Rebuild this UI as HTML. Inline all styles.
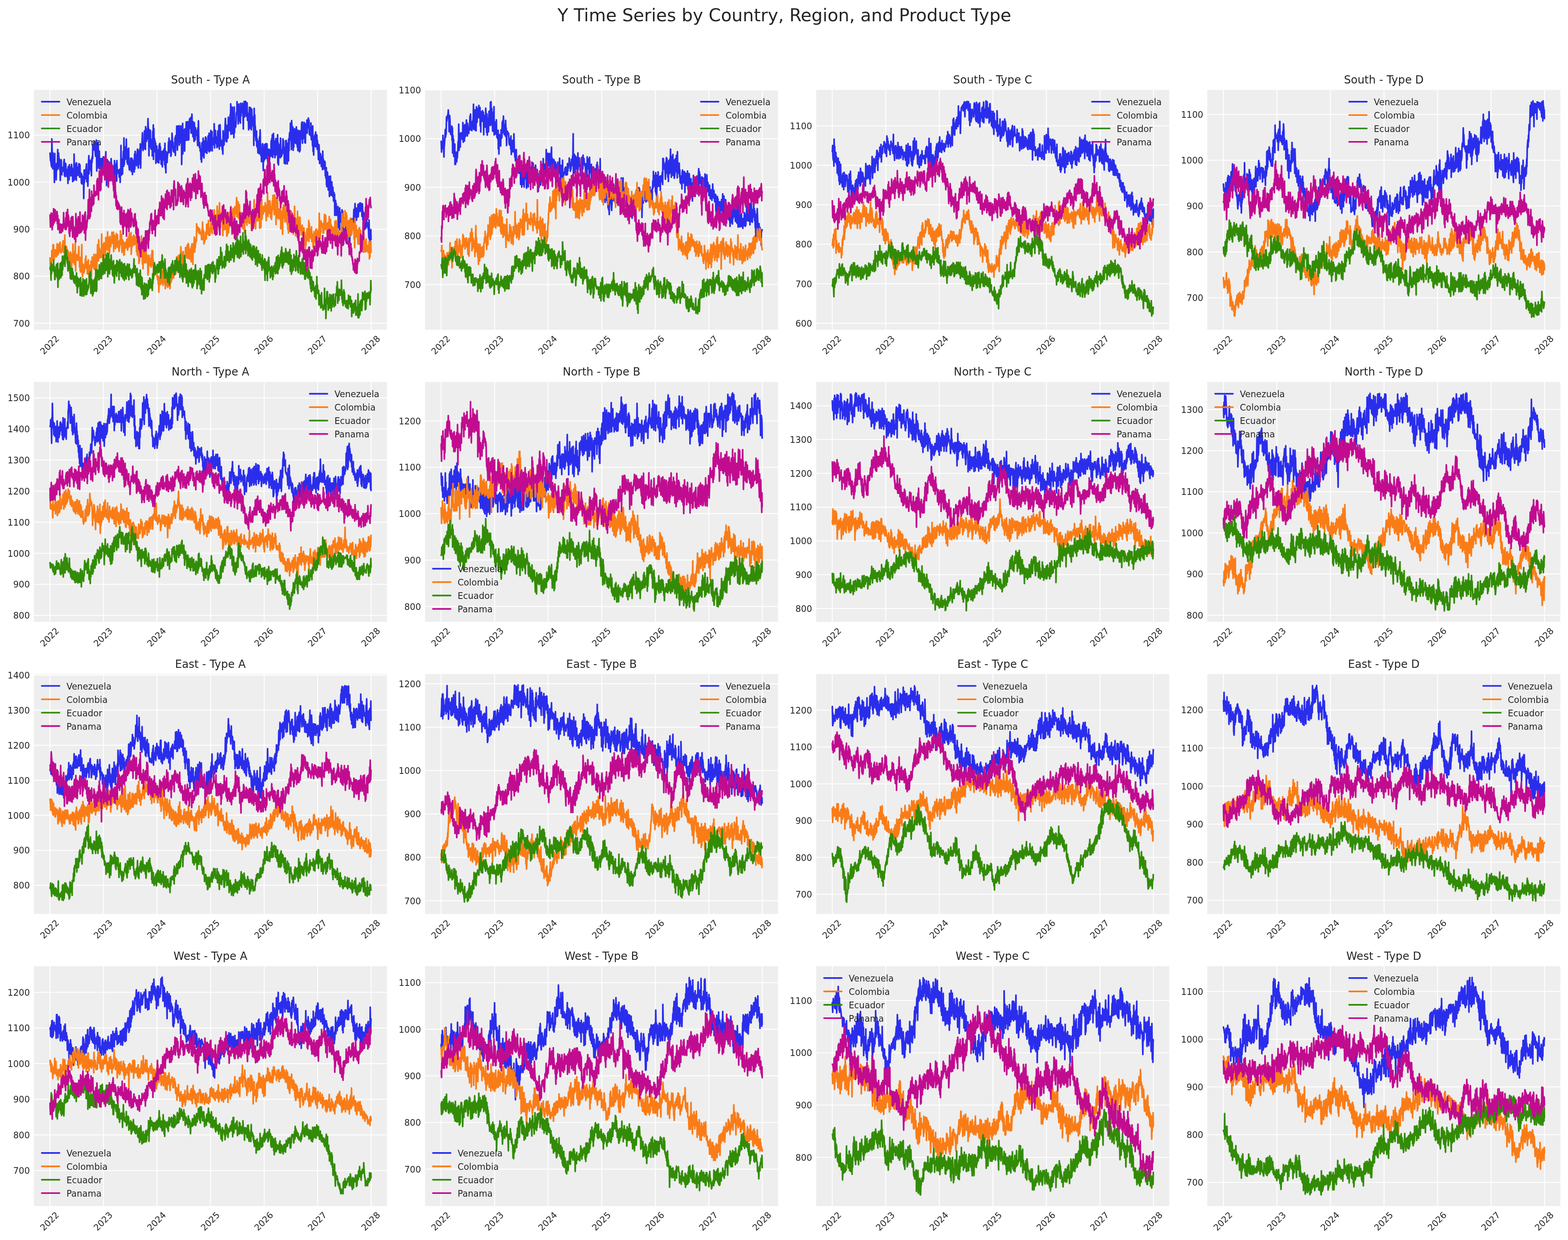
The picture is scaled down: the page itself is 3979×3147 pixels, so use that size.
<!DOCTYPE html><html><head><meta charset="utf-8"><title>Y Time Series by Country, Region, and Product Type</title>
<style>html,body{margin:0;padding:0;background:#fff}svg{display:block}text{font-family:'DejaVu Sans','Liberation Sans',sans-serif;fill:#262626}.t8{font-size:22.222px}.t10{font-size:27.778px}.t16{font-size:44.444px}.g{stroke:#fff;stroke-width:2.222;fill:none}.s{fill:none;stroke-width:8.333;stroke-linejoin:round;stroke-linecap:round}.h{fill:none;stroke-width:4.167;stroke-linecap:round}.e{text-anchor:end}.m{text-anchor:middle}</style></head><body>
<svg xmlns="http://www.w3.org/2000/svg" width="3979" height="3147" viewBox="0 0 3979 3147">
<rect width="3979" height="3147" fill="#fff"/>
<text class="t16 m" x="1990.5" y="53.9">Y Time Series by Country, Region, and Product Type</text>
<g>
<rect x="86.00" y="228.00" width="895.85" height="608.85" fill="#eeeeee"/>
<path class="g" d="M126.87 228.00v608.85M262.65 228.00v608.85M398.44 228.00v608.85M534.59 228.00v608.85M670.38 228.00v608.85M806.16 228.00v608.85M941.94 228.00v608.85M86.00 820.06h895.85M86.00 700.79h895.85M86.00 581.53h895.85M86.00 462.26h895.85M86.00 343.00h895.85"/>
<g transform="translate(86.00 228.00) scale(.5)">
<path class="s" stroke="#2a2eec" d="M82 321l2 38 1-8 2 20 1 9 2 11 1-142 2 85 1 32 2 35 1-81 1 59 2-2 1 16 2-27 1 104 2-147 1 122 2-47 1 10 2-21 1 70 2-83 1 32 2 0 1-12 2-91 1 97 2-64 1-16 2 32 1-3 2 2 1 54 2-19 1 74 2-103 1 13 2-15 1 48 2 28 1-24 2-14 1 22 2-15 1-2 2 4 1-37 2-12 1 83 2-20 1 24 1-36 2-31 1 7 2 49 1-14 2 25 1-36 2 21 1-19 2 69 1-85 2 60 1-8 2 14 1-76 2 36 1-11 2-11 1 5 2 38 1-9 2-50 1 11 2 11 1-2 2 68 1-54 2 48 1-27 2 27 1-134 2 120 1 8 2-8 1-56 2 38 1-52 2 83 1-89 2 25 1 19 1 5 2-26 1 42 2-34 1 20 2-46 1 37 2-36 1 67 2-62 1 54 2 8 1-12 2-8 1 50 2-44 1 49 2-18 1 16 2-36 1 35 2-19 1 96 2-145 1 65 2-42 1 23 2-11 1-36 2-1 1-8 2-21 1 89 2-38 1 42 2-23 1 43 2-77 1-39 2-39 1 92 2-70 1 17 1 15 2 10 1-35 2 46 1-50 2 77 1-86 2 19 1-30 2 10 1-70 2 27 1-14 2-15 1-13 2 28 1 14 2-18 1 23 2 26 1-51 2 38 1-69 2 157 1-66 2 52 1-122 2 93 1-103 2 83 1-8 2 58 1-88 2 77 1-32 2 47 1-25 2 10 1-39 2 70 1-70 1 33 2 0 1 29 2-25 1-42 2-4 1 75 2-23 1 17 2-58 1 59 2-34 1 10 2-72 1 129 2-42 1 85 2-131 1-1 2 22 1 51 2-65 1 87 2-38 1-3 2 31 1 12 2-64 1 48 2-52 1 38 2-72 1 19 2 12 1 13 2-5 1 49 2-42 1 25 2-3 1 1 2-29 1 89 1-119 2 96 1-70 2 79 1-75 2 6 1-20 2 88 1-104 2 59 1-4 2-2 1-5 2 17 1-4 2 4 1 19 2-39 1 17 2 49 1-70 2 23 1-141 2 151 1-6 2-8 1-32 2 40 1-77 2 0 1-38 2 76 1-144 2 134 1-58 2 35 1-28 2 24 1-62 2 49 1-88 1 89 2-40 1 69 2-60 1 70 2-49 1 1 2-34 1 86 2 17 1 8 2-34 1 11 2-8 1-29 2 14 1 53 2-44 1-23 2 6 1 77 2-58 1 12 2 2 1-23 2-6 1 60 2-91 1 77 2-91 1 70 2-29 1 26 2-17 1 23 2-60 1-2 2-22 1 18 2 20 1 58 2-87 1 69 1-52 2 43 1-69 2 69 1-96 2 123 1-72 2-35 1-4 2 5 1-31 2-42 1 56 2 34 1-37 2-7 1 20 2 14 1-90 2 59 1-39 2 75 1-116 2 48 1 13 2 13 1-44 2 32 1-51 2-5 1-47 2 72 1-23 2 140 1-132 2 84 1-22 2-18 1-42 2 89 1-41 1 48 2-8 1 7 2-49 1 85 2-125 1 80 2-113 1 175 2-156 1 83 2-33 1 67 2-55 1 55 2-43 1 102 2-55 1 1 2-33 1 68 2-40 1 54 2-43 1-11 2-11 1 68 2-91 1 70 2-78 1 62 2-45 1 66 2-34 1 57 2-65 1 31 2-1 1 48 2-74 1 5 1-13 2 47 1-50 2 15 1-23 2 83 1-110 2 126 1-30 2 54 1-108 2 28 1-24 2 52 1-25 2-22 1-4 2 3 1-56 2 2 1-22 2 72 1-32 2-16 1-10 2 28 1 50 2-8 1-59 2 23 1-73 2 29 1 36 2-19 1 42 2 5 1-25 2 29 1 0 2-21 1-52 2 89 1-100 1 40 2-24 1 22 2-87 1 62 2 60 1-24 2-98 1 66 2-50 1 35 2-53 1 99 2-52 1 40 2-8 1-22 2-56 1 86 2-42 1 152 2-135 1 48 2-122 1 155 2-84 1-9 2-22 1 9 2-19 1 111 2-113 1 43 2-3 1 18 2-93 1 93 2-1 1-49 2 16 1 33 1-94 2 68 1-59 2 84 1-55 2-2 1-50 2 24 1-25 2 20 1-26 2 80 1-73 2 25 1-49 2 72 1-9 2 52 1-76 2 65 1 5 2 30 1-96 2 36 1 31 2 21 1-62 2 22 1-10 2 26 1-19 2 19 1 3 2 50 1-90 2 36 1-72 2 104 1 5 2 26 1-25 2 17 1 27 1-9 2 14 1 38 2-55 1 68 2-99 1 60 2-14 1 1 2-70 1 93 2-19 1 27 2-86 1 34 2 22 1-1 2-76 1 69 2-64 1 75 2-6 1 9 2-59 1 18 2 6 1-53 2 44 1 31 2-89 1 95 2-84 1 47 2 21 1 10 2-103 1 28 2-6 1 17 2-33 1 98 1-50 2-16 1 23 2 11 1-35 2 15 1-86 2 123 1-69 2 24 1-45 2 44 1-12 2 37 1-12 2 31 1-47 2 44 1-81 2 77 1-60 2 19 1-65 2 121 1-83 2 47 1-88 2 90 1 17 2 0 1-29 2 19 1 6 2 25 1-9 2 30 1-118 2 75 1-60 2 56 1-16 1-3 2-47 1-17 2-51 1 39 2-6 1 83 2-76 1 79 2-46 1 17 2-57 1 67 2-106 1 66 2-7 1-29 2-3 1 42 2-82 1 80 2-135 1 155 2-104 1 52 2-87 1 133 2-131 1 135 2-111 1 66 2-66 1 130 2-156 1 131 2-54 1 12 2-3 1 16 2-25 1-42 2-9 1 7 1-60 2 61 1-22 2 31 1 43 2-77 1-24 2 86 1-48 2 41 1-19 2 37 1-101 2 65 1-50 2 19 1 2 2 6 1-42 2 51 1 3 2 77 1-124 2 49 1-65 2 79 1-62 2-6 1-12 2 42 1-39 2 73 1-24 2-41 1-3 2 89 1-37 2 19 1 1 2 65 1-73 1 26 2-68 1 87 2-50 1 71 2-105 1 43 2 3 1 66 2-105 1 46 2 11 1-5 2-13 1 49 2-5 1 101 2-188 1 135 2-102 1 49 2 14 1 45 2 23 1-22 2-27 1 77 2-38 1 44 2-24 1 52 2-60 1 54 2-55 1 65 2-85 1 58 2-94 1 36 2 93 1-11 2-11 1 55 1-51 2 47 1-85 2-2 1 10 2 125 1-108 2 62 1-69 2 61 1-78 2 74 1-48 2-25 1-5 2 72 1 1 2-21 1-51 2 75 1 6 2 19 1-67 2 11 1-17 2 87 1-19 2-45 1 17 2-37 1 0 2 30 1-75 2 78 1-89 2 24 1-44 2 115 1-55 2-19 1-48 1 63 2 12 1 33 2-69 1 85 2-87 1 77 2-88 1 57 2-24 1 48 2-66 1 63 2-97 1 144 2-103 1 112 2-101 1 32 2 26 1-18 2-43 1 68 2-100 1 96 2-34 1 32 2-35 1 27 2-25 1 15 2-72 1 57 2-48 1 63 2-30 1 82 2-58 1-3 2-19 1 83 1-118 2 65 1-66 2 47 1-14 2 86 1-96 2 47 1-57 2 91 1-112 2 60 1-59 2-33 1 12 2 26 1-86 2 72 1-6 2 68 1-147 2 36 1 14 2 6 1-24 2 119 1-35 2 18 1-60 2-24 1-9 2 53 1-11 2 32 1-57 2 25 1-51 2 87 1-25 2 40 1-86 2 105 1-99 1 87 2-8 1-15 2-67 1 108 2-81 1 75 2-78 1-2 2-24 1 45 2-83 1 65 2-69 1 108 2-65 1 23 2-32 1 50 2-82 1 81 2-77 1 99 2-33 1 35 2-96 1 40 2-33 1 1 2-29 1 67 2-64 1 37 2-18 1-32 2 48 1-38 2 71 1 4 2-2 1-26 1 2 2 32 1-66 2 85 1-56 2 31 1-12 2 68 1-101 2 130 1-72 2 90 1-95 2 29 1-31 2 47 1-55 2 63 1-75 2 74 1-50 2 20 1-29 2 73 1-45 2 28 1-10 2 79 1-63 2-12 1 22 2 73 1-35 2 18 1-34 2 10 1 12 2 44 1-49 2 25 1-1 2 41 1-94 1 40 2 0 1 30 2 14 1 7 2-23 1-17 2 9 1 65 2-40 1 53 2-54 1 84 2 13 1-22 2-53 1 20 2 7 1 65 2-62 1 10 2-18 1 102 2-24 1-5 2-74 1 64 2-31 1 64 2-60 1-8 2 48 1 24 2-45 1 14 2 37 1 20 2-44 1 34 2-25 1 107 1-38 2 4 1-42 2 75 1-60 2 61 1-42 2 39 1-10 2 12 1-44 2 108 1-42 2 19 1-31 2 65 1-112 2 74 1-24 2 21 1-38 2 14 1-24 2 98 1-111 2 66 1-59 2 106 1-20 2 38 1-17 2 13 1-23 2 28 1-34 2 33 1-55 2 24 1 66 2 4 1-102 1 41 2-24 1 17 2 33 1 3 2 6 1 2 2-18 1 89 2-29 1-77 2-17 1 34 2-50 1 47 2-79 1 66 2-51 1 3 2 8 1-7 2-22 1 15 2-60 1 65 2-59 1 11 2-47 1 79 2-52 1-4 2 11 1 51 2-61 1 47 2-13 1-16 2-38 1 63 2-34 1-10 2-18 1 14 1-21 2 42 1-29 2-14 1 39 2 0 1-34 2 33 1 30 2-64 1 26 2 57 1-43 2 33 1-20 2-5 1 59 2 24 1-67 2 45 1 3 2 12 1-87 2 13 1 41 2 24 1-16 2-2 1 19 2 11 1-1 2 48 1-91 2 99 1 0 2 10 1-46 2 3 1-18 1 51"/>
<path class="s" stroke="#fa7c17" d="M82 853l2 48 1-31 2 19 1-16 2-6 1-52 2 32 1-3 2 18 1-76 1 79 2-78 1 61 2 14 1-13 2-8 1-23 2-6 1 14 2-3 1 24 2-3 1-22 2-41 1 48 2-7 1 16 2-52 1 45 2-9 1-14 2-28 1 24 2-31 1 34 2 16 1 4 2-3 1-14 2 7 1-10 2-21 1 16 2-36 1 57 2-38 1 17 2-10 1 39 2-94 1 112 1-40 2 36 1-47 2 56 1-60 2 67 1-6 2-45 1 40 2 41 1-72 2 44 1-36 2 28 1-8 2 82 1-90 2 28 1-44 2 37 1 4 2 41 1-21 2-12 1-38 2 41 1-92 2 71 1 14 2-17 1 18 2 16 1-63 2 3 1-50 2 145 1-66 2 7 1-22 2 25 1-28 1 12 2 17 1-2 2-15 1-6 2-47 1 63 2 12 1 30 2-34 1 53 2-69 1 75 2-68 1 25 2-97 1 124 2 24 1 16 2-64 1 25 2-17 1 37 2-31 1 25 2-39 1 17 2-44 1 38 2-53 1 59 2 6 1-21 2-15 1 62 2-44 1 34 2-61 1 73 2-39 1 58 2-30 1 0 1-34 2 22 1-24 2 17 1-37 2 81 1-68 2 19 1-53 2 15 1-6 2 26 1-17 2 39 1-70 2 76 1-53 2 51 1-5 2 0 1-69 2 53 1-16 2 49 1-64 2 7 1-78 2 82 1-24 2 24 1-107 2 81 1-39 2 10 1-1 2 41 1-38 2-1 1 12 2-6 1-88 1 118 2-54 1 24 2 3 1 69 2-110 1 90 2-96 1 42 2-19 1 26 2-27 1 45 2-94 1 59 2 4 1-52 2 38 1 5 2-82 1 48 2 48 1-49 2-18 1 47 2-1 1 32 2-84 1 15 2 19 1 18 2-32 1 12 2-11 1-42 2 23 1 33 2-47 1 37 2-47 1 99 2-84 1 49 1-27 2 2 1-20 2 65 1-40 2 23 1-60 2 60 1-33 2 42 1-63 2 64 1-25 2-5 1 12 2 39 1-12 2-11 1-33 2 23 1-71 2 54 1-32 2 37 1-40 2 90 1-27 2 6 1-42 2 43 1-34 2 68 1-49 2 47 1-57 2-4 1 28 2-5 1-23 2 23 1 1 1-30 2-12 1 37 2 18 1-1 2-18 1-45 2-1 1 49 2-69 1 68 2-41 1 16 2 13 1 5 2-64 1 110 2-49 1 15 2-53 1 39 2-9 1 10 2-46 1 48 2-53 1 40 2-27 1 12 2 16 1 7 2-41 1 39 2-27 1 65 2-71 1 83 2 7 1-2 2-46 1 53 2-74 1 110 1-87 2 77 1-91 2 69 1-56 2 38 1-37 2 38 1-91 2 108 1-53 2 88 1-61 2 85 1-97 2 44 1-71 2 93 1-26 2 0 1-57 2 84 1-49 2 17 1-20 2 37 1-24 2 39 1-1 2 10 1 54 2-22 1-79 2 32 1-31 2 51 1-37 2 36 1-25 2 26 1-4 1 12 2-64 1 45 2-66 1 69 2-66 1 74 2-26 1 75 2-31 1-23 2-10 1 24 2 7 1 22 2-9 1-9 2-12 1 27 2-12 1 30 2 9 1 10 2-17 1 39 2-40 1 81 2-51 1-10 2-1 1-9 2 32 1-5 2-2 1-36 2-33 1 43 2 22 1 3 2-44 1 56 1-76 2 27 1-39 2 60 1 1 2 19 1-54 2 79 1-30 2-36 1-2 2 52 1-13 2 1 1-36 2 57 1-62 2 55 1-69 2 10 1-29 2 92 1-87 2 97 1-56 2 17 1 9 2-7 1-21 2 14 1-21 2-29 1-15 2 17 1-4 2 43 1-26 2 2 1-44 2 19 1-23 2 32 1-50 1 68 2-55 1-3 2-29 1 42 2-29 1 29 2-34 1 39 2-54 1 62 2-53 1 78 2-54 1 2 2-19 1-6 2-54 1 43 2 21 1-36 2 4 1 62 2-58 1 36 2-47 1 56 2-3 1 15 2-24 1 7 2-25 1 8 2-55 1 53 2-38 1 20 2-13 1-22 2-14 1 69 1-12 2-40 1-23 2 18 1 23 2 38 1-51 2 18 1-17 2 25 1-13 2 52 1-77 2 63 1-77 2 42 1-33 2 95 1-82 2-16 1-10 2 19 1-50 2 77 1-48 2 25 1-18 2-12 1-19 2 14 1-86 2 36 1-8 2-1 1-11 2 13 1 7 2 10 1-23 2 20 1-18 2 27 1-2 1-1 2-7 1 2 2 1 1 35 2-51 1 51 2-89 1 61 2-25 1 52 2-42 1 65 2-18 1 9 2-12 1-11 2-5 1-22 2-1 1 35 2-75 1 47 2-3 1 3 2-48 1 33 2-51 1 76 2-37 1 23 2-11 1 24 2-28 1-5 2-25 1-7 2-17 1 48 2 23 1 2 1-89 2 68 1-61 2 9 1 4 2-45 1-6 2 79 1-46 2 23 1-16 2 14 1-15 2 66 1-81 2 35 1-78 2 63 1-24 2 62 1-62 2 36 1-45 2-15 1-32 2 64 1-14 2 77 1-50 2 19 1-16 2 14 1 1 2 3 1-35 2 104 1-61 2-9 1-31 2 72 1-42 1 20 2-42 1 30 2 11 1 20 2-43 1 43 2-56 1 91 2-96 1 90 2-103 1 29 2-39 1 102 2-95 1 71 2-42 1-4 2-39 1 66 2-39 1-52 2 53 1 51 2-59 1 97 2-120 1 105 2-118 1 55 2 10 1-61 2 57 1 12 2-81 1 33 2-19 1 22 2-26 1-4 2-52 1 97 1-81 2 75 1-34 2 9 1-44 2 83 1-61 2 56 1-65 2 75 1-9 2 15 1 27 2 3 1-70 2 38 1-24 2 60 1 4 2-23 1-24 2 51 1-62 2 57 1-80 2 104 1-86 2 35 1-68 2 61 1-40 2 27 1-4 2 38 1-36 2 19 1-34 2 6 1 9 2 12 1-38 1 53 2-91 1 90 2-33 1 11 2-38 1 49 2-1 1 48 2-27 1-29 2-28 1 67 2-85 1 33 2-8 1 33 2-111 1 136 2-3 1-14 2-46 1 75 2-88 1 51 2-14 1-41 2-2 1 52 2-46 1 33 2-58 1 69 2-57 1 56 2-38 1 80 2-69 1 18 2-80 1 127 2-122 1 64 1-84 2 99 1-23 2-16 1-21 2 35 1-39 2 14 1-15 2 11 1 5 2 12 1-46 2 29 1-8 2 70 1-56 2-17 1-8 2 17 1-78 2 121 1-29 2 3 1-49 2 59 1-64 2 56 1-55 2 34 1 50 2-3 1-50 2 63 1-25 2-18 1-52 2 44 1-69 2-3 1 0 1 41 2-22 1 80 2-100 1 69 2-57 1 49 2-43 1 132 2-135 1 57 2-55 1 67 2-54 1 86 2-44 1 49 2-14 1-29 2-8 1 25 2 15 1 12 2-49 1 99 2-69 1-19 2-1 1 37 2-22 1 101 2-136 1 58 2-71 1 53 2-21 1-12 2-15 1 81 2-90 1 88 1-16 2-18 1-26 2 53 1-2 2 23 1-77 2 105 1-84 2 101 1-86 2 42 1-60 2 63 1-47 2 66 1-54 2 6 1-42 2 54 1-49 2 59 1-41 2 80 1-73 2 88 1-25 2 11 1-39 2 8 1-97 2 104 1-19 2 65 1-80 2 53 1-61 2 76 1-74 2 41 1-80 2 131 1-103 1 47 2-7 1 39 2 11 1 4 2-92 1 19 2 38 1-5 2 15 1-4 2 27 1-45 2-4 1 45 2-16 1 47 2-63 1 91 2-89 1 86 2-64 1 21 2 0 1 65 2-44 1 22 2-49 1 0 2-34 1 60 2-24 1-20 2-14 1 56 2-100 1 107 2-93 1 72 2-33 1 34 1-43 2 43 1-10 2 16 1-61 2 76 1-39 2 22 1-11 2 55 1-63 2 71 1-86 2 45 1-26 2 31 1-22 2 6 1-44 2 88 1-92 2 38 1-24 2 48 1-48 2-4 1 27 2 34 1-68 2 27 1-110 2 88 1 6 2 36 1-55 2 20 1-56 2 33 1-18 2-3 1 2 2 13 1-3 1 37 2-45 1 46 2-31 1-24 2-40 1 15 2 36 1 26 2-72 1 63 2-23 1 15 2-13 1 54 2-49 1 65 2-76 1 30 2-11 1 31 2-80 1 97 2-76 1 35 2-42 1 42 2-16 1 41 2-33 1 57 2-41 1 33 2-43 1 14 2-12 1 20 2 7 1-4 2 21 1-7 1-69 2 45 1-33 2 58 1-73 2 51 1-39 2 30 1 15 2 10 1-10 2 7 1-12 2 17 1 6 2-1 1 17 2-8 1-25 2 11 1-9 2-2 1-36 2 34 1-93 2 26 1 14 2 19 1-11 2 19 1-41 2-4 1 2 2 39 1-77 2 78 1-61 2 31 1-37 2 60 1-47 1 88 2-33 1 66 2-92 1 72 2-58 1 40 2-59 1 85 2-70 1 6 2-10 1-21 2 29 1 59 2-15 1 8 2-50 1-20 2 24 1 25 2-13 1-1 2-20 1 81 2-36 1 80 2-150 1 69 2-2 1 29 2-60 1 54 2-8 1 10 2-32 1 40 2 30 1-37 2-35 1 29 2-39 1 84 1-83 2 51 1-27 2-11 1 58 2 6 1 19 2-43 1 17 2 18 1-39 2 5 1-38 2 107 1-99 2 82 1-44 2 46 1 11 2 3 1-41 2 30 1-55 2 62 1-2 2 0 1-28 2 29 1-21 2 29 1-5 2 0 1-52 2 89 1-60 2 51 1-49 2 5 1-36 1 56"/>
<path class="s" stroke="#328c06" d="M82 903l2 12 1-18 2 69 1-88 2 55 1-44 2 28 1-29 2 28 1-16 1 0 2-35 1 56 2-18 1-6 2 66 1 0 2-51 1 9 2 17 1-36 2-16 1 60 2-45 1 55 2-76 1 122 2-90 1 31 2-27 1 47 2-22 1 9 2-68 1 50 2-53 1 75 2-77 1 44 2-49 1 70 2-98 1 69 2-28 1 2 2-36 1 18 2-28 1 41 2-29 1 43 1-101 2 64 1-10 2-8 1-27 2 38 1 11 2 17 1-30 2 69 1-10 2-4 1-24 2 9 1-18 2 43 1-20 2 63 1-8 2-20 1-25 2 57 1-4 2-3 1-48 2 51 1-34 2 25 1 15 2 12 1-32 2 25 1 13 2-4 1-20 2-6 1-7 2 50 1-66 2 42 1-13 1 72 2-78 1 53 2-23 1 3 2-25 1 36 2-29 1 16 2-24 1 85 2-91 1 69 2-23 1 44 2-34 1 38 2-69 1 16 2-35 1 22 2 35 1 31 2-44 1-10 2-28 1 69 2-33 1 39 2-63 1 56 2-74 1 79 2-23 1 7 2-6 1-3 2-22 1 15 2-20 1-9 2-45 1 41 1 1 2 3 1-54 2 110 1-32 2-20 1-21 2 74 1-66 2 78 1-76 2 66 1-53 2 4 1-23 2 59 1-37 2 2 1-35 2 66 1-108 2 75 1 37 2-10 1-96 2 31 1-33 2 23 1-3 2 9 1 21 2-40 1-37 2 71 1-55 2 34 1-10 2-19 1-31 2 80 1-77 1-2 2 23 1 35 2-23 1 23 2-99 1 89 2-16 1-51 2 11 1 61 2-59 1 29 2-50 1 65 2-80 1 47 2-42 1 49 2-63 1 121 2-84 1 37 2-70 1 66 2 36 1-4 2-64 1 46 2-52 1 31 2-53 1 21 2 36 1 17 2-38 1 65 2-45 1 51 2-78 1 58 2-33 1 88 1-23 2-55 1 9 2-7 1-16 2 47 1-10 2 21 1-80 2 54 1-50 2 46 1-38 2 10 1 1 2 75 1-93 2 33 1-42 2 66 1-34 2 13 1-3 2 42 1-71 2 74 1-42 2-24 1 24 2 52 1-73 2 38 1-28 2 71 1-85 2 46 1 7 2-4 1-17 2 46 1-64 1 46 2-33 1 6 2-31 1 54 2-6 1 16 2-42 1 58 2-79 1 31 2 2 1 12 2-20 1 32 2-28 1 5 2 13 1 22 2-9 1 4 2-41 1 23 2-15 1 2 2-60 1 45 2 9 1 16 2-35 1 19 2 2 1 33 2-17 1 60 2-72 1-11 2 70 1 17 2-55 1 48 2-3 1 14 1-66 2 54 1-45 2 40 1-66 2 89 1-9 2 17 1-63 2 91 1-86 2 53 1-8 2-5 1 16 2 52 1-61 2 33 1-53 2 79 1-5 2 1 1-43 2 2 1-30 2 12 1-9 2 60 1 1 2-24 1-5 2 21 1-73 2 46 1-9 2-14 1-36 2 50 1-13 2-30 1 34 1 10 2-29 1 19 2-5 1 27 2-85 1 49 2-50 1 27 2-69 1 54 2-65 1 36 2-26 1 48 2-35 1 11 2-10 1 24 2-31 1 7 2-17 1 24 2-22 1 40 2-34 1 32 2-53 1 44 2-23 1-3 2-16 1 80 2-66 1-19 2 12 1 18 2-62 1 67 2-33 1-3 1 17 2-6 1 9 2 41 1-35 2 61 1-97 2 60 1-13 2 23 1-14 2 39 1-17 2 5 1-12 2 47 1-26 2-27 1-20 2 38 1 14 2 33 1-90 2 36 1-11 2 29 1-29 2-12 1-26 2 44 1-48 2 36 1-50 2 45 1 4 2-4 1-2 2 27 1-47 2 48 1-72 2 5 1-2 1 49 2-33 1 19 2-50 1 62 2-13 1-32 2 26 1 28 2-8 1-11 2-38 1 43 2-6 1 46 2-116 1 41 2 27 1 17 2-35 1 61 2-13 1 25 2-16 1 31 2-77 1-3 2-9 1 65 2-109 1 72 2-49 1 67 2-19 1 42 2-70 1 97 2-50 1 33 2-48 1 31 1-24 2 75 1-74 2 28 1-16 2 38 1-61 2 26 1 28 2 11 1-61 2 40 1-51 2 42 1 45 2 12 1-86 2 70 1 7 2-43 1-39 2 66 1-57 2 11 1-18 2 2 1-30 2 75 1-7 2-38 1 6 2 85 1-84 2 67 1-30 2-9 1-36 2 67 1-51 2 43 1-13 2 30 1-86 1 103 2-44 1 7 2-53 1 115 2-62 1 32 2-25 1 35 2-51 1 19 2-27 1 61 2-79 1 5 2 11 1-1 2-60 1 61 2-35 1 33 2-58 1 64 2-41 1 46 2-76 1 32 2-25 1 25 2-33 1 89 2-58 1 37 2-42 1-16 2-9 1 14 2 12 1 8 2-43 1 53 1-49 2 50 1-59 2 45 1 3 2-18 1 11 2-23 1 12 2 73 1-62 2 42 1-44 2-4 1-2 2-30 1-15 2 37 1-25 2 62 1-1 2-34 1-53 2 60 1-58 2 34 1-17 2 24 1-90 2 49 1-9 2 35 1-50 2 80 1-34 2 3 1 9 2 13 1-17 2-4 1-29 1 57 2-26 1 19 2-18 1 15 2-76 1 48 2-81 1 82 2-27 1-9 2-36 1 71 2-41 1 30 2-33 1 53 2-13 1-18 2-22 1 23 2-55 1 75 2-60 1 28 2-11 1 6 2-15 1 40 2-75 1 18 2-2 1 79 2-24 1-8 2-36 1 21 2-42 1 24 2-33 1 61 2-29 1 1 1-77 2 120 1-70 2 17 1-34 2 81 1-27 2 38 1 0 2-22 1-66 2 54 1-78 2 103 1-46 2 23 1-40 2 26 1 6 2-40 1-49 2 108 1-65 2 6 1 20 2-7 1 23 2-23 1-76 2 119 1-90 2 69 1-49 2 40 1-20 2 36 1-45 2 70 1-57 2-23 1 31 1 39 2-54 1 52 2 18 1-35 2-27 1 45 2-30 1 55 2-33 1 23 2 18 1-38 2-34 1 58 2-47 1 40 2-49 1 8 2 26 1 28 2-47 1 78 2-53 1 1 2-37 1 70 2-32 1 59 2-74 1 41 2-46 1 58 2 3 1-33 2 34 1-3 2-42 1 39 2-18 1 33 2-20 1 2 1 20 2 26 1-77 2 40 1 8 2 16 1-34 2 38 1-19 2 28 1-58 2 110 1-104 2 44 1-10 2 18 1-5 2 26 1-62 2 94 1-48 2 4 1-57 2-4 1-13 2 51 1 14 2-1 1-6 2 46 1-53 2 3 1 8 2 33 1-50 2 12 1-6 2 62 1-47 2 33 1-43 1 13 2-26 1 14 2-5 1 21 2-46 1 56 2-36 1 1 2-49 1 80 2-82 1 37 2-27 1 76 2-93 1 73 2-50 1 44 2-55 1 44 2-28 1 12 2-46 1 18 2-36 1 29 2-47 1 97 2-61 1 70 2-77 1 65 2-6 1-6 2-11 1-12 2-28 1 45 2-49 1 46 1-65 2 58 1-45 2 57 1-36 2 20 1-33 2 49 1-35 2 44 1-62 2 55 1-31 2 34 1-71 2 110 1-45 2 8 1-44 2 97 1-64 2 53 1-62 2 46 1-22 2 29 1-56 2 19 1-43 2 60 1-22 2 24 1-52 2 73 1-38 2 7 1-71 2 74 1-24 2-14 1 64 2-3 1-63 1 77 2-88 1 46 2-14 1 29 2-25 1 2 2 57 1-6 2-53 1 0 2 56 1-32 2-41 1 43 2-47 1 81 2-46 1 37 2-46 1-4 2 37 1 47 2-64 1 63 2-32 1-1 2-21 1 28 2-18 1 30 2-35 1 44 2-54 1 52 2-5 1-32 2 25 1 22 2-35 1 59 1-38 2 60 1-21 2 36 1-75 2 70 1-52 2 43 1-32 2 16 1-20 2 44 1-16 2 21 1-5 2 33 1-20 2-19 1-17 2 67 1-51 2 4 1-67 2 82 1-39 2 43 1-7 2-2 1-7 2 74 1-56 2 33 1-25 2 28 1-28 2 63 1-48 2 18 1-47 2 73 1-12 2 8 1 2 1 17 2-8 1 2 2-20 1 21 2-106 1 95 2-41 1 38 2-20 1 82 2-81 1-7 2-49 1 60 2-59 1 46 2 9 1 38 2-54 1-8 2 3 1 49 2-70 1 52 2-6 1-19 2 26 1 31 2-81 1 51 2 10 1-16 2-30 1 21 2-40 1 22 2 23 1 19 2-31 1 9 1 4 2 11 1-58 2 2 1-2 2 6 1-44 2 47 1-71 2 109 1-75 2 28 1-1 2 34 1-38 2-18 1 0 2 29 1-11 2 8 1-2 2 6 1-77 2 96 1-40 2 58 1-28 2 43 1-67 2 53 1-66 2 70 1-59 2 46 1 3 2-5 1 29 2 2 1-5 2 8 1 3 1-38 2 7 1 30 2-12 1 17 2-69 1 46 2-14 1-25 2 6 1-3 2-3 1 53 2-13 1-4 2-17 1 83 2-47 1 26 2-44 1 34 2-9 1 22 2-12 1-21 2-19 1 39 2-7 1 7 2-52 1 75 2-42 1 29 2 12 1-22 2 4 1 24 2-112 1 121 2-63 1 63 2-20 1 4 1-54 2 56 1-70 2 14 1-15 2 10 1-16 2 55 1-17 2-16 1-60 2 38 1-5 2-18 1 22 2-16 1-19 2 15 1-23 2 94 1-84 2 80 1-68 2 30 1-8 2-25 1-10 2 27 1-11 2-3 1-10 2 23 1-31 2 15 1-12 2 62 1-51 2-12 1-60 1 51"/>
<path class="s" stroke="#c10c90" d="M82 635l2 62 1-49 2 35 1-58 2 19 1 28 2 38 1-33 2-25 1-25 1 60 2-84 1 68 2 4 1-17 2-50 1 32 2-29 1 54 2-22 1-16 2 21 1 3 2-33 1 62 2-43 1 72 2-19 1 11 2-43 1 47 2-20 1 41 2 0 1-41 2-4 1 44 2-35 1 34 2-40 1 26 2-7 1 14 2-36 1 22 2-80 1 58 2 16 1-16 2-1 1-5 1 34 2-50 1-11 2 60 1-86 2 75 1-59 2 53 1-84 2 77 1-49 2 10 1 9 2 76 1-54 2 68 1-64 2 38 1-53 2 39 1-55 2 40 1 16 2-62 1 68 2 37 1-104 2 93 1-45 2 19 1-14 2 60 1-41 2 36 1-8 2 28 1-144 2 117 1-91 2 89 1-11 1 12 2-29 1 20 2-91 1 45 2-13 1 49 2-68 1 71 2-108 1 91 2-38 1 51 2-50 1 45 2-30 1 26 2-36 1-43 2 41 1 30 2-48 1-6 2-12 1 86 2-98 1 46 2-55 1 143 2-93 1 42 2-48 1 37 2-35 1 5 2-34 1 15 2-95 1 97 2-66 1 35 2-117 1 147 1-75 2 65 1-95 2 12 1 7 2 50 1-103 2 63 1-44 2 27 1 27 2-54 1 2 2 44 1-95 2 52 1-20 2 10 1 13 2-2 1-8 2-14 1 5 2 13 1-73 2 20 1-30 2 39 1-20 2 89 1-77 2 26 1-96 2 2 1 20 2 79 1-62 2 57 1-114 2 29 1 47 1-53 2 0 1 16 2-30 1 14 2-35 1 26 2-62 1 92 2-33 1 53 2-120 1 61 2-61 1 73 2-45 1 88 2-61 1-18 2-2 1 35 2 22 1 65 2-123 1 56 2-60 1 83 2-74 1 86 2-28 1-11 2-47 1 61 2 15 1 9 2-35 1 29 2-70 1 95 2 8 1 25 2-56 1 90 1-110 2 46 1-50 2 93 1-7 2 69 1-52 2 40 1 27 2-11 1-28 2 43 1-5 2-29 1 23 2-14 1 4 2 20 1-14 2 82 1-54 2 63 1-82 2 65 1-71 2 44 1-6 2 66 1-73 2 106 1-33 2-18 1-69 2 80 1-64 2 47 1-43 2 33 1-12 2 45 1-68 1 113 2-77 1-16 2-29 1 43 2-56 1 90 2-69 1 91 2-106 1 53 2-28 1 0 2-35 1 93 2-7 1 0 2-65 1 19 2 8 1 13 2-10 1 6 2 32 1 1 2-2 1-29 2-32 1 33 2-35 1 59 2-29 1 69 2-58 1 66 2-40 1 55 2-46 1 70 2-68 1 50 2 19 1 34 1-65 2 29 1 23 2 27 1-35 2 58 1-35 2-26 1-12 2 23 1-17 2 26 1-28 2-12 1-9 2 7 1-14 2 69 1-47 2-18 1 14 2-9 1-43 2 102 1-21 2-21 1-9 2-51 1 1 2 13 1-6 2 80 1-91 2 51 1-54 2 18 1-55 2 12 1-22 2 0 1-31 1 26 2-30 1 86 2-27 1 43 2-68 1 17 2 0 1 4 2 27 1-38 2-9 1 16 2-68 1 131 2-102 1 34 2-6 1 20 2-46 1 39 2-43 1 17 2-20 1 5 2-33 1 72 2-67 1 3 2-44 1 67 2-26 1 10 2-39 1 56 2-100 1 46 2 10 1 8 2-50 1 97 1-99 2 71 1-43 2 79 1-78 2 18 1-41 2 2 1-30 2 69 1-51 2 54 1-87 2 93 1-97 2 20 1 10 2 42 1-45 2 27 1-43 2 24 1-4 2 58 1-38 2 31 1-38 2 37 1-82 2 54 1-48 2 54 1-13 2-30 1-18 2 100 1-120 2-26 1 28 2 44 1-24 2 28 1-34 1 83 2-27 1 10 2 4 1 11 2-10 1-13 2-93 1 95 2-72 1 34 2-48 1 32 2-19 1 49 2-47 1 74 2-70 1 71 2-81 1 74 2-61 1 53 2 13 1 2 2-9 1 23 2-72 1 34 2 3 1 1 2-27 1 18 2-20 1 74 2-111 1 97 2-104 1 37 2 24 1-45 1-41 2 144 1-97 2 49 1-67 2 4 1 0 2 29 1-39 2 88 1-81 2 45 1-46 2 69 1-51 2 13 1-62 2 60 1-15 2 2 1-65 2 87 1-59 2-8 1 23 2 25 1-72 2 126 1-87 2 14 1-4 2 19 1-38 2 71 1-43 2-2 1-70 2 80 1-61 2 74 1-25 2-42 1 6 1 32 2 0 1 69 2-24 1 4 2-50 1 45 2-2 1 19 2 33 1 10 2-13 1 33 2-75 1 48 2-52 1 54 2 12 1-15 2-36 1 29 2 8 1 3 2 21 1-15 2 24 1 6 2 11 1 16 2 1 1-14 2-9 1 18 2-26 1 57 2-28 1-19 2 0 1 16 2-24 1 48 1-30 2 54 1-6 2-37 1 9 2 56 1-39 2 64 1-81 2 44 1-56 2 100 1-46 2 11 1-7 2 38 1-67 2 11 1 6 2 4 1-50 2 40 1 3 2 31 1-3 2 28 1-103 2 6 1 29 2-16 1-5 2 10 1-33 2 2 1-35 2 21 1-2 2 70 1-96 2 58 1-8 1-1 2 9 1-8 2-25 1 38 2 7 1-9 2-9 1 40 2-17 1-37 2 25 1 22 2-25 1 9 2 16 1-3 2-5 1 25 2-31 1 29 2-88 1 94 2-66 1 63 2-42 1 85 2-53 1 32 2-36 1 16 2 7 1 33 2-72 1 96 2-99 1 41 2 65 1-36 2-12 1 27 2-73 1 44 1-26 2 41 1-41 2 51 1-31 2 6 1-24 2 23 1 3 2 12 1-99 2 68 1-20 2 5 1-39 2 52 1-33 2 14 1-46 2 6 1-2 2 44 1-22 2-45 1-27 2 14 1 5 2 54 1-43 2 38 1-136 2 106 1-99 2 116 1-78 2 23 1 5 2 18 1 2 2 37 1-46 1 38 2-32 1 26 2-62 1 58 2-8 1 12 2 2 1 21 2-2 1 65 2-96 1-10 2 14 1 82 2-74 1 47 2-11 1-45 2-12 1 42 2-47 1 38 2-6 1-14 2-42 1 33 2-80 1 90 2-49 1-20 2-51 1 15 2 32 1 97 2-149 1 79 2-15 1-16 2-68 1 83 2-48 1 32 1-21 2-12 1 1 2-3 1 11 2-58 1-9 2 74 1-72 2 11 1-58 2-4 1 49 2 32 1-18 2-21 1 0 2 76 1-135 2 75 1-84 2 100 1-141 2 125 1-73 2 71 1-48 2 58 1-102 2 59 1 25 2-32 1 5 2 24 1 14 2-20 1-34 2 9 1 5 2 43 1-24 1 44 2-109 1 44 2 10 1 47 2 38 1-59 2 36 1 17 2-40 1 59 2-58 1 79 2-55 1 43 2-77 1 54 2-18 1 36 2-26 1 53 2-19 1 3 2 54 1-24 2 3 1-1 2-61 1 37 2 15 1-23 2-34 1 52 2-32 1 13 2-57 1 82 2-1 1 5 2-1 1 15 1-44 2 27 1-57 2 37 1-12 2 78 1-50 2 52 1-54 2 72 1-56 2 93 1-35 2 22 1-48 2 106 1-46 2 5 1-25 2 71 1-85 2 31 1-41 2 42 1-33 2 87 1-41 2 19 1 4 2 11 1-68 2 66 1-4 2 12 1-20 2 23 1-7 2 3 1-35 2 47 1 15 2-33 1 48 1-50 2 27 1 34 2 11 1 60 2-74 1 48 2-3 1-35 2 15 1 5 2-49 1 60 2-31 1 44 2-26 1-31 2-47 1 133 2 5 1-32 2-16 1 16 2-13 1 47 2-38 1 94 2-83 1 31 2-54 1 34 2 2 1 50 2-66 1 10 2-42 1 47 2-49 1 47 2 2 1 58 1-77 2 20 1-26 2 80 1-57 2 62 1-94 2 8 1 51 2-6 1-18 2-8 1 1 2-47 1 31 2 16 1-24 2 0 1-11 2 5 1-65 2 75 1-32 2 9 1 44 2-5 1-69 2 45 1-36 2 24 1-48 2 34 1 7 2-27 1 10 2-4 1 6 2 28 1-16 2 37 1-34 2 9 1-63 1 88 2-51 1 52 2-29 1 27 2-57 1 27 2-46 1 81 2-16 1 4 2-17 1 18 2-73 1 34 2-67 1 81 2-64 1-3 2-19 1 52 2-31 1 12 2 17 1-49 2 68 1-32 2 12 1-24 2 0 1 13 2-5 1 61 2-71 1 21 2-2 1-4 2 0 1 16 2-20 1 6 1-12 2 50 1-25 2 30 1-48 2 27 1-9 2 32 1-57 2 99 1-70 2 27 1-40 2 15 1-22 2-4 1 25 2 9 1-36 2 39 1-47 2 110 1-60 2-58 1 16 2 38 1-36 2 46 1-65 2 59 1-78 2 45 1-7 2-8 1 4 2 20 1 6 2-55 1 12 2 19 1-5 1 30 2 4 1 12 2-12 1 13 2-16 1 32 2-22 1 59 2-68 1 35 2-18 1 30 2-34 1 62 2-39 1 45 2-2 1 19 2-5 1 25 2-5 1 34 2-22 1-6 2-6 1 44 2-65 1 67 2-25 1 27 2 3 1-66 2 37 1 27 2-75 1 28 2-15 1 0 2-7 1 1 2 7 1-44 1-2 2 6 1-8 2-4 1-84 2 64 1-41 2 65 1-12 2-45 1-24 2 6 1-78 2 91 1-66 2-20 1-8 2-17 1 10 2 12 1-74 2 1 1-45 2 69 1-38 2 74 1-39 2 40 1-66 2 56 1-60 2 11 1-20 2-23 1 11 2 13 1-34 2 41 1 0 1 11"/>
</g>
<path class="h" stroke="#2a2eec" d="M106.00 258.05h44.9"/>
<text class="t8" x="168.72" y="266.95">Venezuela</text>
<path class="h" stroke="#fa7c17" d="M106.00 292.03h44.9"/>
<text class="t8" x="168.72" y="300.93">Colombia</text>
<path class="h" stroke="#328c06" d="M106.00 326.01h44.9"/>
<text class="t8" x="168.72" y="334.91">Ecuador</text>
<path class="h" stroke="#c10c90" d="M106.00 359.99h44.9"/>
<text class="t8" x="168.72" y="368.89">Panama</text>
<text class="t10 m" x="533.92" y="212.10">South - Type A</text>
<text class="t8 e" x="75.80" y="828.50">700</text>
<text class="t8 e" x="75.80" y="709.23">800</text>
<text class="t8 e" x="75.80" y="589.97">900</text>
<text class="t8 e" x="75.80" y="470.70">1000</text>
<text class="t8 e" x="75.80" y="351.44">1100</text>
<text class="t8" transform="translate(111.22 901.05) rotate(-45)">2022</text>
<text class="t8" transform="translate(247.00 901.05) rotate(-45)">2023</text>
<text class="t8" transform="translate(382.79 901.05) rotate(-45)">2024</text>
<text class="t8" transform="translate(518.94 901.05) rotate(-45)">2025</text>
<text class="t8" transform="translate(654.73 901.05) rotate(-45)">2026</text>
<text class="t8" transform="translate(790.51 901.05) rotate(-45)">2027</text>
<text class="t8" transform="translate(926.29 901.05) rotate(-45)">2028</text>
</g>
<g>
<rect x="1078.55" y="228.00" width="895.85" height="608.85" fill="#eeeeee"/>
<path class="g" d="M1119.42 228.00v608.85M1255.20 228.00v608.85M1390.99 228.00v608.85M1527.14 228.00v608.85M1662.93 228.00v608.85M1798.71 228.00v608.85M1934.49 228.00v608.85M1078.55 722.20h895.85M1078.55 598.75h895.85M1078.55 475.30h895.85M1078.55 351.85h895.85M1078.55 228.40h895.85"/>
<g transform="translate(1078.55 228.00) scale(.5)">
<path class="s" stroke="#2a2eec" d="M82 261l2 55 1-51 2 34 1-21 2 6 1-53 2 68 1-18 2 60 1-47 1-11 2-28 1-13 2-41 1 40 2-32 1 18 2-90 1 23 2-11 1-10 2-12 1 9 2-34 1 26 2 8 1 76 2-60 1-22 2 32 1 53 2 5 1 7 2-36 1 12 2-19 1 71 2-63 1 129 2-89 1 64 2-45 1 87 2-25 1 9 2-47 1 104 2-47 1 46 2-62 1 27 1-5 2 27 1-48 2 29 1-20 2-30 1-34 2 26 1-114 2 133 1-75 2 26 1 11 2 22 1-72 2 7 1 1 2 18 1-27 2 21 1 13 2-10 1-76 2 100 1-58 2 15 1-40 2 77 1-83 2 63 1-26 2 21 1-43 2-3 1-36 2 43 1-26 2 64 1-64 2 40 1-18 1 0 2 29 1-25 2-4 1-3 2-56 1 70 2-80 1 61 2-11 1 31 2-42 1 45 2-44 1 6 2-16 1 20 2-100 1 127 2-72 1 36 2-62 1 102 2-83 1 40 2-61 1 108 2-122 1 60 2 19 1-24 2-44 1 42 2-45 1 15 2-30 1 63 2-47 1 39 2-45 1 94 2-74 1 105 1-102 2 24 1-11 2 35 1-18 2-36 1 9 2 3 1-4 2 114 1-99 2 46 1-34 2 36 1-45 2 58 1-97 2 45 1 4 2 76 1-96 2 108 1-85 2 22 1 18 2 28 1-60 2-44 1 23 2-25 1 10 2 64 1-118 2 52 1-55 2 117 1-84 2 23 1 32 2 62 1-94 1 24 2-2 1 18 2-71 1 144 2-46 1-20 2 28 1 33 2-41 1 25 2-56 1 59 2 29 1 2 2-15 1 22 2-44 1 95 2-49 1 75 2-99 1 29 2-18 1 32 2-4 1 19 2-82 1 40 2 2 1-4 2-78 1 55 2-63 1 62 2-84 1 38 2 11 1 45 2-26 1-25 2 12 1 47 1-80 2 65 1-26 2 89 1-68 2 9 1-14 2 10 1-3 2 11 1-8 2 40 1 14 2 5 1-32 2 35 1-26 2 45 1-67 2 94 1-28 2-2 1-34 2 47 1-55 2 59 1-16 2 7 1-83 2 71 1 10 2 38 1-11 2 29 1-53 2 2 1-6 2 117 1-57 2 38 1-46 1 46 2-38 1 43 2-20 1 38 2-30 1 5 2-14 1 23 2-27 1 99 2-82 1 46 2 1 1 49 2-99 1 46 2 7 1 32 2-31 1-18 2-43 1 106 2-80 1 39 2-21 1 6 2 7 1 3 2-36 1 87 2-18 1-30 2-32 1 36 2-91 1 129 2-136 1 87 2 2 1-59 2 82 1-44 1 13 2-16 1-22 2-6 1 32 2-21 1-38 2 24 1-6 2 59 1-35 2-10 1-5 2 0 1 28 2 62 1-50 2 25 1-77 2 42 1 7 2 13 1-10 2 39 1-45 2 34 1-37 2 90 1-50 2 24 1 6 2-15 1-10 2 13 1-31 2 30 1-47 2 29 1-6 2-39 1 28 1-48 2-2 1 17 2-65 1 99 2-51 1 32 2-45 1-7 2 17 1-11 2 8 1 48 2-136 1 24 2 10 1 40 2-37 1 38 2-56 1 65 2-48 1 19 2-30 1 39 2-44 1 80 2-55 1 39 2-45 1-12 2-39 1 100 2 6 1-50 2 41 1 22 2-19 1-3 2-34 1 42 1-36 2 50 1-11 2 28 1-60 2 19 1 6 2 35 1-47 2 51 1 52 2-56 1-60 2 88 1-46 2 14 1-12 2-7 1-57 2 76 1-14 2 52 1-60 2 26 1-44 2 63 1 29 2-10 1-108 2 161 1-68 2-18 1-1 2-2 1-12 2 0 1-18 2 17 1-24 2 41 1-22 2 20 1-38 1 5 2 33 1-57 2 38 1-12 2-3 1-18 2-4 1-29 2 38 1-1 2-10 1 40 2-40 1 30 2-50 1 2 2 29 1-14 2-34 1 36 2-149 1 206 2-77 1 70 2-95 1 72 2-11 1 31 2-83 1 68 2-17 1 12 2-51 1-5 2 1 1 80 2-104 1 87 2-63 1 14 1 28 2-40 1 41 2-6 1 6 2 50 1-48 2 27 1-37 2 77 1-114 2 93 1-68 2 34 1-70 2 30 1-14 2 2 1 25 2 9 1-10 2 14 1 6 2 53 1-26 2-45 1 6 2 65 1-106 2 20 1 40 2-27 1-22 2 30 1-9 2 82 1-112 2 78 1-14 2 14 1-38 2 32 1-36 1 75 2-11 1-4 2-7 1-38 2 53 1-1 2-52 1 54 2 14 1-26 2-7 1-22 2-5 1 66 2 4 1-8 2-83 1 84 2-96 1 95 2-64 1 57 2-16 1 31 2-63 1 50 2-43 1 55 2-121 1 116 2-32 1 25 2-17 1 33 2-26 1 30 2-63 1 72 2-51 1 72 1-45 2 78 1-32 2 19 1 8 2 35 1-49 2 34 1-7 2-33 1-37 2 83 1-48 2 60 1-17 2 43 1-71 2 81 1-45 2 68 1-153 2 80 1-26 2 38 1-39 2 42 1 10 2 27 1-24 2-31 1-56 2 49 1 3 2 7 1-82 2 72 1-14 2 31 1-78 2 61 1 0 1 16 2-62 1 44 2-45 1 71 2-90 1 68 2-31 1 65 2-108 1 86 2-37 1 36 2-55 1 0 2 8 1-12 2 41 1 16 2-114 1 57 2-18 1 24 2-14 1 47 2-96 1 141 2-60 1 30 2-60 1 66 2-50 1 78 2-48 1 8 2-48 1 18 2 11 1 0 2-20 1 53 2-37 1-4 1-9 2 50 1-30 2 31 1-17 2 15 1 29 2 13 1-44 2 13 1-20 2 74 1-56 2 78 1-34 2 0 1-79 2 77 1-70 2 53 1-64 2 35 1-12 2 12 1-30 2 45 1-13 2-24 1-39 2 87 1-65 2 35 1-22 2 45 1-83 2 8 1-18 2 56 1-53 2 23 1 12 1 39 2-3 1 3 2-35 1 57 2-53 1 106 2-100 1 23 2-23 1 27 2-21 1 4 2-62 1 65 2-11 1-31 2-14 1 28 2 36 1-16 2-42 1 53 2-16 1 3 2-71 1 72 2-27 1 20 2 2 1-13 2-28 1 85 2-98 1 64 2-30 1 23 2-15 1 45 2-73 1 62 2-70 1-1 1-36 2 35 1-83 2 75 1-29 2 19 1-44 2 29 1-10 2 64 1-98 2 110 1-47 2 66 1-115 2 59 1-36 2 5 1-46 2 73 1-27 2 16 1-33 2 46 1-52 2 71 1-70 2 2 1-6 2 10 1-9 2 31 1-49 2 61 1-132 2 49 1-48 2 40 1-10 2 24 1-26 1 17 2 33 1 27 2-88 1 58 2-80 1 79 2-74 1 60 2 2 1 31 2-47 1 70 2-106 1 69 2-66 1 4 2-15 1 71 2-121 1 101 2-44 1 86 2-106 1 68 2-64 1 59 2-73 1 107 2-71 1 51 2-58 1 92 2-16 1-3 2-80 1 57 2-17 1 25 2-83 1 48 1-21 2 88 1-133 2 104 1-11 2 10 1-25 2 33 1-53 2 70 1-36 2 65 1-36 2 25 1 16 2-33 1 2 2 58 1-84 2-12 1 56 2 7 1-55 2 58 1-40 2 28 1-46 2 106 1-41 2-15 1-41 2 52 1-33 2 42 1-60 2 56 1-69 2 66 1 27 2 1 1-81 2 48 1-47 1 26 2 80 1-27 2-8 1 27 2-73 1 52 2-30 1 26 2 47 1 18 2-92 1 66 2-104 1 103 2-60 1 62 2-54 1 17 2 39 1-62 2-37 1 58 2-25 1 30 2-39 1 37 2-41 1 33 2-48 1-2 2-45 1 85 2-71 1 35 2-21 1 20 2 4 1 25 2-32 1 36 1-31 2 31 1-39 2 60 1-38 2 64 1-80 2 40 1 18 2-11 1-42 2 18 1-44 2 101 1-81 2 47 1-20 2 49 1-92 2 39 1 29 2 16 1-45 2 37 1-18 2 48 1-29 2-24 1 16 2 41 1 12 2-27 1-19 2 11 1-1 2 44 1-38 2 1 1-46 2 70 1-39 2 34 1-33 1 13 2 31 1 14 2-34 1 25 2-28 1 84 2-51 1 74 2-84 1-13 2 1 1 94 2-83 1 53 2-14 1-6 2-17 1 25 2-26 1 67 2-60 1 39 2-30 1 16 2-43 1 55 2-31 1-9 2-44 1 88 2-73 1 122 2-126 1 87 2-70 1 80 2-26 1-14 2-38 1 70 1-49 2 35 1-16 2 52 1-55 2 5 1 6 2 51 1-16 2-12 1-28 2 63 1-31 2 60 1-35 2 18 1-59 2 54 1-38 2-6 1-18 2 72 1-52 2 25 1-59 2 35 1-26 2 40 1-7 2 8 1-39 2 61 1-36 2-34 1 4 2 72 1-101 2 106 1-59 2 48 1-48 1 78 2-123 1 36 2 15 1 65 2-56 1 62 2-11 1-19 2-27 1-12 2 6 1 61 2-24 1 12 2-29 1 50 2-33 1-5 2 9 1-4 2-47 1 66 2-51 1 55 2-60 1 55 2-37 1-9 2-58 1 31 2-14 1 63 2-32 1 13 2-31 1 52 2-46 1-17 2-26 1 108 2-86 1 39 1-13 2 43 1-91 2 66 1-37 2 66 1-26 2-20 1-16 2 20 1-51 2 68 1-45 2 63 1-51 2 85 1-32 2 77 1-52 2 6 1-68 2 62 1-89 2 51 1 33 2 54 1-48 2 38 1-52 2 44 1-12 2-13 1 6 2 45 1-4 2 44 1-63 2-11 1-3 1-2"/>
<path class="s" stroke="#fa7c17" d="M82 819l2-7 1-23 2 65 1-22 2 33 1-21 2-7 1-21 2 68 1-28 1 25 2-43 1 36 2-27 1 34 2-4 1-26 2-7 1 41 2-58 1 67 2-16 1-45 2 23 1 33 2-64 1 31 2-6 1 16 2-90 1 71 2-33 1 9 2-8 1 33 2 0 1 55 2-95 1 26 2-30 1 40 2-21 1 11 2-36 1 11 2-15 1 49 2-74 1 69 2-55 1 38 1-37 2 52 1-79 2 46 1 9 2 29 1-47 2 18 1-18 2 26 1-62 2 46 1-39 2 65 1-46 2 69 1-29 2-7 1-7 2 28 1-49 2 12 1-67 2 60 1-53 2 44 1-6 2 12 1-36 2 53 1-32 2 19 1-18 2 20 1-46 2 16 1 22 2 4 1-3 2 45 1-63 1 16 2-33 1 89 2-58 1-10 2-4 1-4 2-42 1 22 2-24 1 3 2-22 1 112 2-92 1 82 2-55 1 8 2 3 1 34 2-11 1-13 2 11 1 62 2-96 1 15 2-76 1 79 2-18 1 72 2-2 1-10 2 20 1 19 2-67 1 104 2-48 1 30 2-48 1 49 2-85 1 42 2-27 1 52 1-52 2 23 1 8 2 8 1 9 2-40 1-12 2 53 1-41 2 32 1-62 2-3 1-24 2 24 1-56 2 49 1-3 2 14 1-10 2 42 1-65 2 33 1-48 2 57 1-101 2 57 1-34 2-13 1-8 2 23 1-65 2 112 1-7 2-32 1-8 2 25 1-100 2 94 1-53 2 8 1-3 1 17 2-68 1 14 2-5 1-2 2-5 1 61 2-53 1 54 2 6 1-16 2-81 1 71 2-48 1 33 2-15 1 46 2-34 1 11 2-8 1 25 2-74 1 81 2-53 1 42 2-10 1 49 2-107 1 118 2-6 1-23 2-56 1 59 2-6 1 50 2-56 1 15 2-26 1 57 2-53 1 48 2-48 1 45 1-12 2 81 1-68 2 28 1-104 2 94 1-29 2 42 1-26 2 15 1 8 2 9 1-4 2-23 1-58 2 58 1-38 2 10 1-18 2 84 1-61 2 51 1-15 2-4 1-26 2 60 1-91 2 49 1-19 2 4 1-25 2-1 1-84 2 113 1-54 2 44 1-4 2 34 1-40 2-24 1 2 1 54 2-37 1-9 2-21 1 84 2-59 1 50 2-44 1 15 2-66 1 43 2-25 1 25 2-26 1 9 2-23 1 77 2-94 1 1 2-36 1 130 2-96 1 94 2-71 1 8 2-44 1 38 2-28 1 27 2-89 1 89 2-34 1 6 2-5 1 77 2-46 1-7 2-1 1 2 2 1 1 22 2-25 1 7 1-10 2 33 1-61 2 42 1-17 2 7 1 12 2 5 1 1 2 41 1-83 2 55 1-42 2 25 1-43 2 40 1 14 2-11 1 18 2-19 1 22 2 15 1-57 2 77 1-168 2 122 1-3 2 20 1-27 2 34 1-31 2 2 1-8 2 72 1-93 2 50 1 25 2 42 1-100 2 70 1-36 1 44 2-87 1 59 2-33 1 60 2-19 1 66 2-98 1 64 2-72 1 94 2-38 1 41 2 5 1-47 2-18 1 49 2-47 1 30 2-77 1 11 2-59 1-3 2-45 1 40 2-28 1-45 2 26 1 48 2-44 1 37 2-4 1-19 2 14 1-14 2-31 1-41 2-3 1 83 2-52 1-25 1-10 2 38 1-43 2 103 1-80 2 127 1-151 2 60 1-87 2 62 1-26 2 1 1-44 2 53 1-33 2 44 1-9 2 39 1-67 2 29 1-5 2-41 1 21 2 20 1-30 2 59 1-99 2 100 1-56 2 33 1 0 2-29 1-54 2 115 1-58 2 33 1-28 2 78 1-118 2 41 1 1 2 15 1-9 1-20 2 64 1-21 2-37 1 49 2-81 1 40 2-38 1 79 2-46 1 49 2-26 1 7 2-22 1 26 2-33 1 48 2-19 1 64 2-90 1 74 2-32 1 60 2-21 1 21 2 2 1-34 2 4 1-5 2 18 1 55 2-39 1 25 2-112 1 95 2 15 1 16 2-64 1 27 2-49 1 64 1-16 2 43 1-61 2 33 1-74 2 40 1-9 2 17 1-40 2 40 1 13 2 26 1-79 2 61 1-42 2 17 1 4 2 20 1-107 2 84 1-65 2 59 1-34 2 5 1 10 2 17 1 9 2 11 1-45 2 38 1-77 2 84 1-51 2 31 1-12 2 29 1-91 2 65 1-63 2 44 1-7 2-40 1-31 1 60 2-26 1-19 2 14 1 23 2-68 1 32 2-30 1 68 2-78 1 75 2-4 1-39 2-18 1 3 2-21 1 46 2-42 1-7 2 18 1 4 2-56 1 64 2 0 1 32 2-40 1 56 2 22 1 6 2-64 1 33 2-51 1 62 2 17 1-57 2-61 1 131 2-80 1 40 2-34 1 89 1-68 2-26 1 3 2 28 1-62 2 91 1-62 2 20 1-44 2 56 1-23 2 12 1-35 2 64 1-30 2 75 1-106 2 90 1-104 2 42 1 14 2 8 1-33 2 60 1-50 2 41 1-24 2 3 1-20 2 34 1-47 2 64 1-29 2-26 1-7 2 20 1-19 2 53 1-46 2 73 1-76 1 99 2-118 1 44 2-11 1 3 2-16 1 48 2-19 1-15 2 18 1 32 2-46 1 10 2-62 1 120 2-56 1 31 2-42 1-6 2-55 1 116 2-38 1 14 2-27 1 26 2-21 1-8 2 14 1 29 2-29 1 58 2-51 1 5 2-71 1 59 2-63 1 88 2-83 1 105 2-84 1 78 2-21 1 14 1-66 2 49 1-19 2 9 1 7 2 41 1-35 2 5 1-14 2 27 1-16 2 44 1-82 2 65 1-27 2 61 1-18 2 35 1-97 2 52 1-5 2-1 1-9 2 5 1-51 2 67 1-79 2 70 1 18 2-34 1-97 2 106 1 12 2-26 1-60 2 63 1-25 2 73 1-77 2 54 1-72 1 88 2-90 1 82 2-63 1 3 2-24 1 22 2-18 1 7 2 3 1-45 2 7 1 68 2-106 1 48 2-54 1 55 2-2 1 11 2-38 1 84 2-107 1 68 2 27 1-77 2 83 1 2 2 14 1-29 2-84 1 108 2-59 1 95 2-75 1 71 2-67 1 29 2 8 1 8 2 8 1 3 2-9 1 24 1-35 2 9 1 29 2 33 1-14 2 5 1-48 2 3 1-5 2 9 1 14 2-6 1-36 2-11 1 11 2 46 1-69 2 87 1-49 2 31 1-13 2 45 1-47 2 18 1-28 2-9 1-19 2 59 1-91 2 78 1-53 2 79 1-41 2 8 1-14 2 47 1 26 2-55 1-5 2 63 1-37 1 9 2-51 1 132 2-117 1 76 2-17 1 5 2-24 1 26 2-81 1 68 2 18 1-30 2-31 1-38 2 79 1-9 2-6 1 54 2-77 1 28 2-37 1-29 2 20 1 28 2-70 1 101 2-18 1-6 2-28 1 53 2-12 1-7 2-10 1 24 2-65 1 66 2 10 1 48 2-17 1 1 1 63 2 8 1-41 2 34 1-37 2 53 1 53 2-22 1-18 2-12 1 15 2 28 1-4 2 10 1-39 2 49 1-76 2 50 1 9 2-2 1 37 2-11 1-46 2 29 1 11 2-26 1 4 2 39 1-34 2 15 1-44 2 15 1 55 2-21 1-52 2 87 1-74 2 16 1-73 2 98 1-76 2 51 1-21 1-9 2-17 1 61 2-42 1 28 2-68 1 44 2 9 1-49 2 56 1-7 2-20 1 0 2-4 1 27 2 10 1-9 2-18 1 50 2-49 1 32 2 9 1 31 2-61 1 49 2-64 1 29 2 9 1 8 2 1 1 31 2-61 1 58 2-73 1 47 2-38 1 46 2-25 1 27 2-17 1-2 1-16 2 50 1-5 2 5 1-9 2 37 1-28 2 39 1-42 2 18 1-67 2 72 1-48 2 45 1-18 2 69 1-62 2 26 1-44 2 43 1-48 2 19 1-31 2 89 1-64 2 45 1-29 2 16 1-42 2 54 1-73 2 40 1-64 2 117 1-103 2 74 1-67 2 46 1-66 2 50 1-17 2-44 1 9 1 49 2-45 1 77 2-69 1 47 2-49 1 55 2-39 1 42 2-96 1 114 2-123 1 63 2 2 1 6 2 32 1-25 2-38 1 34 2-36 1 33 2-20 1 8 2-35 1 139 2-99 1 12 2-57 1 37 2-47 1 65 2-68 1 80 2-54 1 62 2-12 1 30 2-21 1 5 2-44 1 38 1-65 2 58 1-22 2-3 1 17 2 24 1-59 2 51 1-15 2-25 1-3 2 44 1-31 2 70 1-65 2 23 1-79 2 62 1-47 2 45 1-8 2-5 1 1 2 38 1-17 2 62 1-74 2 13 1-10 2 30 1-57 2 33 1 31 2-14 1-43 2 36 1-9 2 38 1-61 2 22 1-86 1 72 2-2 1 18 2-14 1 52 2-34 1 18 2-20 1-9 2-37 1 82 2-6 1-28 2-13 1 66 2-69 1 51 2-67 1 75 2-43 1 32 2-22 1 24 2-58 1 62 2-78 1 46 2-18 1 23 2 3 1-13 2 24 1 8 2-55 1 38 2-24 1 21 2-63 1 52 2-19 1 41 2-63 1 28 1-38 2 20 1 38 2-60 1 10 2 38 1-53 2 22 1-43 2 79 1-34 2 15 1-69 2 61 1-56 2 58 1-47 2-7 1 13 2 7 1-20 2 18 1-57 2-5 1 15 2 26 1-23 2 13 1-4 2 29 1-61 2 44 1-37 2 47 1 4 2 15 1-20 2 44 1 5 1 7"/>
<path class="s" stroke="#328c06" d="M82 888l2 8 1 11 2-53 1 30 2 68 1-51 2-36 1 32 2 33 1-6 1-73 2 15 1 33 2-35 1 66 2-79 1 53 2-38 1 77 2-55 1-10 2-21 1 22 2-38 1 14 2-6 1 7 2-13 1 19 2-12 1-21 2 22 1 1 2-19 1 6 2-39 1 66 2-42 1 47 2-46 1 31 2-34 1 5 2-17 1 12 2 11 1 1 2-12 1 46 2-17 1 22 1-22 2 38 1-43 2-2 1 0 2 48 1-30 2-16 1 2 2 12 1-12 2 56 1-4 2-13 1-5 2 4 1 2 2 31 1-49 2 21 1 1 2 14 1-61 2 52 1-35 2 19 1-8 2 30 1-34 2 56 1-45 2 70 1-50 2 14 1-22 2 54 1-61 2 75 1-33 2 52 1-74 1 41 2-47 1 13 2-14 1 39 2 5 1-16 2-24 1 29 2 9 1 40 2-43 1 32 2-7 1 4 2-30 1 59 2-16 1 12 2-22 1 3 2-16 1 36 2-21 1-17 2 8 1 12 2-16 1 17 2-1 1 0 2 14 1 35 2-63 1 7 2-5 1 45 2-34 1-2 2-32 1 69 2-37 1 54 1-70 2 56 1-49 2 46 1-61 2 60 1-50 2 23 1-49 2 24 1-18 2 21 1-72 2 71 1-21 2 6 1-35 2 75 1-80 2 67 1-41 2 49 1-65 2 63 1-36 2 34 1-7 2 14 1-19 2 38 1-54 2 61 1-24 2-19 1-15 2 52 1-69 2 63 1-22 2 8 1-21 1 27 2-20 1 14 2 17 1 41 2-53 1 2 2-14 1 8 2-15 1 18 2-29 1 34 2-6 1-15 2-26 1 3 2-10 1 79 2-40 1 58 2-55 1 28 2-7 1-18 2-7 1 16 2-43 1 28 2-10 1 32 2-6 1 8 2-8 1 3 2-31 1 43 2-49 1 34 2-42 1 73 2-73 1 51 1-11 2-40 1 23 2 39 1-27 2 18 1-59 2 67 1-42 2-20 1 2 2 61 1-48 2 10 1-29 2 16 1-1 2 5 1 0 2 17 1-48 2-35 1 13 2 51 1-66 2 55 1-55 2 15 1-4 2 14 1-22 2-6 1-46 2 14 1 12 2 33 1-33 2-31 1 6 2 46 1-13 1-6 2-9 1 33 2-40 1 66 2-22 1 8 2-50 1 52 2-27 1-5 2-5 1 60 2-50 1 27 2-45 1 60 2-30 1-8 2 6 1-35 2-27 1 58 2-17 1-22 2-23 1 63 2-62 1 78 2-82 1 66 2-47 1 9 2-31 1 73 2-97 1 60 2-30 1 52 2-60 1 76 2-75 1 43 1-54 2 30 1-30 2 49 1 18 2-50 1 18 2 74 1-59 2-35 1 32 2-4 1-10 2-15 1 8 2 45 1-65 2 13 1-32 2 26 1-56 2 72 1-30 2 12 1-49 2 51 1-51 2 61 1-82 2 64 1-48 2 74 1-76 2 73 1-39 2 32 1-50 2 59 1-33 2 31 1-78 1 3 2 0 1 60 2-26 1-17 2 13 1-14 2-30 1 50 2-22 1 54 2-17 1-9 2-20 1 38 2-30 1 25 2-33 1 37 2 10 1 27 2-73 1 81 2-41 1-2 2-16 1 48 2-35 1 28 2-11 1-12 2-19 1 88 2-88 1 41 2 27 1 15 2-72 1 48 2-38 1 79 1-91 2 73 1-21 2-32 1 9 2 47 1-46 2 7 1 21 2 32 1-53 2 17 1-37 2-2 1-5 2 11 1-19 2 27 1 5 2 1 1 1 2 49 1-59 2 28 1-22 2 37 1-40 2 14 1-88 2 46 1 48 2-42 1 36 2-30 1 34 2-13 1-35 2 98 1-37 2 27 1-24 2 62 1-26 1-26 2-21 1 35 2-7 1 7 2-33 1 47 2-15 1 28 2-9 1 17 2-73 1 84 2-13 1 21 2-17 1 36 2-16 1 16 2 1 1-27 2-23 1 28 2-52 1 42 2-4 1 5 2-41 1 46 2-19 1 61 2-76 1 46 2-46 1 17 2-55 1 41 2-30 1 14 2 26 1 4 1-50 2 5 1-38 2 94 1-71 2 75 1-15 2 21 1-50 2 45 1-23 2-5 1-17 2 79 1-58 2 42 1-44 2 26 1-52 2 54 1 5 2-16 1-25 2 28 1 2 2 7 1-41 2 63 1-12 2 65 1-80 2 51 1-37 2 16 1-4 2 35 1-44 2 47 1-49 2 75 1-72 2 64 1-69 1 44 2-49 1-3 2-6 1 57 2-16 1 67 2-54 1 34 2-60 1-19 2 19 1 18 2-35 1 25 2 9 1 8 2 5 1 5 2-8 1 3 2-6 1 3 2-1 1 38 2-24 1 5 2-18 1 53 2-57 1 14 2-35 1 93 2-78 1 18 2-53 1 41 2-47 1 81 2-26 1 58 1-66 2 74 1-51 2 28 1-59 2 38 1 6 2-11 1-6 2 10 1-42 2 43 1 11 2 13 1-57 2 39 1-48 2 67 1-10 2-7 1-45 2 21 1-25 2 37 1-15 2-10 1 4 2 3 1-30 2 31 1-37 2 48 1-57 2 13 1-47 2 83 1-44 2 52 1-35 2 56 1-43 1 25 2-2 1-34 2 31 1 2 2-36 1 16 2 34 1-31 2-5 1 46 2-3 1 3 2-44 1 34 2-44 1 45 2-4 1 19 2 9 1-14 2-71 1 94 2-46 1 76 2-86 1 4 2-12 1 37 2-66 1 54 2-46 1 48 2 0 1 15 2-60 1 65 2-29 1 49 2-90 1 119 2-67 1 57 1-27 2 15 1-31 2 15 1-28 2 47 1-20 2 11 1-35 2 28 1-4 2-21 1 1 2 5 1-8 2 19 1 1 2-20 1-24 2 35 1-32 2 55 1-40 2-4 1-48 2 62 1-18 2 64 1-84 2 52 1-33 2 93 1-92 2 111 1-96 2 5 1-54 2 66 1-11 2 33 1-62 1 41 2-56 1 15 2-1 1 46 2-29 1 10 2-34 1 40 2-29 1-22 2 25 1 17 2-69 1 34 2-11 1-16 2-23 1 54 2-22 1 16 2-63 1 56 2-16 1 18 2-49 1 68 2-46 1 10 2-11 1-38 2 36 1 6 2-26 1 28 2-14 1 6 2-11 1-10 2-3 1 5 2-34 1 34 1-30 2 4 1-19 2 77 1-20 2 53 1-51 2 31 1-46 2 29 1-9 2 24 1 13 2 36 1-65 2 26 1 20 2 15 1-69 2 71 1-50 2 66 1-70 2 51 1-43 2-2 1-16 2 27 1 0 2-5 1 14 2 47 1-10 2-4 1-31 2 39 1-62 2 42 1-75 2 58 1-59 1 56 2 34 1 14 2-50 1 23 2-38 1 18 2-47 1 23 2 1 1 12 2-25 1 18 2 20 1-9 2-25 1 57 2-13 1-12 2-28 1 76 2-62 1 62 2-13 1 15 2-22 1-12 2 15 1 31 2-35 1 37 2-40 1 47 2-29 1 3 2-10 1 8 2 0 1-5 2 1 1 31 1-28 2 6 1-49 2 53 1-32 2 12 1-41 2 45 1 7 2-34 1-18 2 81 1-29 2 4 1-18 2 16 1-25 2 12 1-70 2 75 1-14 2 16 1-63 2 66 1-14 2 16 1-3 2-16 1 16 2 2 1-11 2 54 1-40 2 53 1-45 2 17 1-31 2 25 1 11 2 38 1-37 2 36 1-61 1 29 2 11 1-14 2 1 1-14 2-29 1 53 2-39 1 15 2 12 1 24 2-4 1-2 2-22 1 32 2-11 1 12 2-4 1 0 2 3 1-8 2-50 1 76 2-34 1 17 2-13 1 6 2 13 1 14 2-35 1-10 2-29 1 35 2 27 1-13 2-77 1 22 2-34 1 12 2-22 1 43 1-25 2 8 1-8 2-13 1-50 2 85 1-44 2 1 1-49 2 89 1-64 2 37 1-41 2 29 1 3 2 7 1-46 2 71 1-54 2 32 1-62 2 35 1-17 2 47 1-49 2 62 1-75 2 22 1-24 2 27 1-27 2 4 1-2 2 11 1 15 2 40 1-24 2 18 1-72 2 64 1-90 2 64 1 13 1 29 2-67 1 50 2-18 1-12 2-28 1-3 2 5 1 0 2-17 1 37 2-38 1 37 2-15 1 25 2-71 1 69 2-34 1 66 2-35 1 7 2-1 1-11 2 5 1 16 2-2 1-28 2 13 1-2 2 28 1 17 2-49 1 20 2-13 1 21 2-14 1 52 2-22 1-20 2 6 1 31 1-43 2 24 1-13 2 14 1-31 2 31 1-42 2-4 1-29 2 54 1-56 2 52 1-21 2 2 1 12 2-40 1 29 2 24 1-46 2 45 1 0 2 13 1-50 2 55 1-46 2 5 1-11 2 30 1-13 2 38 1-63 2 68 1-60 2 31 1-32 2 78 1-92 2 93 1-37 2 20 1-56 1 39 2-32 1 66 2-105 1 75 2-66 1 65 2 11 1-30 2-12 1 16 2-48 1 84 2-69 1 13 2 13 1 3 2-68 1 93 2-36 1 23 2-28 1 33 2-42 1 54 2-48 1 30 2-24 1-1 2 21 1 13 2-39 1 15 2-38 1 20 2 14 1 16 2-21 1 33 2-13 1 27 2-61 1 36 1-19 2 18 1-39 2 31 1-79 2 62 1-40 2-15 1 35 2-4 1 15 2 25 1-78 2 61 1-27 2 20 1-22 2 24 1-20 2 16 1-56 2 43 1-46 2 25 1-2 2 34 1-48 2 29 1 21 2-24 1-22 2 32 1-58 2 19 1 2 2 60 1-32 2 31 1-47 1 70"/>
<path class="s" stroke="#c10c90" d="M82 750l2 23 1-82 2 12 1-86 2 13 1-39 2-4 1 19 2 53 1-58 1 19 2-9 1-7 2-18 1 33 2-15 1 42 2-16 1 2 2-31 1 15 2-17 1 20 2-1 1 50 2-77 1 49 2-44 1-2 2-22 1 64 2-67 1 62 2-24 1 20 2-44 1 69 2-42 1 15 2-30 1 53 2-52 1 53 2-123 1 80 2-59 1 72 2-62 1 71 2-47 1 21 1-22 2 42 1-54 2 89 1-79 2 56 1-24 2-13 1 11 2 8 1-50 2 29 1-43 2 79 1-72 2 32 1-42 2 26 1-23 2 17 1-21 2 22 1-42 2 50 1-24 2 11 1-43 2 29 1 6 2-10 1-48 2 98 1-113 2 26 1 32 2 33 1-57 2 15 1-47 2 97 1-82 1 72 2-63 1 22 2-64 1 85 2-47 1 27 2-3 1-24 2 7 1 8 2 29 1 8 2-22 1 30 2-79 1 34 2-26 1 44 2-63 1 74 2-24 1 14 2-16 1-4 2-86 1-30 2 28 1 88 2-31 1 24 2-38 1-12 2-22 1 19 2 47 1 19 2-106 1 95 2-70 1 27 2-40 1 30 1-82 2 25 1 29 2-45 1-29 2 73 1-33 2 23 1-40 2 58 1 0 2 12 1-21 2 32 1-49 2 80 1-28 2 21 1-79 2 75 1-101 2 42 1 6 2 65 1-25 2 3 1-12 2 48 1-75 2 72 1-75 2 31 1-19 2 22 1-41 2-1 1-22 2-9 1 42 2 21 1-65 1 31 2-26 1 53 2-47 1-13 2 6 1 32 2-63 1 54 2-69 1 98 2-69 1 83 2-25 1 38 2-93 1 110 2 0 1-12 2-15 1 26 2-80 1 54 2 12 1 32 2-39 1 53 2-47 1 3 2 5 1 50 2-67 1 45 2 20 1-77 2 27 1 36 2 19 1 1 2-4 1 43 2-76 1 100 1-50 2-8 1 3 2 28 1-64 2 56 1-44 2 103 1-118 2 51 1 33 2-34 1-21 2 12 1-97 2 53 1-5 2-15 1 0 2-35 1-10 2 51 1-90 2 39 1-60 2 39 1-36 2 36 1-25 2 82 1-67 2-9 1 22 2 10 1-33 2 49 1-84 2 75 1-78 2 27 1-2 1 36 2-69 1 20 2-34 1 48 2 3 1 27 2-82 1 45 2 7 1 28 2-33 1 9 2-29 1 22 2 4 1 54 2-53 1 55 2-2 1-73 2-49 1 112 2-79 1 90 2-63 1 38 2-31 1-6 2 19 1 20 2-48 1 17 2-28 1 38 2-25 1 30 2 32 1 40 2-134 1 79 2-57 1 60 1 14 2 70 1-99 2 63 1-51 2 9 1-21 2 4 1-9 2 97 1-127 2 56 1-2 2 49 1-80 2 87 1-63 2 12 1 4 2-28 1 11 2 42 1-5 2 19 1-70 2 114 1-83 2 44 1 16 2-10 1-31 2 14 1-56 2 19 1-19 2 36 1-85 2 106 1-68 2 10 1-34 1 72 2-58 1 95 2-75 1 26 2 12 1 29 2-70 1 94 2-35 1 34 2-26 1-1 2-16 1-1 2-94 1 109 2-73 1 103 2-108 1 106 2-76 1 13 2-11 1-26 2 25 1 26 2-28 1 39 2-36 1 2 2-46 1 11 2 38 1 60 2-85 1 37 2-66 1 56 2-25 1 26 1-27 2 33 1-36 2 43 1-30 2 80 1-93 2 36 1-34 2 43 1-5 2 8 1-69 2 106 1-31 2-4 1 9 2 50 1-66 2 21 1 19 2-9 1-8 2 34 1 1 2 37 1-42 2 89 1-27 2 9 1-1 2-42 1 20 2-17 1 22 2 3 1-24 2 10 1-53 2 73 1-57 2 50 1-49 1 30 2-54 1 76 2-35 1-42 2-11 1 27 2-14 1 11 2-40 1 144 2-51 1-41 2-18 1 54 2-106 1 69 2-23 1 3 2-18 1-37 2-2 1 15 2 32 1 12 2-41 1 28 2-28 1 13 2-48 1 47 2-25 1 66 2-63 1 104 2-63 1-74 2 22 1 48 2-33 1-15 1 29 2 12 1 17 2-17 1 12 2 62 1-75 2-24 1-94 2 121 1-65 2 74 1-39 2-3 1-1 2 5 1-17 2 81 1-69 2 28 1-18 2 74 1-106 2 85 1-64 2 119 1-98 2 51 1-37 2 9 1-21 2 35 1-59 2 38 1-9 2 23 1-32 2 56 1-35 2-14 1-6 2 44 1-4 1 5 2-20 1-8 2-26 1-7 2-46 1 14 2 70 1-58 2 67 1-60 2-13 1 29 2-20 1 44 2 2 1 50 2-77 1 27 2-57 1-8 2-15 1 19 2 11 1 84 2-45 1 18 2-33 1 11 2-7 1-9 2-23 1 60 2-48 1 42 2-8 1-14 2-26 1 42 2-30 1 38 1-39 2 67 1-65 2 69 1 0 2-24 1-4 2-29 1 26 2 5 1 4 2 17 1-31 2 16 1-48 2 78 1-21 2 21 1-14 2 49 1-63 2 19 1-63 2 48 1 7 2 18 1-47 2 51 1-31 2 20 1-58 2 69 1-36 2 45 1-9 2 1 1 8 2-9 1-18 2 11 1 7 1-14 2-75 1 99 2-38 1 38 2-2 1 44 2-114 1 130 2-91 1 74 2-68 1 56 2 0 1 35 2-66 1 109 2-77 1 26 2-25 1 72 2-22 1-48 2-8 1 69 2-10 1-37 2 61 1-23 2-79 1 83 2-1 1 32 2-40 1 24 2-26 1 43 2-108 1 97 2-9 1-51 2 3 1 83 1-22 2-49 1-2 2 91 1-60 2-2 1-30 2 55 1-59 2 61 1-93 2 73 1-60 2 20 1 22 2 31 1-57 2 26 1-47 2 67 1 6 2 11 1-51 2 75 1-23 2 10 1-46 2 105 1-32 2 46 1-50 2 91 1-81 2 29 1-40 2 58 1-73 2 65 1-48 2 32 1-27 1 24 2 5 1 5 2-26 1 26 2-41 1 53 2 10 1-14 2-46 1 81 2-41 1 74 2-38 1 10 2-43 1 40 2-84 1 114 2-50 1 0 2 2 1 38 2-27 1-26 2 15 1 45 2-31 1 64 2-60 1-9 2-17 1 54 2-21 1-36 2-3 1 25 2-22 1 9 2-9 1-55 2 22 1 52 1-72 2 29 1-49 2 28 1-1 2 1 1-24 2 51 1-41 2 32 1-43 2 42 1 11 2 4 1-43 2 21 1-24 2 29 1-45 2 56 1-37 2 35 1-28 2 26 1-24 2 85 1-70 2 25 1 11 2-35 1-3 2-1 1-54 2 78 1-100 2 86 1-59 2 25 1 20 2-2 1-35 1 59 2-9 1 6 2-30 1 41 2-22 1-10 2 38 1-53 2-22 1 132 2-102 1 42 2-43 1-21 2 45 1 10 2-43 1 46 2-35 1 25 2-29 1 17 2-6 1 8 2-56 1 35 2-71 1 18 2 29 1 23 2-41 1-11 2-20 1 67 2-17 1-10 2-17 1 13 2-67 1 65 1-44 2 128 1-81 2 73 1-78 2 34 1-44 2 68 1-52 2-17 1-36 2-1 1-7 2 15 1-4 2-10 1-55 2 33 1 6 2 52 1-62 2 24 1-3 2 37 1-54 2 13 1-7 2 33 1-44 2 26 1-40 2 21 1-25 2 86 1-72 2 12 1 1 2 10 1-43 2-13 1-34 2 100 1-75 1 54 2-54 1 44 2-68 1 42 2 8 1-10 2 17 1 2 2-36 1 3 2-27 1 34 2 13 1-39 2-54 1 77 2 23 1-48 2-19 1 15 2-32 1 56 2-30 1 35 2-81 1 91 2-65 1 57 2-19 1 15 2 16 1 6 2-53 1 45 2-35 1 28 2-5 1 3 2-33 1 93 1-37 2 91 1-140 2 69 1-50 2 47 1-106 2 89 1-52 2 51 1-48 2 44 1-25 2 51 1-11 2 59 1-116 2 87 1 10 2-7 1 15 2 69 1-88 2 95 1-107 2 50 1-55 2 72 1-24 2 58 1-20 2 11 1-17 2 44 1-70 2 18 1-21 2 56 1-93 2 126 1-47 2 39 1-41 1 15 2-18 1 41 2-52 1 37 2-21 1-8 2-31 1 80 2-49 1-21 2 29 1-29 2-14 1 33 2-54 1 79 2-39 1 78 2-34 1 27 2-79 1 35 2-19 1 23 2-32 1 29 2-47 1 56 2-43 1-2 2 21 1 35 2-35 1 38 2-60 1 6 2-66 1 47 2 28 1 50 1-118 2 104 1-68 2 10 1-25 2 59 1-66 2 42 1-57 2 63 1-62 2 70 1-6 2-56 1 18 2 44 1-24 2-13 1-19 2 25 1-50 2-14 1-16 2 11 1 44 2 12 1-41 2 27 1-5 2 12 1-43 2 59 1-62 2 13 1-16 2-3 1 16 2 50 1-106 2 77 1-88 1 80 2-9 1-14 2-49 1 112 2-51 1-3 2 5 1 61 2-64 1-20 2-17 1 28 2-47 1 79 2-64 1 107 2-80 1 12 2-112 1 108 2 0 1 21 2-55 1 67 2-79 1 89 2-51 1 25 2-47 1 57 2-53 1 31 2-20 1 89 2-139 1 44 2 5 1 13 2-6 1-14 2-48 1 75 1-38 2 58 1-71 2 63 1-1 2-6 1-38 2 31 1 3 2 28 1-26 2 24 1-83 2 37 1-7 2-9 1-4 2 58 1-62 2 48 1-49 2 29 1-22 2 57 1-47 2 16 1-35 2 14 1 24 2-30 1-19 2 41 1-22 2 10 1-16 2-28 1-7 2 87 1-40 1-6"/>
</g>
<path class="h" stroke="#2a2eec" d="M1778.48 258.05h44.9"/>
<text class="t8" x="1841.20" y="266.95">Venezuela</text>
<path class="h" stroke="#fa7c17" d="M1778.48 292.03h44.9"/>
<text class="t8" x="1841.20" y="300.93">Colombia</text>
<path class="h" stroke="#328c06" d="M1778.48 326.01h44.9"/>
<text class="t8" x="1841.20" y="334.91">Ecuador</text>
<path class="h" stroke="#c10c90" d="M1778.48 359.99h44.9"/>
<text class="t8" x="1841.20" y="368.89">Panama</text>
<text class="t10 m" x="1526.47" y="212.10">South - Type B</text>
<text class="t8 e" x="1068.35" y="730.64">700</text>
<text class="t8 e" x="1068.35" y="607.19">800</text>
<text class="t8 e" x="1068.35" y="483.74">900</text>
<text class="t8 e" x="1068.35" y="360.29">1000</text>
<text class="t8 e" x="1068.35" y="236.84">1100</text>
<text class="t8" transform="translate(1103.77 901.05) rotate(-45)">2022</text>
<text class="t8" transform="translate(1239.55 901.05) rotate(-45)">2023</text>
<text class="t8" transform="translate(1375.34 901.05) rotate(-45)">2024</text>
<text class="t8" transform="translate(1511.49 901.05) rotate(-45)">2025</text>
<text class="t8" transform="translate(1647.28 901.05) rotate(-45)">2026</text>
<text class="t8" transform="translate(1783.06 901.05) rotate(-45)">2027</text>
<text class="t8" transform="translate(1918.84 901.05) rotate(-45)">2028</text>
</g>
<g>
<rect x="2071.10" y="228.00" width="895.85" height="608.85" fill="#eeeeee"/>
<path class="g" d="M2111.97 228.00v608.85M2247.75 228.00v608.85M2383.54 228.00v608.85M2519.69 228.00v608.85M2655.48 228.00v608.85M2791.26 228.00v608.85M2927.04 228.00v608.85M2071.10 820.40h895.85M2071.10 720.20h895.85M2071.10 620.00h895.85M2071.10 519.80h895.85M2071.10 419.60h895.85M2071.10 319.40h895.85"/>
<g transform="translate(2071.10 228.00) scale(.5)">
<path class="s" stroke="#2a2eec" d="M82 314l2-32 1 54 2 21 1-58 2 88 1-137 2 101 1-65 2 59 1-13 1 35 2-49 1 48 2-27 1 40 2-32 1 76 2-28 1-29 2-19 1 87 2-22 1 52 2-99 1 115 2-62 1 54 2-94 1 48 2 10 1 26 2 12 1 0 2 18 1-44 2-24 1 49 2-39 1 73 2-88 1 36 2 1 1 30 2 4 1-14 2-45 1 20 2-14 1 21 2-23 1 22 1 12 2 49 1-4 2-24 1-34 2 73 1-102 2 61 1-49 2 34 1-60 2 94 1-44 2 87 1-52 2 25 1-18 2 53 1-74 2 34 1-22 2 56 1-49 2 35 1-25 2-6 1-31 2 52 1-68 2 0 1 37 2-43 1 18 2 89 1-99 2 45 1-73 2 34 1-50 2 57 1-24 1 2 2-6 1 41 2-90 1 83 2-41 1 15 2-39 1 48 2 3 1-14 2-31 1 26 2-6 1 72 2-64 1 17 2-18 1 10 2 0 1 29 2-114 1 37 2 42 1-8 2-56 1 41 2-44 1 63 2-9 1-23 2 15 1-20 2-29 1 73 2-55 1 77 2-38 1-29 2-23 1 8 2-2 1 0 1-56 2 111 1-74 2 48 1-58 2 36 1-52 2 12 1 26 2 32 1-39 2 8 1-35 2-15 1 18 2-20 1-29 2 68 1-64 2 98 1-61 2 4 1-30 2 12 1-7 2 9 1-45 2 38 1 13 2-13 1-52 2 89 1-27 2-26 1 1 2 8 1-31 2-8 1 6 2-1 1-10 1-15 2 4 1 50 2-43 1 48 2-37 1 28 2-6 1 31 2-104 1 64 2-53 1 27 2-11 1 28 2-12 1 29 2-13 1-2 2-7 1 45 2-35 1-7 2-26 1 22 2-6 1 9 2-12 1 35 2-38 1 52 2-97 1 89 2-7 1 20 2 30 1-46 2-25 1 10 2-14 1 36 2-15 1 44 1-56 2 57 1-38 2 7 1-51 2 43 1-9 2 49 1-41 2-21 1 3 2 26 1-20 2 49 1-52 2 4 1-10 2 41 1-10 2 13 1-28 2 50 1-27 2 9 1-19 2 15 1-15 2 25 1-25 2 40 1-42 2 37 1-71 2 102 1-35 2 19 1 20 2-33 1-81 2 60 1-14 1 55 2-68 1-19 2 16 1 15 2-30 1 52 2-28 1 50 2-48 1 65 2-57 1 64 2-18 1-26 2-82 1 93 2-39 1 23 2-92 1 86 2-47 1 16 2-28 1 45 2-57 1 64 2-17 1 7 2 34 1 29 2-73 1 42 2-7 1 28 2 24 1 4 2-51 1 26 2-37 1 19 2-23 1 54 1-13 2-3 1-58 2 31 1 3 2-7 1-1 2 15 1-4 2-13 1 14 2 7 1 20 2 0 1-66 2 24 1-38 2 48 1-55 2 25 1 2 2-22 1 36 2 46 1-58 2 2 1-72 2 187 1-57 2-27 1-14 2 49 1-112 2 93 1-28 2 32 1-34 2 58 1-63 2 61 1-60 1 53 2 2 1-26 2-18 1 70 2-66 1 10 2-45 1 35 2-56 1 61 2-77 1 19 2 67 1-28 2-24 1 34 2-75 1 47 2-14 1 12 2-73 1 76 2-38 1 25 2-32 1 2 2 9 1 37 2-61 1 36 2-7 1 15 2 3 1-11 2-21 1 5 2 36 1-32 2 11 1 1 1-19 2 16 1-29 2 13 1-17 2-24 1 19 2 22 1-62 2 78 1-66 2 50 1-26 2-8 1-11 2 27 1-4 2 37 1-36 2 18 1-32 2 5 1-57 2 96 1-75 2 20 1-77 2 56 1-63 2 67 1-20 2 39 1-47 2 6 1-21 2 0 1-16 2 46 1-32 2-27 1 39 2 4 1-12 1 16 2-104 1 79 2-35 1-15 2 63 1-4 2-38 1 89 2-77 1-32 2-23 1 3 2-5 1-4 2 13 1-19 2 29 1-12 2-24 1 10 2-19 1 34 2 42 1-43 2-20 1-11 2 6 1 26 2-35 1 15 2-16 1 27 2-25 1 43 2-44 1 31 2 7 1 57 2-56 1 82 1-110 2 71 1-43 2 63 1-32 2 17 1-17 2-31 1 16 2 11 1-3 2-8 1 23 2-26 1-41 2-5 1 30 2-23 1 21 2 60 1-54 2 61 1-98 2 46 1 12 2 36 1 0 2 11 1-96 2 65 1-56 2 87 1-102 2 122 1-43 2 13 1-41 2 24 1 1 2 0 1-49 2 30 1-35 1 74 2-16 1-34 2-50 1 105 2-70 1 10 2 29 1-13 2-24 1 34 2-77 1 87 2-10 1-40 2-32 1 81 2-29 1 5 2-21 1-5 2 28 1 48 2-64 1-30 2-4 1 89 2-20 1-21 2-10 1 75 2-46 1 24 2-1 1 33 2-84 1 69 2 17 1 31 2-107 1 69 1-18 2-1 1-12 2 35 1-22 2 26 1 2 2 13 1-105 2 55 1 74 2-3 1-38 2 33 1-48 2 25 1-18 2 4 1-42 2 112 1-71 2 37 1-3 2 20 1-22 2 3 1-63 2 62 1-64 2 74 1-32 2 23 1-63 2 51 1-64 2 30 1-19 2 12 1 34 2 2 1 2 1 34 2 18 1-19 2 2 1 44 2-95 1 85 2-76 1 38 2-19 1-5 2-6 1 68 2-66 1 10 2-19 1 48 2-54 1 4 2-20 1 107 2-57 1-17 2 24 1-17 2-9 1-27 2 20 1 28 2-2 1 1 2-2 1-3 2 21 1 20 2-68 1 64 2-41 1 20 2 0 1-6 2-18 1 50 1-21 2 61 1-33 2-11 1-25 2 39 1-40 2 62 1-43 2 19 1-79 2 77 1-66 2 88 1-63 2 33 1-9 2 34 1-32 2 27 1-49 2 48 1-8 2-34 1 34 2-7 1-2 2 28 1-40 2 46 1-54 2 31 1-50 2 20 1-8 2 59 1-74 2 50 1-60 2 59 1-54 1 80 2-77 1 13 2-25 1 143 2-156 1 89 2-78 1 91 2-78 1 83 2-3 1-13 2-1 1 45 2-24 1 13 2-18 1 25 2-24 1-4 2 5 1 48 2-60 1 10 2 1 1 26 2 4 1-62 2 0 1 46 2 18 1-15 2 4 1-11 2 33 1-7 2-62 1 53 2-20 1 5 2 0 1 35 1-36 2 36 1-121 2 42 1-6 2 8 1 20 2 24 1-94 2 41 1-6 2 31 1-61 2 72 1-109 2 89 1-49 2 83 1-56 2-6 1-2 2 15 1-19 2 32 1-29 2 68 1-62 2 46 1-15 2-38 1-1 2 9 1 24 2 36 1-21 2-7 1-36 2 34 1 13 2 38 1-25 1 32 2-54 1 70 2-88 1 85 2 6 1 18 2-26 1 8 2-11 1 25 2 3 1-36 2-23 1 82 2-82 1 93 2-40 1 29 2-42 1 19 2-45 1 45 2-91 1 96 2-91 1 56 2-22 1 64 2-20 1 45 2-112 1 51 2-11 1 44 2-56 1 38 2-51 1 22 2-3 1 36 1-46 2 6 1-21 2 4 1 25 2 15 1-27 2 5 1 2 2 34 1-64 2 57 1-53 2 81 1-59 2 35 1-14 2-7 1-24 2 28 1-40 2 26 1-37 2 26 1-14 2 62 1-90 2 23 1-17 2 88 1-50 2 26 1-2 2-5 1-56 2 19 1 23 2 27 1-62 2 4 1-66 2 98 1-9 1 5 2-27 1-5 2-51 1 16 2 47 1 6 2-59 1 54 2-61 1 57 2-57 1 42 2-52 1 104 2-119 1 67 2-39 1 56 2-14 1 18 2-57 1 75 2-49 1-21 2 26 1 42 2-65 1 85 2-34 1 16 2-72 1 97 2-50 1 6 2-37 1 33 2 12 1 0 2-30 1 39 1-67 2 80 1-15 2 53 1-48 2 83 1-53 2 27 1-67 2 38 1-13 2 6 1-81 2 48 1-42 2 49 1-18 2-6 1-4 2 12 1-5 2 21 1-18 2 51 1-77 2 53 1-38 2 56 1-85 2 63 1 15 2 20 1-57 2 28 1-42 2 76 1-62 2 34 1 10 2 48 1-99 2 54 1-67 1 33 2-76 1 63 2 48 1-41 2 32 1 3 2-12 1 22 2-32 1 33 2-8 1 50 2-59 1 63 2-28 1 23 2-57 1 49 2-41 1 43 2 3 1-18 2-2 1 22 2-54 1 17 2 57 1 4 2-74 1 24 2-5 1 57 2-47 1 46 2-49 1 41 2-25 1 34 2-9 1 4 1-23 2 28 1 13 2-18 1-4 2 26 1-14 2 30 1-40 2 63 1-32 2 35 1-33 2 48 1-31 2-5 1 43 2 4 1-47 2 37 1-37 2 45 1-9 2 19 1-36 2 71 1-54 2 41 1-21 2 11 1-2 2 10 1-28 2 75 1-42 2 28 1-41 2 29 1-34 2 16 1 6 1 35 2-57 1 40 2-35 1 44 2-26 1 53 2-82 1 43 2-51 1 73 2-54 1 66 2-30 1 60 2-50 1 35 2-16 1 17 2-12 1-4 2-24 1 10 2 31 1-14 2-47 1 45 2-9 1 12 2-7 1 35 2-35 1 41 2-57 1 46 2-53 1 3 2-8 1 32 2-41 1 37 2-52 1 34 1-7 2 41 1-42 2 42 1-26 2 16 1 6 2 15 1-31 2 38 1-2 2 39 1 11 2-36 1-15 2 34 1-38 2 20 1 7 2 22 1-95 2 52 1 24 2-4 1-53 2 38 1-23 2 49 1-39 2 9 1 23 2 7 1-69 2 33 1-18 2 73 1-65 2 77 1-29 1-63"/>
<path class="s" stroke="#fa7c17" d="M82 788l2-14 1-18 2 46 1-68 2 60 1-45 2 9 1-49 2 21 1 13 1 0 2-39 1 125 2-66 1 22 2 12 1 5 2-15 1 17 2 8 1 7 2-41 1 47 2-29 1 16 2-9 1 18 2-19 1 16 2-9 1 44 2-34 1 18 2-78 1 31 2-29 1-20 2 8 1 5 2-63 1 68 2-46 1 9 2-102 1 69 2-32 1 43 2-59 1 31 2 20 1-36 1-11 2 19 1-45 2 51 1-38 2 18 1-24 2 51 1-7 2 23 1-37 2 48 1-66 2 38 1-7 2 11 1-33 2 27 1-19 2 15 1-41 2 8 1-14 2 57 1-39 2 8 1-25 2 52 1-65 2 69 1-36 2 37 1-86 2 108 1-32 2 6 1-60 2 60 1-68 2 69 1-29 1-26 2 44 1 37 2-78 1 34 2-6 1-6 2-16 1 39 2-42 1 0 2-18 1-9 2-31 1 73 2-10 1-27 2-18 1 54 2-33 1 29 2 2 1 51 2-94 1 46 2-6 1 17 2 11 1 2 2-39 1 17 2-3 1 35 2-19 1 12 2-63 1 30 2-68 1 55 2-18 1 67 2-74 1 68 1-55 2 42 1 0 2 4 1-5 2 38 1-31 2 6 1 26 2 8 1-24 2-19 1-29 2 67 1-79 2 21 1-12 2 48 1 5 2 2 1-13 2-13 1 0 2 8 1 3 2 57 1-102 2 52 1-54 2 53 1-9 2 19 1-31 2 56 1-54 2 83 1-71 2 70 1-28 2 56 1-27 1 30 2-57 1 31 2-10 1 51 2-75 1 60 2-50 1 48 2-31 1 14 2-13 1-7 2 13 1 33 2 2 1 30 2-10 1 3 2-21 1-6 2 11 1 30 2-51 1 49 2-10 1 20 2-3 1 51 2-21 1 39 2-10 1 28 2-28 1 33 2-25 1 53 2-53 1 7 2 2 1-2 2-26 1 48 1-31 2 20 1-54 2 10 1-8 2 41 1-29 2 16 1-16 2 21 1-13 2 0 1-17 2 4 1 4 2 0 1-37 2 41 1 11 2-31 1 33 2-45 1 21 2 24 1-43 2 29 1-6 2 5 1-41 2 33 1-12 2 21 1 2 2 23 1-23 2 8 1 3 2-10 1-31 2 36 1 12 1-11 2-16 1 7 2-5 1 16 2-15 1 10 2-26 1 24 2-2 1 0 2-5 1 55 2-47 1 9 2-40 1 32 2 9 1-6 2-9 1 20 2-86 1 28 2-7 1 21 2-40 1 15 2 24 1-23 2-23 1 2 2-35 1-13 2 0 1 13 2-3 1 47 2-75 1 37 2-44 1 57 2-27 1 4 1-16 2 47 1-98 2 33 1-47 2 40 1 29 2-5 1 3 2 4 1-33 2-1 1-7 2 22 1-63 2 48 1-29 2-4 1-12 2 8 1-8 2 25 1-37 2 33 1-27 2 71 1-73 2 61 1-15 2 8 1-4 2 36 1-61 2 42 1-10 2 50 1-51 2 10 1-23 2 59 1-36 1 45 2-34 1 48 2-67 1 54 2-17 1 53 2-79 1 24 2-43 1 60 2-61 1 14 2-17 1 40 2-49 1 15 2 19 1 14 2-64 1 61 2-9 1 7 2-9 1 7 2-51 1 36 2-3 1 33 2 10 1 5 2-7 1 64 2-44 1 65 2-41 1 51 2-55 1 41 2-39 1 42 1-33 2-23 1-26 2 15 1 3 2 14 1-40 2 48 1-53 2 34 1-47 2 43 1-16 2 10 1-35 2 16 1-12 2 9 1-34 2 30 1-26 2 48 1-50 2 32 1 11 2-12 1-27 2 35 1-38 2 35 1-20 2 18 1-14 2 21 1-6 2 17 1-11 2 16 1-39 2 29 1 4 2 23 1-38 1 31 2-46 1 25 2-32 1 30 2-53 1 67 2-66 1 45 2-8 1-28 2-6 1-25 2-25 1 39 2-50 1 10 2 4 1 3 2-59 1 43 2-11 1-9 2 35 1 8 2-42 1 12 2-6 1 0 2-21 1 37 2-39 1 39 2-22 1 23 2-49 1 33 2-9 1 31 2 19 1 6 1-7 2 27 1-44 2 41 1 20 2-16 1-43 2 56 1-32 2 16 1-20 2 45 1-17 2 68 1-79 2 58 1-19 2-1 1-2 2-39 1 42 2-37 1 40 2-20 1 12 2 48 1-62 2 43 1-25 2 41 1-22 2 20 1-7 2 5 1 8 2 57 1-44 2-6 1 8 2 11 1-12 2 15 1-12 1 70 2-54 1 15 2-7 1-16 2 0 1 17 2-47 1 61 2-48 1 4 2-4 1 48 2-28 1 60 2-3 1-14 2-44 1 91 2-43 1 64 2-44 1 21 2-19 1 18 2 12 1 6 2-27 1 31 2-28 1 29 2-42 1 38 2-25 1 20 2 6 1-26 2 7 1 48 2-64 1 30 1-4 2-4 1-6 2 6 1-6 2-25 1-36 2 48 1-15 2 20 1-26 2 21 1-39 2 34 1-48 2 85 1-105 2-12 1 6 2-13 1-34 2 70 1-46 2 20 1-64 2 37 1-32 2 35 1-37 2 29 1-3 2-17 1-30 2 8 1-13 2 34 1-11 2 62 1-67 2 32 1-80 1 51 2-14 1 20 2-1 1 9 2-78 1 43 2-58 1 44 2-1 1-46 2 16 1 56 2-62 1 45 2-67 1 55 2-17 1 5 2-24 1 13 2 1 1-28 2 16 1 16 2-17 1 21 2 7 1 9 2-29 1-18 2 23 1 2 2-49 1 56 2-67 1 31 2 8 1 39 2-43 1 58 2-41 1 24 1-31 2 32 1-37 2 61 1-33 2 18 1-54 2 74 1-26 2 8 1-25 2 28 1-35 2 60 1-94 2 80 1-47 2 50 1-55 2 71 1-53 2 34 1-19 2-26 1-32 2 48 1-22 2 78 1-54 2 35 1-44 2 45 1-39 2 8 1-29 2 15 1 19 2-25 1-16 2 1 1 20 1 34 2-45 1 15 2-3 1 13 2-19 1 4 2-50 1 72 2-38 1-4 2 21 1 4 2-35 1-15 2 60 1-10 2-77 1 105 2-47 1-1 2-19 1 69 2-64 1 47 2-29 1 1 2-33 1 13 2-6 1 25 2-53 1 97 2-59 1 44 2-34 1 25 2-50 1 58 2-32 1 37 2-32 1 11 1-8 2 47 1-26 2-15 1 10 2 16 1-42 2 58 1-31 2 54 1-66 2 52 1-11 2 15 1-8 2 16 1-68 2 23 1 30 2 25 1-38 2 28 1 13 2 8 1-78 2 22 1-7 2 33 1-65 2 27 1-23 2 40 1-37 2 54 1-63 2 24 1-36 2 20 1-94 2 87 1-28 1 2 2-29 1 11 2 16 1 11 2-28 1 32 2-12 1 34 2-111 1 115 2-122 1 81 2 32 1-38 2-16 1 15 2-51 1 42 2-23 1 22 2-26 1 22 2-21 1 0 2-10 1 60 2-74 1 45 2-39 1 81 2-80 1 73 2-69 1 65 2-43 1 24 2 5 1 35 2-79 1 49 1-45 2 73 1-47 2 16 1 9 2 21 1-17 2-28 1 22 2 1 1-6 2-19 1-6 2 48 1-48 2 46 1-26 2 57 1-58 2 63 1-94 2 50 1-11 2 19 1-20 2 35 1-63 2 23 1-7 2-11 1 3 2 6 1-14 2-9 1 8 2-9 1 11 2 15 1-3 2 13 1-44 2 51 1-75 1 39 2 2 1 62 2-28 1-30 2 5 1 20 2-79 1 89 2-83 1 16 2 47 1 22 2-59 1 16 2 31 1-6 2-24 1-4 2-8 1 19 2-46 1 65 2-28 1 45 2-26 1-2 2 31 1 18 2-99 1 47 2-26 1-11 2-15 1 40 2-63 1 51 2 11 1 11 2-24 1 34 1-41 2 54 1-39 2-14 1 25 2-3 1-18 2 70 1-52 2 0 1-4 2 19 1-40 2 29 1-76 2 60 1-30 2 27 1 6 2 8 1-53 2 66 1-74 2 109 1-59 2 8 1-18 2 4 1 32 2-15 1-35 2 56 1-33 2 22 1-15 2 22 1 3 2-6 1-25 2-2 1 2 2 55 1-87 1 47 2-27 1 67 2-14 1-19 2 28 1-15 2-7 1 48 2-47 1 50 2-66 1 87 2-60 1 46 2-33 1-21 2 48 1 19 2-19 1 37 2-29 1 37 2-19 1 26 2-3 1 67 2-92 1 44 2-36 1 21 2 6 1 54 2-38 1-4 2-23 1 38 2-23 1 1 2 17 1 10 1-6 2 42 1-14 2 3 1-49 2 55 1-20 2 49 1-54 2-12 1 7 2-8 1-9 2 45 1-24 2 6 1 27 2-9 1 10 2 3 1-16 2-6 1 7 2-25 1 9 2 38 1-50 2 71 1-71 2 48 1-44 2 25 1-62 2 6 1 26 2 19 1-21 2 55 1-63 2 19 1 2 1 39 2-62 1 53 2-61 1 50 2-63 1 41 2-15 1 44 2-81 1 68 2-10 1 25 2-65 1 40 2-33 1 42 2-73 1 49 2-8 1-9 2 6 1 30 2-58 1 50 2-83 1 67 2-36 1 25 2-24 1-24 2-32 1 77 2-28 1 6 2-23 1 14 2-51 1 25 2-25 1 79 2-33 1 8 1-9 2 7 1-15 2 74 1-62 2 50 1-86 2 40 1-48 2 85 1-28 2 36 1-45 2 15 1-24 2 0 1-17 2 64 1-71 2-8 1 1 2 16 1-9 2 29 1-31 2 46 1-57 2 56 1 16 2-3 1-15 2 27 1-28 2 6 1-37 2 24 1-38 2-1 1-32 1 36"/>
<path class="s" stroke="#328c06" d="M82 990l2 8 1-37 2 27 1 13 2 49 1-93 2 47 1-14 2-5 1-33 1 31 2-19 1 11 2-38 1 7 2-22 1-10 2 3 1 8 2-9 1 23 2 0 1 18 2-72 1 39 2-8 1-12 2 39 1-10 2-22 1 34 2-54 1 25 2-30 1 33 2-6 1 31 2-28 1-3 2-7 1 29 2-17 1 7 2 33 1 25 2-55 1 21 2-10 1 30 2-24 1 29 1-38 2 56 1-32 2-5 1-17 2 12 1-25 2 4 1 13 2-21 1-20 2 10 1-15 2 26 1-33 2 82 1-39 2-2 1-12 2-2 1-36 2 63 1-38 2-25 1 18 2 10 1-1 2 37 1-40 2 51 1-58 2 46 1-25 2 22 1-47 2 31 1 23 2 3 1-33 2 28 1-42 1 6 2 8 1 6 2 16 1 26 2-56 1 53 2-61 1 43 2-11 1 21 2-12 1 15 2-49 1 36 2-13 1 7 2-25 1 20 2-42 1 31 2 1 1-4 2-24 1 69 2-61 1 17 2 14 1-24 2 8 1 29 2-66 1 45 2-39 1 57 2-18 1 7 2-47 1 12 2 19 1-9 2-9 1-1 1 2 2 22 1-27 2 1 1-11 2 10 1-28 2 58 1-48 2 12 1-67 2 97 1-67 2 22 1-32 2 4 1 7 2-2 1 5 2 43 1-77 2 35 1 11 2-20 1-13 2 9 1-52 2 75 1-6 2-32 1 14 2 35 1-56 2 34 1-12 2 42 1-50 2 17 1-10 2-10 1 1 1 10 2 4 1 9 2-27 1 54 2-55 1 9 2-18 1 76 2-70 1 8 2 23 1-24 2 14 1-15 2-39 1-5 2 21 1 9 2-13 1 17 2 31 1-41 2-19 1 32 2-49 1 84 2-67 1 28 2-24 1 45 2-19 1 21 2 5 1 38 2-76 1 48 2-19 1 68 2-94 1 57 2-26 1 13 1-30 2 56 1-31 2-34 1 29 2-29 1 0 2 23 1 8 2 18 1-35 2 31 1-36 2 2 1 37 2-36 1-3 2 38 1-83 2 81 1-85 2 54 1-32 2 24 1 1 2 11 1-18 2 12 1 7 2 19 1-40 2 25 1-29 2 36 1-54 2 48 1-12 2 29 1-71 2 88 1-30 1 1 2-10 1-8 2-1 1 22 2-19 1-3 2 28 1-12 2-23 1 12 2-18 1 46 2-23 1 32 2-72 1 55 2-32 1 26 2-15 1 32 2-21 1 20 2-16 1 37 2-39 1 11 2-13 1 45 2-49 1 17 2-6 1 54 2-30 1-22 2-20 1-10 2 26 1 10 2 2 1-5 2-12 1 24 1-7 2-1 1-32 2 22 1-26 2 0 1-1 2 22 1-37 2 19 1-20 2 24 1-6 2 19 1-23 2 41 1-40 2 9 1-14 2 63 1-38 2 21 1-29 2 14 1-14 2 22 1-8 2 19 1-20 2 45 1-54 2 39 1-15 2 46 1-42 2-4 1-16 2 32 1-36 2 26 1-68 1 40 2 11 1 39 2-67 1 40 2-21 1 14 2-42 1 37 2-45 1 50 2-3 1 21 2 1 1-4 2-68 1 77 2-28 1 19 2-27 1 40 2-12 1 6 2 21 1 37 2-69 1 80 2-49 1 23 2-14 1 16 2-9 1 27 2-51 1 60 2-79 1 48 2 7 1 8 2-27 1 38 1-72 2 67 1-25 2 23 1-3 2 48 1-64 2 34 1-54 2 4 1 28 2 7 1-22 2-7 1-9 2 44 1-35 2 8 1-22 2 48 1-49 2 43 1-48 2 31 1 4 2 0 1-44 2 44 1-41 2 67 1-57 2 52 1-29 2 4 1-29 2 28 1-8 2 24 1-58 2 19 1 33 2 2 1-21 1 14 2-47 1 45 2-9 1 26 2-46 1 31 2-46 1 81 2-28 1 14 2-46 1 34 2-29 1 46 2-22 1 25 2-29 1 18 2-39 1 50 2-24 1 36 2-49 1 47 2-63 1 86 2-38 1-25 2 8 1 58 2-27 1 8 2-15 1-8 2 2 1 40 2-30 1 10 2-44 1 25 1-15 2 62 1-57 2 33 1-20 2 32 1-10 2 45 1-65 2 16 1-27 2 55 1-52 2 35 1-27 2 30 1-26 2 16 1-44 2 23 1-21 2 76 1-47 2 41 1-60 2 62 1-74 2 36 1-22 2 10 1-27 2 58 1-25 2 41 1 4 2-21 1-13 2 3 1-41 2 44 1-20 2 23 1-9 1 11 2-56 1 72 2-34 1 26 2-37 1 46 2-37 1 5 2-30 1 32 2-5 1 27 2-41 1 21 2 9 1 18 2-41 1 41 2-14 1 0 2-22 1 43 2-48 1 72 2-66 1 37 2 7 1 11 2-27 1 34 2-3 1 13 2 3 1 5 2-12 1 15 2-23 1 28 2-48 1 67 1-55 2 53 1-46 2 31 1-13 2 36 1-35 2 47 1-13 2 7 1-46 2 19 1-3 2 60 1-71 2-25 1 15 2 20 1-18 2-3 1-34 2 42 1-25 2-7 1-17 2 15 1-58 2 29 1-33 2 55 1-38 2-8 1 8 2 1 1-8 2 9 1-34 2 28 1-5 2 8 1-18 1 61 2-113 1 89 2-42 1 13 2-13 1 47 2-58 1 27 2-21 1 26 2-24 1 18 2-73 1 67 2 5 1-19 2 3 1 4 2 22 1-42 2 29 1-26 2-7 1 16 2 5 1 15 2-71 1 30 2-36 1 8 2-32 1 21 2-25 1-39 2-5 1 41 2-40 1 5 2-27 1-24 2 17 1 52 1-36 2 8 1-24 2 22 1-48 2 50 1-5 2-9 1 19 2-8 1-14 2 10 1-5 2-4 1 6 2 18 1-32 2 30 1-7 2 37 1-64 2 37 1 14 2 1 1-29 2 31 1-23 2 24 1-43 2 43 1 3 2-15 1-30 2 32 1-22 2 26 1-23 2 40 1-21 2 6 1-36 1 17 2 46 1-22 2-69 1 42 2-25 1 30 2-26 1 12 2-18 1 10 2-43 1 94 2-127 1 61 2-23 1 39 2-28 1 6 2-23 1 53 2-20 1-18 2 33 1 18 2-50 1 82 2-86 1 55 2-49 1 50 2-43 1 58 2-37 1 22 2-35 1 33 2-24 1 77 2-43 1 77 2-56 1 19 1-17 2 56 1-33 2 3 1-7 2 15 1-35 2 62 1-47 2 37 1-3 2 2 1-24 2 43 1-22 2 8 1 5 2 12 1-48 2 21 1 15 2-18 1-9 2 14 1-18 2 21 1-38 2 46 1 4 2 13 1-36 2 46 1-29 2 33 1-10 2 15 1-20 2 38 1-9 2 10 1 1 1 7 2-8 1 43 2-46 1 14 2-17 1-13 2 43 1-40 2-14 1 34 2-10 1-13 2-19 1 39 2-30 1 57 2-31 1 15 2-11 1-10 2 3 1 43 2-33 1 29 2-11 1 5 2-29 1-10 2-12 1 42 2-34 1 20 2 7 1-1 2-3 1 32 2-72 1 86 2-50 1 13 1-23 2 27 1-20 2 56 1-24 2 0 1-13 2-7 1 4 2 26 1-14 2-13 1 41 2 21 1-60 2 20 1-61 2 29 1-8 2 59 1-28 2 4 1 21 2-17 1 7 2 4 1-21 2 33 1 18 2-9 1-1 2 7 1 18 2-26 1-28 2 55 1-28 2-9 1-24 2 35 1-27 2 61 1-45 1 5 2-10 1 25 2-20 1-26 2-19 1 94 2-24 1-10 2-8 1 19 2-43 1 43 2-13 1 36 2-51 1 28 2-20 1 26 2-62 1 55 2-56 1 41 2-47 1 52 2-19 1 38 2-42 1 21 2-69 1 56 2-28 1 14 2-6 1 7 2-31 1 49 2-19 1 15 2-17 1 33 1-52 2 50 1-38 2 33 1-33 2 19 1-42 2 18 1-7 2-15 1-10 2 30 1 7 2-6 1-52 2 57 1 4 2 16 1-46 2 9 1-17 2 18 1-14 2 14 1 1 2-32 1 5 2 47 1-46 2 15 1-6 2 29 1-13 2 9 1-12 2 2 1-45 2 9 1-25 2 61 1-35 2-35 1 35 1-9 2 4 1 4 2-24 1 28 2-26 1 60 2-74 1 51 2-22 1 16 2-11 1 14 2-52 1 50 2-36 1 47 2-42 1 31 2-69 1 67 2-51 1 19 2-27 1 50 2-32 1 35 2-7 1-39 2 14 1-5 2 6 1 46 2-79 1 69 2-38 1 36 2-16 1 12 2-34 1 26 1-17 2 22 1-38 2 35 1 4 2 31 1-64 2 35 1-11 2-13 1 4 2-3 1 5 2 11 1 29 2 22 1 5 2 11 1-43 2 61 1-29 2 12 1 1 2 9 1 10 2 24 1-37 2 61 1-27 2 26 1-37 2 7 1-8 2 15 1-13 2 44 1-25 2 20 1-48 2 17 1 0 1 5 2-42 1 28 2-23 1 29 2-8 1-5 2-10 1 19 2-50 1 40 2 2 1 19 2-35 1 18 2-22 1 39 2-43 1 35 2-15 1 32 2-26 1 33 2-23 1 23 2-19 1 40 2-24 1-9 2-29 1 38 2-5 1-12 2-21 1 59 2-36 1 2 2-16 1 30 2-24 1 35 2-34 1 14 1 28 2-4 1-13 2 23 1 0 2 40 1-80 2 24 1-40 2 42 1-36 2 53 1-26 2 23 1 3 2-6 1-21 2 30 1-31 2 62 1-10 2-36 1 18 2 17 1-26 2 54 1-42 2 26 1-10 2 29 1-18 2 6 1-45 2 78 1-31 2 14 1-23 2 29 1-34 1 2"/>
<path class="s" stroke="#c10c90" d="M82 563l2 86 1-59 2 22 1 4 2 49 1-76 2 84 1-39 2 32 1-34 1 22 2-24 1 28 2-23 1 1 2-15 1 37 2-53 1 102 2-85 1 41 2-111 1 122 2-33 1-16 2-6 1-13 2-38 1 32 2 19 1 40 2-32 1 5 2 3 1-22 2-31 1 67 2-37 1 4 2-42 1 52 2-27 1 59 2-81 1 20 2-36 1 33 2-39 1 13 2-14 1 65 1-70 2 56 1-46 2 16 1-39 2-14 1 8 2 66 1-55 2 42 1 4 2 36 1-71 2 38 1-47 2 44 1-50 2 59 1-76 2 8 1 20 2 24 1-10 2 18 1-46 2 34 1-35 2 17 1-27 2 34 1-24 2 0 1-36 2 39 1-28 2 10 1 20 2 33 1-25 2 13 1-17 1 34 2-46 1 36 2-7 1-19 2-14 1 37 2-23 1 34 2-9 1-20 2-62 1 45 2-62 1 75 2-7 1 0 2-11 1 26 2-32 1 6 2-6 1 17 2-5 1-1 2 0 1 40 2-49 1 6 2 3 1 45 2-17 1-7 2 0 1 11 2-34 1 9 2 25 1 1 2-23 1-11 2 17 1-10 1-14 2 27 1-35 2 35 1-51 2 47 1-29 2 24 1-53 2 48 1-20 2 15 1 27 2 48 1-61 2 10 1 1 2 39 1-46 2 31 1-23 2 37 1-31 2 16 1 16 2 29 1-65 2 103 1-36 2-28 1 7 2 13 1-47 2 48 1-45 2 23 1-37 2 79 1-130 2 114 1-89 1 20 2-10 1-14 2-17 1 41 2-41 1 43 2-36 1 13 2 8 1 5 2-17 1 26 2-71 1 51 2-65 1 110 2-84 1 103 2-100 1 52 2-32 1 42 2-55 1 25 2-75 1 70 2-47 1 30 2-5 1 17 2 7 1-63 2 38 1 7 2-51 1 95 2-105 1 70 2-42 1 11 2-19 1 33 1-20 2 2 1-71 2 69 1-13 2 57 1-31 2 54 1-69 2 53 1-49 2 28 1-58 2 64 1-30 2 9 1-4 2 35 1-57 2 57 1-20 2 56 1-34 2-12 1-34 2 44 1-11 2 10 1-34 2 1 1-40 2 42 1-29 2-23 1-23 2 56 1 34 2-43 1 4 2 32 1-56 1 61 2-41 1-23 2 13 1 63 2-34 1 6 2-32 1 76 2-36 1 13 2-52 1 52 2-20 1-3 2 20 1 25 2-72 1 16 2-11 1 58 2-82 1 28 2-11 1 5 2-4 1-4 2 18 1 5 2-66 1 75 2-50 1 21 2 1 1-2 2-39 1 6 2 8 1 60 2-51 1 38 2-63 1 46 1-46 2 10 1 9 2-5 1 6 2 36 1-44 2-16 1 22 2 8 1-31 2 70 1-15 2 6 1 33 2-2 1-31 2 41 1-42 2-44 1-7 2 40 1-64 2 41 1-70 2 90 1-55 2 23 1-64 2 81 1-55 2 18 1-37 2 53 1-14 2 35 1-43 2 92 1-94 2 38 1-45 1 10 2 2 1 29 2-53 1 9 2 13 1 66 2-85 1 35 2-54 1 32 2-44 1 55 2-10 1 34 2-31 1 32 2-46 1 33 2-49 1 70 2-74 1 18 2-35 1 55 2-40 1 19 2-4 1 40 2-31 1 69 2-83 1 95 2-72 1 50 2-57 1 46 2-25 1 61 2-33 1 43 1-55 2 81 1-48 2 1 1 31 2-4 1-37 2 21 1-3 2 20 1 29 2 60 1-49 2-33 1 9 2 60 1-88 2 31 1 10 2 74 1-85 2 72 1-39 2 7 1 34 2 3 1-28 2 15 1-23 2 73 1-23 2-29 1-24 2 14 1-31 2 67 1 3 2 57 1-66 2 61 1-78 2-3 1 5 1 39 2-38 1 35 2-82 1 31 2-57 1 3 2 9 1 35 2-48 1 9 2-40 1 66 2-58 1 71 2-18 1-20 2-30 1 36 2-49 1 68 2-83 1 47 2-21 1 35 2-70 1 41 2-27 1 28 2-10 1 104 2-110 1 55 2-19 1 23 2-31 1 38 2-34 1 68 2-127 1 34 1 11 2 2 1-10 2 36 1-34 2 31 1-27 2 4 1 15 2 14 1-45 2 11 1-5 2 3 1 15 2 26 1-58 2 59 1-34 2 12 1 15 2 24 1-13 2 31 1-62 2 34 1-12 2 56 1-52 2 43 1-44 2 20 1 32 2-27 1-31 2 90 1-48 2 47 1-28 2 7 1-54 2 100 1-33 1 15 2-20 1-10 2-6 1 10 2 1 1 24 2-52 1 13 2 20 1 4 2-61 1 62 2-26 1 53 2-81 1 53 2-35 1 35 2-12 1 31 2-28 1 45 2-59 1 65 2-47 1 46 2-64 1 21 2 34 1-25 2-3 1 63 2-84 1 7 2 19 1-4 2 17 1 9 2-12 1-24 1-38 2 55 1-29 2 9 1-33 2 67 1-33 2 11 1-37 2 86 1-62 2-17 1 8 2 10 1-59 2 18 1 14 2 41 1-14 2 51 1-36 2 38 1-92 2 36 1 35 2 5 1-44 2-3 1-32 2 49 1 5 2-16 1-26 2 43 1-22 2 3 1-3 2 32 1-43 2 43 1-37 1 8 2-36 1 52 2-73 1 82 2-87 1 62 2-60 1 44 2 4 1 17 2-47 1 44 2-5 1 22 2 5 1 1 2-9 1 21 2 22 1-41 2 34 1-31 2-5 1 34 2-6 1-21 2-33 1 54 2-49 1 8 2 1 1 57 2-43 1 67 2-47 1 30 2-45 1 60 2-1 1-17 2-3 1 43 1-78 2 58 1 2 2-11 1-20 2 83 1-81 2 3 1-8 2 41 1-66 2 43 1-56 2 26 1-30 2 70 1-50 2 31 1-25 2 40 1-60 2 66 1-53 2 26 1 22 2 44 1-28 2-13 1 17 2 27 1-29 2 2 1-18 2-5 1-1 2 9 1-10 2 17 1 10 2 35 1-24 1 17 2-7 1-26 2-16 1 53 2-25 1-10 2-13 1 35 2 14 1 27 2-60 1 49 2-76 1 43 2-20 1 14 2-17 1-7 2 19 1 45 2-45 1 20 2-21 1 41 2-19 1 37 2-28 1 46 2-97 1 11 2-16 1 26 2-2 1-3 2-65 1 100 2-78 1 32 2-50 1 47 2-19 1 14 1-84 2 76 1-56 2 37 1-7 2 19 1-34 2-23 1 48 2-12 1-9 2-8 1-19 2 74 1-71 2 45 1-36 2-2 1 14 2 24 1-29 2-17 1 14 2 3 1-20 2 26 1-46 2 37 1-11 2 20 1-12 2 39 1-9 2-14 1-13 2 19 1-2 2 58 1-32 2-8 1 19 1 10 2-58 1 62 2-26 1 3 2-17 1 5 2-20 1 41 2-25 1 18 2-15 1 10 2-58 1 29 2-5 1 17 2 9 1 13 2-27 1 16 2-40 1-10 2-14 1 44 2-63 1 35 2-47 1 30 2-18 1-5 2 7 1 33 2-47 1 28 2-18 1 20 2-49 1-4 2 40 1 7 1-24 2-24 1-1 2 11 1-19 2 37 1-43 2 23 1 4 2 50 1-61 2 44 1-42 2 48 1-19 2-11 1-3 2 62 1-46 2 34 1-45 2-1 1-49 2 60 1-44 2 24 1-58 2 84 1-59 2-1 1 12 2-22 1-20 2 56 1-73 2 50 1-54 2 53 1-27 2 49 1-73 2 68 1-50 1 50 2-70 1 71 2-38 1 65 2-93 1 37 2 37 1 8 2-29 1 77 2-52 1-19 2 12 1 43 2-39 1 12 2 0 1 10 2-35 1 57 2-20 1 38 2-71 1 58 2-6 1 5 2 8 1-29 2-3 1 59 2-40 1-18 2-12 1 16 2 10 1-17 2-17 1 23 2-58 1 69 1-96 2 52 1-42 2 25 1 4 2 25 1-103 2 94 1-51 2 45 1-42 2 23 1 6 2 17 1-57 2 72 1-20 2 43 1-34 2 35 1-50 2 71 1-43 2 30 1-83 2 92 1-63 2 53 1-26 2 46 1-23 2-6 1-19 2 47 1-33 2 46 1 1 2 24 1-27 2 35 1-34 2 41 1-34 1 76 2-59 1-30 2 31 1 37 2-8 1 3 2 16 1 14 2-34 1 10 2 9 1 43 2-75 1 53 2-48 1 13 2-2 1 66 2-72 1 42 2-38 1 18 2-11 1 30 2-2 1 11 2-48 1 26 2-37 1 31 2-61 1 58 2-43 1 32 2-45 1 6 2 30 1-15 2-26 1 20 1-14 2 23 1 16 2 45 1-21 2 21 1-61 2 94 1-40 2 37 1-68 2 49 1-41 2 22 1-30 2 68 1-31 2 47 1-1 2-32 1-4 2 30 1-37 2 23 1 1 2 41 1-36 2 29 1-4 2 4 1 0 2 20 1-36 2 28 1-41 2 66 1-46 2 40 1-58 2 93 1-126 1 83 2-30 1-7 2-12 1 37 2-23 1-3 2-25 1 73 2-92 1 43 2 7 1 23 2-35 1 30 2-35 1 24 2-8 1 49 2-68 1 46 2-31 1 12 2-19 1 3 2 1 1 7 2-11 1 39 2-46 1 52 2-65 1 57 2-19 1 19 2-23 1 51 2-94 1 45 2-45 1 60 2-36 1 13 1-60 2 53 1-54 2 34 1-74 2 24 1-4 2 41 1-33 2 22 1-46 2 81 1-70 2 27 1-1 2 28 1-73 2 12 1 2 2-25 1 19 2-33 1-48 2 62 1-11 2 12 1-28 2 0 1-57 2 15 1-5 2 76 1-65 2 13 1 15 2-19 1 3 2 6 1-26 1-9"/>
</g>
<path class="h" stroke="#2a2eec" d="M2771.03 258.05h44.9"/>
<text class="t8" x="2833.75" y="266.95">Venezuela</text>
<path class="h" stroke="#fa7c17" d="M2771.03 292.03h44.9"/>
<text class="t8" x="2833.75" y="300.93">Colombia</text>
<path class="h" stroke="#328c06" d="M2771.03 326.01h44.9"/>
<text class="t8" x="2833.75" y="334.91">Ecuador</text>
<path class="h" stroke="#c10c90" d="M2771.03 359.99h44.9"/>
<text class="t8" x="2833.75" y="368.89">Panama</text>
<text class="t10 m" x="2519.03" y="212.10">South - Type C</text>
<text class="t8 e" x="2060.90" y="828.84">600</text>
<text class="t8 e" x="2060.90" y="728.64">700</text>
<text class="t8 e" x="2060.90" y="628.44">800</text>
<text class="t8 e" x="2060.90" y="528.24">900</text>
<text class="t8 e" x="2060.90" y="428.04">1000</text>
<text class="t8 e" x="2060.90" y="327.84">1100</text>
<text class="t8" transform="translate(2096.32 901.05) rotate(-45)">2022</text>
<text class="t8" transform="translate(2232.10 901.05) rotate(-45)">2023</text>
<text class="t8" transform="translate(2367.89 901.05) rotate(-45)">2024</text>
<text class="t8" transform="translate(2504.04 901.05) rotate(-45)">2025</text>
<text class="t8" transform="translate(2639.83 901.05) rotate(-45)">2026</text>
<text class="t8" transform="translate(2775.61 901.05) rotate(-45)">2027</text>
<text class="t8" transform="translate(2911.39 901.05) rotate(-45)">2028</text>
</g>
<g>
<rect x="3063.65" y="228.00" width="895.85" height="608.85" fill="#eeeeee"/>
<path class="g" d="M3104.52 228.00v608.85M3240.30 228.00v608.85M3376.09 228.00v608.85M3512.24 228.00v608.85M3648.03 228.00v608.85M3783.81 228.00v608.85M3919.59 228.00v608.85M3063.65 755.60h895.85M3063.65 639.28h895.85M3063.65 522.95h895.85M3063.65 406.62h895.85M3063.65 290.30h895.85"/>
<g transform="translate(3063.65 228.00) scale(.5)">
<path class="s" stroke="#2a2eec" d="M82 478l2 36 1-9 2-5 1 13 2 41 1-42 2 50 1-91 2 52 1-39 1 12 2 15 1 8 2-73 1 79 2-90 1 63 2-30 1 68 2-96 1 37 2-8 1 49 2-44 1 29 2-87 1 49 2-50 1 16 2-15 1-40 2 36 1 32 2-38 1 22 2-37 1 53 2-37 1 33 2 63 1 11 2-75 1 59 2 40 1-17 2 24 1 10 2 36 1 13 2-34 1 13 1-50 2 32 1-1 2-16 1-28 2 41 1-50 2 82 1-65 2 97 1-56 2 5 1-84 2 68 1-40 2-5 1-49 2 76 1-110 2 60 1-120 2 152 1-39 2 15 1-35 2 37 1-51 2 25 1-48 2 27 1 21 2-43 1 46 2 2 1-42 2 79 1-111 2 72 1-57 2 82 1-71 1 76 2-17 1-31 2 20 1 39 2-62 1 102 2-90 1 65 2-49 1 63 2-98 1 109 2-105 1 26 2-27 1-5 2-58 1 103 2-47 1-45 2 0 1 4 2 4 1 54 2-43 1-9 2-51 1 67 2-54 1 63 2-36 1 54 2-48 1 9 2-19 1 19 2-20 1 24 2-9 1 59 2-70 1 38 1-38 2 22 1 26 2-17 1-14 2 9 1 5 2 56 1-97 2 39 1 11 2-22 1-103 2 91 1-51 2 38 1-84 2 47 1-48 2 43 1-59 2 25 1 28 2 18 1-38 2 45 1-2 2 20 1-20 2 17 1-30 2 35 1-95 2 61 1-97 2 48 1-53 2 25 1-21 2 63 1-140 1 65 2-23 1 26 2-9 1 8 2-3 1-12 2 32 1-33 2-16 1 93 2-106 1 66 2-62 1 45 2-90 1 72 2-2 1 29 2-25 1 0 2 33 1-16 2 5 1 22 2-67 1 49 2-53 1-34 2 39 1 92 2-57 1 35 2 20 1-34 2-3 1 86 2-93 1-1 2 20 1 49 2-25 1 109 1-35 2-20 1 24 2 69 1-118 2 60 1-21 2-9 1 19 2 35 1-39 2 2 1-68 2 21 1-63 2 101 1-58 2-1 1-11 2 20 1 17 2 26 1-38 2 101 1-124 2 73 1 17 2 51 1-36 2-8 1 10 2 63 1-38 2 16 1-18 2 58 1-80 2 81 1-34 2 93 1-72 1 10 2-49 1 81 2-66 1 68 2-65 1 39 2-24 1 32 2-63 1 84 2-54 1 72 2-26 1 9 2 15 1-39 2 7 1 64 2-50 1 71 2-69 1 60 2-73 1 51 2 24 1 33 2-15 1 15 2-14 1 35 2-21 1-50 2 37 1 59 2-94 1 29 2-20 1 44 2-58 1 66 2-51 1 54 1-38 2-9 1 32 2-5 1-41 2 41 1-19 2 1 1-37 2 108 1-114 2 29 1 21 2-1 1-23 2 29 1-93 2 84 1-82 2 57 1-78 2 78 1-80 2 78 1-80 2 64 1-102 2 86 1-66 2 70 1-51 2 14 1-46 2 48 1-41 2 22 1-30 2 6 1 5 2-7 1-28 1 30 2 16 1-56 2-23 1 39 2-31 1 30 2 4 1 8 2-35 1 73 2-61 1 72 2-102 1 45 2-97 1 109 2-52 1 80 2-22 1-17 2 11 1 64 2-14 1-32 2 10 1 11 2 10 1 47 2-37 1 1 2-10 1 46 2-64 1 82 2-79 1 15 2-51 1 120 2-115 1 99 1-61 2 32 1-42 2 100 1-27 2-14 1-65 2 71 1-22 2 12 1 9 2 36 1-12 2 28 1-81 2 36 1 34 2-19 1 51 2-66 1-39 2 68 1-30 2 34 1-111 2 82 1-4 2-33 1-18 2 20 1-50 2 23 1-49 2 44 1-27 2 54 1-82 2 36 1-38 2 27 1-23 2 82 1-35 1 52 2-51 1 84 2-71 1 65 2-33 1 84 2-22 1 19 2-19 1 13 2-3 1 2 2-68 1 22 2-18 1 71 2-55 1 70 2-37 1-10 2-27 1 46 2-69 1 4 2-40 1 30 2-68 1 24 2-41 1 50 2-6 1-34 2-8 1 15 2-34 1 67 2-14 1-25 2 33 1 29 1-40 2 20 1-6 2 7 1-1 2 19 1-12 2-1 1-18 2 19 1-15 2 83 1-22 2-19 1 66 2-11 1-32 2 47 1-26 2-32 1 55 2-24 1-63 2 103 1-58 2 19 1 16 2-13 1-29 2 54 1-20 2 3 1 12 2 0 1-9 2 58 1 6 2 39 1-46 2 44 1-18 2 5 1-40 1 51 2-64 1 70 2-72 1 62 2-67 1 34 2-14 1 13 2-42 1 9 2-23 1 65 2-106 1 58 2-36 1-12 2-21 1 21 2 3 1-5 2-51 1 33 2-13 1 70 2-108 1 107 2-61 1 24 2-5 1 62 2-82 1 52 2-27 1-25 2 51 1-32 2-45 1 85 2-77 1 27 1-24 2 13 1-2 2 6 1 61 2-10 1-29 2 58 1-38 2 33 1-14 2 84 1-80 2 19 1-88 2 60 1 28 2 5 1 10 2-21 1-20 2 44 1-69 2 56 1-37 2 9 1-8 2-13 1 26 2-14 1-32 2-4 1-8 2 36 1-18 2 56 1-79 2 13 1-27 2 36 1-32 1 82 2-27 1 39 2-60 1 36 2-33 1 45 2-96 1 57 2-81 1 74 2-20 1 24 2-27 1 35 2-10 1-20 2 20 1 11 2-87 1 35 2-40 1 32 2 20 1-20 2-11 1 49 2-42 1 61 2 24 1-32 2-30 1 0 2 22 1 37 2-19 1 1 2-89 1 104 2-84 1 36 2-6 1-6 1-76 2 55 1-1 2-43 1 17 2 32 1-76 2 92 1 6 2-17 1-50 2 27 1-44 2 73 1-98 2 71 1-25 2 38 1-52 2 21 1-7 2 53 1-51 2 89 1-108 2 23 1-8 2 53 1-106 2 81 1-22 2 40 1-105 2 51 1-13 2 9 1-32 2 95 1-57 2 16 1 4 1 92 2-121 1 79 2-58 1 84 2-41 1-35 2-39 1 90 2-55 1 25 2-29 1 65 2-56 1 38 2-37 1 51 2-81 1 85 2-75 1 34 2-56 1 57 2-66 1 26 2-21 1 57 2-63 1 77 2-38 1 101 2-59 1 13 2-40 1 11 2-2 1 43 2-85 1-15 2-40 1 74 2-31 1-9 1-4 2 28 1-2 2 13 1-92 2 30 1-6 2 26 1 50 2-67 1 5 2 63 1-45 2 87 1-149 2 76 1-99 2 179 1-59 2-67 1 38 2 58 1-52 2-12 1 10 2-16 1-26 2 35 1 31 2-56 1-10 2 34 1-43 2 28 1-28 2 36 1-65 2 73 1-17 2 25 1-94 1 56 2-104 1 23 2-5 1 34 2-19 1 57 2-1 1 1 2-19 1-10 2-5 1-6 2-33 1 117 2-98 1 71 2-59 1 11 2-15 1 27 2-45 1 81 2-15 1 12 2-13 1 11 2-50 1 9 2-78 1 105 2-25 1 21 2-54 1-1 2-18 1 66 2-63 1 92 2-119 1 69 1-44 2 22 1 18 2 48 1-101 2 93 1-70 2 28 1-4 2-16 1-56 2-15 1 22 2-15 1-83 2 66 1-32 2 59 1-4 2 17 1-13 2 23 1 5 2-18 1-10 2 111 1-111 2 70 1-45 2-19 1-9 2 1 1-30 2 66 1-32 2-76 1 25 2 9 1 16 2 76 1-115 2 25 1-10 1 141 2-83 1 38 2-23 1-13 2-52 1 57 2-26 1 16 2-17 1-48 2 9 1 54 2-56 1 90 2-91 1 97 2-46 1 78 2-107 1 67 2-77 1 82 2-66 1 57 2-56 1 12 2-5 1-1 2-12 1-1 2-67 1 34 2 49 1-29 2-36 1 37 2-84 1 63 2-99 1 103 1-53 2 88 1-108 2 56 1-53 2 83 1-76 2 84 1-63 2 20 1-49 2 119 1-66 2-11 1-49 2 58 1-18 2 56 1-134 2 124 1-67 2 27 1-27 2 26 1-15 2 86 1-54 2 30 1 2 2 54 1-86 2 89 1-36 2 53 1-27 2-3 1 30 2 2 1 9 2 87 1-87 2 75 1-18 1-17 2 5 1 42 2-85 1 116 2-82 1 51 2-97 1 41 2 38 1-33 2 3 1 32 2-22 1 27 2-75 1 40 2-14 1 51 2-32 1-19 2 56 1 27 2-83 1 51 2-36 1 77 2-120 1 114 2-66 1 69 2-95 1 66 2-28 1 31 2-75 1 13 2 15 1 30 2-44 1 29 1 11 2 54 1-127 2 73 1-19 2 31 1-31 2 28 1-4 2 31 1-43 2-28 1-2 2 37 1-16 2 58 1-3 2 34 1-150 2 112 1-70 2 3 1-9 2 60 1-28 2 61 1-94 2-5 1 22 2 42 1-71 2 59 1-4 2 12 1-60 2 70 1-52 2 73 1 34 2-34 1 29 1-34 2 0 1 74 2-68 1 32 2-89 1 47 2-26 1 27 2-76 1 94 2-20 1 72 2-55 1-50 2 19 1-23 2 6 1 38 2-55 1 45 2-76 1 38 2-99 1-12 2-25 1 37 2-60 1 32 2-77 1-11 2 30 1-14 2-112 1 36 2 23 1-25 2-50 1 58 2-39 1 48 2-18 1 0 1-56 2 70 1-50 2 111 1-117 2 48 1-49 2 36 1-34 2 43 1-41 2 47 1-25 2 54 1-88 2 12 1-5 2 15 1-20 2 10 1 20 2-20 1-7 2 36 1-13 2-16 1-5 2 48 1-42 2 63 1-76 2 80 1-78 2 95 1-102 2 30 1-1 2 21 1-4 1 44"/>
<path class="s" stroke="#fa7c17" d="M82 953l2 35 1 17 2-22 1 19 2-29 1-3 2 20 1-19 2 8 1-50 1 37 2 5 1 38 2-30 1 53 2-64 1 20 2-29 1 50 2-39 1 57 2-38 1 109 2-64 1 45 2-32 1 12 2 15 1 42 2-41 1 3 2 2 1 27 2 4 1 13 2-26 1 49 2-50 1 51 2-56 1 23 2-43 1 12 2-25 1 19 2-35 1 49 2-25 1 15 2-46 1 69 1-71 2 34 1-16 2 15 1-39 2 49 1 3 2-29 1-13 2 24 1-18 2 44 1-21 2-28 1-16 2 39 1-11 2 6 1-36 2 4 1-57 2 19 1-12 2 0 1-16 2 39 1-47 2 9 1-14 2 23 1-57 2 81 1-48 2-18 1-27 2 28 1-63 2 42 1-32 2 12 1 25 1 0 2-12 1-14 2-35 1 32 2 9 1-24 2-23 1 49 2-57 1 62 2-48 1 31 2-58 1 39 2-71 1 22 2 5 1 12 2-18 1 13 2 15 1 0 2-1 1 20 2 15 1-40 2 12 1 5 2-15 1 63 2-71 1 10 2-30 1 24 2-20 1-1 2-13 1 49 2-54 1 14 2 12 1-7 1 2 2 29 1-75 2 34 1-14 2-23 1-46 2 52 1-43 2 5 1-16 2 28 1-15 2 16 1-32 2 78 1-132 2 34 1-28 2 41 1-7 2 54 1-37 2 8 1-22 2-40 1 21 2 54 1-81 2 55 1-38 2 73 1-73 2 27 1-28 2 55 1-19 2 0 1-8 2 78 1-98 1 90 2-87 1 76 2-65 1 41 2-14 1 19 2-62 1 92 2-57 1 18 2-13 1 45 2-83 1 50 2-16 1-7 2 41 1 16 2-72 1 85 2-44 1-4 2 13 1 41 2-57 1 16 2-22 1 15 2-28 1 0 2-5 1 40 2-21 1-7 2-57 1 51 2-24 1 51 2-78 1 93 2-14 1-40 1-2 2 42 1-19 2-11 1-3 2 11 1 5 2 21 1 4 2 14 1-22 2 78 1-46 2 29 1-45 2 67 1-72 2 53 1-35 2 74 1-41 2 27 1-31 2 30 1-14 2 19 1 27 2-1 1-11 2 37 1-33 2 32 1 17 2 1 1-7 2 9 1-14 2 1 1 15 2-16 1-42 1 8 2-2 1 45 2-31 1 1 2-32 1 44 2-44 1 41 2 7 1 17 2 3 1 20 2-33 1 10 2-4 1 30 2-24 1 39 2-4 1 16 2-25 1 2 2 22 1-38 2 13 1 15 2-12 1 19 2-33 1 53 2-21 1-4 2-17 1 29 2-31 1 36 2-28 1 57 2-36 1 41 2-56 1-2 1-43 2 74 1-37 2 56 1-53 2 105 1-87 2 28 1-6 2-28 1-28 2 67 1-10 2 16 1-25 2-4 1-4 2-32 1-9 2 61 1-20 2-74 1 1 2 44 1-58 2 40 1-29 2 8 1-17 2 6 1-30 2 53 1-11 2-37 1-15 2 53 1-52 2 27 1-94 2 88 1-14 1-26 2 14 1 2 2 2 1-3 2 5 1 49 2-109 1 42 2-33 1 42 2-26 1 18 2 0 1-2 2-37 1 59 2-98 1 49 2 25 1 4 2-11 1 40 2-29 1 31 2-37 1 46 2-70 1 40 2-45 1 25 2-6 1 32 2-59 1 63 2-51 1 42 2-15 1 32 2-78 1 35 1 11 2 28 1-45 2 33 1-53 2 15 1-32 2 52 1-17 2-9 1-19 2 16 1-66 2 75 1-21 2 10 1-76 2 41 1 21 2-2 1-16 2-6 1-36 2 61 1-60 2 81 1-67 2 57 1-49 2 34 1-64 2 48 1-53 2 56 1-91 2 64 1-56 2-6 1 22 2 33 1-1 2 7 1 5 1-18 2 8 1 60 2-94 1 53 2-30 1 42 2 15 1 23 2 20 1-30 2 4 1-15 2-11 1 21 2-18 1-4 2-45 1 32 2-42 1-4 2-14 1 62 2-90 1 36 2 12 1-27 2-40 1 26 2 27 1 18 2-16 1 4 2-6 1 73 2-67 1 15 2-10 1 40 2-35 1 77 1-25 2 16 1-42 2 36 1-26 2 15 1 24 2 15 1 25 2-8 1-55 2 56 1-14 2 17 1-40 2 41 1-55 2 26 1-21 2-31 1-1 2 89 1-61 2 13 1-13 2-8 1-13 2 19 1 2 2 14 1-28 2 19 1-9 2-13 1 31 2-29 1-34 2 54 1-19 2 4 1-48 2 56 1-41 1 54 2-41 1 30 2-16 1 53 2-56 1 51 2-40 1 64 2-41 1 46 2-76 1 73 2-74 1 59 2 4 1-44 2-62 1 92 2-67 1 87 2-49 1 15 2-1 1 24 2-37 1 44 2-37 1-4 2-15 1 42 2-29 1 35 2-12 1 9 2-17 1 28 2-44 1 36 2-58 1 50 1-15 2 53 1-64 2 34 1-44 2 64 1-41 2 47 1-48 2 27 1-84 2 45 1-37 2 26 1-6 2 19 1-58 2 66 1-39 2 11 1-49 2 59 1-51 2 13 1-36 2 27 1-26 2 23 1-5 2 30 1-67 2 72 1-49 2 57 1 4 2 12 1-20 2 8 1-37 2 34 1 3 1 68 2-83 1 43 2-18 1 22 2-43 1 47 2-63 1 92 2-48 1 2 2-8 1 85 2-79 1 24 2 60 1 54 2-64 1-12 2-55 1 52 2-47 1 79 2-64 1 19 2 39 1-73 2-20 1 38 2 6 1-5 2-55 1 54 2-27 1 1 2-45 1 41 2-27 1 56 2-10 1-6 2-24 1 22 1-19 2 57 1-44 2 46 1-73 2 66 1-35 2 40 1-51 2 74 1-74 2 54 1-74 2 48 1-45 2 65 1-52 2 66 1-70 2 44 1-51 2 33 1-22 2 40 1-7 2-4 1 6 2-7 1-19 2 50 1-50 2 21 1-50 2 53 1-7 2-31 1 26 2 9 1-51 2 83 1-34 1 21 2-27 1 5 2 38 1-35 2-34 1 45 2 15 1 31 2-46 1 5 2-39 1 21 2-19 1 97 2-54 1-27 2 5 1 30 2-61 1 42 2-72 1 31 2-23 1 14 2 12 1 29 2-13 1 27 2-14 1 0 2-5 1 15 2-60 1 78 2-41 1 0 2 3 1 8 2 6 1 36 2-38 1 35 1-23 2-29 1 1 2 45 1 2 2 6 1-39 2 20 1-62 2 34 1-72 2 69 1-40 2 42 1 9 2-8 1-12 2 43 1-36 2 32 1-6 2 24 1-2 2-11 1-18 2 13 1 5 2 2 1-22 2-1 1-50 2 14 1-2 2 13 1-25 2 49 1-15 2-10 1 11 2 11 1 2 1 32 2-28 1 24 2-20 1 18 2-42 1 30 2-59 1 79 2-46 1 31 2-90 1 34 2-41 1 93 2-112 1 76 2-63 1 27 2 17 1 42 2-62 1 25 2-31 1 59 2-87 1 62 2-17 1-16 2-15 1 41 2-46 1 22 2 22 1 38 2-38 1 39 2-47 1 17 2 30 1-9 1-41 2 80 1-32 2 4 1-7 2 35 1-63 2 47 1 4 2 24 1-66 2 84 1-62 2 71 1-114 2 40 1-21 2-4 1-8 2 7 1-23 2 31 1-71 2 18 1-41 2 41 1-66 2 119 1-62 2-8 1 7 2 22 1-21 2 61 1-79 2 9 1 15 2 46 1-50 2 19 1-4 2 21 1 7 1-2 2-23 1-16 2 76 1 39 2-97 1 41 2 23 1 55 2-49 1 57 2-41 1 22 2-63 1 14 2 6 1 15 2-13 1 18 2-58 1 61 2-53 1 38 2-72 1 70 2-41 1 26 2-42 1 67 2-93 1 53 2-34 1 41 2-58 1 30 2-29 1 22 2-98 1 112 2-42 1 1 1-24 2 52 1-52 2 33 1-18 2 27 1-3 2 20 1 10 2-5 1-14 2 81 1-83 2 26 1 33 2-3 1 11 2 15 1 1 2 56 1-54 2 16 1-34 2 65 1-46 2 20 1-24 2 2 1 12 2 8 1-49 2 35 1 36 2-3 1 7 2-8 1-42 2 31 1-60 2 47 1-40 2-38 1 26 1 16 2-26 1-27 2-28 1 80 2-102 1 105 2-50 1 6 2-10 1 23 2-56 1 14 2 16 1 26 2-14 1 8 2-13 1 19 2 24 1-4 2-81 1 58 2 12 1 21 2-20 1 47 2-53 1 50 2-12 1 36 2-59 1 39 2-50 1 29 2-31 1 22 2 5 1 51 2-29 1-23 1 0 2 54 1-103 2 69 1-47 2 27 1-1 2-5 1-34 2 3 1-2 2 55 1-77 2 49 1-77 2 22 1 28 2 21 1-54 2 32 1-53 2 3 1-22 2 4 1 5 2 44 1-4 2-19 1-53 2 65 1-25 2 31 1-59 2 57 1-22 2 38 1-50 2 34 1-3 2 76 1-52 1 37 2-13 1 69 2-83 1 69 2-39 1 8 2 36 1 10 2-36 1 43 2-56 1 66 2-38 1 18 2 3 1 17 2-36 1 44 2-5 1-12 2-5 1 49 2-59 1 26 2-20 1 33 2-48 1 26 2-37 1 46 2-3 1 24 2-12 1-16 2-61 1 71 2-75 1 57 2-8 1-5 2-27 1 44 1-24 2 6 1-3 2 10 1 12 2 18 1-43 2 65 1-46 2 32 1-28 2 48 1-82 2 69 1-67 2 11 1-15 2 60 1-48 2 57 1-75 2 54 1-9 2 56 1-56 2 54 1-44 2 34 1-50 2 74 1-46 2-7 1-20 2 70 1-11 2 9 1-62 2 31 1-21 1 31"/>
<path class="s" stroke="#328c06" d="M82 799l2 33 1-34 2 42 1-40 2 45 1-74 2 54 1 10 2-74 1 13 1 46 2-89 1 44 2-60 1 17 2-10 1 2 2-14 1 46 2-94 1 100 2-63 1 45 2-69 1 60 2-44 1 57 2-44 1 55 2-50 1 63 2-66 1 19 2-32 1 31 2-50 1 64 2-19 1 23 2-53 1 27 2 6 1-24 2-17 1 21 2 34 1-2 2-6 1-6 2-20 1 57 1-51 2 61 1-67 2 62 1-52 2-5 1-20 2 53 1-18 2 41 1-40 2 18 1-61 2 59 1-68 2 31 1 33 2-14 1-21 2 94 1-84 2 27 1 7 2 39 1-84 2 22 1-33 2 63 1 30 2 65 1-109 2 67 1-8 2 23 1-43 2 16 1 11 2-18 1-30 2 26 1-13 1 35 2-61 1 65 2-69 1 85 2-34 1 70 2-42 1 12 2-2 1 32 2-32 1-12 2-12 1 103 2-38 1 33 2-56 1 71 2-75 1 55 2-66 1 41 2-19 1 48 2-43 1 57 2-55 1 30 2 6 1-21 2-47 1 40 2-16 1 14 2-20 1 53 2-37 1 5 2 17 1-18 2-5 1 48 1-72 2 31 1-32 2 59 1-43 2 9 1 7 2-8 1-47 2 82 1-82 2 56 1-14 2 24 1-31 2 51 1-26 2 32 1-41 2 5 1-39 2 20 1-10 2 42 1-61 2 48 1-126 2 59 1-29 2 62 1-47 2 12 1 22 2 7 1-33 2-37 1 9 2 21 1-39 2 64 1-15 1-9 2-13 1 53 2-60 1 34 2-14 1 34 2-78 1 48 2-51 1 74 2-47 1 44 2-5 1-7 2-24 1 38 2-21 1 20 2-25 1 62 2-18 1-10 2-8 1 41 2-44 1 23 2-15 1 25 2-14 1 45 2 3 1-33 2-17 1 9 2 0 1 6 2-26 1 47 2-29 1 65 2-93 1 80 1-44 2 6 1-14 2 13 1-2 2 17 1-55 2 88 1-47 2 35 1-42 2 48 1-68 2 54 1-42 2 48 1-17 2-14 1-33 2 50 1-22 2 19 1-35 2 35 1 10 2-26 1-13 2 90 1-16 2-18 1-8 2-17 1-14 2 17 1 41 2-36 1 14 2 7 1-17 2 38 1-34 1 15 2 0 1 64 2-41 1 0 2-48 1 85 2-70 1 27 2-63 1 17 2-28 1 33 2-73 1 96 2-61 1 16 2-23 1 21 2-11 1 17 2-12 1-8 2 30 1 52 2-36 1 3 2-50 1 44 2 9 1 20 2-8 1-11 2 8 1 45 2-51 1 47 2-19 1 43 2-31 1-18 2-6 1 29 1-66 2 81 1-55 2 46 1-73 2 46 1-43 2 40 1-42 2 50 1-57 2 34 1-57 2 59 1-27 2 30 1-39 2 20 1-19 2 82 1-125 2 58 1 8 2 42 1-50 2 6 1-57 2 69 1-42 2 0 1-22 2 71 1-114 2 39 1 26 2 14 1-19 2 3 1-84 2 101 1 1 1 35 2-69 1 33 2-2 1 31 2-12 1 23 2-84 1 90 2-37 1 28 2-27 1 11 2-3 1 4 2-31 1 74 2-41 1 31 2-16 1 18 2-50 1 65 2-75 1 105 2-94 1 31 2-27 1 57 2-66 1 19 2-8 1 30 2 6 1-22 2 3 1 15 2-10 1 62 2-45 1 38 1-60 2 23 1-28 2 25 1-13 2 22 1-41 2 41 1-51 2 55 1-39 2 27 1-38 2 18 1-9 2 12 1 28 2 24 1-87 2 51 1-43 2 84 1-77 2 24 1-26 2 6 1 7 2 26 1-87 2 40 1-21 2 41 1-63 2 38 1-52 2 28 1-14 2-7 1 26 2-16 1 16 2 0 1-51 1 63 2-9 1 28 2-57 1 24 2-38 1 0 2 27 1-18 2-9 1 3 2 8 1-23 2 32 1-30 2-70 1 36 2-49 1 92 2-84 1 4 2-11 1 41 2-35 1 28 2-11 1-35 2 81 1-25 2-5 1 0 2-21 1 58 2-31 1-35 2-14 1 71 2-35 1 45 2-42 1 46 1-26 2 53 1-64 2 58 1-40 2 26 1-32 2 73 1-81 2 71 1-73 2 46 1 27 2-34 1-7 2 34 1-15 2 46 1-70 2 82 1-48 2 56 1-70 2 46 1-1 2 28 1-57 2 30 1-26 2 28 1-62 2 32 1 29 2-13 1-15 2 28 1 1 2 19 1-42 2 23 1-16 2 22 1-23 1 47 2-99 1 80 2-22 1-12 2-9 1 58 2-67 1-1 2 34 1-23 2-15 1 26 2-28 1 20 2-18 1 13 2-27 1 11 2 13 1 21 2-22 1 26 2-24 1 46 2-51 1 17 2-1 1 21 2-19 1 50 2-15 1 56 2-61 1 29 2 5 1-10 2 6 1 24 2 3 1-5 1-33 2 43 1-43 2 68 1 10 2 2 1-61 2 38 1-34 2-22 1 55 2 11 1-60 2 49 1-61 2 82 1-38 2 16 1-65 2 72 1 1 2-2 1-20 2 4 1 1 2 42 1-79 2 47 1-56 2 65 1-70 2 72 1-51 2 17 1-48 2 74 1-16 2 11 1-43 2 47 1-32 1-22 2-33 1 37 2 17 1 77 2-91 1 53 2-43 1 2 2 21 1 48 2-76 1 32 2 21 1-3 2-29 1 27 2-14 1 9 2-6 1 23 2-26 1 37 2-31 1 49 2-78 1 65 2-42 1 30 2-50 1 79 2-16 1-2 2 6 1 51 2-22 1 31 2-41 1 23 2-58 1-4 2-68 1 86 1-72 2 79 1-41 2 25 1 29 2-16 1-16 2 29 1-45 2 19 1-48 2 60 1-39 2 9 1-29 2 43 1-30 2 52 1-67 2 116 1-120 2 38 1-49 2 61 1-59 2 63 1-28 2-13 1 31 2 5 1-59 2 41 1-20 2 26 1-56 2 31 1-27 2 58 1-60 2 56 1-55 1 17 2-34 1 32 2-26 1 82 2-42 1 13 2-1 1-3 2 0 1-4 2 2 1 22 2-51 1 26 2-58 1 50 2 2 1-9 2-15 1 69 2-46 1 11 2-36 1 25 2-32 1 58 2-35 1 13 2 2 1 7 2-20 1 46 2-29 1 16 2-24 1 67 2-50 1 56 2-68 1 45 2-54 1 56 1-22 2-9 1-7 2 18 1-41 2 65 1-95 2 98 1-57 2 5 1 6 2 8 1-39 2 62 1-22 2 18 1-12 2 8 1-39 2 3 1-1 2 69 1-48 2 50 1-37 2-2 1-37 2 6 1 15 2 17 1-34 2 34 1 10 2-27 1 18 2 37 1-20 2-1 1 6 2 5 1-48 1 60 2-20 1 4 2 1 1 15 2 1 1 21 2-10 1 3 2-6 1 18 2-34 1 50 2-120 1 65 2-34 1 51 2-39 1 46 2-69 1 59 2-12 1 46 2-72 1 23 2-39 1 55 2 16 1-15 2-40 1 4 2 19 1-13 2 22 1-26 2 26 1-16 2-22 1 26 2 0 1 36 1-96 2 73 1 5 2-11 1-33 2 61 1-96 2 65 1-44 2 74 1-41 2 34 1-1 2-15 1-61 2 30 1 4 2-3 1 21 2-21 1-14 2 46 1-63 2 30 1-28 2 63 1-49 2 19 1 16 2 6 1-21 2 22 1-20 2 22 1-21 2 7 1 0 2 7 1-22 2 56 1-56 2 47 1-12 1-12 2-24 1 63 2-26 1-9 2 33 1-19 2-38 1 57 2-18 1 34 2-54 1 0 2-4 1 61 2-75 1 46 2-9 1 54 2-91 1 37 2-14 1 17 2-74 1 44 2 2 1 48 2-62 1 33 2 12 1-44 2-9 1 45 2-20 1 13 2-4 1 8 2-49 1 43 2 3 1 30 1-25 2 11 1-84 2 17 1-25 2 106 1-87 2 66 1-37 2 30 1-9 2-19 1 2 2 35 1-47 2 32 1-6 2-3 1-38 2 52 1-35 2 24 1-62 2 24 1-40 2 48 1-22 2 14 1-12 2 12 1-19 2 3 1-50 2 51 1-11 2-18 1 7 2 36 1-52 2 52 1-71 2 40 1 12 1 13 2-28 1 47 2-65 1 94 2-28 1-8 2-13 1-8 2-10 1 40 2-49 1 51 2-27 1 36 2-70 1 35 2 15 1 8 2-3 1 38 2-43 1 16 2-29 1 56 2-31 1-18 2 18 1 45 2-83 1 34 2-10 1 5 2-18 1 36 2 10 1 6 2-31 1-7 2-13 1 32 1-46 2 45 1-39 2 35 1-19 2 86 1-76 2 45 1-54 2 50 1-38 2 32 1-31 2 46 1-60 2 6 1-27 2 36 1-42 2 77 1-32 2 12 1-23 2 45 1-11 2-8 1-3 2 57 1-42 2 0 1 26 2-17 1-42 2 55 1-29 2 53 1-45 2 63 1-55 2 10 1 6 1-51 2 48 1 30 2-64 1 61 2-26 1 19 2 1 1-26 2-31 1 41 2-14 1 31 2 4 1 13 2-45 1 52 2-25 1 32 2-16 1 53 2-35 1 13 2-18 1 32 2-31 1 6 2-6 1 47 2-15 1-12 2-5 1 46 2-25 1 3 2-25 1-3 2 16 1 55 2-68 1 26 2-23 1 59 1-21 2 16 1-1 2 11 1-45 2 18 1-18 2 7 1-36 2 55 1-42 2 49 1-2 2-19 1 2 2 22 1-52 2 48 1-64 2 65 1-32 2 10 1-15 2 3 1-17 2 32 1-22 2-4 1-35 2 66 1-104 2 53 1 6 2 13 1-21 2 21 1 14 2-14 1-10 1-7"/>
<path class="s" stroke="#c10c90" d="M82 568l2 5 1-45 2 83 1-34 2-57 1 45 2 14 1-44 2 67 1-14 1 71 2-133 1 43 2-14 1-24 2-23 1 89 2-79 1 33 2-50 1 65 2-70 1 47 2-65 1 7 2 2 1 25 2-52 1-4 2-11 1 103 2-90 1 53 2-88 1 61 2-104 1 63 2-46 1 75 2-7 1-60 2 55 1 65 2-59 1-73 2 76 1 28 2-62 1 13 2-27 1 94 1-102 2 80 1-35 2 27 1-20 2 1 1-26 2 104 1-102 2-1 1 14 2 28 1 1 2 25 1-12 2-2 1-57 2 73 1-18 2 54 1-64 2 22 1-28 2-13 1 21 2 9 1-24 2 29 1-60 2 70 1-5 2-22 1 53 2-21 1-4 2 69 1-5 2 24 1 14 2 40 1-82 1 25 2-1 1-24 2 2 1 67 2-107 1 43 2-2 1 47 2-74 1 31 2-65 1 77 2-82 1 122 2-37 1-18 2-35 1 43 2-41 1 33 2-68 1 32 2-23 1 29 2-28 1 16 2 63 1 1 2 9 1 27 2-85 1 99 2-61 1 13 2-27 1 1 2 9 1 36 2-22 1 17 2-66 1 48 1-83 2 42 1-4 2 49 1-99 2 96 1-99 2 91 1-21 2 21 1 9 2-38 1 42 2-75 1 1 2 86 1-39 2-5 1-39 2 87 1-86 2 40 1-19 2-22 1-21 2 33 1-7 2 23 1-58 2 58 1-52 2-8 1 10 2-9 1-2 2-1 1-21 2 48 1-69 2-2 1-75 1 94 2-108 1 123 2-54 1-24 2 51 1 45 2-74 1 17 2-15 1 74 2-57 1 62 2-54 1 31 2-1 1 15 2-71 1 55 2-39 1 11 2-72 1 123 2-33 1 71 2-96 1 74 2-15 1-16 2 27 1 53 2-110 1 95 2 2 1 19 2-38 1 77 2-62 1 50 2-64 1 65 2-15 1-21 1-5 2 18 1-64 2 104 1-74 2 59 1-24 2-8 1-57 2 38 1-9 2 94 1-59 2-4 1-2 2 28 1-63 2 86 1-63 2 48 1-17 2-29 1 17 2 21 1-45 2 90 1-33 2-40 1 3 2 66 1-28 2-36 1-13 2 42 1-59 2 44 1-78 2 18 1 24 2-27 1-50 1 43 2 27 1-44 2 24 1 64 2 13 1-11 2-53 1 24 2-24 1 2 2-18 1 119 2-84 1 49 2-17 1 43 2-69 1 79 2-99 1 51 2-15 1 11 2-99 1 115 2-63 1 23 2-31 1 21 2-50 1 60 2-51 1 59 2-45 1-16 2 10 1 7 2-65 1 101 2-66 1 74 2-70 1 35 1-18 2-34 1-4 2 1 1-56 2 68 1-16 2 27 1-26 2-33 1 65 2 29 1-61 2 38 1 36 2-2 1-36 2 30 1-45 2 37 1 11 2 26 1-38 2 23 1-57 2-24 1 18 2 33 1-53 2 22 1-42 2 75 1-72 2 22 1-40 2 60 1 20 2-2 1-31 2 26 1-15 1 33 2-48 1 50 2-43 1 34 2-56 1 41 2 16 1-11 2-25 1 50 2-74 1 45 2-12 1 13 2-51 1 37 2-78 1 47 2-4 1 11 2-11 1 7 2-31 1 46 2-51 1 35 2-42 1 59 2-18 1-19 2-42 1 83 2-23 1 56 2-66 1 86 2-87 1 19 2-14 1 64 1-87 2 69 1-57 2 82 1-102 2 114 1-70 2 97 1-123 2 36 1 13 2-11 1-24 2 19 1-3 2 20 1 18 2-4 1-46 2 34 1-38 2 48 1-83 2 60 1-4 2 3 1-45 2 68 1-47 2-9 1 21 2 36 1-41 2 92 1-40 2 11 1-39 2 32 1-75 2 84 1-65 2 46 1-33 1 51 2-20 1-26 2-7 1 44 2-22 1-7 2 6 1 21 2-39 1 33 2-28 1-26 2 65 1 5 2-50 1 46 2-4 1 7 2-51 1 33 2-23 1 32 2-25 1 8 2 20 1 7 2-70 1 71 2-57 1 64 2-32 1 23 2 47 1-19 2-10 1 25 2-41 1-17 2 20 1 27 1-79 2 61 1-62 2 98 1-66 2 84 1-77 2 34 1-20 2 1 1-29 2 51 1-65 2 85 1-99 2 79 1-34 2 1 1-18 2 57 1-4 2-12 1 16 2 30 1-97 2 75 1-23 2 34 1 33 2-55 1-11 2 28 1 7 2 45 1-102 2 49 1 34 2 13 1-5 2 5 1-35 2 61 1-33 1 67 2-75 1 81 2-6 1 30 2-77 1 8 2-6 1 12 2-23 1 25 2-24 1 89 2-55 1 70 2-50 1 42 2-87 1 34 2-65 1 18 2 2 1 56 2-32 1 26 2-48 1 50 2-41 1 98 2-65 1 27 2-69 1 76 2-40 1-7 2 1 1-31 2-9 1 1 2 6 1 13 1-8 2 24 1 6 2 64 1-113 2 78 1 5 2 28 1 3 2 26 1-54 2 40 1-30 2 42 1-38 2 4 1 40 2-9 1-25 2 25 1-9 2-7 1 20 2-15 1-51 2 6 1 13 2 58 1-69 2 55 1-22 2-26 1 33 2-9 1-8 2 54 1-82 2 0 1-16 2 51 1-66 1 7 2 8 1 1 2 34 1 21 2-76 1 27 2 13 1 47 2-54 1-50 2 21 1 28 2-27 1 31 2-39 1 41 2-9 1-19 2 5 1 44 2-38 1 24 2-49 1 48 2 28 1-14 2-4 1 105 2-87 1-18 2-35 1 89 2-57 1 21 2-50 1 64 2-79 1 26 2-60 1 82 2-52 1 55 1 4 2-15 1-53 2 65 1-75 2 1 1-7 2 63 1-29 2 53 1-81 2 30 1-4 2 9 1-44 2 17 1 22 2-7 1-8 2-20 1-17 2 13 1-8 2 90 1-83 2 54 1-60 2 58 1-44 2 37 1-27 2 5 1 10 2 7 1-41 2 16 1-48 2 72 1 22 2 27 1-107 1 50 2-29 1 15 2-4 1 55 2-100 1 26 2-2 1-11 2-48 1 57 2 28 1-55 2-28 1 59 2-53 1 71 2-47 1 88 2-103 1 47 2-43 1-2 2-31 1 79 2-72 1 41 2-50 1 65 2-11 1 29 2-22 1 63 2-81 1 20 2-63 1 55 2-34 1 39 2 2 1-36 2-74 1 144 1-69 2 57 1-29 2-12 1-45 2-4 1 19 2 45 1-88 2 59 1-64 2 47 1-39 2 15 1-36 2 42 1-34 2 34 1-38 2 78 1-9 2 4 1-76 2 113 1-70 2 79 1-28 2 6 1-56 2 44 1-40 2 124 1-75 2 92 1-99 2-19 1 9 2 70 1-107 2 56 1-21 1 19 2-13 1 76 2-84 1 35 2-29 1 39 2-74 1 69 2-33 1 23 2-38 1 49 2 7 1 16 2-28 1 25 2-6 1 36 2-29 1 40 2-40 1 47 2-51 1 49 2-64 1 64 2 22 1-11 2-10 1-18 2 8 1 33 2-24 1 85 2-81 1 60 2-38 1 32 2-16 1-13 1-38 2 68 1-63 2 90 1-71 2 25 1-42 2 45 1-62 2 14 1 5 2 23 1-48 2 45 1-18 2 31 1-32 2 38 1-43 2 14 1-17 2 30 1 28 2 13 1-115 2 71 1-40 2 47 1-18 2 23 1 0 2-35 1-27 2 117 1-75 2-13 1-13 2 10 1-18 2 2 1 9 2 33 1 4 1 23 2-66 1 69 2-60 1 54 2-33 1 18 2-10 1 37 2-60 1 21 2-5 1-6 2 3 1 9 2-22 1-25 2 6 1 16 2-23 1 6 2-57 1 38 2-7 1 12 2-1 1 30 2 21 1 4 2-84 1 112 2-56 1-20 2-15 1 0 2-4 1 56 2-44 1 25 2-22 1 13 1-31 2 12 1-23 2 25 1-47 2 28 1-12 2 19 1-15 2 44 1-51 2 2 1-23 2-24 1-7 2 39 1-36 2 11 1-11 2 41 1-34 2 79 1-75 2 52 1-91 2 54 1-35 2 5 1-12 2 72 1-45 2 39 1-26 2 31 1-33 2-5 1 39 2-25 1-6 2 13 1-28 2 46 1-5 1 102 2-128 1 41 2 7 1 34 2-27 1-12 2-45 1 66 2-56 1 48 2-26 1-7 2-28 1 3 2 13 1 14 2-44 1 55 2-18 1-1 2-29 1 36 2-41 1 35 2-68 1 74 2-37 1 5 2-7 1 53 2-83 1 91 2-51 1 12 2-1 1 6 2-25 1 52 2-20 1 36 1-23 2 11 1-43 2 44 1-30 2 31 1-75 2 60 1-61 2 67 1-5 2 5 1-9 2-18 1-39 2 28 1 19 2 28 1-53 2 72 1-14 2 36 1-82 2 75 1-28 2-31 1 29 2 2 1-18 2 17 1-50 2 38 1-16 2 22 1-53 2-2 1-22 2 33 1 2 2 23 1-102 1 46 2-6 1 73 2-75 1 20 2-12 1 54 2-22 1 15 2-19 1 25 2-65 1 52 2-73 1 83 2-35 1-9 2 18 1 21 2-18 1-14 2 29 1 15 2-19 1 20 2 16 1 47 2-81 1 59 2 1 1-28 2 3 1 49 2-43 1 14 2-54 1 60 2 0 1 64 2-85 1 44 2-11 1 52 1 1 2 18 1-60 2 24 1 7 2 16 1-39 2 23 1-25 2 33 1-36 2 20 1-48 2 124 1-107 2 41 1-54 2 55 1-45 2 30 1-49 2 41 1-42 2 50 1-54 2 62 1-30 2 29 1 0 2 56 1-84 2 32 1-55 2 33 1 24 2 27 1-53 2 27 1-25 1 12"/>
</g>
<path class="h" stroke="#2a2eec" d="M3423.61 258.05h44.9"/>
<text class="t8" x="3486.34" y="266.95">Venezuela</text>
<path class="h" stroke="#fa7c17" d="M3423.61 292.03h44.9"/>
<text class="t8" x="3486.34" y="300.93">Colombia</text>
<path class="h" stroke="#328c06" d="M3423.61 326.01h44.9"/>
<text class="t8" x="3486.34" y="334.91">Ecuador</text>
<path class="h" stroke="#c10c90" d="M3423.61 359.99h44.9"/>
<text class="t8" x="3486.34" y="368.89">Panama</text>
<text class="t10 m" x="3511.57" y="212.10">South - Type D</text>
<text class="t8 e" x="3053.45" y="764.04">700</text>
<text class="t8 e" x="3053.45" y="647.72">800</text>
<text class="t8 e" x="3053.45" y="531.39">900</text>
<text class="t8 e" x="3053.45" y="415.06">1000</text>
<text class="t8 e" x="3053.45" y="298.74">1100</text>
<text class="t8" transform="translate(3088.87 901.05) rotate(-45)">2022</text>
<text class="t8" transform="translate(3224.65 901.05) rotate(-45)">2023</text>
<text class="t8" transform="translate(3360.44 901.05) rotate(-45)">2024</text>
<text class="t8" transform="translate(3496.59 901.05) rotate(-45)">2025</text>
<text class="t8" transform="translate(3632.38 901.05) rotate(-45)">2026</text>
<text class="t8" transform="translate(3768.16 901.05) rotate(-45)">2027</text>
<text class="t8" transform="translate(3903.94 901.05) rotate(-45)">2028</text>
</g>
<g>
<rect x="86.00" y="969.35" width="895.85" height="608.85" fill="#eeeeee"/>
<path class="g" d="M126.87 969.35v608.85M262.65 969.35v608.85M398.44 969.35v608.85M534.59 969.35v608.85M670.38 969.35v608.85M806.16 969.35v608.85M941.94 969.35v608.85M86.00 1561.83h895.85M86.00 1482.99h895.85M86.00 1404.16h895.85M86.00 1325.32h895.85M86.00 1246.49h895.85M86.00 1167.65h895.85M86.00 1088.82h895.85M86.00 1009.98h895.85"/>
<g transform="translate(86.00 969.35) scale(.5)">
<path class="s" stroke="#2a2eec" d="M82 226l2-6 1-28 2 16 1 11 2 92 1-129 2 21 1-94 2 123 1-22 1-8 2 27 1 39 2-59 1 13 2 44 1 10 2-18 1 10 2-42 1 77 2-52 1 29 2-82 1 79 2-41 1 69 2-77 1 52 2-40 1 41 2-52 1 38 2-52 1-10 2-1 1 43 2-30 1 20 2-23 1 57 2-18 1 37 2-108 1 111 2-24 1 14 2-42 1 36 2-90 1 72 1-15 2 22 1-3 2 27 1-56 2-1 1-4 2-3 1-23 2 32 1-86 2-15 1-36 2 50 1-27 2-4 1 49 2 43 1-69 2 55 1-66 2 42 1 7 2 71 1-73 2 91 1-39 2 31 1-51 2 17 1-60 2 64 1-2 2 39 1-10 2 53 1-10 2 15 1-105 2 63 1-23 1 45 2-22 1 56 2-32 1 60 2-8 1 37 2-18 1 47 2-91 1 106 2-28 1 16 2-27 1 11 2-63 1 92 2 28 1-15 2-30 1 37 2-26 1 27 2-29 1 50 2-71 1 75 2-39 1-17 2-21 1 7 2-25 1 37 2-51 1 62 2-33 1 6 2 22 1 42 2-56 1-8 2-45 1 36 1-23 2 1 1-21 2-34 1 22 2-15 1 37 2-71 1-58 2 66 1-54 2 11 1-7 2 26 1 1 2 11 1-3 2 40 1-42 2 30 1-27 2-8 1-20 2 1 1-22 2 69 1-67 2 16 1-43 2 90 1-68 2-1 1-27 2 110 1-94 2 98 1-113 2 60 1-47 2 8 1 5 1 55 2-63 1 38 2-37 1 76 2-62 1 42 2-68 1 115 2-71 1 8 2-2 1 21 2-70 1 55 2-35 1 34 2-19 1 7 2-64 1 23 2-42 1 8 2-43 1 67 2 6 1-17 2-17 1 8 2-49 1 35 2-106 1 110 2-48 1 29 2-16 1 43 2-56 1 76 2-77 1 53 2-52 1 122 1-62 2 33 1-35 2 16 1-33 2 36 1-42 2 24 1-15 2 36 1-10 2-18 1-9 2 34 1-51 2 53 1-29 2 29 1-55 2 20 1 4 2 21 1-53 2 107 1-86 2 44 1-48 2 38 1-66 2 44 1 26 2 55 1-75 2 26 1-10 2 75 1-104 2 30 1-25 2 11 1-16 1 9 2-74 1 82 2-17 1 31 2-72 1 20 2-50 1 108 2-81 1 60 2-78 1 40 2-87 1 29 2-19 1 105 2-54 1 6 2 12 1 42 2-55 1 33 2 9 1-26 2-48 1 132 2-53 1 115 2-61 1 65 2-19 1 56 2-38 1 3 2-40 1 5 2 40 1 26 2-65 1 57 2-26 1 49 1-44 2 44 1-107 2 50 1-93 2 33 1-31 2 48 1-48 2 34 1-31 2 1 1-87 2 30 1-24 2 37 1-74 2 139 1-67 2-1 1 3 2 8 1-68 2-2 1 12 2-36 1 30 2 40 1-47 2 49 1-23 2 42 1-5 2 74 1-90 2 36 1-9 2 61 1-41 2 21 1 32 1-2 2-37 1 11 2 69 1 3 2-3 1 53 2-43 1 13 2-13 1 7 2 3 1 42 2-28 1-16 2-26 1 51 2-67 1 32 2-1 1 54 2-21 1 4 2-32 1-26 2 16 1-4 2-51 1 13 2 8 1 48 2-125 1 108 2-34 1 25 2-23 1-25 2-69 1 99 2-95 1 53 1 9 2 34 1-16 2-34 1-88 2 99 1-55 2 62 1-57 2 6 1 32 2 35 1-74 2 12 1-19 2 60 1-42 2 49 1-51 2 77 1-25 2-4 1-10 2 30 1-42 2 45 1-1 2-36 1-20 2 51 1-103 2 83 1-132 2 43 1-37 2 48 1-48 2 50 1-69 2 54 1 8 2-31 1-35 1 34 2-40 1 13 2 52 1-8 2 0 1 80 2-81 1 57 2-4 1-9 2-80 1 40 2-23 1 17 2-49 1 79 2-66 1 8 2-15 1 36 2-27 1 103 2-35 1-18 2 17 1 25 2-20 1 20 2-20 1 32 2 5 1 60 2-40 1 84 2-88 1 58 2-13 1 17 2-33 1 27 1-17 2-31 1 77 2 1 1-36 2 22 1-58 2 119 1-68 2 37 1-48 2 95 1-56 2 37 1-49 2 60 1-90 2 56 1 10 2 29 1-40 2 66 1-42 2 16 1-13 2 48 1-39 2 72 1-55 2 27 1-34 2 7 1 24 2-16 1-40 2 18 1-10 2 27 1 43 2-30 1-39 2 31 1-24 1 10 2 8 1 10 2-40 1 51 2-22 1 34 2-24 1 57 2-20 1 85 2-73 1 2 2-15 1-27 2 111 1-59 2-41 1 54 2-46 1 50 2-13 1-14 2-71 1 52 2-10 1 47 2-43 1-12 2 9 1 55 2-1 1 34 2-50 1 30 2-76 1 1 2-7 1 34 2-11 1 5 1 0 2 23 1-85 2 92 1-40 2 24 1-42 2 46 1-42 2 55 1-63 2 45 1-54 2 47 1 9 2-12 1 6 2-51 1 27 2 54 1-58 2 63 1-40 2 18 1-47 2 32 1 62 2-1 1 14 2 3 1-64 2 67 1-10 2 59 1-58 2 16 1-5 2 8 1 27 2 46 1-95 1 48 2-8 1 44 2-44 1 22 2-16 1 30 2-6 1 25 2-74 1 81 2-4 1-26 2-24 1 38 2-56 1 16 2-44 1-30 2 44 1 11 2-53 1 55 2-22 1-31 2-23 1 30 2-63 1 60 2 14 1 24 2-43 1 62 2-21 1-14 2-11 1 78 2-45 1 34 2-34 1 15 2-43 1 40 1 8 2 30 1-75 2 18 1-15 2 31 1-93 2 71 1-39 2 31 1-32 2-12 1 24 2 39 1-35 2 6 1 6 2 15 1-16 2 8 1 1 2 33 1-76 2 67 1-28 2 83 1-97 2 71 1-19 2 13 1 14 2 4 1-28 2-46 1 9 2 11 1-30 2-6 1 3 2-32 1 30 1 40 2-73 1 95 2-58 1-7 2-3 1 17 2-35 1 81 2-65 1 53 2-27 1 21 2-69 1 35 2-33 1 83 2-94 1 87 2-26 1 7 2-59 1 28 2-51 1 108 2-78 1 36 2-40 1 52 2-72 1 54 2-49 1 90 2-92 1 82 2-41 1 28 2-13 1 13 2-38 1 44 2-6 1 37 1-64 2 21 1-2 2-8 1 22 2-3 1 19 2-6 1-25 2 28 1-42 2 22 1-14 2-7 1-7 2 55 1-27 2-5 1-47 2 33 1 20 2 6 1-59 2 67 1-74 2 104 1-49 2 22 1-53 2 61 1-22 2 29 1-53 2 68 1-42 2 40 1-79 2 25 1 8 2 90 1-78 1 71 2-60 1 10 2-23 1 39 2-25 1 21 2-24 1 49 2-67 1 121 2-102 1 63 2-16 1-10 2-34 1 37 2-26 1 12 2-42 1-8 2-11 1 60 2-90 1 43 2-30 1 93 2-77 1-21 2-19 1 47 2-95 1 19 2-52 1 24 2-14 1 58 2-18 1-3 2-8 1 57 1 6 2 5 1-3 2 11 1 0 2-7 1 27 2 32 1-85 2 80 1-51 2 74 1-119 2 104 1-47 2 10 1-2 2 28 1-13 2 36 1 6 2 15 1-46 2 10 1 35 2 22 1-13 2 44 1-23 2-2 1-45 2 57 1-62 2 81 1-81 2 43 1-24 2 33 1-23 2 34 1-50 2 15 1-39 1 79 2-70 1 64 2-86 1 57 2-14 1-6 2-28 1 64 2-36 1 49 2-25 1-23 2-20 1 20 2-40 1 46 2-19 1-2 2-32 1 77 2-78 1 84 2-71 1-11 2-36 1 55 2-15 1 37 2-25 1 26 2-61 1 73 2-51 1 44 2-76 1 59 2-38 1 17 2-42 1 103 1-93 2 48 1 6 2 38 1-49 2 22 1-22 2 24 1-26 2-12 1-28 2 57 1-78 2 68 1-70 2 52 1-5 2 36 1-26 2 45 1-71 2 4 1-10 2 54 1-36 2 37 1-58 2 66 1-37 2 8 1-54 2 1 1-16 2 57 1-115 2 78 1-14 2 43 1-26 2 36 1-32 2 30 1-44 1 39 2-81 1 88 2-34 1-24 2 8 1 62 2-22 1 19 2-19 1 39 2-20 1 51 2-86 1 51 2-37 1 29 2-51 1 118 2-80 1 43 2-54 1 37 2-50 1 45 2-12 1 62 2-70 1 41 2-13 1-7 2 5 1-27 2 3 1 100 2-72 1 43 2-98 1 72 2-58 1 66 1-50 2 54 1-93 2 58 1 35 2-55 1 33 2 40 1-32 2-43 1-21 2-13 1 2 2 69 1-25 2 14 1-47 2 70 1-60 2 2 1-26 2 16 1 28 2-34 1-10 2 20 1-67 2 85 1-44 2 4 1-50 2 11 1 15 2 13 1-32 2 17 1-8 2-20 1-63 2 30 1-27 1-8 2-29 1 116 2-83 1 71 2-108 1 72 2-84 1 30 2-5 1 12 2 18 1 36 2-7 1 11 2-38 1 62 2-15 1 41 2-26 1 7 2-34 1 66 2-29 1 26 2-11 1 28 2-3 1 18 2-16 1 8 2-25 1-2 2 19 1 30 2-66 1 82 2-31 1 7 2-37 1 15 2-42 1 17 1-21 2-6 1-1 2 56 1-61 2 94 1-63 2 74 1-57 2 5 1-8 2 35 1-35 2 13 1 53 2-18 1-29 2 49 1-45 2 37 1-55 2 64 1-37 2 31 1-31 2 16 1-51 2 16 1 13 2-29 1-20 2 61 1-9 2-30 1-11 2 38 1-15 2 62 1-79 1 87"/>
<path class="s" stroke="#fa7c17" d="M82 570l2 72 1-23 2 26 1-25 2 19 1-9 2 6 1-4 2 58 1-94 1 52 2-16 1 19 2-11 1-1 2-15 1 26 2-49 1 68 2-53 1 37 2-19 1-11 2-14 1 69 2-27 1-38 2-9 1 62 2-59 1 38 2-32 1 47 2-94 1 75 2-20 1 22 2 1 1-24 2 0 1-25 2 26 1-19 2-32 1 39 2 11 1 25 2-87 1 57 2-41 1 60 1-51 2 14 1-48 2 71 1-36 2 29 1-26 2 21 1-45 2 1 1-20 2 45 1-30 2 25 1-31 2 47 1-9 2 31 1-37 2 37 1-43 2 52 1-19 2-1 1-10 2 27 1-6 2 29 1-39 2 46 1-46 2 48 1-18 2 15 1-49 2 61 1-49 2 37 1-30 2-19 1-11 1 60 2-39 1 51 2-63 1 21 2-23 1 28 2-28 1 71 2-45 1 47 2-54 1 63 2-54 1 34 2 15 1 4 2 2 1 2 2-33 1 51 2 14 1-4 2-22 1 11 2-8 1 5 2-55 1 60 2-5 1-14 2-58 1 13 2 18 1-21 2-44 1 83 2-13 1 5 2-35 1 35 2-55 1 41 1-92 2 48 1-5 2-7 1 13 2 13 1-17 2 21 1 13 2 83 1-60 2 21 1-34 2 16 1-48 2 14 1 17 2 52 1-37 2 80 1-58 2 13 1-33 2 7 1-22 2 55 1-80 2 59 1-36 2 56 1-63 2 69 1-62 2 68 1-101 2 147 1-77 2 39 1-21 2-50 1 52 1-15 2-8 1-10 2-47 1 67 2-57 1 36 2-66 1 73 2-46 1 29 2-67 1 78 2-2 1 8 2-35 1 39 2-18 1 11 2-67 1 82 2-21 1 5 2 3 1 28 2-46 1-34 2 40 1 15 2-32 1 29 2 0 1-1 2-11 1 22 2-49 1 10 2-17 1 57 2-44 1 39 2 17 1 14 1-40 2 2 1-43 2 47 1-25 2 72 1-78 2 25 1-46 2 67 1-41 2 16 1-4 2 42 1-49 2 59 1-31 2-1 1-7 2 2 1-28 2 58 1-97 2 42 1-17 2 27 1 10 2 17 1-32 2-1 1-18 2 65 1-56 2 19 1-20 2 18 1-17 2 77 1-73 2 77 1-62 1 20 2-56 1 40 2-1 1 37 2 6 1 1 2-60 1 63 2-20 1 36 2-27 1 65 2-80 1 47 2-16 1 2 2-13 1 41 2-33 1 61 2-74 1 58 2-60 1 113 2-102 1 56 2-41 1 38 2-42 1 90 2-72 1 35 2-51 1 49 2 2 1 4 2-22 1 17 2-5 1 12 2-72 1 32 1 1 2-16 1-10 2 41 1-20 2-13 1-39 2 46 1-25 2-4 1-6 2 81 1-44 2 37 1-5 2-8 1-33 2 20 1-7 2 22 1-56 2 26 1-24 2 19 1-31 2 42 1-24 2 54 1-71 2 28 1-6 2 18 1-17 2 33 1-68 2 15 1-21 2 32 1-3 2 28 1-23 1-36 2 22 1-1 2-25 1-1 2 65 1-35 2-39 1 24 2-20 1 17 2-56 1 43 2-5 1 18 2 8 1-50 2-36 1 90 2-7 1-11 2 26 1 8 2-28 1 19 2-35 1 30 2-32 1 34 2-18 1 17 2 4 1 41 2-52 1 34 2-33 1 8 2-35 1 36 2-33 1 29 1 11 2-6 1-22 2 24 1-37 2 53 1-36 2 38 1-48 2 37 1-7 2-14 1-16 2 21 1-1 2 85 1-104 2 30 1-44 2 68 1-59 2 61 1 2 2-54 1 31 2-31 1 1 2 26 1-47 2 47 1-43 2 7 1 15 2-19 1-35 2 31 1-42 2 45 1-71 2 77 1-44 2 54 1-67 1 42 2-41 1 35 2-27 1-7 2 13 1-10 2-36 1 36 2-75 1 57 2-6 1 16 2 4 1 70 2-72 1 46 2-13 1 40 2-47 1 37 2-61 1 75 2-56 1 21 2-24 1 51 2-27 1-1 2 15 1-1 2-21 1 11 2 14 1-6 2-29 1 23 2-7 1 17 2 14 1-4 1-57 2 64 1 0 2-4 1-27 2 0 1-19 2 25 1-13 2 40 1-46 2 33 1-44 2 40 1-45 2 62 1-34 2-18 1 25 2 5 1 2 2 26 1 7 2-24 1-31 2 52 1-46 2 80 1-64 2 44 1 1 2 26 1-33 2 20 1-9 2 9 1-27 2 37 1-13 2 20 1-60 2 74 1-73 1 41 2-92 1 60 2-12 1 7 2-8 1 14 2-31 1 52 2-16 1 39 2-34 1 58 2-21 1 15 2-38 1 20 2 5 1-15 2-4 1 30 2-6 1 25 2-68 1 40 2-22 1-30 2 5 1 57 2-32 1-18 2-37 1 65 2-53 1 47 2-47 1 65 2-75 1 36 2 6 1 4 1-11 2 25 1-54 2 30 1-23 2 30 1-23 2 42 1-31 2 6 1 5 2 16 1-46 2 32 1-3 2-25 1 4 2 42 1-41 2 16 1-31 2 89 1-78 2 35 1-31 2 40 1-1 2 49 1-24 2-35 1 6 2 39 1-1 2 18 1-23 2 77 1-31 2 20 1-53 2 26 1-53 1 46 2-22 1-31 2 51 1 24 2-34 1 29 2-51 1 26 2-60 1 75 2-75 1 65 2 1 1 25 2-3 1-10 2-44 1 79 2-54 1-11 2 7 1 15 2-50 1 72 2-9 1-28 2 16 1-8 2-34 1 28 2-38 1 67 2-59 1 59 2-30 1 23 2-45 1 27 2-27 1 35 2-54 1 60 1-33 2 53 1-24 2 5 1-24 2 50 1-44 2 37 1-35 2 6 1-15 2 38 1-46 2 59 1-65 2 45 1-17 2 4 1-3 2 18 1-17 2 3 1 3 2 17 1-48 2 22 1 3 2 21 1-4 2-16 1 6 2 5 1-3 2 10 1-9 2 28 1-1 2-25 1 5 2-1 1-18 1 48 2-94 1 67 2-9 1-7 2 4 1 16 2-9 1-12 2-4 1 16 2-26 1 21 2 7 1 26 2-13 1 0 2-65 1 54 2-35 1 37 2-35 1 75 2-65 1-22 2 5 1 3 2-5 1 50 2-35 1 36 2-10 1 9 2-28 1 17 2-39 1 55 2-67 1 45 2-37 1 49 2-13 1-7 1-31 2 36 1-21 2 24 1-62 2 38 1 8 2 51 1-42 2 58 1-53 2 1 1-23 2 24 1-12 2 12 1-29 2 43 1-46 2 59 1-62 2 19 1-48 2 55 1-23 2 18 1-16 2 20 1-26 2 80 1-67 2 18 1-24 2 46 1-12 2 30 1-79 2 83 1-59 2 40 1-14 1 26 2-51 1 27 2-7 1-16 2-26 1 41 2-28 1 58 2-1 1 11 2-19 1 15 2-15 1 12 2 1 1 9 2-22 1 20 2-33 1 72 2-61 1 74 2-35 1 42 2-46 1 39 2-38 1 41 2-8 1 15 2-42 1 51 2-26 1 27 2-30 1 11 2 15 1-8 2 32 1 16 1-47 2 33 1-27 2 15 1 22 2 7 1-64 2 46 1-18 2 25 1-54 2 49 1-36 2 73 1-35 2-3 1-17 2 29 1-39 2 9 1 12 2-5 1-28 2 28 1-11 2 42 1-73 2 64 1-38 2 28 1-32 2 8 1-44 2 57 1-13 2 20 1-13 2 25 1-39 2 84 1-109 2 90 1-54 1 1 2-29 1 29 2-56 1 37 2-19 1 15 2-34 1 50 2-83 1 92 2-60 1 43 2-34 1 33 2-25 1 24 2-51 1 48 2-35 1 53 2-44 1 74 2-63 1 31 2-34 1 24 2-32 1 27 2-16 1-6 2 10 1 8 2-19 1 40 2-25 1 49 2-58 1 28 2-46 1 23 1-50 2 56 1-18 2 34 1-27 2 28 1-22 2 5 1-15 2 48 1-72 2 17 1 12 2 25 1-31 2-33 1 39 2 26 1-40 2 32 1-43 2 45 1 24 2-21 1-18 2-57 1 53 2 9 1-14 2-36 1-13 2 81 1-43 2 51 1-49 2-18 1-14 2 31 1-43 2 53 1 0 2-5 1-45 1 40 2 9 1-36 2 10 1 18 2-63 1 71 2-58 1 37 2-64 1 13 2 26 1 37 2-10 1 13 2-17 1-7 2 15 1 9 2-43 1 52 2-60 1 23 2-20 1 16 2 24 1 14 2-41 1 52 2-63 1-8 2 19 1 40 2-26 1-28 2-27 1 27 2-17 1 17 2 8 1-1 1-47 2 88 1-59 2 4 1 5 2 38 1-34 2-1 1-18 2 52 1-47 2 24 1-57 2 56 1-39 2 47 1-61 2 52 1-21 2 23 1-17 2 9 1-44 2 59 1-30 2 17 1 4 2 21 1-16 2-9 1-36 2 31 1 8 2-2 1-102 2 87 1 8 2-13 1-18 2 41 1-13 1 29 2-13 1-8 2 10 1 1 2 9 1 11 2-31 1 8 2-13 1 15 2-28 1 24 2-11 1 30 2-41 1 55 2-52 1 45 2-55 1 60 2-21 1 2 2 43 1-3 2-23 1 29 2-50 1 13 2-40 1 26 2-13 1 57 2-48 1-2 2-6 1 16 2 4 1 3 2-37 1 33 2-6 1 38 1-92 2 82 1-50 2 13 1-32 2 52 1-43 2 28 1-26 2 27 1-26 2 46 1-75 2 46 1-36 2 84 1-34 2-13 1-29 2 71 1-61 2 5 1-3 2 26 1-34 2 46 1-11 2 7 1-48 2 14 1-38 2 60 1-59 2 50 1 20 2-3 1-37 2 19 1-35 1-23"/>
<path class="s" stroke="#328c06" d="M82 917l2 27 1-17 2 4 1-8 2 1 1 15 2-4 1 10 2 11 1-29 1 37 2-29 1 16 2-3 1 30 2-13 1-21 2-6 1 35 2-39 1 13 2-38 1 40 2-16 1 17 2-1 1-3 2-28 1 24 2-3 1-15 2 27 1-6 2 4 1 25 2-21 1 25 2-76 1 62 2-12 1 19 2-26 1 10 2-42 1 77 2-39 1-8 2-51 1 55 2-36 1 58 1-97 2 51 1-25 2 55 1-47 2 15 1-28 2 36 1-9 2 37 1-27 2 34 1-8 2-5 1-56 2 64 1 4 2 12 1-28 2 45 1-36 2 13 1-15 2 47 1-24 2-7 1 11 2-20 1 10 2 34 1-11 2-33 1 32 2 25 1-57 2 56 1-52 2 46 1-8 2-10 1-8 1 29 2-47 1 53 2-12 1 10 2-35 1 17 2-30 1 47 2-43 1 43 2-67 1 25 2 12 1 53 2-76 1 28 2-34 1 30 2 13 1 4 2 7 1-35 2 8 1-41 2-37 1 28 2 18 1-27 2-6 1 22 2 3 1-10 2 14 1 22 2-62 1 28 2-39 1 58 2-5 1 51 2-23 1-6 1 2 2 48 1-61 2 27 1-55 2 31 1-20 2-23 1 34 2 19 1-71 2 60 1-30 2 5 1-8 2-12 1-37 2 63 1-49 2 4 1 1 2 27 1-57 2 19 1 4 2-4 1-38 2 39 1-35 2 46 1 8 2 9 1-60 2 2 1-23 2 37 1 22 2-4 1-45 2 42 1-18 1-9 2-44 1 25 2-14 1 16 2 12 1-4 2 4 1 69 2-96 1 50 2-83 1 69 2-30 1 1 2-1 1 36 2-40 1 36 2-47 1 59 2-17 1 23 2-41 1 32 2-22 1 16 2 26 1 11 2-77 1 93 2-92 1 89 2-45 1 43 2-101 1 86 2-54 1-5 2-39 1 33 2-51 1 72 1-35 2 2 1-34 2 39 1-52 2 18 1 18 2 37 1-62 2 19 1-38 2 48 1-10 2 30 1-63 2 13 1-36 2 35 1-55 2 37 1 13 2-11 1 3 2 44 1-58 2 11 1 10 2-16 1-2 2 57 1-36 2 32 1-20 2 23 1-31 2 20 1-29 2 80 1-88 2 26 1-31 1 62 2-5 1 24 2-79 1 49 2-30 1 29 2-54 1 41 2 11 1-9 2 58 1-12 2-41 1 33 2-68 1 74 2-104 1 65 2-77 1 62 2-17 1 14 2-28 1 37 2-23 1 44 2-48 1 17 2 14 1-37 2 42 1 25 2-15 1 29 2-41 1 32 2-10 1 75 2-48 1 37 2-21 1 21 1-56 2 53 1-44 2 42 1-26 2 35 1-45 2 80 1-36 2-9 1-40 2 37 1-17 2 21 1-11 2 2 1-21 2 11 1 18 2 32 1-77 2 41 1-43 2 27 1-14 2 54 1-19 2 36 1-36 2 2 1 0 2 43 1-68 2 50 1-13 2 2 1-1 2 27 1-8 2-13 1 15 1-12 2 2 1 44 2-60 1 35 2-22 1 50 2-58 1 5 2-13 1 49 2-25 1 45 2-45 1 31 2-41 1 14 2 3 1 5 2 6 1-9 2-35 1 62 2-25 1-2 2-7 1 24 2-17 1 58 2-98 1 12 2 31 1 14 2-27 1-1 2 18 1 7 2-50 1 44 2-35 1-5 1 3 2 31 1-34 2 6 1-25 2 7 1-14 2 21 1 15 2-21 1-9 2 6 1-17 2-21 1 4 2 79 1-56 2 43 1-30 2 7 1-32 2 87 1-70 2 29 1-4 2 11 1-23 2 9 1 1 2 7 1-62 2 27 1-15 2-10 1-12 2 11 1-4 2 45 1-53 2 69 1-48 2 50 1-5 1 8 2-48 1 52 2-85 1 46 2-11 1 2 2-34 1 46 2-10 1 22 2-64 1 39 2-16 1 29 2-35 1 5 2-22 1 21 2-35 1 56 2-65 1 61 2-13 1-16 2-1 1 39 2-45 1 66 2-41 1 76 2-62 1 24 2-30 1 29 2 9 1-19 2 37 1 28 2-63 1 5 1-9 2 10 1 9 2 39 1-38 2 42 1-42 2 24 1-27 2 61 1-57 2 2 1 39 2-6 1-44 2 45 1-34 2 19 1 38 2-19 1-40 2 56 1-22 2 17 1-28 2-2 1 11 2 45 1-67 2 29 1-8 2 24 1-36 2 50 1-56 2 41 1-79 2 69 1-74 2 64 1-19 2 19 1-21 1 22 2-39 1 29 2-25 1 37 2 3 1 21 2-17 1 15 2-7 1 32 2-23 1 46 2-56 1 35 2-38 1 38 2 9 1 0 2-45 1 27 2-61 1 57 2-22 1 16 2 11 1 27 2-49 1 40 2-48 1 32 2-46 1 12 2 22 1-4 2-31 1 10 2-60 1 54 2-30 1 54 1-25 2-10 1 5 2 22 1-24 2 11 1 1 2 20 1-30 2 12 1 25 2 29 1-45 2 37 1-33 2 52 1-42 2 36 1-19 2 37 1-38 2 24 1-21 2 36 1-32 2 10 1-19 2-32 1-12 2 59 1-50 2-23 1-7 2 16 1-24 2 57 1-50 2 32 1-54 2 1 1-3 1 23 2-9 1 28 2-50 1 3 2-25 1 33 2-4 1-12 2-7 1 2 2-7 1 23 2-46 1 34 2-46 1 34 2-4 1 13 2-36 1 59 2-36 1 34 2-16 1-31 2 8 1 75 2-47 1 10 2 1 1 65 2-72 1 54 2-23 1 50 2-42 1 53 2-42 1-6 2-15 1 48 2-47 1 24 1 1 2-49 1 43 2 4 1-101 2 56 1-76 2 41 1 27 2-8 1-46 2 49 1-14 2 31 1-31 2 39 1-15 2-7 1-4 2 0 1 2 2 32 1-3 2 9 1-7 2 19 1-11 2 34 1 4 2 16 1-34 2 17 1-21 2 59 1-20 2 7 1-15 2 9 1-1 2 7 1-24 1 32 2-28 1 49 2-23 1 24 2-60 1 26 2-21 1 29 2-19 1 24 2-64 1 35 2-44 1 48 2-12 1 34 2-4 1 2 2-10 1-3 2-41 1 36 2-28 1 44 2-23 1-14 2-16 1 20 2-15 1 5 2 12 1 1 2-30 1 50 2-18 1-32 2 4 1 8 2 17 1-8 2 8 1 35 1-21 2-7 1-16 2 24 1-5 2 17 1-36 2 20 1-21 2 55 1-58 2 45 1-25 2-1 1 7 2 2 1 20 2-8 1-31 2 76 1-45 2 16 1 3 2 9 1-73 2 63 1-28 2 34 1-7 2-38 1 0 2 43 1-38 2 0 1 4 2 7 1-14 2 0 1-3 2 27 1-28 1 4 2 3 1-9 2 7 1 22 2-36 1 71 2-31 1-2 2-27 1 0 2-11 1 44 2 8 1-16 2 10 1-1 2-7 1 22 2-6 1 8 2-31 1 24 2 20 1-16 2 2 1 27 2-29 1 47 2-22 1 43 2-53 1 39 2-42 1 47 2-61 1 75 2-74 1 74 2-33 1 15 1 8 2-5 1 10 2 4 1 10 2 11 1-39 2 50 1 17 2-20 1-32 2 20 1-19 2 74 1-24 2 11 1-14 2 5 1-38 2 22 1-46 2 6 1-9 2 18 1-33 2 7 1-39 2 20 1 13 2 20 1-34 2 9 1-39 2 13 1-21 2 22 1-45 2 36 1-50 2 93 1-18 2 36 1-83 1 29 2 4 1-11 2 2 1-30 2 11 1 31 2-20 1 23 2-13 1 2 2-3 1 3 2 23 1-5 2-21 1 29 2-55 1 63 2-68 1 33 2-18 1 37 2-24 1 16 2-36 1 11 2-20 1 39 2-14 1 31 2-55 1 21 2 4 1 0 2-58 1 51 2-22 1 27 2-29 1 10 1-1 2-33 1 5 2 13 1-5 2 36 1-39 2-22 1 21 2 7 1-26 2 6 1-56 2 40 1-14 2 25 1-25 2 36 1-7 2-35 1-10 2 49 1-40 2 27 1-37 2-7 1-30 2 58 1-22 2 0 1-57 2 12 1-1 2 22 1-27 2-18 1 0 2 27 1 2 2-28 1 4 2 36 1-87 1 52 2-13 1-2 2 6 1-29 2 12 1 58 2-33 1 8 2-25 1 11 2 38 1-23 2-1 1 92 2-22 1 22 2-5 1-22 2 32 1-34 2-3 1 11 2-39 1 47 2-22 1 36 2-48 1 44 2-40 1 54 2-22 1 5 2 9 1-14 2-44 1 48 2-39 1 9 2-31 1 39 1-17 2-9 1 19 2 23 1-26 2 17 1-20 2-7 1 12 2-22 1 5 2 30 1-51 2 74 1-34 2 29 1-65 2 60 1 9 2-3 1-64 2 69 1-41 2 40 1-56 2 45 1-35 2 6 1-15 2 37 1-30 2 9 1-8 2 5 1-3 2 0 1 1 2-8 1 6 2-4 1-9 1 24 2-23 1 47 2-27 1 23 2 7 1-2 2-1 1 7 2-37 1 42 2-54 1-4 2 41 1 16 2-18 1 21 2-35 1 44 2-16 1 22 2-40 1 46 2-30 1 29 2-78 1 68 2 2 1 28 2-22 1 27 2-43 1 41 2 17 1-2 2-33 1 36 2-8 1-3 2-7 1 4 2-32 1 46 1-60 2 38 1-40 2 35 1-4 2 4 1-14 2 13 1-40 2 26 1-14 2 35 1-43 2 35 1-51 2 18 1 10 2 13 1-8 2 0 1 7 2 4 1 4 2-22 1-15 2 7 1-16 2 6 1 0 2 18 1 15 2 22 1-44 2 22 1-30 2 32 1 3 2-27 1-45 1 43"/>
<path class="s" stroke="#c10c90" d="M82 540l2 63 1-43 2 10 1-60 2 90 1-76 2 51 1-2 2-8 1-12 1 45 2-72 1 50 2-29 1 29 2-24 1 46 2-78 1 14 2 38 1-21 2-41 1 60 2-77 1 53 2-42 1 33 2 9 1-21 2-32 1 55 2-90 1 116 2-125 1 43 2-15 1 25 2-21 1 32 2 5 1 6 2-72 1 70 2 19 1-26 2-19 1 45 2-27 1 8 2-1 1 0 1-10 2-5 1-29 2-8 1-8 2 55 1-41 2 52 1-71 2 54 1-18 2-10 1 10 2-9 1-38 2 86 1-48 2-2 1-37 2 7 1-14 2 11 1-15 2 54 1-6 2 2 1-19 2 33 1-5 2 40 1-29 2 4 1-64 2 57 1-24 2-12 1-17 2 37 1-21 2 50 1-41 1 43 2-59 1 85 2-61 1 23 2-75 1 64 2 13 1 40 2-64 1-21 2 1 1 17 2-17 1 20 2-2 1 19 2-54 1 46 2-43 1-12 2 21 1 14 2-19 1 51 2-115 1 94 2-47 1 20 2-35 1 67 2-12 1-8 2-56 1 105 2-59 1-69 2-2 1 76 2-57 1 50 2-68 1 51 1-28 2 29 1-37 2 95 1-52 2-1 1-5 2 2 1 3 2 60 1-72 2 10 1-91 2 96 1-80 2 91 1-40 2 29 1-44 2 67 1-79 2 37 1-10 2 12 1 1 2-1 1-24 2 43 1-87 2 62 1 36 2-24 1-78 2 22 1-47 2 28 1-47 2 63 1-35 2 47 1 11 1 28 2-43 1 31 2 3 1 31 2 18 1-10 2-55 1 72 2-18 1 23 2-38 1 23 2-52 1 18 2-15 1 52 2-30 1-4 2-2 1 19 2-4 1 44 2-67 1 86 2-50 1-12 2-11 1 46 2-59 1 41 2-3 1-8 2-29 1 47 2-36 1 66 2-51 1 27 2-60 1 8 2 17 1 42 1-91 2 51 1-41 2 24 1-29 2 38 1-55 2 38 1-18 2 7 1-47 2 70 1-32 2 11 1-2 2 46 1-53 2 34 1-19 2 42 1-25 2 23 1-70 2 44 1-10 2 53 1-87 2 80 1-19 2 24 1-71 2 93 1-62 2 101 1-85 2 39 1-73 2 112 1-36 2-27 1-18 1 13 2-7 1 33 2 18 1-13 2 32 1 1 2-55 1 49 2-9 1 28 2-19 1 56 2-63 1 0 2-9 1-21 2 19 1-1 2-9 1 19 2-78 1 46 2-3 1 43 2-44 1 33 2-31 1 23 2-16 1 29 2-34 1 45 2-62 1 107 2-111 1 104 2-65 1 42 2-16 1-8 2-13 1 57 1-18 2 18 1-45 2 56 1-39 2 34 1-32 2 26 1-10 2 68 1-57 2 35 1-25 2-1 1-14 2 49 1-30 2 42 1-78 2 47 1-23 2 9 1-52 2-18 1 56 2 17 1-43 2 71 1-48 2-27 1 25 2 28 1-35 2 65 1-78 2 42 1-41 2 42 1-4 2 24 1-25 1 33 2-49 1 49 2-41 1 56 2-14 1 32 2-54 1 31 2-15 1-17 2 4 1 53 2-61 1 18 2-17 1-17 2-28 1 46 2-31 1 27 2-58 1 67 2-15 1-2 2-24 1 33 2-58 1 24 2-15 1 26 2-35 1 9 2-28 1 21 2-30 1 48 2-6 1 15 2-64 1 62 1-57 2 53 1-17 2 24 1-29 2 2 1 4 2-8 1-3 2 24 1-54 2 71 1-32 2 16 1-63 2 21 1 12 2 52 1-39 2-11 1 5 2 25 1-22 2 29 1-28 2 20 1-48 2 33 1-12 2 46 1-48 2 30 1-57 2 53 1-35 2 54 1-33 2-29 1 30 2 11 1-72 2 35 1-9 1 8 2-34 1 17 2-20 1 26 2-34 1 4 2 29 1 12 2-63 1 74 2 2 1-12 2-30 1 51 2-3 1 29 2-30 1-52 2-5 1 18 2-21 1 49 2-28 1 64 2-19 1 4 2-53 1 50 2-19 1 0 2 39 1-55 2 6 1 1 2 13 1 37 2-68 1 43 2-29 1-26 1 21 2 27 1-1 2 17 1-66 2 41 1-25 2 27 1-67 2 58 1-7 2-25 1-23 2 12 1 4 2 14 1-27 2 61 1-23 2 24 1-38 2 64 1-15 2 2 1-29 2 18 1-16 2 60 1-87 2 11 1-14 2-4 1 21 2 22 1-25 2 26 1 1 2-8 1-25 2 42 1-55 2 0 1 9 1 44 2-26 1 31 2-34 1 31 2-53 1 64 2-24 1 64 2-58 1-1 2-36 1 57 2-69 1 39 2-23 1 18 2-16 1 22 2-23 1-17 2-6 1 29 2-32 1-39 2 35 1 25 2-3 1-20 2-20 1 49 2-57 1 42 2 8 1-29 2-18 1 31 2-26 1 49 2 12 1 19 1 12 2-24 1-25 2 67 1-26 2 23 1-58 2 70 1-70 2 32 1-12 2 23 1-50 2 40 1-17 2 40 1-24 2-27 1 32 2 15 1-55 2 40 1 16 2 42 1-11 2-5 1-25 2 13 1 13 2-1 1-9 2-6 1 6 2 6 1-39 2 48 1-9 2 34 1-13 2-6 1-74 1 127 2-108 1 53 2 7 1 25 2-32 1 43 2-36 1 48 2-61 1 39 2-36 1 61 2-41 1 11 2-34 1 50 2-36 1 6 2-12 1 41 2-12 1 42 2-36 1 20 2-44 1 11 2-14 1 16 2-17 1 17 2 10 1 7 2-52 1 88 2-90 1 67 2-77 1 49 2-41 1 33 2-24 1 48 1-21 2 63 1-91 2 31 1-30 2 60 1-47 2 4 1 36 2-43 1-18 2 68 1-69 2 50 1-20 2 79 1-83 2 39 1-10 2-7 1-13 2 85 1-41 2 7 1 8 2 26 1-26 2 75 1-45 2 50 1-49 2 8 1 3 2 2 1 8 2 34 1-4 2 3 1 16 2 7 1-75 1 16 2-28 1 42 2-67 1 53 2 2 1 22 2-11 1-7 2 0 1-29 2-9 1 55 2-42 1 11 2-20 1 12 2-34 1 18 2-7 1 26 2-75 1 72 2-69 1 66 2-74 1 80 2-69 1 26 2-52 1 69 2-31 1-14 2 45 1-9 2-27 1 49 2-62 1 19 2-18 1 54 2-14 1 34 1-20 2 25 1-19 2 21 1-35 2 67 1-48 2 28 1-33 2 44 1-32 2 22 1-30 2 66 1-62 2 10 1 5 2 33 1-22 2 17 1-58 2 46 1-52 2 67 1-89 2 29 1 7 2 11 1-41 2 65 1-63 2-19 1 26 2 18 1-22 2 4 1-5 2 20 1 7 2-41 1 28 1-2 2-15 1 4 2 6 1 48 2-59 1 35 2-35 1 12 2-17 1-10 2-22 1 38 2-16 1 41 2-33 1-9 2 26 1 7 2-21 1 23 2-50 1 13 2 9 1 3 2-29 1 9 2-9 1 51 2-69 1 47 2-9 1 2 2-36 1 64 2-70 1 30 2 6 1 30 2-75 1 54 1-16 2 59 1-34 2-5 1-8 2-6 1 5 2 66 1-54 2 23 1-4 2 34 1-5 2 1 1-31 2 15 1 30 2 63 1-73 2 32 1-52 2 21 1-22 2 47 1-101 2 63 1-22 2 33 1-46 2 11 1-32 2 31 1-69 2 75 1-73 2 53 1-52 2 63 1-62 2 17 1-20 2 17 1-41 1 50 2 29 1 8 2-25 1 18 2-31 1 7 2 10 1-7 2-44 1 47 2-107 1 70 2-41 1 16 2 8 1 62 2-31 1-17 2 64 1-38 2-42 1 64 2-74 1 49 2-57 1 62 2-55 1 67 2-87 1 66 2-42 1 10 2-6 1 21 2-19 1 44 2-20 1 11 2-31 1-10 1 37 2 29 1-31 2 47 1-42 2 30 1-49 2 45 1-45 2 44 1-18 2 18 1-2 2 26 1-52 2-15 1 42 2-39 1 17 2 10 1-15 2 32 1-24 2 44 1-74 2 82 1-81 2 84 1-75 2 46 1-23 2 25 1-52 2 32 1-16 2 25 1 2 2-7 1-7 2 1 1 1 2 4 1-1 1-2 2-69 1 61 2-37 1 56 2-21 1 27 2-10 1-3 2-14 1 45 2-44 1-4 2-18 1 48 2 14 1 16 2-72 1 20 2-41 1 72 2-4 1-35 2 5 1 29 2-44 1 26 2-42 1 7 2 26 1-5 2-30 1 40 2 8 1-17 2-42 1 46 2 12 1 22 2-31 1 28 1-42 2-6 1-42 2 41 1-19 2 32 1-69 2 106 1-100 2 66 1-24 2 37 1-2 2 50 1-80 2 1 1-7 2 62 1-37 2 0 1 15 2 39 1-40 2 11 1-28 2 34 1-33 2 65 1-52 2 49 1-52 2 111 1-90 2 67 1-45 2-2 1-29 2 34 1-22 2 45 1-25 1 8 2-24 1 50 2-84 1 79 2-45 1-16 2-19 1 78 2-56 1 53 2-21 1-17 2-5 1 27 2-7 1 29 2-33 1 41 2-37 1 41 2-16 1-26 2 2 1 38 2-22 1 39 2-83 1 60 2-36 1 23 2-4 1 33 2-14 1-8 2 8 1 9 2-38 1 34 2-8 1 51 2-37 1 25 1-30 2 34 1-24 2-2 1-8 2 46 1-33 2 0 1-23 2 19 1-6 2 3 1-29 2 66 1-24 2 18 1-45 2 29 1-43 2 60 1-39 2 6 1-5 2-26 1 46 2-6 1-27 2 16 1-66 2 59 1 6 2 2 1-1 2-14 1 14 2 23 1-54 2 20 1-42 1-17"/>
</g>
<path class="h" stroke="#2a2eec" d="M785.93 999.40h44.9"/>
<text class="t8" x="848.65" y="1008.30">Venezuela</text>
<path class="h" stroke="#fa7c17" d="M785.93 1033.38h44.9"/>
<text class="t8" x="848.65" y="1042.28">Colombia</text>
<path class="h" stroke="#328c06" d="M785.93 1067.36h44.9"/>
<text class="t8" x="848.65" y="1076.26">Ecuador</text>
<path class="h" stroke="#c10c90" d="M785.93 1101.34h44.9"/>
<text class="t8" x="848.65" y="1110.24">Panama</text>
<text class="t10 m" x="533.92" y="953.45">North - Type A</text>
<text class="t8 e" x="75.80" y="1570.27">800</text>
<text class="t8 e" x="75.80" y="1491.43">900</text>
<text class="t8 e" x="75.80" y="1412.60">1000</text>
<text class="t8 e" x="75.80" y="1333.76">1100</text>
<text class="t8 e" x="75.80" y="1254.93">1200</text>
<text class="t8 e" x="75.80" y="1176.09">1300</text>
<text class="t8 e" x="75.80" y="1097.26">1400</text>
<text class="t8 e" x="75.80" y="1018.42">1500</text>
<text class="t8" transform="translate(111.22 1642.40) rotate(-45)">2022</text>
<text class="t8" transform="translate(247.00 1642.40) rotate(-45)">2023</text>
<text class="t8" transform="translate(382.79 1642.40) rotate(-45)">2024</text>
<text class="t8" transform="translate(518.94 1642.40) rotate(-45)">2025</text>
<text class="t8" transform="translate(654.73 1642.40) rotate(-45)">2026</text>
<text class="t8" transform="translate(790.51 1642.40) rotate(-45)">2027</text>
<text class="t8" transform="translate(926.29 1642.40) rotate(-45)">2028</text>
</g>
<g>
<rect x="1078.55" y="969.35" width="895.85" height="608.85" fill="#eeeeee"/>
<path class="g" d="M1119.42 969.35v608.85M1255.20 969.35v608.85M1390.99 969.35v608.85M1527.14 969.35v608.85M1662.93 969.35v608.85M1798.71 969.35v608.85M1934.49 969.35v608.85M1078.55 1539.15h895.85M1078.55 1421.44h895.85M1078.55 1303.73h895.85M1078.55 1186.01h895.85M1078.55 1068.30h895.85"/>
<g transform="translate(1078.55 969.35) scale(.5)">
<path class="s" stroke="#2a2eec" d="M82 463l2 61 1-38 2 67 1-73 2 105 1-7 2-16 1-21 2 2 1-7 1 68 2-61 1 37 2-118 1 109 2-61 1 71 2-29 1 26 2 38 1-15 2-45 1 32 2-46 1 53 2-57 1 45 2-116 1 56 2-66 1 117 2-21 1-4 2-106 1 50 2 35 1 13 2-64 1 57 2-52 1 98 2-101 1 11 2-41 1 86 2-38 1-4 2-65 1 47 2 15 1 56 1-54 2 14 1-95 2 117 1-56 2 24 1-39 2 70 1-56 2 36 1-42 2 79 1-58 2 75 1-118 2 61 1-16 2 13 1 8 2 61 1-53 2 39 1-27 2 23 1-23 2-10 1 61 2-13 1 26 2-12 1-51 2-11 1 53 2 1 1-36 2 27 1 0 2 6 1-16 2 26 1-100 1 50 2 8 1 13 2-5 1-15 2-13 1 43 2-17 1 45 2-20 1 68 2-94 1 68 2-51 1 59 2-122 1 111 2-36 1 2 2 15 1 29 2-55 1 50 2-86 1 101 2-15 1 24 2-40 1 20 2-63 1 49 2-68 1 54 2-48 1 31 2-6 1 34 2-10 1 20 2-56 1 25 2 62 1-3 1-27 2 25 1-95 2 79 1-59 2 82 1-5 2-78 1 2 2 91 1-48 2 58 1-85 2 92 1-79 2 63 1-94 2 74 1-108 2 156 1-20 2-12 1-77 2 88 1-68 2 6 1-12 2 54 1-41 2 71 1-101 2 61 1-58 2 79 1-15 2-60 1 15 2 11 1-18 2 26 1-1 1 24 2-14 1-40 2 1 1-42 2 38 1-8 2-30 1 72 2-54 1 60 2-10 1-7 2-24 1 41 2-24 1 67 2-85 1 9 2-12 1 29 2-34 1 13 2-18 1 48 2 3 1 45 2-88 1 55 2-6 1-21 2-11 1 69 2-77 1 68 2-52 1 16 2-10 1 42 2-18 1 7 2-67 1 108 1-93 2 70 1-100 2 74 1-43 2 78 1-72 2 48 1-103 2 24 1-53 2 112 1-56 2 22 1-83 2 111 1-80 2 83 1-20 2 88 1-95 2 10 1-43 2 90 1-100 2 74 1-6 2-19 1-47 2 39 1-34 2 86 1-127 2 96 1-71 2 15 1 9 2-12 1-67 2 114 1-91 1 132 2-57 1-26 2-8 1 98 2-93 1 71 2-21 1 64 2-166 1 129 2-9 1 1 2 9 1 28 2-46 1 11 2-44 1 12 2-6 1 70 2-80 1 34 2-51 1-2 2 53 1 1 2 0 1 27 2-68 1 52 2-32 1 52 2-71 1 65 2-86 1 86 2-93 1 86 2-67 1 37 2-31 1 47 1-102 2 99 1-21 2-57 1-33 2 54 1-62 2 74 1-17 2 11 1-39 2 87 1 1 2-58 1 1 2 56 1-31 2 1 1-92 2 103 1-19 2 93 1-151 2 74 1-50 2 71 1 6 2 21 1-34 2 3 1 12 2 5 1 10 2 24 1-96 2 93 1-26 2-61 1-9 2 0 1-43 1 56 2-62 1 45 2-60 1 72 2-73 1 99 2-61 1 18 2-56 1 83 2 17 1-93 2-58 1 121 2-73 1 61 2-33 1 13 2-71 1 96 2-76 1 47 2-105 1 98 2-60 1 46 2-73 1 84 2-42 1 60 2-137 1 103 2-113 1 52 2-56 1 77 2-38 1 55 2-38 1 38 1-43 2-17 1 44 2 3 1-43 2 75 1-29 2-8 1-7 2-70 1-2 2 52 1-106 2 50 1-2 2 20 1-66 2-7 1-10 2 134 1-42 2 20 1-40 2 14 1-14 2 94 1-104 2 34 1-34 2 51 1-16 2 32 1-66 2 53 1-43 2 65 1-113 2 99 1-53 2-11 1-13 2 50 1-6 1-35 2-93 1 141 2-31 1 47 2-42 1 89 2-118 1 45 2-94 1 109 2-42 1 48 2-79 1 63 2-28 1 18 2-61 1 80 2-53 1 107 2-139 1 119 2-76 1 110 2-54 1-3 2-37 1 38 2-87 1 43 2-78 1 111 2 19 1 1 2-85 1 88 2-24 1 58 2-89 1 3 1 37 2 31 1-142 2 61 1-41 2 1 1-30 2 44 1-21 2 16 1-62 2 79 1-1 2 17 1-51 2-13 1-37 2 94 1-74 2 60 1-12 2 3 1-80 2 65 1 19 2-50 1 9 2 12 1 20 2 59 1-136 2 116 1-69 2-2 1 4 2 67 1-98 2 25 1-48 2 85 1-70 2 75 1-13 1-37 2-10 1 170 2-122 1-23 2 49 1 14 2-77 1 1 2 6 1 87 2-107 1 31 2-7 1-10 2-5 1 24 2-64 1 114 2-45 1-2 2-84 1 53 2-22 1 18 2-32 1 135 2-75 1 100 2-139 1 0 2 29 1 17 2-85 1 78 2-96 1-7 2 34 1 53 2-142 1 102 1 25 2-31 1-31 2 71 1-159 2 99 1 15 2 43 1-76 2 17 1-87 2 101 1-42 2 2 1-12 2 69 1-105 2 85 1-81 2 64 1-65 2 96 1-61 2-5 1-6 2-4 1-74 2 148 1-106 2 80 1-9 2-82 1 55 2 8 1 23 2-19 1 50 2-20 1-45 2 55 1-38 1-19 2-5 1 59 2-82 1 92 2-36 1 14 2-65 1 85 2-72 1 32 2-46 1 17 2-1 1 23 2-52 1 27 2-17 1-5 2-77 1 131 2-103 1 45 2-37 1 101 2-65 1 20 2 22 1-6 2-67 1 87 2-88 1 116 2-48 1 72 2-143 1 91 2 25 1-31 2 16 1-30 2-9 1 42 1-53 2 110 1-117 2 29 1-16 2 103 1-43 2 29 1-33 2 98 1-54 2 34 1-95 2 71 1-5 2 47 1-97 2-11 1 23 2 30 1-35 2 24 1-65 2 83 1-53 2 41 1-47 2-4 1-25 2 47 1-125 2 179 1-84 2-22 1 57 2 37 1-28 2-35 1 8 2 34 1-22 1 15 2-32 1 35 2-4 1 53 2-105 1 70 2-2 1-41 2-1 1 68 2-5 1 28 2-83 1-2 2-31 1 56 2-59 1 43 2-61 1 80 2-41 1-2 2 11 1 19 2-36 1 80 2-94 1 37 2-47 1 28 2-96 1 76 2 21 1-29 2 12 1 25 2-9 1 23 2-73 1-26 2 21 1 76 1-137 2 102 1-30 2 77 1-108 2 78 1-100 2 51 1 7 2 77 1-111 2 77 1-96 2 65 1-5 2 1 1 14 2 39 1-34 2 30 1-76 2 90 1-22 2 83 1-83 2 53 1-91 2 50 1 15 2 16 1-24 2 32 1-34 2 70 1-95 2 32 1-78 2 30 1 14 2 80 1-137 1 62 2-60 1 79 2-134 1 76 2-63 1 110 2-110 1 53 2-68 1 15 2-47 1 92 2-23 1 47 2-99 1 68 2 1 1 26 2-31 1 11 2-8 1 91 2-82 1 54 2 3 1 4 2-58 1 46 2-38 1 63 2-84 1 68 2-31 1-12 2-46 1 105 2-73 1 76 2-99 1 53 1-3 2-10 1-24 2 12 1-19 2 12 1-34 2 103 1-155 2 102 1-69 2 50 1-27 2 41 1-30 2 46 1-79 2 76 1-107 2 137 1-84 2 13 1-17 2 55 1-49 2 52 1-13 2 17 1-1 2-19 1 4 2 74 1-39 2-32 1 4 2 60 1-70 2 9 1-36 2 19 1 42 2 44 1-92 1 38 2-34 1 157 2-170 1 136 2-60 1 58 2-31 1 27 2-116 1 50 2-47 1 89 2-29 1-20 2-54 1 29 2-13 1 76 2-104 1 35 2-8 1 7 2 6 1 24 2-60 1 92 2-85 1 75 2-25 1 71 2-55 1 92 2-65 1 84 2-32 1 29 2-96 1 88 2-78 1 64 1-79 2 36 1-36 2 93 1-47 2-16 1-39 2-7 1 18 2 40 1-100 2 84 1-37 2 53 1-107 2 102 1-131 2 72 1-32 2 59 1-43 2 94 1-115 2 29 1-10 2 11 1-30 2 24 1 45 2-40 1 3 2-25 1-52 2 63 1-10 2 64 1-41 2 37 1-29 2-8 1 16 2-37 1-54 1 78 2-84 1 66 2-65 1 34 2 16 1 15 2-35 1 40 2-20 1 32 2-5 1 26 2 13 1-15 2-38 1-3 2 26 1-41 2-24 1 102 2-109 1 64 2-58 1 55 2-77 1 83 2-62 1 146 2-120 1 67 2-70 1 89 2-96 1 39 2-42 1 33 2-56 1 61 2-28 1 100 1-90 2 10 1-53 2 77 1-82 2 48 1-100 2 129 1-95 2 71 1-21 2-70 1 20 2 60 1-72 2 59 1-36 2 9 1-42 2 21 1-34 2 52 1-58 2 141 1-132 2 85 1-86 2 113 1 0 2 31 1-112 2 76 1-49 2 32 1 30 2 15 1-53 2 69 1-63 2-8 1-16 1 32 2 30 1 6 2-75 1 62 2-64 1 55 2-3 1-1 2-1 1-10 2 25 1 85 2-98 1 66 2-63 1 58 2-33 1 47 2-47 1 71 2-73 1 39 2-25 1-28 2 47 1-57 2-11 1 43 2-56 1 38 2-72 1 141 2-88 1 14 2 9 1 35 2-50 1 64 2-63 1 21 2-62 1 76 1-45 2-4 1-21 2 10 1-72 2 94 1 0 2 34 1-73 2 13 1-12 2 28 1-98 2 47 1 7 2-22 1-40 2 106 1-52 2-5 1 34 2 69 1-115 2 22 1-37 2 34 1 6 2 13 1-11 2 35 1-65 2 45 1 13 2 121 1-71 2 7 1-38 2 17 1 22 1 76"/>
<path class="s" stroke="#fa7c17" d="M82 639l2 79 1-71 2 36 1-79 2 60 1-15 2 2 1 42 2 9 1-56 1 70 2-99 1 100 2-68 1 62 2-27 1 15 2-31 1 31 2-38 1 53 2-23 1 15 2-72 1 61 2-114 1 107 2-38 1-1 2 0 1 91 2-92 1 72 2-56 1-11 2-103 1 67 2-73 1 38 2-66 1 123 2-18 1 33 2-4 1-18 2-7 1 30 2-101 1 62 2-35 1-20 1-9 2 101 1-84 2 18 1-33 2 74 1-76 2 71 1-110 2 79 1-44 2 148 1-128 2-5 1 20 2 32 1-57 2 60 1-62 2 22 1 5 2-35 1 19 2 18 1-2 2 4 1-30 2-15 1 58 2 33 1-3 2 14 1-69 2 66 1-48 2 16 1-118 2 81 1-30 2 8 1 12 1 27 2-29 1 27 2-23 1 122 2-128 1 36 2-39 1 43 2 7 1-63 2 75 1-4 2-7 1 35 2-20 1 6 2-50 1 57 2-57 1 13 2-18 1-24 2 18 1 76 2-56 1 39 2-32 1-12 2-55 1 114 2-70 1 13 2-4 1 17 2-41 1 8 2 12 1-37 2-2 1 23 2-86 1 85 1-85 2 15 1 27 2 56 1-65 2 62 1-64 2 60 1-57 2 45 1-57 2 70 1-54 2 68 1-48 2 38 1-44 2 46 1-66 2 44 1 15 2 12 1-7 2 17 1-37 2-3 1 44 2-26 1 2 2 0 1-39 2 56 1-102 2 97 1-46 2 130 1-149 2 45 1-96 2 38 1 75 1-8 2-72 1 89 2-64 1 0 2-4 1-25 2 2 1 36 2-13 1 39 2-63 1 23 2-21 1 17 2-12 1 24 2-34 1 16 2-6 1 9 2-33 1-4 2-2 1-25 2-5 1 54 2-79 1 38 2 44 1 3 2-87 1 150 2-94 1 65 2-37 1 14 2 15 1 2 2-66 1 62 2-13 1 103 1-101 2 57 1-59 2 7 1-59 2 78 1-98 2 110 1-40 2 15 1-67 2 57 1-20 2 13 1-52 2 108 1-117 2 23 1-23 2 100 1-129 2 86 1-74 2 68 1-4 2-16 1 18 2 4 1-20 2 34 1-33 2-7 1-41 2 98 1-88 2 61 1-69 2 85 1-76 2 90 1-142 1 50 2-1 1 82 2-97 1 22 2-92 1 157 2-159 1 140 2-107 1 129 2-51 1 26 2 0 1 70 2-32 1-14 2-22 1 31 2-10 1 29 2-68 1 36 2-9 1 13 2-55 1 147 2-114 1 53 2-8 1-33 2-12 1 75 2-75 1 90 2-41 1-17 2-21 1 49 2-69 1 39 2-73 1 99 1-96 2 140 1-35 2 15 1-128 2 140 1-55 2 6 1-27 2 19 1-40 2 48 1-43 2 11 1-30 2 60 1-18 2 70 1-62 2 1 1 20 2 16 1-84 2 24 1 12 2 97 1-81 2 63 1-114 2 91 1-96 2 145 1-81 2 26 1-36 2 54 1-100 2 96 1-4 2 29 1-75 1 113 2-123 1 64 2-103 1 93 2 14 1-44 2 2 1 22 2 5 1-14 2 16 1 40 2-22 1 16 2-13 1-7 2 1 1 17 2-11 1-25 2 86 1 38 2-55 1-16 2-41 1 84 2-44 1 41 2-25 1 3 2-70 1 15 2-19 1 31 2 1 1 57 2-90 1 100 2-113 1 78 1-1 2-10 1 21 2-41 1-28 2 27 1-21 2 45 1-23 2 41 1 5 2-26 1-24 2 27 1-68 2 82 1-75 2 106 1-21 2-19 1 17 2-20 1-24 2 60 1-39 2 47 1-65 2-13 1 9 2 64 1-34 2 71 1-94 2 52 1-80 2-17 1-31 2 54 1-34 2 47 1 10 2-29 1-15 1 83 2-114 1 75 2-82 1 73 2-28 1 60 2-85 1 34 2-50 1 52 2-71 1 131 2-76 1 94 2-107 1 30 2-3 1 13 2-27 1 26 2-20 1 80 2-105 1 12 2 3 1 2 2-41 1 94 2-82 1 86 2-22 1-21 2 5 1 61 2-84 1 89 2-59 1 56 2-13 1-7 1-30 2 52 1-27 2 10 1-26 2 50 1-55 2 12 1-37 2 62 1-13 2 12 1-28 2 54 1 23 2-4 1-4 2 48 1-90 2 31 1-22 2 57 1-82 2 54 1 13 2 19 1-9 2 33 1-85 2 48 1-55 2 76 1-12 2 28 1-76 2-11 1-56 2 108 1-57 2 91 1-26 2-35 1 38 1-67 2 42 1-15 2 24 1 0 2 7 1-23 2-38 1 108 2-67 1 35 2-41 1 24 2 18 1-9 2-48 1 37 2-14 1 53 2-34 1-15 2 28 1 18 2-28 1 0 2-38 1 17 2-58 1 38 2-14 1 23 2-19 1 47 2-6 1 37 2-99 1 63 2-88 1 106 2-115 1 65 1-25 2 20 1-31 2 42 1 21 2 50 1-69 2 28 1-84 2 64 1-40 2 35 1 3 2 44 1-70 2 45 1-20 2-6 1-49 2 111 1-39 2 53 1-67 2 65 1-108 2 15 1-9 2 96 1-52 2 12 1-25 2 92 1-45 2-28 1-28 2 122 1-116 2 68 1-34 2 50 1-59 1 100 2-91 1 85 2-40 1-5 2 20 1-16 2-64 1 39 2-26 1-5 2-30 1 88 2-82 1 47 2-39 1 104 2-74 1 26 2-12 1 42 2-117 1 103 2-42 1-39 2-13 1-8 2 36 1 73 2-43 1 0 2 15 1 39 2-75 1 43 2-16 1 98 2-73 1 67 2-64 1 28 2-14 1 49 1-53 2 55 1-80 2 71 1-82 2 48 1 8 2 45 1-75 2 26 1-63 2 15 1-24 2 14 1 19 2 2 1-71 2 94 1-25 2 67 1-116 2 50 1-33 2 78 1-66 2 61 1-53 2 49 1-13 2 37 1-45 2 13 1-77 2 123 1-62 2 57 1-52 2 59 1-5 2 33 1-5 1 9 2-58 1 83 2 8 1-22 2-40 1 78 2-51 1 68 2-86 1 21 2-37 1 113 2-87 1 41 2 17 1 3 2-51 1 9 2 11 1-6 2-11 1 26 2-57 1-19 2 48 1 1 2-7 1 44 2-52 1 47 2-90 1 88 2-84 1 27 2 16 1 28 2-16 1 7 2-47 1 64 2-76 1 28 1 10 2 13 1-19 2 17 1-33 2 80 1-22 2-19 1-23 2 52 1-35 2 63 1-38 2-19 1 1 2 59 1-50 2-14 1-4 2 24 1 22 2 23 1-59 2 12 1-89 2 82 1-73 2 60 1-50 2 60 1-8 2-8 1-39 2 90 1-53 2-6 1 3 2 34 1-42 2 75 1-57 1 45 2 7 1-2 2 8 1 29 2-16 1 42 2-78 1 55 2 8 1 33 2 7 1-1 2-54 1 63 2-65 1 53 2-3 1-34 2 17 1 74 2-79 1 79 2-63 1 21 2-7 1 4 2 1 1 47 2-33 1-3 2 46 1-8 2-26 1 4 2 12 1 14 2-17 1-12 2 16 1 13 1-42 2 84 1-56 2 11 1 6 2-2 1-35 2 20 1-39 2 33 1 3 2 67 1-68 2-19 1 45 2-26 1-12 2 23 1-13 2 71 1-94 2 48 1-38 2 1 1-11 2 101 1-67 2-17 1-3 2 61 1-31 2 15 1-21 2 1 1 10 2 7 1-63 2 93 1-59 2 45 1-22 2 3 1-23 1 40 2-39 1 29 2-29 1 4 2-32 1 43 2-56 1 26 2 0 1 18 2-113 1 119 2-33 1 41 2-17 1 9 2-49 1 61 2-46 1 31 2-52 1 42 2-55 1 0 2-32 1 41 2-99 1 57 2 27 1 7 2-66 1 77 2-59 1 30 2-39 1-6 2-6 1 54 2-44 1-4 1 2 2 33 1-81 2 67 1 3 2 36 1-35 2-18 1-32 2 17 1 6 2 47 1-26 2-25 1-28 2 58 1-34 2-7 1 23 2 7 1-31 2 39 1-19 2-1 1-19 2 63 1-89 2 42 1-24 2 130 1-136 2 67 1-74 2 30 1-46 2 39 1-11 2 8 1 12 2 38 1-42 2 21 1-39 1 35 2-23 1 4 2-58 1 80 2-90 1 87 2-26 1-2 2-1 1 1 2-53 1 30 2-12 1 45 2-50 1 67 2-63 1 57 2-78 1 64 2-10 1 18 2-47 1 21 2-71 1 63 2-29 1 7 2-5 1 10 2-21 1 69 2-73 1-13 2-19 1 81 2-101 1 31 2 10 1-25 1-51 2 74 1-25 2 20 1-12 2 20 1-44 2 83 1-108 2 99 1-98 2 75 1-52 2 65 1-13 2 27 1-43 2 75 1-17 2 5 1-37 2 33 1-57 2 61 1-32 2 35 1-89 2 67 1-19 2 84 1-124 2 57 1-1 2 17 1-13 2 19 1-20 2 51 1-15 2 0 1-26 1 22 2-40 1 12 2 13 1 83 2-71 1-20 2 14 1-19 2-37 1 74 2-35 1 5 2-9 1 10 2 44 1 54 2-132 1 92 2-30 1 15 2-49 1 44 2-46 1 45 2-44 1 15 2 19 1 14 2-30 1 7 2-30 1 22 2-5 1 10 2-25 1 3 2-47 1 69 2 20 1 49 2-59 1 32 1-50 2 63 1-25 2-45 1-41 2 48 1 1 2 9 1 7 2 3 1-70 2 96 1-89 2 52 1 10 2 64 1-69 2 12 1 3 2-41 1 23 2 18 1 2 2 42 1-101 2 89 1-82 2 64 1-2 2 16 1-68 2 24 1-49 2 72 1-35 2 32 1-38 2 29 1-47 1 99"/>
<path class="s" stroke="#328c06" d="M82 880l2-6 1-36 2 40 1-30 2-21 1 1 2 72 1-77 2 47 1-73 1 75 2-70 1-5 2-7 1 21 2-30 1 26 2 9 1 8 2-65 1 64 2-57 1 17 2-60 1 112 2-69 1-15 2 9 1 10 2-68 1 90 2-35 1 15 2-21 1 23 2-9 1-23 2-17 1 114 2-91 1 26 2 20 1 6 2-8 1 60 2-70 1 68 2 0 1 20 2-77 1 15 1 19 2-1 1-17 2 69 1-73 2 100 1-64 2 26 1-49 2 95 1-81 2 34 1-14 2 82 1-88 2 66 1-94 2 93 1-77 2 2 1 61 2-27 1-6 2 86 1-53 2 61 1-19 2-8 1-49 2 34 1-40 2 18 1-37 2 57 1-30 2-1 1-38 2 11 1 7 2 14 1-30 1 49 2-25 1 19 2-48 1 31 2-19 1 5 2-9 1 3 2-12 1 22 2-42 1 3 2-11 1 35 2-36 1 35 2-40 1-15 2 16 1 29 2-39 1-42 2 19 1 13 2-6 1 24 2-19 1 42 2-51 1 84 2-75 1 13 2 11 1 50 2-52 1 47 2-74 1 73 2 1 1-30 2 4 1 37 1-45 2-19 1-5 2 66 1-57 2 61 1-140 2 53 1-9 2 20 1-19 2 80 1-116 2 52 1-1 2 35 1-129 2 98 1-39 2 53 1-57 2 66 1-61 2 56 1-39 2 33 1-27 2-5 1-4 2 60 1-40 2-11 1-9 2 121 1-73 2 25 1-34 2 29 1-22 2 35 1-25 1 50 2-47 1 40 2-15 1 34 2-18 1 48 2-13 1 35 2-88 1 82 2-35 1-4 2 8 1 11 2-8 1-29 2 30 1 52 2-110 1 45 2 7 1 34 2-44 1 42 2-10 1 24 2 33 1 22 2-94 1 65 2-34 1 3 2 13 1-28 2-51 1 80 2-60 1 25 2 8 1 46 2-96 1 54 1-32 2 24 1-74 2 105 1-71 2 45 1-9 2 4 1-50 2-26 1 6 2 48 1-48 2 45 1-36 2 0 1 17 2-12 1-13 2 60 1-81 2 67 1-54 2 25 1 4 2 34 1-31 2 44 1-86 2 67 1 24 2-14 1-25 2 43 1-55 2 42 1 0 2 56 1-88 2 38 1-2 1 21 2-88 1 75 2-42 1 51 2-30 1 20 2-51 1 104 2-92 1 21 2-10 1 31 2-89 1 100 2-52 1 66 2-100 1 66 2-11 1-14 2-22 1 64 2-37 1 44 2-46 1 72 2-75 1 6 2 21 1-31 2-23 1 14 2 21 1 4 2 5 1 61 2-32 1 42 2-66 1 45 2-26 1-1 1 31 2 27 1-40 2 31 1-40 2 55 1-73 2 85 1-23 2 17 1-53 2 17 1-3 2 14 1-26 2 51 1-4 2 62 1-74 2 29 1-19 2 74 1-107 2 42 1-32 2 5 1-3 2 42 1-16 2 21 1-52 2 49 1-35 2 23 1-40 2 38 1-26 2 77 1-83 2 50 1-22 1 57 2-54 1 33 2-23 1 52 2-72 1 44 2 9 1-31 2-23 1 43 2-7 1-2 2-20 1 31 2-78 1 47 2-20 1 18 2-30 1 2 2 20 1-60 2-9 1 51 2 1 1-12 2 18 1 4 2-53 1 50 2-66 1 63 2 19 1 37 2-63 1 27 2-14 1 46 2-45 1 62 1-78 2 69 1-87 2 51 1-57 2 49 1-6 2 6 1-67 2 28 1-51 2 30 1-56 2 24 1-54 2 27 1-50 2 49 1-72 2 27 1-18 2 46 1-16 2-2 1-6 2 18 1-20 2-15 1 23 2-9 1-53 2 77 1-12 2-5 1-52 2 49 1-2 2 26 1-41 2 11 1 25 2-4 1-15 1 47 2-90 1 91 2-55 1 12 2 6 1 3 2-45 1 34 2-84 1 139 2-103 1 12 2-11 1 47 2-52 1 67 2-36 1 12 2-30 1 44 2-38 1 55 2 10 1-38 2 4 1 36 2-4 1 21 2-53 1 26 2-13 1-1 2-27 1 107 2-68 1 22 2-40 1 15 2-53 1 67 1-52 2 100 1-66 2 3 1 23 2 0 1-39 2 71 1-66 2 21 1-43 2 26 1-38 2 28 1-7 2-22 1-8 2 0 1 73 2-32 1-21 2 53 1-71 2 50 1-12 2 26 1-69 2 71 1-46 2 31 1-9 2 52 1-85 2-10 1 18 2 5 1-83 2 108 1-40 2 16 1-2 2 31 1-6 1 35 2-51 1 39 2-78 1 60 2-5 1 37 2-105 1 89 2 3 1-2 2-53 1 70 2-53 1 29 2 59 1-48 2-34 1 50 2-68 1 44 2 3 1-17 2 3 1-17 2-56 1 95 2-48 1 41 2-16 1 68 2-40 1 90 2-90 1 59 2 19 1-14 2 19 1 52 2-128 1 87 1-62 2 68 1-20 2 50 1-50 2 8 1-11 2 23 1-2 2-6 1 28 2 9 1-30 2 46 1-38 2 2 1 14 2 28 1-50 2 38 1-30 2 17 1 13 2-1 1-57 2 68 1-47 2 69 1-71 2 78 1-26 2 38 1-5 2-18 1 2 2-17 1 11 2 46 1-29 2-42 1-6 1 60 2-68 1 45 2-10 1 63 2-37 1 32 2-69 1 8 2-19 1 84 2-51 1 15 2-32 1 15 2-17 1 28 2-3 1 14 2-22 1 3 2 1 1 13 2-31 1 42 2-27 1 8 2-20 1-20 2-9 1 39 2-8 1-21 2-5 1 34 2-16 1-9 2 13 1 39 2-45 1 18 2-4 1 47 1-72 2 9 1-6 2 23 1 29 2-52 1-22 2 45 1 10 2-60 1-6 2 38 1-40 2 98 1-107 2 43 1-41 2 26 1-43 2 52 1-18 2 5 1 4 2 1 1-11 2 41 1-86 2 74 1-49 2 83 1-15 2-34 1-27 2 34 1-30 2 60 1-63 2 57 1 13 2-5 1-53 1 89 2-77 1-2 2-1 1 35 2-13 1-23 2-7 1 36 2-8 1 6 2-67 1 48 2-59 1 66 2-50 1 60 2-43 1-3 2 23 1 10 2-14 1-11 2-62 1 119 2-70 1 45 2-49 1-4 2-47 1 33 2-39 1 40 2-40 1 27 2-29 1 40 2-36 1 36 2-23 1 49 2-30 1 81 1-72 2 33 1-6 2 27 1-72 2 96 1-61 2 127 1-71 2 55 1-59 2 36 1-58 2 34 1-31 2 21 1-23 2 22 1-15 2 35 1-80 2 88 1-53 2 32 1-42 2 5 1-7 2 61 1-42 2-22 1 11 2 22 1-33 2 53 1-50 2 22 1-2 2 56 1-26 2 53 1-39 1-3 2-22 1 3 2-8 1 24 2-41 1 5 2 29 1 9 2-29 1 32 2-18 1-46 2 7 1 25 2-35 1 57 2-29 1 24 2-37 1 54 2-37 1 4 2-7 1-18 2 28 1 22 2-93 1 74 2-81 1 83 2-48 1 18 2 22 1 35 2-64 1 27 2-26 1 10 2-40 1 115 1-72 2 47 1-78 2 33 1-46 2 86 1-33 2 69 1-77 2 108 1-57 2 8 1-49 2 19 1 23 2 30 1-61 2 45 1-56 2 64 1-26 2 27 1-45 2 80 1-50 2-18 1 2 2 9 1-6 2 30 1 21 2-68 1 92 2-60 1 0 2 48 1-15 2-24 1-50 2 49 1-34 2 6 1 34 1 42 2-43 1 22 2-35 1 23 2-23 1 12 2-36 1 33 2 0 1 6 2 16 1-3 2-24 1 62 2-47 1 56 2-61 1-8 2-8 1 32 2-19 1-13 2 29 1-31 2-12 1 20 2 6 1 20 2-33 1 14 2-57 1 51 2-25 1 0 2 7 1 11 2-43 1 27 2-25 1 31 1-14 2 31 1-86 2 46 1-70 2 74 1-34 2 18 1-34 2 34 1-46 2 96 1-120 2 83 1-21 2 48 1-53 2 23 1-24 2 40 1-74 2 50 1-10 2 17 1 13 2 10 1-29 2-13 1 1 2-5 1-3 2 11 1-30 2 68 1-19 2 30 1-8 2 15 1-86 2 108 1-49 2 14 1 1 1 55 2-58 1 27 2-37 1 5 2-20 1 27 2-27 1 24 2-28 1 92 2-65 1 54 2-35 1 49 2-51 1 35 2-32 1 10 2 26 1-13 2-59 1 58 2-25 1 3 2-95 1 78 2-39 1 64 2-12 1-3 2-73 1 27 2-1 1 18 2-50 1-5 2-13 1 77 2-87 1 30 1-65 2 20 1 106 2-67 1-41 2 32 1-47 2 59 1-29 2-31 1-1 2 34 1-31 2 79 1-92 2-20 1 29 2-29 1 15 2 52 1-65 2 37 1-36 2-2 1 3 2 53 1-57 2 72 1-61 2 34 1-67 2 88 1-96 2 73 1-59 2 23 1-18 2 48 1-4 2 72 1-60 1-1 2-24 1 51 2 40 1-26 2-105 1 131 2-106 1 70 2-12 1-19 2-13 1 25 2-77 1 88 2-35 1 76 2-93 1 84 2-47 1-24 2 5 1 33 2-31 1 50 2-36 1 43 2-39 1 57 2-58 1 33 2-17 1 41 2-5 1-5 2-34 1 47 2-42 1 21 2-5 1 12 2-36 1 2 1 12 2-20 1-36 2 75 1-39 2-5 1-33 2 78 1-69 2 0 1-2 2 59 1-12 2 23 1-10 2-15 1-11 2-18 1-11 2 80 1-113 2 73 1-30 2 36 1-67 2 84 1-47 2-2 1-28 2 36 1 6 2 25 1-6 2-10 1-12 2-48 1 3 2 31 1 9 1-55"/>
<path class="s" stroke="#c10c90" d="M82 316l2 86 1-127 2 6 1 3 2 58 1-93 2 59 1 6 2 30 1-11 1 58 2-102 1 71 2-118 1 40 2-36 1 6 2 26 1-39 2-38 1 18 2-18 1 76 2-106 1 41 2-16 1 27 2-22 1 42 2 20 1 5 2 4 1 10 2-37 1 45 2-12 1 1 2-17 1 66 2-68 1 20 2-11 1 84 2-100 1 29 2 26 1 45 2-15 1-11 2-53 1 24 1 33 2-75 1 49 2 21 1-110 2 205 1-122 2 11 1-48 2 71 1-54 2 47 1-53 2 75 1-50 2-37 1 21 2 28 1-102 2 14 1-42 2 36 1-1 2 18 1-17 2 62 1-120 2 61 1-12 2 36 1-51 2 4 1-25 2 30 1 8 2-16 1-42 2 75 1-32 2 30 1-30 1 18 2-4 1 76 2-93 1 65 2-35 1 50 2-171 1 131 2-31 1 109 2-124 1 13 2-10 1 65 2-116 1 72 2 20 1-4 2-63 1 93 2-86 1 82 2-83 1 20 2-11 1 65 2-43 1 49 2-103 1 41 2 37 1 157 2-138 1 58 2-98 1 125 2-46 1 77 2-46 1 81 2-85 1 59 1-47 2 46 1-7 2 17 1-40 2-29 1-12 2 42 1-87 2 37 1-29 2 47 1-24 2 23 1-16 2 36 1-22 2 18 1 57 2 54 1-43 2 61 1-16 2 66 1-42 2-30 1-41 2 71 1-27 2 70 1-61 2 13 1-44 2 8 1-13 2 9 1 46 2-69 1 52 2 72 1-128 1 44 2 74 1-8 2-39 1 14 2-74 1 195 2-137 1 30 2-27 1 58 2-2 1 40 2-96 1 49 2-44 1 14 2-82 1 86 2-74 1 107 2-103 1 70 2-43 1 72 2-34 1 67 2-63 1-11 2 9 1-8 2 6 1 66 2-105 1 113 2-123 1 89 2-53 1 114 2-85 1 10 2-28 1 23 1-19 2 34 1-36 2-11 1-26 2 112 1-57 2 44 1-12 2-28 1 6 2-2 1 30 2-16 1 26 2-25 1-2 2 67 1-53 2-68 1 55 2-36 1 15 2 76 1-47 2 16 1 35 2-67 1-7 2 17 1-27 2 1 1 44 2 3 1-38 2 26 1-71 2 18 1-51 2 135 1-15 1-79 2-43 1 111 2-39 1 60 2-19 1-24 2-24 1 60 2-78 1 40 2-53 1 98 2-105 1 49 2-25 1 164 2-116 1 37 2-97 1 83 2-41 1 59 2-49 1 23 2-99 1 116 2-49 1-33 2-3 1 36 2-13 1 44 2-24 1 19 2-33 1 5 2-44 1 52 2-23 1 9 2 13 1 14 1-27 2 19 1-12 2-19 1-10 2 68 1-158 2 119 1-99 2 95 1-61 2 100 1-62 2 7 1 18 2-19 1 27 2 4 1-18 2 1 1-23 2 40 1 14 2 34 1-135 2 88 1-59 2 4 1-38 2 88 1-117 2 60 1-98 2 111 1-64 2 100 1-80 2 66 1-54 2 58 1-56 1 17 2 54 1-50 2-93 1 112 2-98 1 34 2-25 1 57 2-9 1 12 2 20 1 43 2-71 1 80 2-121 1 88 2-9 1 10 2-20 1 16 2-5 1 39 2-20 1-46 2 74 1 13 2-68 1-5 2 85 1-57 2 17 1 44 2-27 1 58 2-70 1 50 2-34 1 59 2-27 1-11 1 4 2-14 1-21 2 31 1 5 2 4 1 13 2 13 1-24 2 65 1-46 2 84 1-110 2 64 1-88 2 132 1-5 2-23 1-19 2 24 1-51 2 56 1-42 2 57 1-72 2-5 1-32 2 72 1-35 2 88 1-88 2-59 1-12 2 89 1-20 2 11 1-21 2-25 1 4 2-15 1-7 2 16 1-54 1 83 2-49 1 36 2-72 1 70 2-10 1 22 2-33 1 26 2-7 1 52 2-54 1 44 2-11 1 115 2-96 1 71 2-45 1 71 2-70 1 9 2-25 1 25 2-12 1 60 2-45 1 41 2-22 1 38 2-65 1 26 2-29 1 89 2-73 1 13 2 5 1 3 2-45 1 35 2-1 1-34 1-70 2 93 1-2 2-15 1-24 2 36 1-28 2-4 1-55 2 64 1-33 2 88 1-72 2 60 1-43 2 6 1 12 2 15 1-18 2 67 1-60 2 71 1-7 2 9 1-62 2 78 1-64 2 25 1-44 2 37 1-33 2 13 1-24 2 56 1-39 2 26 1-91 2 49 1-60 2 117 1-64 2 8 1-46 1 34 2-16 1 26 2-12 1 43 2-85 1 81 2-64 1 13 2-81 1 108 2-43 1 18 2-57 1 55 2-49 1 56 2-50 1 79 2-21 1 111 2-108 1 70 2-47 1 26 2-24 1-25 2-4 1-35 2-1 1 57 2 4 1 1 2 21 1 40 2-76 1 57 2-73 1 57 2-35 1 80 1-66 2 2 1 36 2 6 1-65 2 23 1 2 2 7 1 17 2 42 1 12 2-62 1 25 2 56 1-61 2 22 1-72 2 38 1-64 2 69 1-77 2 52 1-7 2 10 1-74 2 98 1-71 2 44 1-48 2 17 1-40 2 15 1-19 2 62 1-32 2-31 1 59 2-6 1 13 2-53 1 2 1 29 2-44 1 47 2-22 1 29 2-19 1 5 2-28 1 20 2-84 1 93 2-72 1 39 2-56 1 56 2-76 1 42 2-13 1-7 2-4 1 110 2-98 1 2 2-85 1 15 2 63 1 3 2-68 1 5 2-21 1 72 2-71 1 94 2-61 1 8 2-22 1 15 2 15 1 17 2 9 1-23 2 0 1-31 1 10 2 22 1 9 2 20 1-44 2 133 1-110 2 13 1 41 2-54 1-26 2 115 1-94 2 16 1-14 2 1 1 33 2-39 1 0 2-29 1 15 2-45 1 38 2 20 1-52 2 76 1-31 2-17 1-27 2 66 1-22 2 20 1-49 2 34 1-13 2 26 1-32 2 30 1-41 2 18 1-15 1 39 2-46 1 57 2 16 1 14 2-99 1 136 2-92 1 62 2-26 1 61 2-157 1 73 2-15 1 120 2-107 1 56 2-36 1 47 2-79 1 75 2-72 1 25 2-22 1 45 2-36 1 7 2 20 1 27 2-130 1 119 2-7 1 12 2-30 1 1 2 4 1-25 2-37 1 125 2-83 1 44 2 8 1-17 1-36 2 88 1-84 2 11 1-65 2 82 1-29 2 18 1-7 2 28 1-27 2 33 1-55 2-7 1 1 2 54 1-46 2-2 1-51 2 37 1-42 2 22 1-16 2 72 1-36 2 31 1-23 2 48 1-42 2-44 1 22 2 51 1 1 2 20 1-100 2 69 1-20 2 72 1-68 2 32 1-71 1 77 2-27 1 58 2-70 1-11 2-23 1 115 2-67 1 61 2-67 1 61 2-81 1-15 2 47 1-23 2-44 1 124 2-79 1 53 2-43 1 17 2-97 1 109 2-64 1 42 2-29 1 58 2-34 1 26 2-86 1 43 2 48 1-28 2-41 1 109 2-62 1 20 2-46 1 106 2-34 1-48 1-87 2 144 1-60 2-6 1 14 2 1 1-57 2 97 1-88 2 70 1-22 2 30 1-53 2 58 1 6 2-38 1-22 2 70 1-21 2 15 1-22 2 44 1-101 2 145 1-109 2 67 1-129 2 81 1-34 2-15 1 56 2-51 1 24 2 65 1-48 2 35 1-100 2 68 1 0 2 10 1-20 2 46 1-52 1 32 2-55 1 126 2-121 1 70 2-49 1 21 2-71 1 102 2-37 1 60 2-30 1 29 2-73 1 21 2-26 1 41 2-29 1 27 2-48 1 83 2-99 1 81 2 19 1 5 2-7 1-3 2-39 1-11 2-47 1 68 2-25 1 55 2-108 1 46 2 7 1-20 2-44 1 110 2-77 1-3 1 8 2 29 1-57 2 105 1-104 2 103 1-3 2-71 1 20 2 30 1-74 2 74 1-7 2 32 1-141 2 76 1-5 2 3 1-38 2 107 1-93 2 36 1-12 2-22 1-63 2 72 1 41 2-56 1-34 2-55 1-8 2 29 1-7 2-1 1 28 2-5 1-24 2-8 1 22 2 40 1-126 2 109 1-128 1 112 2-94 1 46 2-21 1 2 2-57 1 76 2-120 1 98 2-27 1 24 2-51 1 64 2-103 1 75 2-10 1 61 2-20 1 84 2-101 1-8 2 25 1 27 2-87 1 89 2-45 1 35 2-26 1 33 2-57 1 73 2-21 1 23 2-78 1 53 2 13 1-35 2-48 1 86 2-28 1 46 1-71 2-6 1-42 2 155 1-82 2 100 1-144 2 63 1-14 2-3 1-48 2 93 1-64 2 101 1-68 2-7 1 25 2-58 1-16 2 12 1-12 2 87 1-132 2 157 1-116 2 84 1-29 2 56 1-80 2 85 1-138 2 107 1-30 2 84 1-79 2 49 1-79 2 107 1-105 2 36 1 12 1-38 2-83 1 144 2-86 1 44 2-97 1 71 2-8 1 39 2-55 1 76 2-32 1 34 2-60 1 40 2-108 1 101 2-42 1 142 2-111 1 54 2 5 1 5 2-51 1-1 2-39 1 100 2-101 1 94 2-32 1 42 2-88 1 54 2-5 1 11 2-19 1 23 2-35 1 46 2-44 1 61 2-62 1 18 1 7 2 60 1-48 2 43 1-72 2 66 1-51 2 53 1-78 2 71 1-29 2 8 1 1 2-5 1-21 2-3 1 24 2-33 1-76 2 127 1-73 2 71 1-71 2-7 1-37 2 111 1-65 2 70 1 13 2 60 1-119 2 51 1 16 2 70 1-107 2 96 1-14 2 83 1-99 1 70"/>
</g>
<path class="h" stroke="#2a2eec" d="M1098.55 1443.40h44.9"/>
<text class="t8" x="1161.27" y="1452.30">Venezuela</text>
<path class="h" stroke="#fa7c17" d="M1098.55 1477.38h44.9"/>
<text class="t8" x="1161.27" y="1486.28">Colombia</text>
<path class="h" stroke="#328c06" d="M1098.55 1511.36h44.9"/>
<text class="t8" x="1161.27" y="1520.26">Ecuador</text>
<path class="h" stroke="#c10c90" d="M1098.55 1545.34h44.9"/>
<text class="t8" x="1161.27" y="1554.24">Panama</text>
<text class="t10 m" x="1526.47" y="953.45">North - Type B</text>
<text class="t8 e" x="1068.35" y="1547.59">800</text>
<text class="t8 e" x="1068.35" y="1429.88">900</text>
<text class="t8 e" x="1068.35" y="1312.17">1000</text>
<text class="t8 e" x="1068.35" y="1194.45">1100</text>
<text class="t8 e" x="1068.35" y="1076.74">1200</text>
<text class="t8" transform="translate(1103.77 1642.40) rotate(-45)">2022</text>
<text class="t8" transform="translate(1239.55 1642.40) rotate(-45)">2023</text>
<text class="t8" transform="translate(1375.34 1642.40) rotate(-45)">2024</text>
<text class="t8" transform="translate(1511.49 1642.40) rotate(-45)">2025</text>
<text class="t8" transform="translate(1647.28 1642.40) rotate(-45)">2026</text>
<text class="t8" transform="translate(1783.06 1642.40) rotate(-45)">2027</text>
<text class="t8" transform="translate(1918.84 1642.40) rotate(-45)">2028</text>
</g>
<g>
<rect x="2071.10" y="969.35" width="895.85" height="608.85" fill="#eeeeee"/>
<path class="g" d="M2111.97 969.35v608.85M2247.75 969.35v608.85M2383.54 969.35v608.85M2519.69 969.35v608.85M2655.48 969.35v608.85M2791.26 969.35v608.85M2927.04 969.35v608.85M2071.10 1544.20h895.85M2071.10 1458.48h895.85M2071.10 1372.77h895.85M2071.10 1287.05h895.85M2071.10 1201.33h895.85M2071.10 1115.62h895.85M2071.10 1029.90h895.85"/>
<g transform="translate(2071.10 969.35) scale(.5)">
<path class="s" stroke="#2a2eec" d="M82 96l2 49 1-5 2-32 1 39 2 44 1-106 2 46 1-63 2 92 1-80 1 27 2 4 1-24 2 7 1 90 2-119 1 32 2 16 1 44 2-89 1 47 2 4 1-8 2 17 1-30 2 7 1 82 2-128 1 56 2-51 1 80 2-39 1-1 2 15 1 67 2-48 1 17 2 15 1-34 2-8 1-31 2 4 1 90 2-56 1 42 2-40 1 17 2-52 1 15 2-18 1 117 1-128 2 108 1-64 2 70 1-86 2 83 1-86 2 33 1-39 2 25 1-69 2 27 1-28 2 101 1-94 2 76 1-17 2 78 1-64 2-5 1-2 2 5 1-24 2 59 1-67 2-7 1-37 2 11 1-19 2 67 1-65 2 23 1-3 2 39 1-11 2 0 1 23 2 18 1-78 2 48 1-40 1 26 2-10 1 12 2-22 1 66 2-51 1 11 2-42 1 15 2-1 1-17 2 37 1 41 2-45 1 87 2-125 1 64 2-17 1 46 2-58 1-4 2 2 1 54 2-33 1 50 2 4 1 10 2-44 1 43 2-58 1 50 2-36 1-51 2 90 1-34 2 48 1-15 2 21 1-47 2 35 1 47 2-55 1-48 1-20 2 106 1-43 2 16 1-43 2 49 1-28 2 78 1-68 2 50 1-56 2 15 1-1 2-6 1-22 2 51 1-48 2 7 1 34 2-2 1-3 2 5 1-54 2 23 1 30 2 42 1-69 2 2 1-22 2 45 1 6 2 39 1-76 2 59 1-85 2 90 1-49 2 28 1-57 2 94 1-93 1 67 2-3 1-45 2 7 1 22 2 1 1 31 2-19 1 75 2-96 1 56 2-16 1 2 2 44 1-46 2-24 1 58 2-46 1 40 2-47 1 40 2-26 1 27 2 9 1 20 2-84 1 67 2-14 1 16 2-22 1-10 2-68 1 65 2-35 1 74 2-42 1 17 2-13 1-13 2 22 1-78 2-33 1 85 1-80 2 152 1-100 2 1 1-24 2-24 1-6 2 41 1-58 2 82 1-73 2 13 1-17 2 65 1 0 2 49 1-49 2 16 1-37 2 5 1 44 2-14 1-13 2 4 1-46 2 58 1 2 2 23 1-18 2 39 1-46 2 33 1-77 2 14 1-22 2 32 1-41 2 20 1 34 2 16 1 6 1 64 2-71 1 42 2-65 1 41 2-33 1 19 2 49 1-33 2 9 1-6 2-38 1 101 2-141 1 122 2-84 1 79 2-42 1 63 2-71 1 1 2-7 1 62 2-34 1 60 2-140 1 100 2-66 1 38 2-37 1 50 2-37 1 61 2 3 1 17 2-47 1 11 2 7 1 30 2-3 1 14 2-17 1 24 1-65 2 79 1-60 2 30 1-14 2 76 1-80 2 37 1-29 2 47 1-77 2 66 1-112 2 117 1-84 2 72 1-46 2 47 1-39 2 35 1-49 2 71 1 17 2-46 1-32 2 34 1-20 2 19 1-19 2 51 1-31 2 33 1-4 2 62 1-69 2 61 1-71 2 44 1-30 2 31 1-7 1 10 2-39 1 46 2-46 1 38 2-52 1 41 2-41 1 33 2-25 1 10 2-58 1 59 2-34 1 45 2-29 1 5 2-57 1 94 2-84 1 100 2-91 1 61 2-36 1 15 2-9 1 37 2-73 1-13 2 57 1-72 2 52 1 25 2-10 1-45 2 48 1 33 2-49 1-19 2-7 1 47 1-35 2 22 1-49 2 91 1-73 2 47 1-88 2 74 1-62 2 34 1-6 2-5 1 27 2 3 1-8 2 25 1-7 2 50 1-69 2-2 1-56 2 90 1-35 2 50 1-14 2-3 1-10 2 41 1-39 2 23 1-30 2 54 1-12 2-16 1-27 2 41 1-41 2 44 1-36 2 110 1-119 2 66 1-111 1 131 2-58 1 20 2-52 1 50 2-12 1-14 2-16 1 35 2-35 1 34 2-12 1 12 2-27 1 50 2-48 1 65 2-44 1 4 2 12 1-48 2 50 1 0 2-38 1 69 2-40 1 69 2-41 1-4 2-62 1 56 2-17 1 9 2 20 1 76 2-50 1-13 2-19 1 7 2-29 1 96 1-26 2-9 1-12 2 17 1-38 2 60 1-47 2 32 1-42 2 27 1-27 2 47 1-48 2 72 1-75 2 27 1-23 2 68 1-119 2 99 1-36 2 19 1-8 2 16 1 8 2-73 1 18 2 61 1-77 2 93 1-99 2 44 1-44 2 28 1-17 2 76 1-58 2 14 1-6 2 50 1-49 2 26 1-41 1 44 2-58 1 7 2-52 1 108 2-53 1-13 2 6 1 65 2-105 1 19 2-45 1 113 2-46 1 45 2-71 1 58 2 8 1 32 2-76 1 50 2 24 1-36 2 15 1 33 2-36 1 2 2 3 1-5 2 1 1 8 2-28 1 56 2-60 1 44 2-44 1 49 2-38 1 116 2-109 1 62 1-43 2 20 1-4 2-25 1 5 2 46 1 12 2-9 1 3 2-3 1-51 2 95 1-39 2 19 1-59 2 57 1-51 2 9 1-43 2 83 1-87 2 90 1-94 2 102 1-65 2 9 1-21 2 54 1-41 2 10 1-10 2 0 1-54 2 8 1 60 2 6 1-51 2 35 1 7 2-18 1-78 1 83 2 38 1 18 2-58 1-9 2 3 1 30 2 25 1-62 2 23 1 50 2-56 1 87 2-67 1-4 2-15 1 2 2-1 1 31 2-28 1 10 2 35 1 58 2-104 1 77 2-35 1 21 2-55 1 133 2-128 1 6 2-52 1 74 2-38 1 89 2-96 1 96 2-50 1-7 2-56 1 65 2-51 1 39 1-32 2 25 1-29 2 37 1-45 2 36 1 11 2 12 1-14 2 42 1-69 2 43 1-28 2 9 1-68 2 78 1-96 2 82 1-5 2 40 1-69 2 50 1-47 2 54 1-20 2 7 1-27 2 35 1-81 2 38 1 32 2 17 1-58 2 9 1 1 2 72 1-70 2 55 1-57 2 11 1-34 1 35 2 34 1-16 2-80 1 41 2-15 1 8 2 6 1 33 2-26 1-21 2-15 1 61 2-92 1 112 2-84 1 110 2-53 1 16 2-46 1 22 2-42 1 52 2 57 1-22 2-38 1 25 2-19 1 38 2-73 1 62 2-19 1 80 2-80 1 23 2-3 1 43 2-54 1 67 2-86 1 61 2 15 1 5 1-26 2-23 1 26 2 54 1-54 2-12 1-3 2 11 1 12 2 25 1-48 2 14 1-56 2 44 1-40 2 54 1-43 2 10 1 1 2 37 1-89 2 29 1 42 2 42 1-96 2 14 1 20 2 14 1-89 2 82 1-38 2 73 1-42 2 13 1-47 2 10 1 15 2 22 1-9 2 1 1-7 1 19 2-14 1 72 2-102 1 41 2-69 1 96 2-82 1 81 2-64 1-28 2 2 1 61 2-73 1 44 2-16 1 81 2-66 1 38 2-35 1 51 2-59 1 33 2-19 1 31 2-64 1 46 2-13 1-16 2 4 1-15 2 10 1 37 2-84 1 65 2-26 1 32 2-45 1 43 2-35 1 28 1-58 2 20 1 1 2 35 1-4 2 55 1-61 2 5 1-8 2 62 1-76 2 22 1 45 2-39 1-23 2 77 1-72 2 41 1-93 2 45 1-22 2 29 1-23 2-7 1-19 2 15 1-23 2 55 1-70 2 72 1-43 2 47 1-49 2 38 1-31 2 68 1-59 2 37 1-53 2 64 1-75 2 13 1 24 1 39 2-114 1 49 2-21 1 20 2-19 1 63 2-62 1 65 2-46 1 55 2-25 1 5 2-56 1 29 2-25 1 72 2-36 1-3 2-21 1 31 2-46 1 49 2 2 1-45 2-3 1-8 2-12 1 48 2 0 1 9 2-11 1 22 2-91 1 53 2 33 1 44 2-52 1 76 2-94 1 89 1-78 2 5 1-6 2 24 1-31 2-3 1-6 2 27 1-15 2-13 1 35 2 4 1-13 2 54 1-62 2 41 1-63 2 69 1-80 2 46 1-48 2 63 1-31 2 29 1 9 2 17 1 15 2-15 1-17 2 15 1-37 2 14 1-68 2 68 1-35 2 58 1-39 2-9 1-7 2 31 1-12 2 21 1-20 1 44 2-88 1 27 2-12 1 35 2-1 1 16 2-3 1-19 2 1 1 7 2 13 1-11 2-46 1-26 2 53 1-46 2 11 1 34 2-84 1 59 2-33 1 23 2-40 1 21 2-2 1 50 2-56 1 86 2-78 1 48 2-50 1 41 2-30 1 65 2-92 1 49 2 21 1-25 2-2 1 1 1-37 2 42 1-95 2 35 1 13 2 28 1-48 2 94 1-80 2 69 1-40 2 41 1-38 2 43 1-73 2 126 1-113 2 128 1-50 2 22 1-53 2 19 1-7 2 21 1-46 2 8 1 23 2 8 1-40 2 42 1-50 2 23 1-59 2 48 1-59 2 14 1-1 2 25 1-58 2 0 1 56 1-10 2-53 1 28 2 47 1 5 2-84 1 104 2-61 1 54 2-61 1 15 2-15 1 41 2-12 1 7 2-16 1 43 2-19 1 12 2-71 1 45 2-36 1 31 2-21 1 56 2-43 1 35 2-11 1 45 2-29 1 46 2-22 1 52 2-15 1-65 2 26 1 80 2-93 1 100 2-105 1 69 2-78 1 64 1-96 2 94 1-14 2 3 1-7 2 59 1-88 2 47 1-6 2-19 1 16 2-14 1-57 2 62 1-40 2 22 1-21 2 38 1 7 2-16 1-5 2 13 1-30 2 0 1-1 2 57 1-11 2 32 1-45 2 13 1-31 2 45 1-32 2-2 1 12 2 13 1-12 2 29 1-30 1 21"/>
<path class="s" stroke="#fa7c17" d="M82 706l2 17 1-78 2 75 1-64 2 41 1-36 2 41 1-48 2 68 1-4 1-54 2-7 1 35 2-26 1 34 2 23 1 74 2-86 1-3 2 21 1 18 2-46 1 48 2-21 1 11 2-15 1 4 2-36 1 40 2 11 1 54 2-52 1 27 2-64 1 49 2-32 1 50 2-80 1 61 2-18 1-7 2-63 1 57 2-22 1 55 2-42 1 49 2-92 1 48 2-34 1 13 1 27 2 2 1-17 2 39 1-66 2 79 1-81 2 41 1-7 2 39 1-50 2 35 1-84 2 93 1-75 2 39 1 18 2-26 1-53 2 65 1 3 2 2 1-7 2 4 1-25 2 108 1-89 2 45 1-69 2 50 1-23 2 30 1-20 2-22 1 39 2-15 1-26 2-13 1 9 2-3 1-3 1 47 2-79 1 41 2 11 1 10 2-43 1 32 2-44 1 39 2-3 1 36 2-14 1 2 2-19 1 29 2-9 1 52 2-44 1 35 2-46 1 30 2-35 1 9 2-22 1 61 2-27 1 0 2 0 1 6 2-7 1 35 2-32 1 28 2-15 1 4 2-2 1 16 2-25 1 11 2 14 1-35 2-23 1 28 1-33 2 82 1-28 2-44 1-12 2 87 1-62 2 56 1-76 2 52 1 6 2 17 1-77 2 52 1-60 2 39 1-10 2 0 1-27 2 59 1-59 2 34 1-14 2 71 1-86 2 42 1-41 2 13 1-10 2 94 1-116 2 54 1-53 2 77 1-38 2 9 1-8 2 20 1-26 2 34 1-26 1 34 2-26 1 33 2-44 1 48 2-18 1-15 2 15 1 12 2 2 1 9 2 12 1 13 2-4 1-10 2-32 1 69 2-30 1 37 2-5 1-48 2-1 1-6 2-31 1 76 2-63 1 51 2-16 1 40 2-46 1 53 2-35 1 0 2-6 1 64 2-82 1 26 2-8 1 26 2 3 1 5 2-32 1 11 1-15 2 23 1-3 2 5 1-54 2 64 1-88 2 64 1 43 2-38 1-30 2 35 1-65 2 77 1-24 2-10 1 30 2-3 1-58 2 35 1-29 2 54 1-4 2 20 1-8 2-31 1 4 2-14 1 8 2 85 1-62 2 1 1-31 2 16 1-6 2 18 1 4 2 10 1-1 2 9 1-12 1 8 2-23 1 42 2-28 1 12 2 25 1 1 2-31 1 7 2 8 1 27 2-45 1 10 2 15 1 38 2-34 1 38 2-17 1 2 2-10 1 18 2-71 1 49 2 3 1 20 2-33 1 11 2-8 1 28 2-46 1 43 2-12 1-30 2-15 1 63 2-36 1-24 2-12 1 22 2-6 1 16 2 4 1-2 1 5 2-15 1-17 2-2 1-41 2 53 1-36 2 14 1-37 2 48 1-26 2 27 1-17 2 13 1-52 2 59 1-35 2 20 1-48 2 44 1 15 2-26 1-75 2 39 1-3 2 27 1-56 2 73 1-20 2 10 1-36 2 53 1-51 2 33 1-4 2 35 1-122 2 107 1-76 2 50 1-48 1 68 2-67 1 17 2-26 1 48 2-13 1 23 2-18 1 10 2-49 1 53 2-20 1-25 2-17 1 27 2-15 1 10 2-11 1-5 2 19 1 23 2-19 1-38 2 10 1 33 2-4 1-23 2 3 1 15 2 14 1 3 2 6 1-19 2-53 1 41 2 5 1 11 2-14 1 7 2-25 1 29 1-9 2 45 1-80 2 104 1-50 2-2 1-24 2 88 1-67 2-6 1-6 2 13 1 12 2 8 1-28 2 40 1-72 2 43 1-37 2 31 1-47 2 85 1-66 2 19 1-2 2 40 1-53 2 43 1-51 2 65 1-82 2 76 1-67 2 33 1-4 2-7 1-5 2 40 1-5 2 22 1-84 2 62 1-30 1-28 2-4 1 59 2-23 1-4 2-21 1 43 2-46 1-9 2-28 1 10 2 5 1 38 2-44 1 27 2 0 1 55 2-11 1-24 2-39 1 55 2-43 1 4 2 13 1 7 2-20 1 24 2-51 1 17 2 8 1 18 2-12 1 29 2-9 1 45 2-51 1 23 2-55 1 58 2-40 1 30 1-40 2 25 1 4 2-49 1-17 2 85 1-95 2 134 1-83 2 63 1-42 2 12 1-18 2-2 1 15 2 7 1-31 2-12 1-43 2 106 1-68 2 58 1-34 2-8 1-33 2 42 1 1 2 28 1-43 2 36 1 18 2 11 1-29 2 47 1-50 2 45 1-58 2 41 1-14 2-6 1-10 2 21 1-26 1 62 2-63 1 45 2-23 1 35 2-43 1 59 2-50 1 21 2-45 1 43 2-7 1 47 2-1 1-30 2 2 1 3 2-34 1 25 2-30 1 20 2-54 1 86 2-53 1-1 2-36 1-20 2 17 1 24 2-20 1-9 2-13 1-3 2-4 1 0 2 34 1 1 2-44 1 17 2 54 1 1 1-61 2 63 1-46 2-13 1 10 2 11 1 6 2 19 1-51 2 41 1-36 2-11 1-9 2 48 1-52 2 40 1-42 2-21 1-53 2 87 1-30 2 34 1-1 2-10 1 7 2 49 1-32 2 17 1 7 2 15 1 10 2-9 1-24 2 62 1-79 2 7 1 53 2-32 1 22 2 6 1-64 1 90 2-57 1 52 2-9 1 29 2-56 1 23 2-32 1 36 2-68 1 110 2-105 1 40 2-17 1 67 2-49 1 13 2-66 1 67 2 9 1-62 2-8 1 41 2-3 1-22 2 10 1 10 2-27 1 49 2-39 1 9 2 14 1 12 2-43 1 25 2-26 1 88 2-74 1 11 2-20 1 67 2-18 1-20 1 29 2-55 1 50 2-7 1-9 2 8 1-40 2 35 1-31 2 57 1-87 2 50 1-55 2 66 1-66 2 82 1-51 2 40 1-39 2 20 1-39 2 27 1-30 2 66 1-25 2-15 1 7 2-2 1 4 2-1 1-46 2 27 1-2 2 50 1-42 2 1 1-23 2 61 1-18 2 8 1-20 1-3 2-43 1 54 2-37 1 24 2-25 1 11 2-37 1 47 2-11 1-19 2 26 1 39 2-57 1 13 2-18 1-3 2-13 1 15 2-14 1 30 2 16 1-21 2-7 1 34 2-27 1 32 2-70 1 13 2-17 1 76 2-34 1 27 2-10 1-13 2 10 1-11 2 19 1-22 2 0 1 12 2-5 1 62 1-80 2 61 1-23 2-30 1 20 2 51 1-52 2 28 1-25 2 37 1-44 2 54 1-61 2 31 1 1 2 38 1-17 2-3 1-36 2 55 1-57 2 31 1-40 2 23 1-31 2 61 1-20 2 16 1-33 2 21 1 5 2-3 1-1 2 2 1-8 2 72 1-73 2 32 1-26 2 7 1 9 1 12 2 11 1-9 2-30 1 58 2-28 1 51 2-22 1 30 2-25 1 46 2-88 1 40 2-2 1 48 2-89 1 45 2-15 1 12 2-9 1 53 2-70 1 34 2 27 1-19 2-20 1 75 2-44 1-7 2-27 1 23 2-24 1-12 2-14 1 55 2 2 1-8 2-17 1 13 2-8 1-52 1 11 2 18 1-7 2-4 1 28 2-17 1-25 2 28 1 5 2-9 1-26 2 47 1-30 2 12 1-23 2 1 1 3 2-1 1-18 2 27 1-24 2 11 1-45 2 43 1-6 2 51 1-54 2 29 1-11 2 3 1-31 2 41 1-38 2 40 1-40 2-3 1-1 2 28 1-22 2 26 1-33 2 6 1-27 1 30 2 13 1 0 2-61 1 48 2-16 1 61 2-36 1 34 2-28 1 12 2-1 1 26 2-53 1 16 2 9 1-14 2-28 1 103 2-69 1 37 2-35 1 54 2-47 1 36 2-30 1-4 2-22 1 15 2-30 1-15 2 23 1 37 2-61 1 59 2-20 1 14 2-7 1 17 2-21 1 19 1-28 2 4 1-29 2 54 1-31 2 52 1-43 2 63 1-95 2 25 1-75 2 83 1-17 2 32 1-14 2 34 1-23 2 12 1 0 2-15 1-39 2 29 1-48 2 83 1-46 2 44 1-66 2 102 1-59 2 37 1 7 2-14 1-12 2 15 1-26 2 36 1-5 2-29 1-13 2 4 1 0 2 83 1-78 1 43 2 18 1 0 2-50 1 25 2 7 1 18 2-30 1-13 2-24 1 45 2-31 1-1 2-22 1 34 2-24 1 40 2-15 1 28 2-55 1 26 2 6 1-9 2-47 1 61 2-19 1-5 2-3 1 57 2-72 1 28 2-20 1 40 2-43 1 57 2-94 1 39 2-13 1 44 2-15 1-32 1 5 2 20 1-19 2 8 1-12 2 41 1-79 2 44 1-4 2 9 1-43 2 54 1-52 2 39 1-19 2-5 1 2 2 51 1-45 2-7 1-33 2 46 1-33 2 41 1-34 2 25 1-4 2 13 1-2 2-18 1-30 2 70 1-11 2 29 1-107 2 34 1-13 2 38 1 13 2-17 1-17 1 13 2-23 1 24 2-53 1 59 2-17 1 30 2-61 1 35 2-8 1 23 2-14 1 13 2-14 1 21 2-44 1 75 2-32 1 38 2-55 1 100 2-131 1 48 2 17 1 28 2-37 1 7 2-30 1 18 2 38 1 2 2-42 1 17 2 21 1 30 2-79 1 72 2-12 1-10 2-3 1 40 2-61 1 50 1-1 2 51 1-70 2 33 1 2 2-3 1-17 2 34 1-41 2 25 1-42 2 41 1-9 2 3 1-30 2 56 1-27 2 26 1-48 2 14 1 30 2-12 1-16 2 46 1-11 2-6 1-37 2 39 1-52 2 17 1-40 2 88 1-44 2 57 1-73 2 55 1-15 2 13 1-47 1 20"/>
<path class="s" stroke="#328c06" d="M82 972l2 48 1-32 2 17 1-31 2 39 1 18 2 2 1-2 2-13 1 2 1 23 2-27 1 54 2-70 1 48 2-19 1 19 2-27 1-20 2 25 1 13 2-43 1 61 2-22 1 3 2-10 1 40 2-98 1 50 2-1 1 26 2-24 1 17 2-3 1 6 2-43 1 31 2-45 1 62 2-13 1 37 2-64 1 38 2-16 1 31 2 5 1-25 2 17 1-12 2-21 1 20 1-5 2 14 1-27 2 4 1 20 2 4 1-34 2 40 1-36 2 47 1-66 2 65 1-33 2 25 1-22 2-5 1 24 2-18 1-8 2 46 1-65 2 14 1 14 2 22 1-52 2 20 1-13 2-11 1 15 2 11 1 24 2-26 1 9 2-17 1-23 2 28 1-26 2 38 1-27 2 24 1-29 1 5 2-6 1 33 2-9 1 15 2-7 1 5 2-24 1 26 2-62 1 9 2 17 1 27 2-31 1 9 2-33 1 57 2-32 1 11 2-16 1 24 2-37 1 24 2-25 1 12 2 8 1 5 2-23 1 60 2-51 1 34 2-33 1-5 2 11 1 10 2 5 1 8 2-39 1-10 2-4 1 2 2-42 1 62 1-22 2 44 1-48 2 19 1-44 2 46 1-21 2 26 1-36 2 22 1-27 2 39 1-19 2 18 1-5 2 21 1-43 2 47 1-47 2 7 1-8 2 20 1-6 2-10 1-12 2 45 1-38 2 46 1-26 2 12 1-13 2 7 1-65 2 41 1-25 2 58 1-27 2 13 1-37 2 4 1-8 1 35 2-18 1-4 2 1 1 3 2-34 1 21 2-42 1 49 2-54 1 72 2 12 1 6 2-77 1 35 2-5 1 42 2-6 1 15 2-29 1 34 2-24 1 0 2-40 1 26 2-2 1-24 2 16 1 40 2-27 1-36 2-5 1 32 2-40 1 21 2-4 1 34 2-42 1 4 2 26 1-24 2-53 1 67 1-37 2 35 1-50 2 51 1-52 2 33 1 11 2 10 1-65 2 21 1-52 2 75 1-37 2 43 1-23 2 14 1-35 2 43 1-29 2 20 1-9 2 2 1-10 2 15 1-42 2 47 1-51 2 24 1-1 2 1 1-27 2 66 1-74 2 33 1-9 2 6 1 1 2-8 1-21 2 36 1 9 1-1 2-22 1 30 2-49 1 24 2-11 1-19 2 28 1-15 2-11 1 44 2-11 1 35 2-44 1 56 2-48 1 29 2-32 1 68 2-53 1 24 2-3 1-14 2-39 1 49 2-18 1 42 2 2 1 4 2 8 1-4 2-7 1 3 2-8 1 65 2-39 1 27 2-43 1 12 2 6 1 37 2-43 1 46 1-22 2 11 1-71 2 99 1-38 2 8 1 27 2 4 1-60 2 69 1-65 2 71 1-49 2-6 1 19 2 10 1-15 2 34 1-66 2 26 1 4 2 29 1-31 2 39 1-10 2-9 1 16 2 27 1-25 2 8 1-23 2 22 1 9 2 46 1-48 2-6 1 16 2 23 1-2 2 37 1-28 1 5 2-3 1 2 2-27 1 29 2-26 1 81 2-49 1-3 2 15 1 10 2-23 1 17 2-24 1 31 2-26 1 30 2-34 1 25 2 11 1 10 2-33 1 14 2-10 1 9 2-32 1 48 2-59 1 23 2 14 1 22 2-35 1 36 2-28 1-6 2 0 1 20 2-6 1 8 2-30 1 58 1-50 2 47 1-38 2 16 1-13 2 12 1-23 2 26 1-47 2 9 1 23 2-15 1-18 2 7 1 15 2-2 1-26 2-12 1-27 2 26 1 5 2 21 1 3 2 21 1-38 2 6 1-36 2 29 1-29 2 47 1-41 2 11 1-2 2 4 1-20 2 5 1-10 2 20 1-35 2 32 1-44 2 23 1-5 1 41 2-34 1-2 2 13 1 23 2-33 1-1 2-36 1 53 2 2 1-14 2 8 1 11 2 14 1 4 2-39 1 56 2-43 1 57 2-39 1 10 2-24 1 10 2 4 1 15 2 1 1 7 2-8 1 68 2-79 1 34 2-24 1-3 2-30 1 51 2-60 1 26 2-2 1 16 2-32 1 27 1-24 2 32 1-9 2 22 1-34 2-6 1-11 2 26 1 12 2 18 1-32 2 21 1-50 2 7 1 9 2 28 1-46 2 30 1-44 2 26 1-6 2 12 1-21 2 30 1-41 2 25 1-3 2-2 1-3 2-27 1 13 2 24 1-20 2-2 1-43 2 43 1-33 2 47 1-53 2 4 1 46 2 28 1-71 1 35 2-42 1 48 2-31 1 10 2-63 1 50 2-44 1 45 2-38 1 18 2-15 1 6 2-12 1 33 2-69 1 37 2 21 1 26 2-105 1 63 2-39 1 70 2-41 1 50 2-62 1 48 2-46 1 23 2-3 1 25 2-47 1 46 2-21 1 53 2-37 1 9 2-24 1 30 2-29 1 20 1 3 2 14 1-48 2 76 1-56 2 33 1-8 2 4 1-26 2 31 1-2 2-2 1-9 2 20 1-14 2 18 1-36 2 37 1-39 2 46 1-43 2 29 1-9 2 27 1-21 2 35 1-16 2-3 1 0 2-21 1-54 2 67 1-52 2 54 1-58 2 25 1-49 2 55 1-25 2 45 1-23 1-22 2-13 1 41 2-53 1 19 2-20 1-4 2 9 1 20 2-44 1 0 2-39 1 30 2 13 1 1 2-57 1 41 2 1 1-15 2-36 1 72 2-9 1-13 2-18 1 47 2-41 1 3 2-37 1 33 2-2 1 4 2-63 1 58 2-13 1 15 2-24 1 67 2-95 1 69 2-42 1 7 2-33 1 78 1-90 2 69 1-15 2 68 1-88 2 42 1-2 2 18 1-25 2 52 1-72 2 50 1-20 2 34 1-35 2 44 1-27 2 75 1-78 2 4 1-1 2 43 1-33 2 12 1-22 2 38 1-15 2 30 1-51 2 43 1-21 2 20 1-40 2 21 1-46 2 59 1-26 2 25 1 6 2-26 1-54 1 41 2-52 1 16 2 12 1 44 2-63 1 4 2 7 1-32 2 33 1-7 2-27 1 71 2-23 1 48 2-92 1 42 2-9 1 4 2-9 1 42 2-17 1 5 2-29 1 73 2-66 1-5 2-12 1 65 2-30 1 54 2-29 1 19 2-14 1-1 2-13 1 29 2-76 1 49 2-31 1 60 2-12 1 26 1-58 2 49 1-48 2 24 1-20 2 27 1-34 2 53 1-64 2 57 1 6 2-34 1-35 2 23 1 8 2 24 1-26 2-12 1 5 2 48 1-80 2 30 1 17 2 21 1-67 2 36 1-47 2 64 1-25 2-10 1 21 2 9 1-25 2-4 1 3 2 3 1-38 2 18 1 13 2 5 1-15 1 90 2-100 1 12 2-22 1 23 2 6 1-29 2 12 1-9 2-25 1 14 2-78 1 55 2-32 1 92 2-71 1 38 2-74 1 59 2-34 1 41 2-47 1 60 2-62 1 7 2-35 1 53 2-13 1 23 2-36 1 19 2-7 1 13 2-27 1 94 2-94 1 14 2-18 1 32 2-50 1 43 1-45 2 16 1 20 2 13 1-29 2 3 1 22 2 22 1-57 2 57 1-3 2 30 1-41 2 1 1-44 2 37 1-25 2 43 1-46 2 15 1-26 2-1 1-32 2 63 1-44 2 53 1-32 2 8 1-18 2 59 1-76 2 15 1-1 2 37 1-54 2 14 1 27 2-26 1-14 2 43 1-71 2 43 1-6 1 2 2 3 1 31 2-51 1 43 2 4 1-1 2-42 1 29 2 39 1-44 2 8 1-17 2-32 1 5 2-12 1 70 2-55 1 37 2-49 1 70 2-21 1 35 2-124 1 67 2 5 1 52 2-33 1-18 2-51 1 77 2-86 1 69 2-49 1 29 2 4 1 18 2-3 1-6 2 9 1 49 1-44 2 40 1-48 2 57 1-43 2 43 1-60 2 30 1 4 2-3 1-35 2 40 1-39 2 73 1-43 2 22 1-8 2 15 1-2 2-1 1 7 2 7 1 4 2-3 1-20 2 35 1-47 2 47 1-83 2 78 1-70 2 66 1-15 2 22 1-73 2 23 1 1 2 25 1-37 2 16 1-11 2 38 1-51 1 43 2-69 1 73 2 5 1-4 2-30 1 14 2-40 1 58 2-31 1 23 2-46 1 52 2-30 1 36 2-19 1-8 2-48 1 42 2-20 1 45 2-37 1 41 2 4 1-25 2-20 1 52 2-34 1 51 2-55 1 12 2-17 1-3 2 11 1 34 2-30 1 19 2-62 1 47 2-20 1 31 1-25 2 40 1-10 2 6 1-28 2 31 1-24 2 46 1-28 2-16 1-6 2 49 1-44 2 9 1-22 2 86 1-86 2 22 1-22 2 20 1-18 2 25 1-14 2 43 1-53 2 16 1-6 2 7 1 3 2 16 1 13 2-11 1-10 2 24 1-10 2-10 1-22 2 25 1-12 2 50 1-76 1 30 2-16 1 33 2-25 1-18 2 13 1 23 2-28 1 7 2-13 1 59 2-30 1 17 2-10 1 52 2-62 1 36 2-93 1 70 2-42 1 17 2 10 1 26 2-27 1-5 2-23 1 43 2-43 1 20 2-30 1 29 2 5 1 8 2-21 1 31 2-50 1 47 2 11 1-22 2-38 1 40 2-39 1 32 1-47 2 25 1 9 2 28 1-64 2 64 1-43 2 50 1-64 2 32 1-31 2 4 1 15 2 17 1-70 2 64 1-34 2 50 1-27 2 6 1 0 2 6 1-63 2 51 1-28 2 39 1-55 2 44 1-3 2-17 1 0 2-1 1 10 2 28 1-60 2 18 1-24 2 88 1-20 1-29"/>
<path class="s" stroke="#c10c90" d="M82 406l2 99 1-71 2-8 1 24 2-22 1-22 2 66 1-44 2-17 1 38 1-28 2 13 1 52 2-37 1 16 2-70 1 65 2 5 1-55 2 20 1 12 2-3 1-7 2 41 1 29 2-42 1 31 2-24 1 26 2-46 1 34 2 16 1 48 2-50 1-1 2-10 1 19 2 2 1 3 2 5 1-52 2-10 1 94 2-76 1 61 2-12 1-28 2-47 1 89 2-38 1-51 1 3 2 52 1-59 2 53 1-46 2 76 1-36 2 4 1-28 2 32 1-4 2 42 1-30 2 55 1 15 2-61 1-7 2 52 1-1 2-17 1-10 2 64 1-44 2 24 1-61 2 47 1-66 2-3 1-45 2 82 1-52 2 25 1-28 2 50 1-77 2 51 1-79 2 31 1-33 2 79 1-42 1 6 2-49 1 56 2 31 1-15 2 26 1 18 2-22 1 57 2-67 1 84 2-50 1 4 2 42 1 14 2-69 1 5 2-45 1 36 2-15 1 16 2 4 1 35 2-33 1 53 2-38 1-13 2-41 1 94 2-99 1 14 2 6 1 6 2-27 1 22 2-30 1-6 2-24 1 32 2 4 1-22 2-55 1 87 1-48 2 25 1-42 2-16 1-20 2 49 1 4 2-35 1 0 2-1 1-52 2 100 1-68 2 72 1-99 2 101 1-78 2 36 1-18 2 21 1-35 2 51 1-51 2 20 1-16 2 31 1-38 2 49 1-67 2 60 1-16 2-3 1-64 2 96 1-56 2 12 1-49 2 76 1-7 2-5 1-127 1 64 2 17 1 32 2-54 1 36 2 32 1-45 2 39 1-12 2 2 1 40 2-10 1-16 2 7 1 21 2-99 1 90 2-48 1 26 2 14 1 28 2-23 1 67 2-56 1 23 2-24 1 51 2-37 1-24 2 32 1 20 2-7 1-8 2-16 1 39 2 33 1-11 2 43 1-9 2-4 1 10 2-21 1 29 1-21 2 12 1-63 2 90 1-32 2 33 1-45 2 21 1 23 2-39 1-34 2 92 1-51 2 15 1-20 2 68 1 11 2 4 1-1 2-23 1-25 2 67 1-21 2 10 1 6 2-7 1-71 2 48 1-41 2 38 1 7 2 25 1 15 2 1 1-49 2 42 1-48 2 52 1-5 2-11 1-15 1 52 2-41 1-12 2-44 1 51 2-41 1 18 2-23 1 64 2-20 1 39 2 0 1 3 2-39 1 42 2-72 1 59 2-28 1 37 2 6 1-20 2-27 1 53 2-30 1-18 2-27 1 151 2-121 1 30 2 1 1-32 2-51 1 45 2-70 1 109 2-56 1 57 2-40 1 55 2 23 1-51 2 7 1-6 1-40 2 63 1-25 2 29 1-22 2-21 1 18 2 26 1-63 2 61 1-79 2 20 1-70 2 54 1-77 2 39 1-5 2 58 1-87 2 48 1-39 2 40 1-62 2-6 1-15 2 15 1-18 2 15 1-22 2 39 1-38 2 38 1 13 2-31 1-63 2 83 1-37 2 56 1-68 2 15 1 21 1 49 2-36 1 41 2-54 1 36 2-25 1 59 2-87 1 39 2-4 1 23 2 10 1-9 2 15 1 51 2-22 1-39 2 13 1 64 2-33 1 7 2 14 1-17 2-45 1 45 2-42 1 104 2-74 1 1 2-33 1 22 2-13 1 51 2-9 1 36 2-90 1 99 2-18 1-14 2-45 1 64 1 2 2-29 1 23 2 28 1-34 2 28 1-35 2 73 1-50 2 27 1-40 2 48 1-77 2 67 1 0 2 13 1 7 2 49 1-94 2 71 1-21 2 41 1-21 2 10 1-17 2-4 1 7 2-23 1-39 2 81 1-52 2-8 1-2 2 6 1-4 2-42 1 13 2 30 1-29 2 16 1-24 2 97 1-52 1 11 2-2 1-16 2-60 1 24 2-30 1 36 2-32 1 30 2 25 1 9 2 11 1-9 2-45 1 6 2-21 1 55 2-75 1 71 2-48 1-27 2 36 1-16 2 7 1 27 2-47 1 41 2-42 1 34 2-44 1 74 2-40 1 55 2-84 1 32 2-35 1 36 2-86 1 82 2-50 1 107 1-10 2 7 1-49 2 65 1-67 2 19 1-40 2 46 1-24 2 66 1-31 2-8 1-1 2 16 1-39 2 76 1-88 2 85 1-61 2 15 1-32 2 36 1-22 2 67 1-50 2 18 1-56 2 106 1-77 2 65 1-101 2 92 1-54 2 49 1-6 2-21 1-27 2 20 1-4 2-2 1 7 2-2 1-40 1 67 2-28 1 23 2-71 1 23 2-25 1 45 2-37 1 19 2-2 1 1 2-45 1 64 2-81 1-4 2 13 1 10 2-19 1 37 2-88 1 56 2-69 1 24 2-27 1 83 2-39 1 54 2-59 1-18 2 22 1 25 2-74 1 51 2-82 1 90 2-68 1 67 2-27 1 58 2-14 1-10 1-22 2 43 1-57 2 76 1-58 2 29 1-20 2 2 1-13 2-9 1-41 2 44 1-50 2 4 1 14 2 58 1-82 2 33 1-39 2-13 1-40 2 63 1-25 2 31 1-21 2 63 1-71 2 15 1-29 2 40 1-19 2 7 1-37 2 54 1-10 2 26 1 12 2 3 1-66 2 107 1-29 1-8 2-39 1 40 2 33 1-3 2-2 1 23 2-34 1 44 2-12 1 27 2 17 1-2 2-25 1-42 2-1 1 21 2 14 1-5 2-1 1 45 2-93 1 100 2-25 1-4 2-73 1 102 2-76 1 57 2-4 1 14 2-67 1 13 2 12 1 40 2-86 1 111 2-76 1 26 2-11 1 39 2-33 1 19 1-48 2 62 1-26 2 7 1-3 2 32 1-64 2 45 1-62 2-5 1-16 2 43 1-6 2 36 1-20 2-18 1-13 2 20 1 1 2 44 1-47 2 31 1-73 2 29 1-16 2 30 1-14 2 32 1 13 2-61 1 8 2 95 1-45 2-46 1 46 2 0 1-52 2 94 1-74 2 61 1-30 1 5 2-32 1 15 2-56 1 91 2-56 1 92 2-99 1 74 2-53 1-10 2 7 1 20 2-34 1-6 2-13 1 42 2-50 1 80 2-34 1 4 2-6 1 39 2-73 1 72 2-40 1 58 2-50 1-24 2 9 1 41 2-31 1 58 2-64 1 49 2-30 1 54 2-15 1 23 2-54 1 21 2-22 1 87 1-78 2-15 1-25 2 68 1-53 2 30 1-24 2 16 1-39 2 43 1-77 2 44 1-28 2 45 1-23 2 17 1-21 2 20 1-47 2 90 1-54 2 0 1-23 2 63 1-25 2 27 1-40 2 42 1-70 2 29 1-21 2 45 1-20 2 13 1-40 2 80 1-87 2 66 1-50 2 28 1 10 1 16 2-39 1 94 2-63 1 2 2-17 1-3 2-29 1 78 2-97 1 44 2 38 1-49 2 50 1-24 2 10 1 18 2-71 1 56 2-82 1 92 2-37 1 48 2-24 1 31 2-17 1 1 2-8 1-13 2-10 1-24 2 28 1 13 2-49 1 31 2-37 1 3 2 5 1 18 2 12 1-38 1 1 2-50 1 11 2 25 1-14 2 44 1-23 2 8 1 6 2 50 1-94 2 33 1-48 2 124 1-99 2 31 1-23 2 4 1-46 2 110 1-76 2-14 1-19 2 16 1-21 2 20 1-3 2 6 1-7 2-16 1 0 2 49 1-25 2 59 1-45 2 46 1-28 2 25 1-10 2-8 1-2 2 42 1 14 1 55 2-56 1 10 2-52 1 24 2-10 1 6 2 3 1-37 2-9 1 27 2 9 1 33 2-57 1-13 2 7 1-3 2 19 1 22 2-39 1 17 2-17 1 30 2-9 1-21 2 8 1 17 2-34 1 38 2-96 1 85 2-45 1 7 2-31 1 24 2-26 1 40 2-15 1 11 2 7 1 20 1-33 2 37 1-40 2 5 1 16 2 19 1-51 2 53 1-5 2-10 1 7 2 28 1-49 2 69 1-77 2 41 1-12 2-9 1-31 2 78 1-29 2 27 1-35 2 19 1-11 2 40 1-53 2 31 1-26 2 37 1-14 2 18 1-43 2-20 1 10 2 8 1-20 2 63 1-79 2 8 1-6 2 52 1-62 1 71 2-41 1-35 2-48 1 40 2-34 1 65 2-37 1 47 2-50 1 47 2-23 1 16 2-49 1 56 2-21 1-27 2-22 1 92 2-104 1 108 2-58 1 32 2-70 1 68 2-47 1 44 2-41 1-17 2 20 1-17 2-6 1 31 2-42 1 20 2-5 1 61 2-33 1 37 2-57 1 34 1-28 2 24 1-36 2 41 1 18 2 17 1-71 2 12 1-29 2 69 1-67 2 51 1-56 2 48 1-60 2 37 1-40 2 119 1-89 2 66 1-35 2-34 1 17 2 6 1 6 2-5 1 36 2 22 1-97 2 100 1-44 2 33 1-13 2-8 1-37 2 49 1 0 2 37 1-31 2 34 1-58 1 85 2-22 1 28 2-38 1 79 2-44 1 32 2-68 1 31 2-49 1 27 2-4 1 12 2-40 1 32 2-30 1 62 2-51 1-2 2 70 1-16 2-76 1 81 2-24 1 59 2-38 1-5 2-68 1 63 2-32 1-13 2 27 1 59 2-75 1 69 2-56 1 51 2-21 1 17 2-7 1 4 2-39 1 72 1-24 2-3 1-10 2-13 1 45 2-11 1-73 2 85 1-56 2 57 1-94 2 86 1-39 2 41 1 32 2 5 1-63 2 14 1-28 2 68 1-53 2 33 1 11 2 13 1-10 2 53 1-82 2 54 1-24 2 53 1-78 2 42 1 47 2-4 1-44 2 40 1-36 2 27 1-39 1 17"/>
</g>
<path class="h" stroke="#2a2eec" d="M2771.03 999.40h44.9"/>
<text class="t8" x="2833.75" y="1008.30">Venezuela</text>
<path class="h" stroke="#fa7c17" d="M2771.03 1033.38h44.9"/>
<text class="t8" x="2833.75" y="1042.28">Colombia</text>
<path class="h" stroke="#328c06" d="M2771.03 1067.36h44.9"/>
<text class="t8" x="2833.75" y="1076.26">Ecuador</text>
<path class="h" stroke="#c10c90" d="M2771.03 1101.34h44.9"/>
<text class="t8" x="2833.75" y="1110.24">Panama</text>
<text class="t10 m" x="2519.03" y="953.45">North - Type C</text>
<text class="t8 e" x="2060.90" y="1552.64">800</text>
<text class="t8 e" x="2060.90" y="1466.92">900</text>
<text class="t8 e" x="2060.90" y="1381.21">1000</text>
<text class="t8 e" x="2060.90" y="1295.49">1100</text>
<text class="t8 e" x="2060.90" y="1209.77">1200</text>
<text class="t8 e" x="2060.90" y="1124.06">1300</text>
<text class="t8 e" x="2060.90" y="1038.34">1400</text>
<text class="t8" transform="translate(2096.32 1642.40) rotate(-45)">2022</text>
<text class="t8" transform="translate(2232.10 1642.40) rotate(-45)">2023</text>
<text class="t8" transform="translate(2367.89 1642.40) rotate(-45)">2024</text>
<text class="t8" transform="translate(2504.04 1642.40) rotate(-45)">2025</text>
<text class="t8" transform="translate(2639.83 1642.40) rotate(-45)">2026</text>
<text class="t8" transform="translate(2775.61 1642.40) rotate(-45)">2027</text>
<text class="t8" transform="translate(2911.39 1642.40) rotate(-45)">2028</text>
</g>
<g>
<rect x="3063.65" y="969.35" width="895.85" height="608.85" fill="#eeeeee"/>
<path class="g" d="M3104.52 969.35v608.85M3240.30 969.35v608.85M3376.09 969.35v608.85M3512.24 969.35v608.85M3648.03 969.35v608.85M3783.81 969.35v608.85M3919.59 969.35v608.85M3063.65 1561.40h895.85M3063.65 1456.95h895.85M3063.65 1352.50h895.85M3063.65 1248.05h895.85M3063.65 1143.60h895.85M3063.65 1039.15h895.85"/>
<g transform="translate(3063.65 969.35) scale(.5)">
<path class="s" stroke="#2a2eec" d="M82 123l2 58 1-78 2 62 1-96 2 93 1-92 2 53 1-49 2 49 1 6 1 60 2-11 1 43 2-35 1 45 2-10 1-39 2 12 1-17 2-53 1 86 2-40 1 26 2 29 1-2 2-61 1 93 2-85 1 55 2 8 1 45 2-24 1 70 2-139 1 98 2 7 1-28 2-16 1 69 2-12 1-42 2 64 1 36 2-37 1 16 2-5 1 31 2-66 1 131 2-61 1-34 1 9 2-33 1-11 2 15 1-65 2 84 1-67 2 63 1-36 2 78 1-48 2 85 1-55 2 24 1-25 2 50 1-59 2 90 1-39 2 87 1-79 2 11 1 8 2 53 1-14 2 6 1-40 2 29 1-16 2 82 1-61 2 28 1-65 2 87 1-67 2 8 1 40 2-35 1 39 2 45 1-122 1 80 2-84 1 97 2-91 1 63 2-121 1 102 2-59 1 49 2-102 1 154 2-82 1 24 2-8 1-15 2-30 1 41 2-18 1 9 2-36 1 16 2-128 1 103 2-82 1 100 2-116 1 86 2-40 1-40 2-37 1 32 2-17 1 40 2 4 1-4 2-64 1 51 2-62 1 65 2-27 1 81 2-38 1 25 1-22 2 54 1-70 2 22 1 9 2 28 1-68 2 65 1-33 2 11 1 59 2-29 1-68 2 67 1 21 2 33 1-41 2 73 1-79 2 59 1-72 2 101 1 13 2 22 1-98 2 38 1-32 2-10 1 18 2 63 1-130 2 76 1-56 2 132 1-122 2 67 1-49 2 70 1-68 2 75 1-26 1-57 2-3 1 91 2-146 1 57 2 14 1 4 2-37 1 38 2 3 1 73 2-99 1 55 2-13 1 54 2-69 1 63 2-47 1 53 2-75 1 46 2 32 1-11 2-45 1 27 2 35 1 36 2-132 1-6 2-7 1-5 2-34 1 63 2-35 1 64 2-107 1 108 2-53 1 76 2-8 1 20 2-5 1 59 1-107 2 1 1 21 2 0 1-6 2 74 1-77 2 40 1-130 2 113 1-57 2 61 1-54 2-25 1 53 2-49 1 16 2 8 1-58 2 163 1-119 2 85 1-73 2 15 1-69 2 98 1-58 2 90 1-30 2 100 1-79 2-5 1 37 2-32 1 3 2 27 1 31 2-27 1-37 2 50 1-42 1 44 2-19 1-3 2-12 1-23 2 11 1 4 2-63 1 129 2-53 1 54 2-3 1-8 2 9 1 29 2-77 1 66 2-69 1 40 2 7 1-4 2 22 1 60 2-105 1 52 2 37 1-13 2-79 1 84 2-60 1 27 2-52 1 58 2-71 1 113 2-82 1 68 2-47 1 3 2-26 1 35 2-34 1-8 1-47 2 53 1 17 2 21 1-46 2 25 1-29 2 16 1-57 2 83 1-128 2 97 1-62 2 16 1-14 2 60 1-45 2 40 1-51 2 69 1-65 2 18 1-61 2 108 1-113 2 78 1-57 2 8 1-91 2 76 1-8 2 25 1-60 2 93 1-27 2 7 1 33 2-12 1-54 2 31 1-45 1 56 2-53 1 37 2-30 1-9 2-24 1 71 2-67 1 5 2-83 1 77 2-24 1 18 2-81 1 79 2-3 1-20 2 3 1 20 2-57 1 53 2-131 1 103 2-67 1 77 2-110 1 101 2-79 1 40 2-32 1 25 2-8 1 36 2-64 1 143 2-79 1 8 2-14 1 44 2-18 1 36 1-24 2 53 1 30 2-43 1-18 2 141 1-130 2 5 1-30 2 25 1-52 2 8 1-67 2 10 1-49 2 96 1-95 2 38 1-52 2 59 1 27 2-43 1-40 2 68 1-113 2 123 1-67 2 43 1-118 2 40 1-6 2 59 1-110 2 45 1-38 2 56 1-63 2 109 1-129 2 123 1-101 2 94 1-64 1 60 2-2 1 14 2-43 1 39 2-21 1 33 2-114 1 104 2-30 1-6 2 2 1 46 2-88 1 45 2-38 1 13 2 29 1 27 2-9 1 53 2-70 1 91 2-68 1 55 2-74 1-21 2-39 1 56 2-1 1 25 2-48 1 37 2-107 1 84 2-101 1 71 2 4 1 22 2-69 1 56 1-23 2 79 1-55 2 42 1-69 2 105 1-74 2-27 1-30 2 57 1-16 2-56 1 56 2 5 1 1 2 25 1-44 2 23 1-78 2 128 1-184 2 90 1-76 2 91 1-103 2 127 1-139 2 43 1-33 2 21 1-40 2 78 1-46 2 47 1-48 2 64 1 7 2-51 1-16 2 75 1-55 2 52 1-96 1 152 2-83 1 33 2 2 1 4 2-102 1 99 2-62 1 86 2-84 1 50 2 2 1-27 2-77 1 51 2-52 1 73 2-68 1 66 2-73 1 47 2 11 1 9 2-18 1 2 2-32 1 74 2-51 1 25 2 1 1-22 2-17 1 22 2 3 1 19 2-51 1 20 2-40 1 79 2-26 1 59 1-110 2 98 1-11 2 13 1-21 2 45 1-29 2 36 1-36 2 39 1-29 2 45 1-58 2 95 1-98 2 25 1-61 2 100 1-9 2-26 1-58 2 112 1-77 2 29 1-51 2 72 1-62 2 14 1-13 2 24 1-18 2 21 1-60 2 34 1 2 2 23 1-61 2 103 1-29 2-22 1-102 1 69 2-22 1 60 2-76 1 31 2 43 1 35 2-55 1-14 2-27 1 48 2-74 1 46 2-19 1 80 2-90 1 110 2-123 1 82 2-87 1 53 2-51 1 71 2-1 1-40 2-18 1 2 2-37 1 95 2-7 1-68 2-8 1 101 2-34 1 66 2-70 1 65 2-40 1 33 2-61 1 40 2-19 1 72 1-62 2 35 1-34 2 53 1-32 2-28 1 10 2 90 1-77 2 40 1-8 2 102 1-89 2 29 1-84 2 158 1-89 2 55 1-66 2 10 1-15 2 47 1-103 2 47 1 7 2-16 1-20 2 22 1-25 2 60 1-76 2 73 1-21 2 78 1-130 2 34 1 16 2-4 1-76 2 119 1-62 1 0 2-21 1 65 2-19 1 15 2-44 1 68 2-19 1 5 2 2 1 58 2-18 1 39 2-56 1 34 2-39 1 87 2-68 1 41 2-35 1 40 2-119 1 154 2-69 1 14 2-28 1-25 2 19 1 34 2-110 1 99 2-67 1 60 2-75 1 81 2 12 1-9 2-41 1 34 2-47 1 44 2-18 1 66 1-50 2-2 1-116 2 167 1-172 2 178 1-100 2 20 1-125 2 92 1-20 2 40 1-57 2 16 1-26 2 37 1-29 2 26 1-21 2 31 1-81 2 68 1-17 2 14 1 34 2 41 1-141 2 100 1 8 2-36 1 17 2 58 1-66 2-8 1 22 2 18 1-65 2 66 1-26 2 51 1-60 1 107 2-136 1 77 2-86 1 7 2-58 1 109 2-92 1 47 2-70 1 71 2-22 1 20 2-3 1-37 2-35 1 37 2-46 1 97 2-123 1 32 2-8 1-28 2 18 1 78 2-86 1 48 2-7 1 22 2-52 1 44 2-85 1 74 2-53 1 49 2 6 1-23 2 58 1 26 2-56 1 51 1-111 2 8 1 57 2 10 1-35 2-15 1-39 2 93 1-80 2 49 1-63 2 78 1-20 2-2 1-61 2 60 1-27 2 47 1 6 2 10 1-22 2-6 1-69 2 27 1-32 2 101 1-97 2 102 1-18 2 36 1-67 2 116 1-123 2 19 1 25 2-11 1-35 2 128 1-136 2 51 1-7 2-10 1 3 1 63 2-7 1 24 2-36 1 82 2-88 1 65 2-32 1 64 2-27 1 43 2-11 1-11 2 2 1 27 2-5 1 3 2-20 1 73 2-127 1 131 2-52 1 83 2-21 1 36 2-42 1 80 2-161 1 81 2 0 1 87 2-161 1 75 2-11 1 101 2-66 1 71 2-14 1-1 2 38 1 35 1-125 2 41 1-24 2 36 1-73 2 67 1 7 2 6 1-10 2 69 1-60 2 11 1 4 2-31 1-5 2 31 1-47 2 78 1-74 2 0 1-39 2 70 1-50 2 54 1-46 2-8 1 26 2 5 1-14 2-21 1-43 2 57 1 2 2 26 1-22 2 38 1-26 2-6 1-39 2-11 1 81 2-12 1-52 1 16 2-17 1-26 2 16 1-10 2-39 1 32 2-15 1 33 2-72 1 75 2 17 1-20 2-15 1 59 2-71 1 38 2-110 1 59 2-2 1 93 2-79 1 0 2-71 1 94 2-102 1 61 2 3 1 92 2-82 1 20 2-44 1 86 2-64 1 57 2-51 1 52 2-42 1 74 2-16 1-11 1-52 2 88 1-90 2 10 1 8 2 40 1-35 2 86 1-79 2-2 1-54 2 71 1-42 2 7 1-50 2 36 1-54 2 97 1-41 2 54 1-20 2 41 1-56 2 22 1-48 2 61 1-127 2 129 1-78 2 47 1-22 2-6 1 10 2 79 1-59 2 42 1-33 2 33 1-77 2 74 1-5 1-3 2-71 1 12 2-13 1 31 2-65 1 32 2-21 1 30 2-88 1 89 2-57 1 49 2-8 1 44 2-83 1 72 2-17 1 69 2-128 1 72 2-28 1 13 2-29 1-13 2 76 1-90 2-42 1 115 2-120 1 34 2 18 1-31 2-64 1 92 2-52 1 68 2-203 1 131 2 26 1-51 2-33 1 3 1-11 2 30 1-52 2 49 1-40 2 52 1-38 2 11 1-7 2 22 1 6 2 18 1-22 2 36 1-49 2 74 1-54 2 49 1 18 2-1 1 45 2 3 1-23 2 21 1-44 2-5 1-14 2 27 1-23 2 60 1-37 2 76 1-68 2 26 1-53 2 31 1 26 2 4 1-14 1 38"/>
<path class="s" stroke="#fa7c17" d="M82 1006l2 28 1-72 2 35 1-42 2 63 1-96 2 56 1-38 2 58 1-68 1 38 2-8 1-24 2-1 1 11 2 12 1 22 2 14 1-14 2-71 1 51 2-36 1 9 2-6 1 24 2-69 1 29 2 4 1 19 2-48 1 86 2-74 1 99 2-80 1 74 2-90 1 54 2 18 1-16 2-63 1 105 2-10 1 39 2-48 1 46 2-3 1 10 2-42 1 84 2-90 1 50 1-53 2 78 1-85 2 56 1-12 2 20 1-46 2-40 1 0 2 68 1-15 2 23 1-37 2 52 1-10 2-11 1 6 2 45 1-29 2 19 1-30 2 6 1-38 2-16 1-53 2 76 1-81 2 40 1-28 2 32 1-42 2 25 1-28 2 28 1-34 2 35 1-54 2 99 1-81 2 2 1-16 1 67 2-102 1 7 2 20 1 45 2-74 1 32 2-95 1 27 2 49 1-46 2-6 1-31 2-4 1 50 2-52 1 50 2-62 1 41 2-41 1 18 2-12 1-2 2 9 1 12 2-26 1 73 2-45 1-20 2-16 1-1 2-9 1 26 2-43 1 3 2-29 1 74 2-83 1 55 2-17 1-1 2-32 1 18 1-29 2-1 1-9 2 19 1-21 2 10 1-24 2 13 1-50 2 88 1-68 2 60 1 4 2 32 1-29 2 24 1-12 2 53 1-15 2 51 1-72 2-1 1 12 2 14 1-53 2 45 1-66 2 94 1-2 2-26 1-12 2-34 1-56 2 62 1-53 2 70 1-102 2 37 1-40 2 38 1 5 1-14 2-22 1 24 2-37 1 39 2-66 1 59 2-66 1 44 2-36 1-12 2-2 1 26 2-31 1 92 2-132 1 99 2-45 1-7 2-3 1-7 2-51 1 42 2-42 1 61 2-7 1 45 2-44 1 12 2 6 1-14 2-20 1 33 2 14 1 25 2-44 1 26 2-14 1 18 2-75 1 56 2-95 1 141 1-70 2 31 1-41 2 9 1-13 2 41 1-17 2 33 1 7 2 18 1-48 2-3 1-69 2 31 1-13 2-13 1-48 2 61 1-37 2 84 1-81 2 93 1-92 2 1 1 21 2 16 1-32 2 74 1-51 2 28 1-18 2 57 1-88 2 40 1-26 2 25 1-12 2 56 1-63 2 19 1-13 1-9 2 46 1-29 2 41 1-27 2-7 1 16 2-31 1 8 2-41 1 63 2-25 1-7 2 10 1 61 2-42 1 5 2 16 1-30 2-12 1-11 2 37 1 46 2-75 1 89 2-115 1 27 2 16 1 64 2-29 1 84 2-37 1-15 2-30 1 70 2-36 1 64 2-86 1 63 2 5 1 34 2-52 1 53 1-61 2 43 1 0 2 63 1-67 2 16 1-75 2 77 1-53 2 74 1-100 2 41 1 14 2 20 1-66 2 84 1-68 2 0 1 27 2 9 1-62 2 63 1-42 2 19 1-56 2 60 1-18 2 61 1-70 2 57 1-75 2 28 1-10 2 61 1 2 2 12 1-72 2 62 1-95 2 78 1-30 1 78 2-115 1 57 2-49 1 15 2-46 1 97 2-78 1 91 2-3 1 14 2-76 1 85 2-66 1 42 2 8 1 14 2 24 1-31 2 3 1-15 2 37 1-8 2-50 1 103 2-34 1-4 2-27 1 0 2-35 1 53 2-20 1-1 2 4 1 11 2-33 1 11 2-25 1 56 2-60 1 42 1-59 2 50 1-49 2 27 1-19 2 28 1-21 2 26 1-50 2 72 1 16 2-35 1-57 2 113 1-58 2 18 1-56 2 46 1-73 2 67 1-42 2 35 1-91 2 106 1-37 2 8 1-46 2 77 1-127 2 108 1-37 2 45 1-3 2 14 1-25 2 1 1 11 2 34 1-29 2 64 1-3 2-27 1-15 1 26 2-31 1 43 2-4 1 37 2-53 1 48 2 7 1-10 2-7 1-3 2 18 1 49 2-33 1-7 2 9 1-25 2-22 1 31 2 0 1-10 2-1 1 34 2-33 1 0 2-2 1 25 2-17 1 44 2-32 1-30 2-16 1 10 2 24 1 6 2-25 1 39 2-47 1 25 2-6 1 2 1-18 2 38 1-19 2 50 1-53 2 19 1 23 2-5 1-4 2-15 1-13 2 59 1-45 2 42 1-29 2 41 1-46 2 48 1-36 2 23 1-21 2 45 1 0 2-20 1 28 2 27 1-4 2 5 1-11 2 23 1-43 2 56 1-27 2 29 1-28 2 33 1-38 2-2 1-72 2 41 1-7 2-28 1-13 1 1 2 21 1-19 2 10 1 14 2 2 1 31 2-100 1 85 2 20 1 2 2-17 1-1 2-49 1 55 2-53 1 80 2-149 1 34 2-40 1 62 2-26 1 41 2-21 1-3 2-59 1 54 2-37 1 14 2 24 1-44 2-47 1 68 2-21 1 9 2 7 1 24 2-67 1 52 2-74 1 7 1 6 2-50 1 51 2 7 1-35 2-10 1-15 2 11 1 8 2 17 1-71 2 57 1 5 2 47 1-82 2 47 1-61 2 50 1-83 2 65 1-41 2 18 1 14 2 37 1-59 2 40 1 12 2-44 1 47 2 18 1 15 2-63 1 10 2 32 1 12 2-11 1-63 2 2 1 86 2-54 1-20 1 2 2-4 1 108 2-94 1 23 2 11 1-13 2-59 1 90 2-85 1 66 2-53 1 61 2-67 1 91 2-63 1 58 2-62 1 5 2-10 1 2 2-2 1 15 2-5 1 47 2-18 1-9 2 7 1 15 2 0 1-32 2 23 1-2 2 22 1-10 2-8 1 30 2-40 1 49 2-15 1 33 2-50 1 51 1 8 2-3 1-51 2 78 1-15 2 24 1-72 2 65 1 10 2-1 1-6 2-5 1-25 2-5 1-47 2 42 1-13 2 42 1-93 2 79 1-31 2 74 1-59 2 53 1-72 2 84 1-68 2 70 1-66 2 47 1-19 2 57 1-63 2 81 1-52 2-6 1-20 2 12 1 24 2-3 1-29 1 23 2-39 1 19 2-57 1 89 2-56 1 4 2 6 1-12 2-22 1-19 2-17 1 95 2-78 1 7 2-17 1 65 2-50 1 10 2-52 1 49 2-66 1 104 2-48 1 10 2-76 1 80 2-68 1 42 2-32 1 34 2-20 1 7 2-29 1 44 2-36 1 56 2-94 1 64 2-24 1 47 2-78 1 33 1-37 2 81 1-62 2 45 1-9 2-1 1-18 2 17 1-26 2 8 1-21 2 73 1-33 2 6 1-21 2 15 1 31 2 25 1-58 2 96 1-73 2 84 1-41 2 0 1-9 2 64 1-50 2 21 1-3 2 20 1-20 2 59 1-7 2 6 1-65 2 75 1-28 2-20 1-34 2 37 1-13 1 3 2 21 1-8 2-36 1 103 2-81 1 39 2-51 1 42 2-64 1 38 2-34 1 36 2-61 1 86 2-66 1-21 2-75 1 104 2-97 1 83 2-44 1-23 2-15 1 90 2-87 1 33 2-9 1 11 2-5 1-33 2-18 1 43 2-3 1-45 2-9 1 56 2 8 1 73 2-90 1 44 1-27 2 44 1 13 2-37 1 67 2 0 1-43 2 7 1-21 2 25 1-5 2 56 1-84 2 59 1-17 2 33 1-67 2 44 1-5 2 15 1 29 2 4 1-59 2 101 1-82 2 3 1-20 2 89 1-78 2 115 1-85 2-18 1-26 2 45 1-87 2 98 1-74 2 42 1-23 2 20 1-36 2 85 1-97 1 22 2 17 1 3 2-45 1 58 2-55 1 38 2-81 1 56 2-22 1 25 2-34 1 11 2 1 1 41 2-89 1 41 2-48 1 57 2-31 1 10 2 22 1 6 2-28 1 20 2-37 1-2 2 43 1 7 2-18 1 43 2-98 1 113 2-59 1-6 2-3 1 12 2-18 1-18 2-34 1 29 1 7 2-11 1 35 2 18 1-72 2 59 1-89 2 96 1-49 2 49 1-35 2 3 1 18 2 45 1-58 2 35 1-40 2 78 1-72 2 37 1-50 2 80 1-64 2-13 1-23 2 104 1-44 2 40 1-17 2 42 1-55 2 8 1-59 2 78 1-59 2 50 1-132 2 96 1-88 2 84 1-56 2 34 1-25 1-23 2 3 1 53 2-18 1 2 2-21 1 15 2-16 1 63 2-71 1 69 2-63 1 57 2-54 1 96 2-30 1 65 2-38 1 58 2-53 1 43 2-10 1 78 2-71 1 29 2-7 1 45 2-19 1 2 2-62 1 85 2-53 1 49 2 4 1-6 2-57 1 42 2-44 1 41 2-9 1 43 1-32 2-14 1-18 2 26 1-16 2-9 1-29 2 30 1-3 2 61 1-55 2 74 1-62 2 11 1-14 2 37 1 6 2 85 1-93 2 84 1-63 2 51 1-16 2 53 1-51 2 95 1-114 2 16 1-4 2-4 1-9 2 7 1-35 2 43 1-35 2 11 1-32 2-2 1 22 2-16 1-17 1-16 2-13 1 71 2-69 1-10 2 17 1 21 2-63 1 51 2-59 1 11 2 44 1-25 2-18 1 28 2-31 1 35 2-18 1 17 2 20 1-19 2-31 1 1 2-17 1 10 2-3 1 68 2-69 1 38 2-9 1 68 2-49 1 35 2-55 1 56 2-26 1 35 2-12 1 86 2-90 1 103 2-70 1 36 1-60 2 48 1-13 2 5 1-8 2-18 1 27 2 20 1-24 2 41 1 0 2-31 1 32 2-17 1 3 2 52 1-20 2-22 1-5 2 30 1 0 2 5 1-29 2 16 1-4 2 10 1-2 2 63 1-31 2 16 1-20 2 85 1-119 2 56 1-38 2 44 1-76 2 107 1-75 1-44"/>
<path class="s" stroke="#328c06" d="M82 720l2 1 1-33 2 67 1-65 2 40 1 1 2 45 1-23 2 38 1-72 1 71 2-51 1 70 2-84 1 63 2-65 1 37 2-46 1 75 2-53 1 4 2-8 1 37 2-99 1 69 2-30 1 49 2-42 1 37 2-44 1 67 2 4 1-8 2-33 1 20 2-18 1 33 2-92 1 91 2-57 1 18 2-16 1 82 2-52 1 90 2-88 1 38 2-19 1 47 2 0 1-56 1 35 2 6 1-27 2 60 1-63 2 1 1 0 2 32 1-16 2 35 1-16 2 35 1-56 2 58 1-22 2 63 1-95 2 62 1-34 2 34 1 9 2 5 1-23 2 26 1-31 2 38 1-44 2-15 1-1 2 74 1-59 2 80 1-83 2 27 1-9 2 10 1-48 2 72 1-42 2 66 1-58 1 49 2-80 1 70 2-15 1 12 2-42 1 75 2-62 1 21 2-3 1 4 2-43 1 24 2-66 1 40 2-24 1 32 2-18 1 39 2-32 1 42 2-38 1-16 2-5 1 57 2-25 1-53 2 19 1 85 2-68 1 36 2-3 1-36 2-17 1 61 2-71 1 31 2-13 1 29 2-85 1 47 2-16 1 33 1 8 2-21 1 42 2 13 1-100 2 58 1 33 2 15 1-63 2 22 1-13 2 35 1-43 2 53 1-40 2 30 1-47 2 30 1-27 2 24 1-38 2 0 1 0 2-11 1 2 2 48 1-63 2 57 1-31 2-1 1-47 2 60 1-37 2 76 1-61 2 57 1-52 2 70 1-61 2 37 1-40 1 10 2-2 1 39 2-65 1 47 2-46 1 55 2-24 1-1 2-67 1 69 2-15 1 52 2-60 1 38 2 0 1 19 2-53 1 70 2-6 1 5 2-9 1 28 2-58 1 35 2 7 1 26 2-44 1 14 2-20 1 12 2 23 1 18 2-8 1 14 2-28 1 12 2-15 1 43 2-61 1 13 2-6 1 62 1-31 2 22 1-61 2 77 1-74 2 11 1-5 2 44 1-27 2 4 1-62 2 52 1-95 2 103 1-21 2 25 1-20 2 9 1-86 2 61 1 15 2 29 1-48 2 40 1-33 2 69 1-51 2-29 1-26 2 43 1-69 2 10 1 30 2 2 1-25 2-11 1-4 2 55 1-71 2 74 1-38 1-30 2 28 1 7 2-67 1 105 2-104 1 37 2-16 1 40 2-6 1 20 2-20 1 43 2-33 1 7 2 5 1-23 2 46 1 37 2-95 1 32 2-2 1 27 2-25 1 17 2-35 1 53 2 1 1 7 2-15 1 18 2-72 1 88 2-49 1 57 2-119 1 47 2 2 1 53 2-75 1 37 2-6 1-17 1-39 2 44 1-35 2 37 1 26 2-49 1-7 2 84 1-50 2 9 1-40 2 25 1-35 2 16 1-6 2 52 1-29 2 20 1-104 2 108 1-54 2 14 1-39 2 78 1-81 2 63 1 6 2 49 1-59 2 57 1-74 2 35 1 33 2-37 1 18 2 31 1-64 2-16 1-1 2 25 1-54 1 99 2-38 1 6 2-59 1 63 2-17 1 40 2-42 1 15 2-18 1 22 2 18 1 14 2-12 1 15 2-29 1-17 2-14 1 30 2-64 1 57 2-44 1 59 2-22 1 33 2-58 1 55 2-54 1 116 2-118 1 128 2-113 1 78 2-17 1 9 2-48 1 39 2-9 1 43 2-83 1 92 1-45 2-19 1 18 2 18 1 0 2 18 1-40 2 62 1-64 2 23 1 22 2 4 1-25 2 4 1 8 2 36 1-65 2 94 1-68 2-3 1-51 2 120 1-96 2 79 1-47 2-13 1 5 2-20 1-33 2 70 1-64 2 53 1 19 2 21 1-56 2 70 1-75 2 45 1 16 2-39 1-11 2 91 1-83 1 27 2-21 1 4 2-20 1 52 2-90 1 101 2-118 1 80 2 0 1-6 2 29 1-3 2-25 1 42 2-41 1 18 2-85 1 37 2-2 1 35 2-1 1-39 2 33 1-9 2 15 1-6 2 0 1 86 2-40 1-29 2-44 1 24 2-30 1 63 2 8 1-18 2-37 1 58 2-50 1 47 1 16 2-40 1-9 2 0 1-38 2 58 1-34 2 31 1-33 2-1 1-30 2 40 1 12 2 0 1-64 2 37 1-64 2 55 1-55 2 52 1-79 2 50 1-72 2 53 1-20 2 53 1-56 2 73 1-22 2 52 1-56 2 58 1-32 2 36 1-68 2 38 1-27 2 49 1-70 2 19 1-11 2 95 1-86 1 21 2-15 1-10 2-31 1 49 2-19 1 89 2-55 1 0 2 24 1-16 2-52 1 67 2-57 1-18 2-25 1 60 2 0 1-28 2 30 1 59 2-67 1 23 2-64 1 74 2-1 1 60 2-72 1-3 2-9 1 79 2-77 1 56 2-10 1 6 2-33 1 40 2-3 1 23 2-57 1 91 1-96 2 5 1 57 2-24 1-70 2 64 1-39 2 18 1-21 2 74 1-35 2 26 1-57 2 54 1-36 2 29 1-52 2 91 1-28 2-42 1-13 2 59 1-11 2-20 1 57 2 49 1-98 2-8 1 7 2 29 1-23 2-4 1-39 2 86 1-49 2 43 1-14 2 10 1 5 2 45 1-29 1-22 2 19 1-27 2 3 1 8 2-27 1 15 2-42 1 88 2-18 1 45 2-54 1 11 2-19 1 72 2-48 1 36 2 4 1-19 2-36 1 51 2-68 1 109 2-24 1-24 2 12 1 49 2-38 1 20 2-22 1-19 2-24 1 39 2-45 1 42 2-32 1-2 2 3 1 53 2-67 1 57 2-49 1 47 1-15 2 40 1-51 2 32 1-28 2 87 1-53 2 28 1-18 2-23 1 13 2 23 1-22 2 14 1-15 2 22 1-10 2 10 1-25 2 62 1-97 2 52 1-14 2-3 1 35 2-13 1-16 2 1 1 17 2-9 1-33 2 40 1-75 2 88 1-32 2-45 1 14 2-7 1 47 2 5 1-26 1 15 2-51 1 79 2-33 1 14 2-16 1 8 2-15 1 6 2-31 1 26 2-14 1 54 2-27 1-15 2 3 1 56 2-52 1 37 2-42 1 60 2-57 1 27 2-44 1 48 2-10 1 21 2-34 1 61 2-74 1 81 2-62 1 52 2-76 1 30 2-16 1 42 2-64 1 50 2-32 1 53 2-22 1 38 1-37 2 76 1-71 2 33 1-63 2 62 1-51 2 64 1-35 2-15 1-79 2 112 1-103 2 74 1-41 2 60 1-46 2 21 1 7 2-1 1 27 2-42 1 19 2 12 1-6 2 34 1-29 2 0 1-33 2 39 1 6 2 51 1-17 2-33 1 4 2-27 1 1 2 28 1-52 2 34 1-30 1 65 2-46 1 67 2-36 1 38 2-11 1-15 2-2 1 26 2-34 1-72 2 42 1-38 2 8 1 19 2-46 1 55 2-11 1-2 2-26 1 40 2-38 1 8 2-44 1 105 2-128 1 23 2-12 1 85 2-101 1 55 2-36 1 61 2-38 1 61 2-48 1 2 2-31 1 46 2-61 1 37 1-17 2-6 1 11 2 23 1 39 2-20 1 19 2 15 1-68 2 42 1 1 2-61 1-2 2 74 1-97 2 59 1-30 2 40 1-38 2 21 1-14 2 15 1-37 2 61 1-44 2 64 1-36 2-29 1-16 2 40 1-5 2 38 1-105 2 80 1-19 2-9 1-3 2 26 1-38 2 78 1-60 2-2 1-45 1 51 2-21 1 30 2 30 1 32 2-27 1 14 2-7 1 15 2-23 1 18 2-44 1 17 2 26 1-3 2-40 1 79 2-71 1 40 2-51 1-8 2-24 1 74 2-23 1 24 2-7 1 23 2-39 1 28 2-85 1 39 2 9 1 15 2 5 1-20 2-34 1 49 2-22 1 18 2-36 1 21 1-36 2-6 1 27 2-25 1 17 2-32 1-2 2 45 1-51 2 26 1 10 2-1 1-37 2 85 1-50 2 38 1-20 2-11 1-32 2 39 1-36 2-10 1-12 2 17 1-28 2 29 1-12 2 54 1-56 2 30 1-18 2 33 1-56 2 43 1-4 2-4 1-40 2 81 1-24 2 54 1-4 2-33 1-31 1 19 2-35 1-3 2-8 1 39 2-49 1 62 2-63 1 55 2-109 1 74 2-37 1 53 2-80 1 99 2-61 1 22 2-34 1 15 2 6 1 31 2-36 1 4 2 11 1 11 2-32 1 39 2-26 1 64 2-60 1 53 2-30 1 15 2-7 1 26 2-46 1 31 2-74 1 83 2-71 1 8 1-27 2 47 1-23 2-16 1 10 2 8 1 24 2-43 1-1 2 27 1-23 2 14 1-61 2 79 1-54 2 63 1-54 2 58 1-74 2 70 1-49 2-10 1 32 2 57 1-91 2 62 1-37 2 73 1-57 2 21 1 11 2-5 1-12 2 16 1 24 2 0 1-33 2 29 1-59 2 47 1 8 1 25 2-71 1 27 2 23 1 14 2-52 1 37 2 2 1-29 2-27 1 53 2-81 1 104 2-54 1 47 2-14 1-2 2-55 1 98 2-59 1 45 2-66 1 43 2-25 1 7 2-45 1 0 2-11 1 37 2-17 1-4 2-20 1-16 2 26 1-24 2-3 1 64 2-103 1 54 2-38 1-21 2 2 1 50 1-49 2 29 1-5 2-11 1-25 2 24 1-34 2 39 1-53 2 66 1-27 2 26 1-68 2 30 1 25 2 18 1-22 2 0 1 41 2-5 1-28 2 9 1 0 2 51 1-35 2-3 1 32 2 1 1-66 2 44 1-37 2 42 1-35 2 20 1 8 2 24 1-78 2 50 1-58 1 10"/>
<path class="s" stroke="#c10c90" d="M82 694l2 49 1-35 2-30 1-27 2 40 1-48 2 54 1-18 2-14 1-6 1 33 2-85 1 63 2-32 1 26 2-19 1 32 2-51 1 73 2-41 1 28 2-39 1 58 2-31 1 37 2-83 1 45 2-13 1 33 2-34 1 36 2-46 1 52 2-49 1 22 2-72 1 54 2-15 1 16 2 12 1 6 2-64 1 78 2-61 1-11 2-23 1 44 2 2 1 42 2-29 1 22 1-56 2-11 1 65 2-3 1-64 2 14 1 9 2 25 1 2 2 39 1-26 2 74 1-35 2 29 1 9 2 27 1-87 2 103 1-76 2 76 1-52 2-9 1 1 2 22 1-99 2 66 1-33 2 107 1-109 2 47 1-28 2 18 1-51 2 9 1-53 2 67 1-55 2 30 1-62 2 87 1-19 1 5 2-57 1 21 2-44 1 33 2-55 1 56 2-108 1 141 2-72 1 31 2-6 1 21 2-48 1 65 2-28 1 14 2-7 1 57 2-155 1 68 2 13 1-1 2-60 1 84 2-29 1 12 2-44 1 9 2-6 1-12 2-3 1 5 2 12 1-7 2-55 1 9 2 14 1 41 2 6 1 6 2-57 1 64 1-20 2 61 1-93 2 21 1-28 2 23 1-16 2 3 1-2 2-25 1-20 2 54 1-45 2 67 1-93 2 42 1-6 2-12 1-29 2 15 1-82 2 89 1-65 2 109 1-62 2 51 1-40 2 44 1-63 2 57 1-25 2-10 1-18 2 138 1-70 2-17 1 48 2-4 1 10 2 32 1-30 1 28 2-21 1-40 2 3 1 60 2-22 1 30 2-75 1 23 2-25 1 52 2-56 1 73 2-17 1 13 2-47 1 37 2-44 1 83 2-44 1 26 2-63 1 51 2 47 1 18 2 19 1-42 2-35 1 78 2-73 1 7 2 29 1 31 2-61 1 47 2 38 1-36 2-15 1 5 2 6 1 22 2-55 1 31 1-51 2 68 1-95 2 81 1-65 2 29 1-50 2 94 1-54 2 55 1-72 2 37 1-84 2 59 1-54 2 69 1-86 2 55 1-50 2 54 1-39 2 31 1-20 2 46 1-99 2 44 1-7 2 26 1 4 2-50 1 3 2 26 1-31 2-6 1-66 2 51 1-5 2 55 1-28 2-29 1-77 1 116 2-59 1 56 2-69 1 62 2-84 1 118 2-75 1-24 2-63 1 129 2-48 1-5 2-57 1 43 2-14 1 39 2-46 1-1 2-64 1 70 2 5 1-5 2-17 1 14 2-130 1 113 2-21 1 52 2-84 1-2 2-21 1 41 2-8 1 51 2-75 1 94 2-38 1 9 2-2 1 20 2-139 1 168 1-150 2 77 1-24 2 66 1-129 2 83 1-41 2 22 1 33 2-29 1-16 2 79 1-55 2 24 1-39 2 38 1-41 2-12 1 62 2 16 1-30 2 36 1-8 2 7 1-24 2 62 1-104 2 34 1-35 2 41 1-19 2 12 1 1 2-50 1-32 2 77 1-21 2 57 1-155 2 44 1-21 1 74 2-25 1-10 2-38 1 71 2-119 1 92 2-99 1 88 2-50 1 56 2-64 1 65 2-40 1 1 2-17 1 25 2 29 1-4 2-51 1 75 2-67 1-22 2 14 1 25 2-58 1 57 2-78 1 71 2-2 1 40 2-61 1 37 2-80 1 7 2-29 1 129 2-67 1 53 2-26 1 72 1-123 2 17 1 14 2 60 1-55 2 36 1 43 2-8 1-53 2 41 1-91 2 96 1-39 2 21 1-65 2 93 1-76 2 28 1-28 2 35 1-58 2 107 1-68 2 57 1-64 2 50 1-33 2 7 1-58 2 87 1-75 2 34 1-9 2 75 1-91 2 79 1-84 2 138 1-118 2 37 1-55 2 68 1-51 1 39 2-49 1 25 2-28 1-25 2 52 1-2 2-6 1-48 2 86 1-31 2-35 1 23 2 36 1-35 2-2 1-1 2-39 1 48 2-28 1 33 2-29 1 31 2 17 1 25 2-48 1 34 2-41 1 49 2-61 1 43 2 19 1 24 2-55 1 6 2 4 1-40 2 31 1 38 2-16 1 0 1-34 2 89 1-8 2-14 1-65 2 59 1-7 2 71 1-109 2 36 1-56 2 42 1 27 2 38 1-55 2 28 1 3 2 35 1-14 2 4 1-33 2 10 1 58 2-84 1 22 2 27 1-15 2 11 1-43 2 27 1-28 2 46 1-39 2 49 1 6 2 15 1-30 2 39 1-64 2 22 1-50 2 43 1 17 1 69 2-119 1 108 2-21 1 67 2-9 1-18 2 5 1-10 2-4 1 30 2-89 1 63 2 21 1-42 2 51 1-24 2-73 1 98 2-25 1-25 2 16 1 10 2-6 1 76 2-60 1 21 2-61 1 44 2-8 1-39 2 44 1 39 2-71 1 22 2-7 1 30 2-103 1 143 2-62 1-20 1-53 2 107 1-92 2 67 1-62 2 68 1 6 2-36 1 13 2 20 1 7 2-20 1-12 2 32 1-89 2 111 1-67 2 51 1-13 2 84 1-113 2 40 1-28 2 24 1-26 2 38 1-7 2-23 1-55 2 61 1-13 2 70 1-36 2 13 1-38 2 31 1-48 2-15 1-15 2 25 1 13 1-46 2-3 1 76 2-68 1 27 2-6 1 9 2-11 1 79 2-27 1-14 2-7 1 8 2 36 1 88 2-97 1 15 2 34 1 10 2-72 1-28 2 47 1 38 2-17 1 0 2 12 1-9 2-32 1 124 2-76 1-12 2-11 1-11 2 15 1 78 2-94 1 44 2-76 1 65 2-21 1 34 2-48 1-29 1-17 2 59 1-46 2 57 1-101 2 45 1-2 2 11 1-14 2-21 1 17 2 32 1-31 2 31 1-103 2 109 1-32 2 20 1-46 2 121 1-78 2 25 1-1 2 13 1-27 2-15 1 8 2 93 1-92 2 53 1-26 2 27 1-48 2 26 1-5 2 21 1 22 2 41 1-71 2 2 1-33 1 52 2-7 1 31 2-120 1 85 2 5 1 0 2-3 1 42 2-84 1 54 2-3 1 55 2-110 1 52 2-34 1 43 2-7 1-28 2 5 1 61 2-92 1 85 2-31 1 12 2 19 1 22 2-18 1 25 2-24 1-22 2-10 1 38 2-66 1 62 2-57 1 58 2-84 1 39 2-40 1 103 2-91 1 63 1 17 2-27 1-24 2-29 1 65 2-44 1-17 2 21 1-41 2 63 1-38 2 3 1-28 2 61 1-32 2-16 1-35 2 71 1-33 2 7 1-52 2 15 1-63 2 57 1-53 2 44 1-13 2-4 1-47 2 70 1-72 2 70 1-77 2 55 1-67 2 41 1-13 2 15 1-88 2 64 1-34 1 45 2-38 1 47 2 0 1 8 2-16 1-7 2-10 1 56 2 16 1-70 2 8 1 43 2-53 1 70 2-71 1 61 2-81 1-2 2-29 1 115 2-73 1 6 2 13 1 6 2-32 1 33 2-61 1-21 2-37 1 91 2-74 1-13 2 5 1 94 2-25 1 1 2-10 1 21 2 25 1-48 1 24 2 2 1 2 2 30 1 3 2 34 1-21 2 61 1-14 2 31 1-68 2 84 1-2 2-11 1 44 2-48 1 52 2-22 1-5 2 20 1-37 2 26 1 14 2 2 1-46 2 31 1-35 2 17 1-32 2 47 1-80 2 67 1-77 2 60 1 9 2-57 1 22 2 22 1-2 2 47 1-45 2-11 1-78 1 106 2-35 1 3 2-55 1 67 2-90 1 124 2-52 1 25 2-55 1 70 2 0 1 16 2-76 1 37 2-28 1 38 2-26 1-14 2 34 1-24 2 9 1 41 2-47 1 20 2-18 1 20 2 71 1-33 2-15 1 47 2-30 1 8 2-12 1 37 2-9 1-6 2-42 1 70 2-83 1 72 1-37 2 77 1-15 2-24 1-40 2 59 1 19 2 65 1-52 2-8 1-12 2-4 1-37 2 60 1-33 2 24 1-28 2 31 1-36 2 49 1-74 2 126 1-131 2 105 1-68 2 19 1-29 2 36 1-33 2 52 1-63 2-9 1-43 2 66 1-6 2 14 1-36 2 41 1-8 2 36 1-65 2 46 1-56 1 42 2-86 1 84 2-30 1 23 2-101 1 103 2-117 1 136 2-101 1 50 2-31 1 48 2-81 1 40 2-26 1 16 2 25 1 29 2-37 1 16 2-6 1 24 2-44 1 30 2 5 1 10 2-28 1 59 2 7 1-12 2-36 1 95 2-56 1 88 2-48 1 13 2 20 1 0 2-42 1 63 1-7 2 35 1-53 2 36 1-12 2 15 1 11 2-14 1-21 2 64 1-46 2 13 1-55 2 30 1-50 2 15 1 29 2-1 1-78 2 94 1-106 2 89 1-21 2 8 1-85 2 121 1-92 2 71 1-17 2 9 1 30 2-4 1-28 2 34 1-59 2 75 1-68 2 78 1-38 2 61 1-57 1 26 2-2 1-25 2-13 1 33 2-33 1 52 2-34 1-11 2-11 1 56 2-72 1 43 2 11 1 17 2-49 1 46 2 28 1-59 2-24 1-8 2 4 1 48 2-54 1-22 2-9 1 81 2-94 1 41 2-28 1-9 2 38 1-8 2-95 1 46 2 44 1-42 2-53 1-13 2-7 1 73 2-15 1-24 1-44 2 92 1-120 2 90 1-56 2 46 1 17 2-9 1-29 2 50 1-77 2 23 1-51 2 47 1-48 2 41 1-36 2 61 1 3 2 7 1-2 2 27 1-6 2 31 1-77 2 10 1 47 2 13 1-98 2 89 1-36 2 48 1-24 2 19 1-45 2 92 1-107 2 43 1 15 1 19"/>
</g>
<path class="h" stroke="#2a2eec" d="M3083.65 999.40h44.9"/>
<text class="t8" x="3146.37" y="1008.30">Venezuela</text>
<path class="h" stroke="#fa7c17" d="M3083.65 1033.38h44.9"/>
<text class="t8" x="3146.37" y="1042.28">Colombia</text>
<path class="h" stroke="#328c06" d="M3083.65 1067.36h44.9"/>
<text class="t8" x="3146.37" y="1076.26">Ecuador</text>
<path class="h" stroke="#c10c90" d="M3083.65 1101.34h44.9"/>
<text class="t8" x="3146.37" y="1110.24">Panama</text>
<text class="t10 m" x="3511.57" y="953.45">North - Type D</text>
<text class="t8 e" x="3053.45" y="1569.84">800</text>
<text class="t8 e" x="3053.45" y="1465.39">900</text>
<text class="t8 e" x="3053.45" y="1360.94">1000</text>
<text class="t8 e" x="3053.45" y="1256.49">1100</text>
<text class="t8 e" x="3053.45" y="1152.04">1200</text>
<text class="t8 e" x="3053.45" y="1047.59">1300</text>
<text class="t8" transform="translate(3088.87 1642.40) rotate(-45)">2022</text>
<text class="t8" transform="translate(3224.65 1642.40) rotate(-45)">2023</text>
<text class="t8" transform="translate(3360.44 1642.40) rotate(-45)">2024</text>
<text class="t8" transform="translate(3496.59 1642.40) rotate(-45)">2025</text>
<text class="t8" transform="translate(3632.38 1642.40) rotate(-45)">2026</text>
<text class="t8" transform="translate(3768.16 1642.40) rotate(-45)">2027</text>
<text class="t8" transform="translate(3903.94 1642.40) rotate(-45)">2028</text>
</g>
<g>
<rect x="86.00" y="1710.70" width="895.85" height="608.85" fill="#eeeeee"/>
<path class="g" d="M126.87 1710.70v608.85M262.65 1710.70v608.85M398.44 1710.70v608.85M534.59 1710.70v608.85M670.38 1710.70v608.85M806.16 1710.70v608.85M941.94 1710.70v608.85M86.00 2246.90h895.85M86.00 2158.01h895.85M86.00 2069.12h895.85M86.00 1980.22h895.85M86.00 1891.33h895.85M86.00 1802.44h895.85M86.00 1713.55h895.85"/>
<g transform="translate(86.00 1710.70) scale(.5)">
<path class="s" stroke="#2a2eec" d="M82 465l2-1 1-7 2 51 1-99 2 70 1 31 2-45 1-6 2 55 1-66 1 16 2-11 1 58 2-27 1 46 2-67 1 52 2-24 1 54 2-47 1 36 2 29 1-5 2-70 1 116 2-111 1 74 2-19 1 14 2-1 1 49 2-67 1 59 2-10 1-33 2 10 1 41 2-64 1 63 2-28 1 28 2-74 1 78 2-3 1-15 2 12 1 22 2-84 1 22 2-22 1 35 1-15 2 21 1-69 2 57 1-36 2 4 1-4 2 2 1-30 2 15 1-42 2 36 1-69 2 86 1-47 2 38 1-45 2 25 1-44 2 33 1 4 2 36 1-49 2 40 1-55 2 15 1-29 2 51 1-62 2 30 1-72 2 48 1-28 2 52 1-59 2 59 1-50 2-10 1 41 2 15 1-24 1 27 2-40 1 30 2-44 1 45 2-56 1 56 2-3 1-8 2-29 1 30 2-71 1 105 2-38 1 15 2-41 1 55 2 6 1 43 2-46 1 43 2-67 1 42 2-11 1 31 2-43 1 40 2-38 1 5 2-8 1 47 2-14 1-15 2-19 1 20 2-35 1-4 2-8 1 51 2-24 1 46 2-61 1 17 1-43 2-8 1 35 2 10 1-12 2 64 1-65 2 50 1-16 2-12 1-14 2 11 1 0 2 13 1 18 2-4 1-48 2 16 1-1 2 21 1 39 2-37 1 8 2 15 1-59 2 26 1-52 2 45 1-10 2 5 1-14 2 23 1-21 2 36 1-65 2 103 1-63 2 26 1 10 2 3 1-10 1-4 2 8 1 51 2-47 1 40 2-39 1 48 2-35 1 35 2-19 1-2 2 14 1 37 2-76 1 89 2-44 1 4 2-10 1 38 2-107 1 89 2-27 1-13 2-28 1 31 2-75 1 88 2-46 1 58 2-43 1 53 2-46 1 61 2-77 1 72 2-102 1 25 2-13 1 6 2 41 1 12 2-103 1 89 1-36 2-10 1-25 2 96 1-39 2-21 1 19 2-42 1-6 2-7 1-9 2 65 1-134 2 80 1-27 2 1 1 10 2 3 1-22 2-45 1 104 2-3 1-87 2 84 1-60 2 60 1-69 2 46 1-54 2 36 1-19 2 53 1-51 2 97 1-76 2 60 1-44 2 1 1-19 2-1 1-10 1 10 2-4 1 31 2-51 1 6 2-13 1 39 2-97 1 119 2-84 1 47 2-83 1 49 2-57 1 71 2-25 1-20 2-27 1 18 2-19 1-38 2 44 1 14 2-43 1 25 2 9 1 24 2-33 1 9 2-22 1 0 2-74 1 58 2-18 1 17 2-107 1 87 2 9 1 35 2-60 1 17 2-30 1 24 1-71 2 101 1 5 2 8 1-39 2 89 1-66 2 10 1-21 2 88 1-129 2 109 1-56 2 29 1 5 2-14 1-15 2 60 1-56 2 43 1-50 2 91 1-51 2 56 1-74 2 57 1-27 2-41 1 24 2 40 1-14 2 35 1-64 2 62 1 6 2 24 1-19 2 2 1 7 2 5 1-4 1 11 2-19 1 22 2-52 1 29 2-47 1 48 2-66 1 99 2-37 1-4 2-20 1 31 2-30 1-5 2-24 1 65 2-52 1 5 2-38 1 56 2-43 1 5 2-3 1 52 2-49 1 59 2-51 1 3 2 14 1 34 2-93 1 57 2-58 1 109 2-47 1 50 2-21 1 28 2-47 1 12 1 17 2-10 1-46 2 54 1-21 2 14 1-84 2 66 1-60 2 67 1-67 2 70 1-36 2 44 1-42 2 1 1-33 2 52 1-58 2 102 1-35 2 35 1-53 2 86 1-89 2-3 1-13 2 37 1-41 2 46 1-55 2 53 1-61 2 73 1-61 2 8 1 2 2-10 1 5 2-34 1 0 2 39 1-84 1 78 2-48 1 24 2-56 1 100 2-42 1 40 2-84 1 59 2-83 1 63 2 8 1 23 2-32 1-7 2-42 1 51 2-20 1 43 2-59 1 49 2-4 1 16 2-40 1 61 2-54 1 73 2-8 1 2 2-16 1 60 2-74 1 104 2-67 1 18 2-40 1 48 2 1 1 10 2-15 1 49 1-39 2 67 1-81 2 115 1-111 2 111 1-44 2 77 1-83 2 35 1-21 2 36 1-72 2 71 1-16 2 1 1-28 2 32 1-56 2 77 1-6 2 44 1-70 2 28 1 18 2-19 1-54 2 95 1-116 2 105 1-45 2 6 1-38 2 25 1-69 2 45 1 8 2 42 1-70 2 12 1-49 2 25 1-19 1 48 2-10 1 76 2-115 1 70 2-10 1 60 2-45 1 50 2-25 1-22 2 49 1-1 2-54 1 33 2-1 1 72 2-68 1 45 2-42 1 1 2-66 1 18 2-11 1 56 2-53 1 98 2-111 1 57 2-25 1 5 2-39 1 80 2-73 1 19 2-49 1 82 2-103 1 75 2-118 1 80 1 21 2-2 1-41 2 7 1-4 2 21 1 7 2 10 1-1 2-37 1-21 2 39 1 5 2 6 1-58 2 39 1 1 2-40 1-36 2 59 1-16 2-3 1-10 2 4 1 19 2-48 1 7 2 40 1-54 2 78 1-34 2 23 1-42 2 37 1-11 2 18 1 16 2-4 1-68 2 47 1-39 1 26 2-37 1 19 2-106 1 83 2-57 1 44 2-92 1 49 2-46 1 22 2-26 1 15 2-88 1 67 2-36 1 28 2 33 1-32 2 15 1 5 2 48 1-24 2-67 1 68 2-19 1 15 2-10 1 62 2-43 1 46 2-2 1-17 2-22 1 91 2-33 1 80 2-45 1 33 2-59 1 26 2-2 1 22 1-9 2 33 1-69 2 32 1-13 2 49 1-46 2 45 1-85 2 27 1-24 2 44 1 23 2-33 1-6 2 38 1 18 2-22 1-77 2 85 1-26 2 48 1-47 2 20 1 3 2 37 1-51 2 40 1-85 2 105 1-40 2 48 1-53 2 1 1-33 2 38 1-44 2 44 1-29 2 51 1-42 1 56 2-36 1 50 2-31 1 27 2-12 1 6 2 31 1 31 2-11 1-43 2 21 1 53 2-41 1 54 2-62 1 24 2-76 1 60 2-45 1 55 2 0 1-3 2-32 1 61 2-25 1-42 2-29 1 29 2 12 1 79 2-81 1 100 2-74 1 44 2-33 1 59 2-153 1 87 2 0 1 69 2-69 1 24 1-33 2 44 1-31 2-29 1 29 2 4 1-34 2-32 1 2 2 3 1-40 2 75 1-73 2 68 1-56 2-4 1-31 2 87 1-63 2 37 1-128 2 90 1 24 2 2 1-24 2 26 1-39 2 15 1-49 2 59 1-7 2 24 1-20 2 28 1-83 2 14 1 13 2 10 1-2 2 16 1-1 1-7 2-41 1 65 2-78 1 18 2-28 1 52 2-30 1 23 2-89 1 57 2-56 1 37 2-28 1 9 2 2 1 5 2-98 1 72 2-78 1 56 2-92 1 85 2-78 1 6 2 4 1 29 2-5 1 6 2-41 1 73 2-78 1 25 2 8 1 37 2-73 1 6 2-37 1 52 2-74 1 84 1-76 2 96 1-112 2 56 1-40 2 93 1-58 2 5 1-48 2 50 1-55 2 19 1 40 2-1 1 10 2 51 1-19 2-4 1-38 2 7 1-18 2 36 1-39 2 77 1-42 2 12 1 24 2 45 1-80 2 68 1-70 2-3 1-65 2 90 1 13 2 16 1-75 2 27 1-14 2-37 1 19 2 53 1-64 1 29 2-47 1 7 2-19 1 99 2-35 1-15 2-81 1 51 2 8 1 16 2-17 1 48 2-51 1-8 2 8 1-5 2-10 1 63 2-24 1-11 2 33 1 31 2-27 1-26 2 14 1 40 2-27 1 29 2-26 1-9 2-8 1 64 2-65 1 47 2-29 1 39 2-78 1 64 2-112 1 134 1-3 2 19 1-27 2 46 1-144 2 44 1 50 2-25 1-24 2 108 1-103 2-6 1 19 2 38 1-56 2 27 1 12 2 7 1-44 2 55 1-38 2 18 1-26 2 6 1 9 2 20 1-39 2 87 1-63 2-14 1 42 2-1 1-100 2 58 1-72 2 79 1-21 2 24 1-45 2 50 1-71 2 65 1-107 1 102 2-48 1 43 2-68 1 42 2-72 1 30 2-30 1 57 2 27 1 14 2-62 1 37 2-40 1 83 2-94 1-14 2 27 1 15 2-21 1 14 2-26 1 77 2-99 1 42 2-56 1 90 2-4 1 36 2-99 1 65 2-51 1 26 2 9 1 26 2-23 1 3 2-39 1 58 2-69 1 38 1-84 2 96 1-72 2 63 1-23 2 39 1-69 2 26 1 16 2 22 1-57 2 68 1-85 2 22 1 8 2 15 1-8 2-25 1-5 2-31 1-32 2 36 1-60 2 20 1-35 2 84 1-1 2-18 1-1 2 18 1-80 2 62 1 19 2-57 1-30 2 55 1-48 2 52 1-54 2 29 1-31 1 94 2-90 1 38 2-10 1 25 2-58 1 94 2 5 1 10 2-66 1 84 2-36 1 62 2 7 1 13 2-39 1 59 2-30 1-18 2 5 1 62 2-59 1-6 2-34 1 96 2-80 1 27 2-30 1 84 2-92 1 44 2-16 1-32 2 1 1 14 2 43 1-41 2-1 1 22 2 10 1-71 2 20 1 36 1-47 2 64 1-59 2 46 1-110 2 101 1-37 2 74 1-100 2 82 1 23 2-39 1-35 2-12 1 17 2 26 1 7 2 5 1-17 2 17 1 19 2 29 1-103 2 43 1-76 2 120 1-7 2-19 1-4 2 41 1-70 2 13 1 61 2 20 1-105 2 34 1-13 2-2 1-58 1 98"/>
<path class="s" stroke="#fa7c17" d="M82 635l2 25 1 31 2-30 1-25 2 42 1-40 2 58 1-48 2 63 1-34 1 39 2-60 1 30 2 16 1 3 2 2 1 18 2-46 1 45 2-39 1 26 2-10 1 4 2-18 1 25 2-19 1 67 2-49 1 41 2-38 1-8 2-26 1 46 2-18 1 35 2-57 1 35 2 33 1-24 2 18 1 25 2-56 1-21 2 25 1 7 2 28 1-29 2-27 1 60 2-68 1 46 1-26 2 10 1-31 2 2 1 6 2 36 1-21 2 1 1-24 2 27 1 17 2-3 1-15 2 31 1-5 2 17 1-4 2 2 1-45 2 30 1-1 2-26 1 25 2 2 1-39 2 16 1-18 2 62 1-38 2 13 1-33 2 64 1-19 2 4 1-22 2 58 1-96 2 24 1-43 2 61 1-39 1 19 2-17 1 10 2 50 1 0 2-42 1 21 2-46 1 21 2-26 1 21 2-21 1 64 2-76 1 85 2-95 1 6 2 6 1 45 2-76 1 68 2-51 1 25 2-21 1 80 2-73 1 50 2-18 1 4 2-35 1 12 2-12 1 29 2 15 1-15 2-41 1 48 2-39 1 84 2-57 1 52 2-42 1-8 1-82 2 29 1-10 2 21 1-5 2 49 1-12 2 15 1-21 2-26 1-6 2 42 1-10 2-25 1-34 2 56 1-18 2 33 1-63 2 80 1-62 2-6 1 18 2 31 1-25 2-36 1 46 2-17 1-33 2 62 1-10 2 10 1-61 2 18 1 18 2-21 1-1 2 36 1-21 2-1 1-1 1-1 2-45 1 69 2-43 1 28 2-32 1 19 2-17 1 25 2-19 1 32 2-93 1 66 2-48 1 26 2 18 1 42 2-60 1 40 2-64 1 41 2-27 1 51 2-45 1 32 2-62 1 71 2-45 1 16 2-4 1 70 2-102 1 79 2-74 1 55 2-70 1 55 2-25 1 8 2-23 1 50 2-18 1 13 1 3 2-4 1-31 2 16 1-8 2 38 1-89 2 82 1-47 2 78 1-82 2 61 1-33 2 31 1-12 2 0 1-5 2 10 1-24 2-13 1 23 2 28 1-53 2 83 1-88 2 35 1-55 2 82 1-30 2 20 1-81 2 15 1 50 2 39 1-59 2 35 1-97 2 58 1 20 2 55 1-58 1 48 2-33 1 6 2-5 1 56 2-102 1 93 2-31 1-29 2 10 1 2 2-55 1 83 2-9 1 4 2-41 1 33 2 3 1-21 2-47 1 50 2-49 1 69 2-32 1 16 2-44 1 39 2-44 1 47 2-13 1-30 2-9 1 43 2-36 1 47 2-45 1 4 2-53 1 55 2-33 1 41 2-84 1 80 1-39 2 58 1-53 2 42 1-26 2 58 1-46 2 15 1-22 2 23 1-28 2 8 1-37 2 36 1-59 2 24 1-12 2 64 1-56 2 28 1-31 2 5 1-58 2 78 1-27 2 18 1-25 2 17 1-6 2 35 1-20 2 10 1-19 2 22 1-13 2 0 1-2 2 18 1-68 2 101 1-15 1 1 2-45 1 78 2-61 1 24 2-32 1 38 2-54 1 51 2-18 1 46 2-52 1 29 2-51 1 45 2-39 1 30 2 4 1-10 2-18 1 43 2-37 1 58 2-23 1-30 2 16 1 19 2-48 1 32 2 0 1 37 2-26 1 41 2-60 1 85 2-83 1 29 2-72 1 56 2 15 1 25 1-19 2 44 1-35 2 77 1-84 2 11 1-32 2 28 1-7 2 44 1-56 2 80 1-31 2 3 1-54 2 61 1-21 2 27 1-37 2 7 1-14 2 74 1-92 2 48 1-2 2 19 1-31 2 63 1-50 2 57 1-58 2 35 1-9 2 26 1-31 2-15 1 13 2 56 1-55 2 17 1 13 2 11 1-48 1 70 2-61 1 65 2-16 1 6 2-41 1 17 2-32 1 7 2-42 1 90 2-17 1-16 2-79 1 99 2-22 1-22 2-15 1 63 2-34 1 1 2 2 1 1 2-3 1 20 2-24 1 42 2-65 1 47 2-54 1 56 2-31 1 7 2-14 1 51 2-55 1 51 2-51 1 5 2 3 1 55 1-48 2 19 1-66 2 98 1-66 2 79 1-66 2 27 1 8 2-13 1-42 2 46 1-46 2 31 1 19 2-4 1-17 2 3 1 8 2 13 1-10 2 26 1 16 2 16 1-68 2 64 1-34 2 19 1-66 2 87 1-92 2 5 1 6 2 14 1-35 2 16 1 5 2 47 1-92 2 71 1-43 2 19 1 0 1-17 2 7 1 20 2-28 1 55 2-67 1 16 2-6 1 31 2-32 1 32 2-54 1 54 2-62 1 48 2-71 1 68 2-49 1 57 2-78 1 57 2-36 1 23 2-46 1 48 2-64 1 43 2-2 1 65 2-75 1 25 2-17 1 35 2-24 1 9 2-24 1 57 2-20 1 11 2-87 1 72 1-29 2 16 1 4 2-36 1 22 2-2 1-34 2 64 1-1 2 24 1-50 2 50 1-35 2 29 1-21 2-15 1-19 2 46 1-46 2 111 1-50 2-24 1 18 2 26 1-11 2 7 1-31 2 39 1-48 2 50 1-61 2 57 1 5 2-30 1 8 2 23 1-29 2 50 1 1 2-22 1 29 1 16 2-41 1 41 2-31 1 32 2-43 1 18 2-63 1 101 2-37 1-6 2-16 1 34 2-15 1 8 2 35 1 4 2-55 1 8 2-1 1 28 2-33 1 52 2-46 1-12 2-13 1 76 2-56 1 71 2-61 1 72 2-73 1 53 2-33 1 60 2-53 1 49 2-39 1-10 2 34 1-10 2 5 1 13 1-46 2 28 1-3 2 42 1-75 2 28 1-4 2 44 1-31 2 34 1-39 2 20 1-12 2 3 1 21 2 12 1-53 2 83 1-52 2-15 1-1 2 32 1-24 2 5 1-3 2 28 1-19 2 17 1-25 2 42 1-46 2 38 1-29 2 13 1-36 2 42 1-30 2 34 1-6 2 7 1-46 1 40 2-26 1 1 2-70 1 56 2-27 1 3 2-23 1 65 2-41 1 28 2-60 1 48 2-12 1 22 2-43 1 54 2-68 1 29 2-17 1 45 2-54 1 45 2-55 1 30 2-4 1 38 2-11 1 21 2-58 1 31 2-13 1 9 2-40 1 44 2-21 1 23 2 1 1 5 2 8 1-21 2-1 1-16 1 25 2 26 1-26 2-8 1 1 2-23 1 22 2-2 1 4 2-11 1-19 2 9 1-26 2 52 1-37 2 12 1-51 2 88 1-28 2 12 1-24 2 22 1-37 2 8 1-27 2 41 1-8 2 10 1-45 2 20 1-51 2 53 1-44 2 62 1-29 2 14 1-6 2-18 1-39 2 24 1-30 1 45 2-54 1 57 2-17 1-6 2-28 1 17 2-72 1 40 2-12 1 37 2-21 1 41 2-45 1 41 2-44 1-27 2 53 1-2 2 0 1 7 2-36 1 13 2-12 1 13 2 1 1 37 2 12 1-28 2-48 1 68 2-29 1 21 2 9 1 15 2-3 1-22 2 15 1-25 2-10 1 9 1-2 2 70 1-67 2 35 1-36 2 65 1-49 2 26 1-38 2 76 1-45 2-6 1-6 2 31 1-18 2 11 1-40 2 57 1-42 2 12 1-8 2-8 1-55 2 76 1-44 2 50 1-55 2 109 1-67 2-9 1-18 2 56 1-39 2 34 1 15 2 8 1-34 2 44 1-26 2 29 1-16 2 43 1-46 1 64 2-44 1-11 2-38 1 18 2-20 1 12 2 11 1 20 2-49 1 97 2-78 1 9 2 1 1 37 2-24 1 48 2-53 1 56 2-52 1 54 2-67 1 47 2-41 1 12 2-26 1 39 2-13 1 11 2-41 1 63 2-54 1 29 2-40 1 35 2-45 1 55 2-66 1 66 2-41 1 57 1-71 2 27 1 1 2 30 1-4 2-38 1 21 2 1 1-28 2 32 1-38 2-36 1 4 2-7 1 19 2 33 1-17 2 7 1-7 2 16 1-24 2 22 1 7 2 16 1-24 2 78 1-80 2 18 1-44 2 39 1-4 2 19 1-3 2 23 1-49 2 11 1-15 2 56 1-74 2 36 1-28 2 15 1-4 1 10 2-17 1-11 2 1 1 31 2-40 1 41 2-34 1 59 2-32 1 18 2-50 1 27 2-43 1 21 2 6 1 81 2-83 1 3 2-14 1 57 2-20 1-11 2 6 1-35 2-1 1 53 2-106 1 94 2-48 1 46 2-52 1 63 2-83 1 54 2-1 1 39 2-31 1 11 2-15 1 66 1-61 2-18 1-31 2 78 1-27 2 29 1-41 2 53 1-68 2 76 1-79 2 30 1-12 2 25 1-7 2 28 1-52 2 31 1-10 2 25 1-12 2 50 1-15 2-41 1 1 2 47 1-58 2 22 1-28 2 45 1-8 2-2 1-6 2 8 1 0 2 34 1-35 2 40 1-20 2 30 1-42 1 5 2 0 1 65 2-58 1 1 2 14 1 17 2-9 1-19 2-55 1 78 2-46 1 47 2-42 1 74 2-27 1 45 2-63 1 31 2-29 1 50 2-14 1 15 2-50 1-2 2-33 1 36 2-37 1 34 2 7 1-9 2-23 1 49 2-70 1 86 2-6 1-17 2-15 1 44 2-62 1 25 2 3 1 18 1-9 2 39 1 4 2-50 1 17 2 20 1-44 2 33 1 5 2-9 1-15 2 1 1 41 2-25 1 19 2-1 1-29 2 52 1-54 2 19 1 1 2 32 1-65 2 64 1-1 2 12 1-40 2 31 1-31 2 37 1-64 2 38 1-10 2 58 1-72 2 40 1-35 2 65 1-12 1-23"/>
<path class="s" stroke="#328c06" d="M82 1087l2-9 1-17 2 38 1-3 2 32 1-15 2-24 1-25 2 49 1-40 1 34 2-37 1 36 2 13 1 3 2-22 1 25 2-39 1 9 2 3 1-9 2 19 1 21 2-22 1 10 2-19 1 17 2-64 1 90 2-14 1 20 2-8 1-21 2-3 1 15 2-1 1-18 2 2 1-7 2 9 1 31 2-75 1 33 2-34 1 79 2-42 1 14 2 18 1-30 2-48 1 47 1-23 2 2 1-25 2 38 1-30 2 40 1-11 2 9 1-26 2 33 1-18 2 26 1-27 2 46 1-54 2 46 1-78 2 51 1-48 2 48 1-28 2 17 1-17 2 44 1-75 2 7 1-6 2-9 1-29 2 40 1-67 2 43 1-55 2 7 1-7 2 11 1-46 2 42 1-22 2 48 1-67 1 28 2-29 1 39 2-31 1 37 2-45 1 8 2-45 1 51 2-58 1 26 2 12 1-15 2 12 1 2 2-13 1 47 2-87 1 38 2-31 1 17 2-43 1 49 2-68 1 38 2-46 1 14 2 5 1 27 2-74 1 25 2-13 1 23 2-61 1 65 2-11 1 18 2-83 1 119 2-47 1 6 2 10 1-7 1 8 2 25 1-53 2 57 1-26 2 31 1-27 2 27 1-7 2 29 1-36 2 5 1-20 2 9 1-21 2 43 1-41 2 28 1-13 2 45 1-51 2 21 1-82 2 94 1-37 2 33 1-19 2 41 1-83 2 62 1-11 2-37 1-22 2 47 1-37 2 55 1-50 2 35 1-18 2 49 1-44 1 74 2-55 1 36 2-7 1 25 2 11 1-21 2 4 1 24 2 23 1-21 2 7 1 9 2-2 1 53 2-52 1 14 2-8 1-10 2 9 1 38 2-22 1-26 2 12 1 17 2-23 1 68 2-82 1 43 2-75 1 101 2-71 1 24 2-48 1 26 2-11 1 22 2-29 1 30 2-26 1 25 2-45 1 8 1-20 2 39 1-24 2 63 1-40 2 49 1-61 2 45 1-45 2 35 1-33 2 34 1-32 2 57 1-24 2 64 1-40 2 1 1-3 2-31 1 34 2 10 1 16 2 3 1-1 2 31 1-50 2 17 1 3 2 23 1-29 2 9 1-19 2-2 1-12 2-9 1-3 2-18 1 11 2 38 1-18 1 9 2 24 1 8 2-85 1 49 2 10 1-53 2-1 1 19 2-36 1 36 2-15 1 32 2-46 1 22 2-32 1 33 2-21 1 25 2-9 1-9 2-9 1 17 2-28 1 56 2 1 1 26 2 6 1-5 2-15 1 37 2-36 1 26 2-41 1 22 2-27 1 24 2-60 1 64 2 17 1 3 2-43 1 50 1-50 2-10 1 10 2-6 1-21 2 41 1-52 2 57 1-50 2 43 1-40 2 31 1-61 2 43 1 16 2-11 1 22 2-31 1 1 2 14 1-13 2 43 1-30 2 52 1-14 2-62 1-3 2 18 1-16 2 27 1-7 2 24 1-57 2 59 1-27 2 14 1-57 2 65 1-37 2 16 1-4 1 19 2-12 1 62 2-48 1 65 2-32 1 17 2-38 1 55 2-31 1 41 2-25 1-7 2 3 1-11 2-13 1 47 2-54 1 62 2-59 1 12 2-26 1 26 2-32 1 59 2-55 1 32 2-9 1 35 2-22 1 22 2-59 1 23 2-5 1 51 2-34 1-6 2-10 1 36 2-18 1 22 1-54 2 77 1-51 2-5 1 10 2 26 1-28 2 46 1-49 2 16 1-20 2 59 1-34 2 12 1-10 2-1 1-11 2 37 1-12 2 16 1-4 2-4 1-9 2 44 1-73 2 40 1-7 2-38 1-2 2 6 1 3 2 5 1-17 2 5 1 0 2 15 1-53 2 72 1-90 2 31 1-22 2 42 1-34 1 26 2-16 1 12 2-50 1 49 2-20 1 20 2-31 1 7 2-34 1 20 2-15 1 26 2-36 1-3 2 32 1-8 2-33 1-10 2-10 1 13 2-2 1-1 2-28 1 77 2-69 1-10 2-5 1 25 2-45 1 2 2 21 1-3 2-37 1 35 2 24 1-15 2-19 1-8 2 24 1-3 1-17 2 24 1-45 2 32 1-8 2 5 1 19 2 7 1-5 2 1 1-1 2 4 1-1 2 5 1-9 2 17 1-2 2 38 1-20 2-11 1 13 2 28 1-38 2 6 1 13 2 8 1-35 2 13 1-28 2 44 1-44 2 84 1-34 2 1 1-21 2-5 1-34 2 68 1-42 2 25 1-1 2-2 1-24 1 28 2 0 1 17 2-39 1 33 2 22 1 13 2-19 1 37 2-21 1 10 2-20 1 34 2 5 1 31 2-24 1 2 2-13 1 0 2 13 1 36 2-37 1 21 2-11 1 54 2-59 1 56 2-35 1 10 2-35 1 35 2-6 1 21 2-39 1 5 2-13 1-5 2-13 1 37 2-48 1 51 1-41 2-5 1-2 2 29 1-50 2 37 1-11 2-9 1 8 2-23 1 44 2 2 1-15 2 19 1-17 2 11 1-45 2 71 1-11 2-15 1-28 2 19 1 4 2 65 1-74 2 34 1-15 2 25 1-38 2 27 1-19 2 36 1-46 2 21 1-23 2 15 1-43 2 42 1-23 2 70 1-86 1 85 2-49 1 19 2-43 1 9 2-1 1 4 2-23 1 76 2-50 1 43 2-45 1 16 2-27 1 63 2-21 1 57 2-44 1 35 2-53 1 29 2-15 1 22 2-11 1 50 2-45 1 35 2-18 1-20 2 17 1 34 2-59 1 40 2-38 1 41 2-13 1-18 2-34 1 50 2 10 1-2 2-20 1 13 1-39 2 55 1-46 2-1 1 26 2-23 1-14 2 42 1-33 2-15 1 4 2 23 1-11 2-35 1-24 2 78 1-63 2 44 1-46 2 35 1-16 2 11 1-13 2 36 1-59 2 54 1-34 2 50 1-21 2 9 1-24 2 36 1-20 2 2 1 29 2-39 1-25 2 24 1-7 2 15 1-16 1 38 2-29 1 63 2-57 1 32 2-11 1 20 2-57 1 33 2 0 1 12 2-30 1-12 2 29 1 26 2-6 1 4 2-19 1 12 2 6 1-21 2-2 1-24 2-14 1 14 2-31 1 30 2-34 1 24 2-16 1-11 2 3 1 14 2-6 1 12 2 0 1-18 2-26 1-5 2-3 1 47 2-38 1 2 1 16 2-7 1-21 2 27 1-45 2 32 1-54 2 3 1-7 2 25 1-63 2 58 1-39 2-13 1-3 2 39 1-31 2 33 1-68 2 62 1-14 2 3 1 20 2-16 1 11 2-27 1-14 2 49 1-40 2 21 1-18 2 15 1-47 2 8 1-35 2 76 1-3 2-14 1-33 2 47 1-55 1 23 2-22 1-5 2 32 1-4 2-11 1 43 2-54 1 54 2-39 1 46 2 0 1 15 2-57 1 52 2 6 1 27 2-17 1 2 2-46 1 16 2 7 1 40 2-74 1 52 2-61 1 78 2-37 1-18 2-6 1 20 2-15 1 36 2-17 1 17 2 27 1 1 2-50 1 70 2-70 1 28 1 0 2 29 1 22 2-24 1 5 2 15 1-59 2 23 1 17 2-4 1-24 2 32 1 7 2 58 1-57 2-6 1-4 2-12 1 28 2 7 1-4 2 29 1-5 2 8 1-21 2 37 1-35 2 12 1-13 2-2 1-29 2 49 1-61 2 51 1-37 2 9 1 4 2-8 1-14 2 33 1 15 2-38 1-11 1 68 2-116 1 38 2 0 1 52 2-70 1 80 2-37 1-5 2-21 1 11 2 9 1-16 2 35 1-14 2-19 1 38 2-27 1 32 2-29 1-30 2-8 1 31 2-9 1 11 2-54 1 70 2-92 1 112 2-76 1 45 2-12 1 13 2-13 1 18 2-14 1 24 2-42 1 32 2-55 1 49 1-34 2 7 1-1 2 3 1-10 2 5 1-6 2 17 1-5 2 4 1-35 2 57 1-24 2-21 1 33 2 16 1-33 2 0 1-22 2 13 1-27 2-23 1-7 2 62 1-40 2-20 1-10 2 94 1-94 2 70 1-34 2 26 1-29 2 25 1-14 2 0 1 25 2 40 1-42 2 16 1-38 2 28 1 3 1 47 2-31 1 18 2-20 1-11 2-8 1-4 2 4 1 23 2-31 1 59 2-26 1 6 2-34 1 43 2-71 1 53 2-36 1 4 2-27 1 23 2-37 1 48 2-2 1 33 2-46 1 35 2-20 1 21 2-36 1 29 2-27 1 71 2-24 1 49 2-55 1 30 2-6 1-1 2-11 1-7 1 16 2 24 1-26 2 7 1-13 2 8 1-9 2 43 1-56 2 52 1 0 2-28 1 11 2 46 1-37 2 36 1-17 2 29 1-70 2 59 1-22 2-12 1 28 2-2 1 3 2 20 1-36 2 42 1-20 2 13 1-23 2-12 1 30 2-22 1-26 2 49 1-23 2 16 1 2 2 3 1-19 1 28 2-52 1 57 2-25 1 19 2-28 1 14 2-33 1 43 2 2 1-11 2-11 1 28 2-16 1 0 2 5 1 19 2-49 1 63 2-5 1-21 2-20 1 25 2-19 1 7 2-26 1 22 2-6 1 38 2-69 1 69 2-29 1 39 2-26 1 33 2-41 1 36 2-46 1 36 2-21 1 10 2-25 1 33 1-44 2 42 1-35 2 32 1-11 2-11 1 2 2-2 1-35 2 21 1-24 2 6 1 36 2 25 1-71 2 39 1 20 2 3 1-39 2 65 1-39 2 30 1-2 2-6 1-22 2 44 1-76 2 59 1-18 2 27 1-36 2 25 1-14 2 25 1-27 2-25 1 4 2 0 1 25 1-2"/>
<path class="s" stroke="#c10c90" d="M82 490l2-24 1-4 2-13 1-54 2 28 1 10 2 57 1-43 2 70 1-35 1 15 2-45 1 93 2-55 1 12 2-11 1 29 2-64 1 86 2-36 1-6 2 17 1 29 2-60 1 71 2-43 1-18 2 56 1-20 2-9 1 48 2-52 1 15 2 38 1-23 2-85 1 61 2-13 1 31 2-19 1 43 2-10 1 3 2-30 1 22 2-52 1 40 2 27 1 104 2-124 1 30 1-17 2 55 1-37 2 24 1-56 2 111 1-95 2 96 1-91 2 50 1-27 2 27 1-16 2 43 1-73 2 56 1-13 2 22 1-16 2 26 1-68 2 64 1-70 2 78 1-80 2 54 1-40 2 50 1-27 2-29 1-26 2-17 1 41 2 48 1-63 2 14 1-60 2 110 1-74 2 77 1-90 1 94 2-88 1 54 2-24 1-3 2-27 1 33 2-18 1-28 2-15 1 93 2-38 1-29 2-22 1 45 2-21 1 9 2 13 1 53 2-83 1 56 2-40 1 17 2-40 1 41 2-30 1 34 2-40 1 49 2-29 1 31 2-34 1 58 2-68 1 89 2-50 1 63 2-59 1 31 2-38 1 84 2-38 1 16 1-4 2 1 1-46 2 25 1 18 2 13 1-67 2 51 1-16 2 3 1-2 2 3 1 10 2 1 1-45 2 68 1-56 2 80 1-50 2-3 1-11 2 19 1-3 2 42 1-58 2-13 1 24 2 23 1-32 2 16 1-63 2 23 1-47 2 45 1 8 2 51 1-57 2 60 1-43 2 143 1-138 1 21 2-34 1 5 2-3 1-9 2-56 1 120 2-102 1 37 2-7 1 41 2-26 1 48 2-26 1 18 2-34 1-1 2 37 1 21 2-91 1 70 2-5 1-9 2-11 1 3 2 0 1 20 2-9 1-2 2-33 1 69 2-79 1 36 2 2 1-9 2-31 1 36 2-10 1-12 2-13 1 38 2-25 1 37 1-59 2 80 1-51 2 31 1-53 2-9 1 19 2 9 1-43 2 78 1-80 2-24 1-47 2 45 1-16 2 65 1-67 2 78 1-18 2-1 1-47 2 12 1 2 2 26 1-46 2 91 1-50 2-45 1 43 2-18 1-29 2 0 1-21 2 72 1-52 2 36 1-60 2 55 1-45 2 46 1-31 1 8 2-31 1-12 2-30 1 69 2-67 1 36 2-26 1 47 2-30 1-46 2 15 1 39 2-29 1 37 2-28 1-19 2 25 1 23 2-1 1-55 2 24 1 69 2-116 1 41 2-38 1 74 2-66 1 36 2 15 1-17 2 2 1 74 2-108 1 104 2-28 1-7 2-18 1 33 2-17 1-9 2-24 1 49 1-18 2 39 1-96 2 105 1-140 2 112 1-2 2 12 1-15 2 49 1-22 2 20 1-19 2 9 1-56 2 96 1-76 2 19 1-7 2 21 1-38 2-10 1 37 2-12 1-7 2 31 1-92 2 51 1-47 2 14 1 73 2 74 1-80 2 37 1-37 2 43 1-54 2 86 1-42 2-17 1 8 1 57 2-82 1 78 2-51 1 64 2-75 1 75 2-79 1-4 2 3 1 40 2-66 1 85 2-32 1 8 2-23 1 47 2-26 1 37 2-9 1-9 2-28 1 45 2-28 1 40 2-32 1 17 2-31 1 24 2-64 1 66 2-37 1 56 2-77 1 45 2-24 1-8 2-7 1 19 2-16 1 13 1-38 2 54 1-47 2 84 1-102 2 46 1-32 2 50 1-49 2 15 1-12 2 41 1-90 2 87 1-74 2 75 1-76 2 95 1-26 2-18 1 4 2 32 1-31 2 29 1-45 2 33 1-32 2 86 1-77 2 35 1-70 2 8 1 19 2 19 1-23 2 19 1-46 2 86 1-82 2-19 1-6 2 12 1-6 1 40 2 8 1-29 2 24 1 13 2-44 1 32 2-28 1 40 2 1 1 23 2-30 1 30 2-77 1 94 2-40 1 29 2-15 1 36 2-29 1 5 2-10 1 31 2 7 1 32 2-47 1 50 2-9 1-16 2-20 1 22 2-55 1 90 2-54 1 29 2-41 1 74 2-64 1 20 2-58 1 77 1-45 2 48 1-60 2 43 1-12 2 58 1-66 2 24 1-12 2 11 1-13 2-11 1 23 2 53 1-53 2-2 1-30 2 38 1 23 2-26 1 6 2-15 1 20 2-21 1-1 2-41 1-35 2 59 1 18 2-4 1-37 2 26 1-62 2 24 1 37 2 9 1-6 2-57 1 22 2-21 1-2 2 24 1-61 1 65 2-57 1 52 2-88 1 56 2 29 1-31 2 11 1-24 2 2 1 29 2-15 1 39 2-69 1 72 2-20 1 98 2-109 1 35 2 37 1-8 2-45 1 45 2-18 1 1 2 0 1-3 2-17 1-2 2-23 1 57 2-29 1-13 2-32 1 52 2 0 1 18 2-36 1-8 2 5 1 17 1-28 2 13 1-14 2-5 1-58 2 44 1 6 2 2 1 4 2 8 1-5 2 28 1-65 2 104 1-58 2 35 1-37 2 22 1 15 2 23 1-41 2-17 1 12 2 15 1-2 2 30 1-57 2 52 1-53 2 105 1-66 2 39 1-56 2 25 1-41 2 43 1-8 2 5 1-7 2-32 1-47 1 65 2-36 1 8 2 41 1-46 2 46 1 28 2-95 1 102 2-49 1 65 2-54 1 13 2 9 1 14 2-46 1 55 2-35 1 44 2-29 1 5 2-16 1 46 2-27 1 39 2-61 1-2 2 13 1 21 2-48 1 29 2-28 1 15 2-33 1 51 2-63 1 35 2-99 1 127 2-73 1 33 2-33 1 29 1-59 2 43 1-19 2-14 1 21 2 49 1-72 2 73 1-27 2 84 1-51 2 50 1-34 2 85 1-104 2 39 1-34 2 28 1 13 2-51 1 8 2 27 1-70 2 57 1-48 2 58 1-33 2 20 1-1 2 15 1-15 2-38 1 15 2 38 1-45 2 13 1 5 2 0 1-12 2 54 1-37 1 45 2-71 1 54 2-23 1 38 2-69 1 64 2-63 1 47 2-24 1 53 2-61 1 43 2-25 1 5 2-32 1 78 2-54 1 5 2-4 1 13 2-17 1 38 2-35 1 51 2-45 1 72 2-19 1 7 2-56 1 77 2-99 1 90 2-70 1 39 2 8 1 11 2-30 1 39 2-7 1 19 2-50 1 50 1-52 2 28 1-75 2 79 1-33 2 52 1-106 2 85 1-35 2 2 1-16 2 21 1 3 2 39 1-50 2 34 1-92 2 82 1-49 2 0 1-1 2 4 1-16 2 6 1-3 2 24 1-21 2 31 1-42 2 22 1-8 2-10 1 9 2 0 1-54 2 58 1-38 2 49 1 5 2-22 1-15 1 53 2-56 1 8 2 23 1 13 2-38 1 52 2-15 1 45 2-56 1 12 2-21 1 12 2-34 1 74 2-76 1 72 2-19 1 16 2-27 1 45 2-47 1 70 2-75 1 46 2-29 1-45 2 13 1 24 2 51 1-19 2-85 1 72 2-61 1 23 2 9 1 2 2 0 1 30 2-26 1-7 1-49 2 41 1-36 2 6 1-7 2 3 1-10 2 33 1-45 2 39 1 10 2-32 1-42 2 27 1-34 2 14 1-44 2 73 1-112 2 82 1-64 2 56 1 4 2-13 1-21 2 39 1-27 2 58 1-64 2 47 1-51 2 29 1-46 2 47 1-43 2 21 1-15 2 63 1-72 2 56 1-68 2 74 1-50 1 47 2-38 1 42 2-27 1 10 2-22 1 27 2-45 1 15 2-37 1 29 2-56 1-35 2 0 1 1 2 29 1 51 2-27 1-51 2 41 1 9 2-37 1-6 2 11 1 46 2-25 1-7 2 29 1 8 2 4 1-9 2-28 1 3 2 72 1-39 2 2 1-12 2 13 1-3 2 17 1 5 1-6 2 7 1 20 2-22 1-15 2 18 1-52 2 46 1-32 2 41 1 3 2 16 1-46 2 11 1-35 2 45 1-6 2 11 1-45 2 19 1-4 2 36 1-32 2 38 1-38 2 42 1-55 2 47 1-26 2 16 1-36 2 35 1 14 2-6 1-42 2 40 1-22 2 35 1-7 2 49 1-118 2 68 1-4 1-5 2 5 1-25 2 7 1 27 2-74 1 25 2-12 1 29 2-29 1 15 2-80 1 49 2 15 1 27 2-59 1 39 2 3 1-34 2 8 1 56 2-67 1 36 2-14 1 22 2-27 1 37 2 12 1-19 2 12 1 67 2-66 1 62 2-66 1 21 2-21 1-7 2-6 1 57 2 1 1-7 1-11 2 33 1-15 2-31 1 23 2 12 1-45 2 27 1-39 2 23 1-50 2 49 1-31 2 49 1-10 2-1 1-11 2 1 1 0 2 47 1-72 2 27 1-40 2 94 1-71 2 35 1-31 2 73 1-75 2 36 1-33 2-8 1-19 2 88 1-39 2 76 1-79 2 49 1-79 2 11 1 18 1 47 2-75 1 46 2-63 1 61 2-26 1 37 2-41 1 87 2-59 1 47 2-38 1-1 2 19 1-6 2 13 1-4 2 6 1 29 2-5 1-32 2 18 1 25 2-66 1 96 2-60 1 41 2-70 1 38 2-16 1 33 2-54 1 72 2-17 1-31 2 13 1 4 2-37 1 67 2-53 1 81 2-36 1-22 1-39 2 57 1-27 2 24 1-77 2 40 1-11 2 14 1-21 2 56 1-56 2-10 1-11 2 26 1 3 2 66 1-99 2 90 1-41 2 83 1-72 2 63 1-47 2-13 1-51 2 42 1-33 2 69 1-87 2 32 1-8 2 12 1-43 2 38 1-75 2 75 1-110 2 101 1-20 1-30"/>
</g>
<path class="h" stroke="#2a2eec" d="M106.00 1740.75h44.9"/>
<text class="t8" x="168.72" y="1749.65">Venezuela</text>
<path class="h" stroke="#fa7c17" d="M106.00 1774.73h44.9"/>
<text class="t8" x="168.72" y="1783.63">Colombia</text>
<path class="h" stroke="#328c06" d="M106.00 1808.71h44.9"/>
<text class="t8" x="168.72" y="1817.61">Ecuador</text>
<path class="h" stroke="#c10c90" d="M106.00 1842.69h44.9"/>
<text class="t8" x="168.72" y="1851.59">Panama</text>
<text class="t10 m" x="533.92" y="1694.80">East - Type A</text>
<text class="t8 e" x="75.80" y="2255.34">800</text>
<text class="t8 e" x="75.80" y="2166.45">900</text>
<text class="t8 e" x="75.80" y="2077.56">1000</text>
<text class="t8 e" x="75.80" y="1988.66">1100</text>
<text class="t8 e" x="75.80" y="1899.77">1200</text>
<text class="t8 e" x="75.80" y="1810.88">1300</text>
<text class="t8 e" x="75.80" y="1721.99">1400</text>
<text class="t8" transform="translate(111.22 2383.75) rotate(-45)">2022</text>
<text class="t8" transform="translate(247.00 2383.75) rotate(-45)">2023</text>
<text class="t8" transform="translate(382.79 2383.75) rotate(-45)">2024</text>
<text class="t8" transform="translate(518.94 2383.75) rotate(-45)">2025</text>
<text class="t8" transform="translate(654.73 2383.75) rotate(-45)">2026</text>
<text class="t8" transform="translate(790.51 2383.75) rotate(-45)">2027</text>
<text class="t8" transform="translate(926.29 2383.75) rotate(-45)">2028</text>
</g>
<g>
<rect x="1078.55" y="1710.70" width="895.85" height="608.85" fill="#eeeeee"/>
<path class="g" d="M1119.42 1710.70v608.85M1255.20 1710.70v608.85M1390.99 1710.70v608.85M1527.14 1710.70v608.85M1662.93 1710.70v608.85M1798.71 1710.70v608.85M1934.49 1710.70v608.85M1078.55 2286.20h895.85M1078.55 2176.02h895.85M1078.55 2065.84h895.85M1078.55 1955.66h895.85M1078.55 1845.48h895.85M1078.55 1735.30h895.85"/>
<g transform="translate(1078.55 1710.70) scale(.5)">
<path class="s" stroke="#2a2eec" d="M82 215l2-39 1-53 2 43 1-64 2 125 1-126 2 74 1-46 2 78 1-26 1 0 2-22 1 28 2-10 1-13 2-36 1 74 2-79 1 51 2-115 1 133 2-8 1 8 2-26 1 63 2-104 1 40 2-15 1 29 2-18 1 3 2-21 1 62 2-7 1 13 2-90 1 58 2-53 1 81 2-61 1 46 2-86 1 88 2-35 1 3 2 33 1 25 2-132 1 122 2-4 1 20 1-62 2 42 1-29 2 54 1-21 2 14 1-45 2 83 1-25 2-43 1-99 2 158 1-80 2 46 1-67 2 35 1-20 2 56 1-4 2 24 1-63 2 78 1-88 2 50 1-102 2 116 1-67 2 52 1-44 2 55 1-40 2 72 1-41 2 4 1-25 2 94 1-66 2-2 1 24 2 3 1-37 1 9 2-49 1 111 2-116 1 15 2 0 1 46 2-68 1 55 2 37 1-82 2-38 1 53 2-9 1 52 2-23 1 59 2-90 1 22 2-32 1 84 2-59 1 58 2-67 1-11 2-47 1 57 2-17 1 37 2-32 1 8 2-46 1 70 2 16 1-25 2 39 1-4 2-74 1 65 2 22 1-8 2-17 1 24 1-52 2 36 1-9 2 78 1-41 2-37 1 17 2 31 1-59 2 17 1-4 2 49 1-67 2 77 1-4 2-10 1-62 2 60 1-94 2 131 1-45 2 21 1 73 2-10 1-53 2 4 1 14 2-42 1-30 2 85 1-56 2 39 1-58 2 68 1-3 2-49 1-22 2 47 1 2 2-29 1 1 1 26 2-58 1 25 2-58 1 91 2-30 1 34 2-97 1 40 2-13 1 46 2-17 1 24 2-43 1-21 2-22 1 41 2 32 1-52 2-5 1 86 2-40 1 9 2-70 1 10 2-24 1 74 2-87 1 40 2 29 1 3 2-41 1 60 2-82 1 49 2-33 1 76 2-140 1 118 2-56 1 45 2-70 1 0 1 11 2 61 1-101 2 27 1-35 2 93 1-59 2 88 1-47 2-24 1 28 2 10 1-51 2 51 1-25 2-9 1 13 2 25 1-40 2-24 1-13 2 34 1-32 2 9 1 8 2 21 1-16 2-20 1-11 2-40 1-29 2 96 1-94 2 38 1-32 2 45 1-47 2 94 1-70 2 48 1-52 1 75 2-103 1 115 2-69 1 65 2-76 1 35 2 12 1 1 2-41 1-9 2 18 1 115 2-107 1 9 2-64 1 96 2-59 1 57 2-97 1 103 2-36 1-26 2 27 1-11 2 0 1 32 2 4 1 19 2-13 1-26 2 18 1-19 2-51 1 99 2-13 1 42 2-40 1-6 2 22 1 54 2-99 1-3 1-62 2 194 1-81 2 8 1-1 2-14 1-94 2 64 1-51 2 115 1-76 2 59 1-24 2 55 1-19 2 26 1-62 2 29 1-79 2 120 1-145 2 74 1-27 2 17 1-25 2 15 1 0 2-5 1-33 2 58 1-54 2 59 1-104 2 91 1-12 2 29 1-11 2 42 1-116 2 72 1-48 1-3 2 11 1 32 2-43 1 96 2-111 1 150 2-108 1 81 2-107 1 67 2-58 1 57 2-67 1 64 2-66 1 26 2 61 1-44 2 9 1 120 2-68 1 37 2-49 1 73 2-101 1 30 2 24 1-42 2 28 1-14 2-56 1 74 2-28 1 35 2-6 1 5 2-27 1 11 2-6 1 79 1-45 2-1 1-5 2 13 1-54 2 93 1-59 2 78 1-61 2 37 1-52 2 9 1 37 2 2 1 8 2 47 1-76 2-7 1 14 2 38 1 6 2-72 1-10 2 62 1-40 2 9 1 2 2-37 1 35 2 15 1-51 2 65 1-85 2 113 1-62 2 21 1-5 2 13 1-17 2 29 1-14 2-4 1-16 1 13 2-6 1 9 2-47 1 89 2-20 1 15 2-29 1 27 2-107 1 132 2-62 1 11 2-47 1 59 2-9 1 49 2-96 1 118 2-81 1 92 2-72 1-1 2-75 1 82 2 0 1 16 2-66 1 83 2-94 1 76 2-42 1 50 2-48 1 90 2-45 1 40 2-48 1 34 2-4 1-22 1 55 2-44 1-28 2 44 1-18 2 11 1-28 2-24 1-3 2 77 1-70 2 16 1-72 2 79 1-11 2-13 1-88 2 99 1 4 2 23 1-108 2 44 1 53 2-16 1 40 2 11 1-111 2 72 1-73 2 82 1-19 2 1 1-58 2 87 1-15 2-12 1-43 2 52 1-57 2 22 1-5 2 105 1-107 1 23 2-28 1 67 2-34 1 53 2-73 1 93 2-67 1 13 2 16 1-9 2-103 1 69 2-80 1 95 2-95 1 45 2-56 1 109 2-158 1 109 2-41 1-27 2 23 1 26 2-13 1 42 2-30 1 11 2-3 1 15 2 10 1 37 2-67 1 123 2-47 1-6 2-46 1 120 2-89 1 54 1-68 2 27 1-70 2 27 1 20 2 20 1-28 2 89 1-142 2 73 1-33 2 53 1-48 2 72 1-79 2 77 1-38 2 71 1-75 2 6 1 11 2 57 1-33 2 52 1-77 2 42 1-71 2 58 1-34 2 22 1-20 2-20 1 22 2-30 1 66 2-16 1-29 2 60 1-99 2 118 1-67 1-11 2 50 1-18 2 32 1 18 2-102 1 73 2-78 1 69 2-15 1-1 2 9 1-11 2-44 1 57 2-8 1 50 2-30 1-11 2-11 1-1 2-32 1 32 2 24 1 42 2-103 1 92 2-35 1-8 2-54 1 107 2-59 1 28 2-69 1 32 2-35 1-13 2-7 1 94 2-25 1-24 2 30 1 27 1-60 2 24 1-34 2 3 1-54 2 64 1 10 2-19 1-92 2 43 1-27 2 147 1-161 2 118 1-60 2 82 1-58 2 28 1-5 2 40 1-65 2 52 1-54 2 28 1-55 2 143 1-167 2 72 1 15 2 45 1-48 2 87 1-56 2-21 1 9 2 2 1-7 2 72 1-77 2 40 1-2 1-17 2 6 1 12 2-21 1 33 2-78 1 85 2-121 1 55 2 36 1 35 2-6 1 5 2 19 1-11 2-63 1 33 2-78 1 98 2-28 1 33 2-27 1 50 2-70 1 37 2-17 1 22 2-51 1-1 2 1 1 41 2 3 1-41 2-19 1 64 2-57 1 54 2-26 1-1 2 0 1 63 2-96 1 69 1-34 2 17 1-31 2 102 1-97 2 31 1-32 2 88 1-92 2 50 1-1 2-18 1-8 2 42 1-26 2 44 1-51 2-20 1-19 2 32 1-15 2 86 1-83 2 72 1-77 2 76 1-43 2 35 1 1 2 0 1 7 2-9 1-6 2 34 1 5 2 11 1-30 2 30 1-36 2 77 1-132 1 37 2-1 1 16 2-30 1 63 2-74 1 24 2-83 1 160 2-89 1 59 2-113 1 0 2 11 1 22 2-55 1 74 2-96 1 93 2-56 1 34 2-29 1 12 2 48 1 20 2-59 1 33 2-104 1 93 2-19 1 42 2-11 1 12 2-21 1 26 2-65 1 55 2-42 1 92 2 1 1-30 1 43 2 7 1-56 2 46 1-57 2 79 1-134 2 135 1-68 2 16 1 35 2-29 1-26 2 34 1-121 2 108 1-10 2 16 1-11 2 14 1-15 2 54 1-81 2 16 1 8 2 21 1-45 2 39 1-49 2 56 1-19 2 30 1-60 2 89 1-25 2 15 1-10 2 35 1-49 2 20 1-22 2 46 1-49 1 82 2-97 1 57 2-39 1 21 2-53 1 51 2-44 1 59 2-82 1 63 2-17 1 32 2-41 1 20 2-9 1 11 2 7 1 26 2-64 1 51 2-74 1-14 2 20 1 77 2-107 1 42 2-8 1 33 2-67 1 33 2 8 1 56 2-40 1 18 2-22 1 31 2-62 1 65 2-63 1 44 1-31 2 19 1-58 2 101 1-66 2 16 1 12 2 35 1-9 2 9 1-14 2 33 1-12 2 43 1-26 2 11 1-36 2 36 1-9 2-15 1 24 2 5 1-48 2 20 1-75 2 50 1 8 2 33 1-65 2 103 1-50 2-11 1-77 2 106 1-36 2 50 1-36 2-9 1-40 2 75 1-53 2 21 1-12 1 14 2-20 1 38 2-71 1 39 2-70 1 86 2-19 1 28 2-92 1 118 2 7 1-39 2-51 1 58 2-40 1 93 2-132 1 71 2-16 1 61 2-98 1 89 2-43 1 65 2-73 1 59 2-43 1 9 2-7 1 7 2-1 1 3 2 4 1 33 2-64 1 11 2 24 1-39 2-30 1 53 1-101 2 77 1-6 2 57 1-63 2 47 1-42 2 11 1-43 2 139 1-110 2 101 1-38 2-2 1-26 2 59 1-34 2-27 1 14 2 84 1-111 2 1 1-8 2 56 1-43 2 46 1-54 2 66 1-55 2 60 1-29 2 23 1 0 2 18 1-93 2 59 1-63 2 87 1-36 2 79 1-60 1 61 2-104 1 93 2-35 1 8 2-21 1 42 2-50 1 38 2-49 1 84 2-69 1 70 2-30 1 14 2-5 1 16 2-78 1 45 2-54 1 25 2-94 1 121 2-61 1 38 2 7 1 6 2 8 1-14 2-14 1 84 2-109 1 68 2-54 1 107 2-46 1-27 2 2 1 10 2 18 1 15 2 6 1-18 1-21 2 18 1-4 2 9 1 11 2-12 1-12 2 37 1-33 2-8 1-25 2 19 1-10 2 24 1-16 2 11 1-28 2 18 1 3 2 3 1 7 2 36 1-15 2 14 1-8 2 27 1-40 2-8 1-11 2 46 1-56 2 28 1-46 2 68 1-28 2 60 1-47 2 28 1-19 1 28"/>
<path class="s" stroke="#fa7c17" d="M82 912l2 27 1 18 2-11 1-49 2 34 1-58 2 50 1-44 2 16 1-31 1 40 2-14 1 5 2-35 1 20 2-32 1 17 2-19 1 28 2-42 1 36 2-63 1 23 2-49 1-16 2-61 1 46 2-17 1 23 2-34 1 27 2-45 1 24 2-67 1 71 2-44 1-7 2 6 1-8 2-33 1 66 2-32 1 13 2-53 1 9 2-22 1 56 2-36 1 27 2-10 1 18 1 13 2 40 1 8 2-3 1-12 2 40 1-108 2 107 1-40 2 27 1-23 2 24 1-13 2-13 1-19 2 36 1-33 2 58 1-15 2 24 1-5 2 22 1-44 2 49 1-68 2 125 1-60 2 11 1-37 2 52 1-47 2 56 1-37 2 44 1 13 2 17 1-14 2 34 1-19 2-7 1 7 1 59 2-66 1 55 2-28 1 28 2-9 1 10 2-36 1 63 2-40 1-21 2 7 1 14 2-47 1 95 2-80 1 67 2-78 1 53 2-13 1 1 2-12 1 53 2-17 1-44 2 16 1 68 2-42 1 34 2-45 1 22 2-40 1 46 2 11 1-26 2 24 1 17 2-3 1-15 2-43 1 52 2-29 1 41 1-33 2 57 1-69 2 20 1-64 2 45 1-38 2 38 1-14 2-49 1-1 2 33 1-40 2 13 1 28 2 17 1-52 2 65 1-47 2 21 1-2 2-15 1 14 2 12 1-27 2 12 1-3 2-14 1 47 2-30 1-6 2 18 1-42 2 33 1 4 2-23 1-17 2 9 1 28 2 53 1-103 1-15 2 50 1-2 2 7 1 5 2-44 1 42 2-33 1 63 2-51 1-1 2-18 1 9 2-9 1 26 2-35 1 18 2 15 1 12 2-28 1 41 2 12 1-18 2 1 1-10 2-15 1 16 2 12 1-31 2-62 1 81 2-70 1 62 2-62 1 67 2-28 1 36 2-39 1 44 2-78 1 55 2-20 1 69 1-43 2 24 1-36 2 84 1-109 2 92 1-31 2 92 1-73 2 23 1-58 2 86 1-41 2 20 1 4 2 37 1 9 2-62 1-9 2 38 1-57 2-4 1-9 2 22 1 12 2 36 1-25 2 61 1-136 2 55 1-48 2 58 1 0 2 27 1-29 2-2 1-15 2 75 1-80 2 41 1-19 1 7 2-21 1 45 2-111 1 52 2-67 1 65 2-21 1 23 2-26 1 38 2-56 1 24 2 6 1-2 2-37 1 71 2-32 1-32 2 7 1 28 2-20 1 51 2-59 1 61 2-79 1 28 2-14 1 101 2-37 1 63 2-53 1-5 2-30 1 36 2-88 1 61 2-65 1 50 2 12 1-10 2-31 1 44 1-46 2 3 1 19 2-49 1 44 2-4 1-65 2 90 1-18 2-15 1 3 2 6 1-31 2 84 1-49 2 19 1-19 2 1 1-19 2-31 1 27 2 24 1 4 2 3 1-36 2 72 1-63 2 38 1-17 2 50 1-27 2 43 1-56 2 44 1 5 2 22 1-90 2 97 1 20 2 6 1-61 1 57 2-18 1 26 2-20 1 25 2-71 1 99 2-41 1 15 2-5 1 6 2-11 1 27 2-44 1 42 2-52 1 76 2-37 1 61 2-27 1 15 2-19 1-11 2-10 1 3 2-34 1 59 2-96 1 58 2 16 1-5 2-31 1-7 2 4 1-17 2-19 1 28 2-35 1 21 2-63 1 59 1-55 2 35 1-26 2 8 1-2 2-8 1 3 2 21 1 10 2 11 1-94 2 53 1-2 2 17 1-70 2 71 1-37 2-6 1-8 2 12 1-10 2 4 1-63 2 55 1-19 2 31 1-47 2 36 1-11 2 63 1-81 2 44 1-17 2 31 1-25 2 33 1-72 2 30 1-9 2 46 1-60 2-36 1 14 1 9 2-49 1 57 2 26 1-34 2-15 1-22 2 1 1 43 2 0 1 22 2-90 1 71 2-48 1-8 2 1 1 54 2-72 1 31 2-43 1 71 2-54 1 13 2-19 1-24 2 32 1 21 2-3 1-57 2 48 1 23 2-27 1 28 2-48 1 18 2-67 1 46 2 12 1 6 2-30 1 17 1-13 2 14 1-11 2-9 1-23 2 69 1-78 2 67 1-57 2 37 1-30 2 54 1-85 2 96 1-82 2 55 1-33 2-33 1-15 2 48 1-38 2 18 1 11 2 21 1-32 2 35 1-68 2 23 1-18 2 11 1-6 2 46 1-74 2 35 1-17 2 17 1 10 2-14 1-13 2-1 1 1 2 35 1-29 1 32 2-35 1 30 2-47 1 42 2-70 1 35 2 11 1 39 2-48 1-14 2-13 1 62 2-11 1 14 2-42 1 20 2-60 1 62 2-1 1-6 2-52 1 59 2-82 1 74 2-35 1 76 2-12 1-12 2-41 1 30 2-7 1 13 2 13 1 14 2-64 1 13 2 53 1 9 2 24 1-15 1-46 2 32 1-15 2 19 1-13 2 33 1-147 2 101 1-11 2 23 1-33 2-10 1 3 2-14 1 5 2 7 1-34 2 65 1-42 2 77 1-62 2-27 1 31 2 48 1-78 2 44 1-82 2 63 1-36 2 63 1-53 2 53 1-63 2 20 1 24 2-27 1-22 2 56 1-25 2 1 1-33 1 33 2 18 1 17 2-78 1 22 2-25 1 49 2-5 1 22 2-13 1 19 2 4 1 2 2-15 1-10 2-34 1 23 2 5 1 64 2-107 1 69 2-53 1 35 2 14 1 34 2-86 1 99 2-68 1 12 2 32 1-13 2-8 1 21 2-4 1 4 2-1 1 38 2-68 1 75 2 6 1-37 2-8 1 3 1-48 2 97 1-27 2 10 1-30 2 28 1-32 2 20 1 3 2-5 1 23 2-21 1-20 2 21 1 20 2 43 1-70 2 40 1-9 2 44 1-64 2 66 1-31 2 25 1-37 2 45 1-31 2 51 1 17 2 27 1-73 2 34 1-14 2 56 1-101 2 66 1 18 2-27 1-11 2 28 1-19 1 29 2-14 1 12 2 5 1 2 2-47 1 58 2-24 1 7 2-16 1 24 2-71 1 49 2-31 1 44 2-41 1 44 2-69 1 80 2-45 1 13 2-1 1 1 2-16 1 24 2 11 1 10 2-25 1-7 2-8 1-17 2-16 1 37 2-34 1-13 2-14 1-29 2-21 1 7 2-68 1-18 2 3 1 21 1-10 2 1 1 34 2 46 1-29 2 29 1-22 2 55 1-93 2 52 1-31 2 47 1-56 2 13 1-8 2 38 1-33 2 32 1-9 2 32 1-20 2-9 1-52 2 73 1-51 2 17 1-41 2 52 1-60 2 88 1-29 2 88 1-69 2 3 1-28 2 36 1-36 2 8 1-27 2 70 1 14 1-24 2-56 1 70 2-55 1 38 2-65 1 47 2-18 1 75 2-18 1-29 2-40 1 25 2 18 1-8 2-16 1-14 2-21 1 45 2-36 1-27 2-54 1 95 2-60 1 1 2 37 1 56 2-62 1 68 2-55 1 40 2-48 1 89 2-74 1 50 2-89 1 42 2-27 1 31 2-17 1 31 1-36 2-27 1-6 2 62 1-42 2 25 1-27 2 45 1-64 2 15 1-39 2 35 1 2 2-1 1-31 2-21 1 91 2-44 1-50 2 42 1-59 2 54 1-77 2 60 1 3 2 51 1-49 2 27 1 22 2 11 1-58 2 36 1-57 2 88 1-39 2-1 1 48 2 18 1-15 2-33 1-8 2 35 1 6 1 20 2-22 1 6 2 2 1 13 2-24 1 35 2 0 1 25 2-32 1 59 2-87 1 56 2-40 1 110 2-90 1 27 2-27 1-46 2-1 1 40 2-1 1-34 2 37 1 39 2-17 1 41 2-67 1 15 2-19 1 104 2-78 1 36 2-29 1 68 2-77 1 55 2-32 1 15 2-16 1 79 1-120 2 109 1-92 2 59 1-40 2 27 1-46 2 70 1-55 2 9 1-30 2 121 1-134 2 78 1-59 2 39 1-26 2 51 1-47 2 50 1-30 2-5 1-18 2 59 1-63 2 25 1 3 2 10 1-28 2 35 1-60 2 72 1-32 2 64 1-96 2 55 1-57 2 38 1-47 2 35 1-46 2 62 1-84 1 86 2-20 1 2 2 40 1 10 2-28 1 52 2-81 1 70 2-43 1-17 2-19 1 28 2-28 1 7 2-14 1 9 2-13 1 21 2 0 1 15 2-31 1 41 2-6 1 8 2 1 1-22 2-28 1 63 2-15 1 28 2-41 1 51 2-82 1 55 2-76 1 89 2-43 1 58 2-54 1 13 1-15 2 24 1-56 2 52 1-33 2 0 1-5 2 13 1-45 2 75 1-44 2 52 1-9 2-37 1-2 2 36 1-60 2 52 1-30 2-23 1-8 2 126 1-100 2 59 1-41 2 40 1-49 2 20 1-62 2 40 1-23 2 38 1-39 2 71 1-80 2 17 1-49 2 99 1-12 2 27 1-69 1 68 2-18 1-1 2-8 1 17 2 10 1 2 2-7 1 8 2-49 1 45 2-39 1 62 2-62 1 15 2-46 1 3 2-27 1 41 2-7 1 39 2-49 1 81 2-61 1 38 2-38 1 34 2-5 1 11 2-31 1 29 2-20 1 63 2-46 1-3 2 51 1 2 2-29 1 31 2-17 1 31 2 4 1-17 1-7 2 5 1-35 2 43 1-9 2 48 1-42 2 11 1-38 2 24 1 26 2-43 1 48 2-19 1-2 2 54 1-31 2 60 1-23 2-2 1-26 2 19 1-16 2 20 1 11 2 10 1-45 2-4 1-11 2 36 1 21 2-14 1-21 2 43 1-43 2 0 1 21 2-11 1 48 1-27"/>
<path class="s" stroke="#328c06" d="M82 941l2 2 1-50 2 47 1 1 2 5 1-10 2-10 1 14 2 18 1-64 1 56 2-26 1 6 2-14 1 40 2-20 1 37 2 23 1-33 2 13 1 34 2-29 1 36 2-7 1 36 2-75 1 42 2-22 1-6 2 22 1 27 2-19 1 1 2 3 1 3 2-28 1 50 2-27 1 24 2-26 1 14 2 1 1-42 2 47 1 1 2-46 1 101 2-58 1 25 2-58 1 74 1-23 2 6 1-30 2 61 1-17 2 45 1-33 2-2 1-19 2 18 1 10 2 13 1-29 2 33 1-64 2 57 1-7 2-19 1-4 2 24 1-33 2 41 1 3 2 11 1-21 2 35 1 3 2 24 1-78 2 58 1-15 2 12 1-18 2-2 1 11 2 4 1-16 2 41 1-51 2 48 1-36 1 33 2-58 1 38 2-66 1 41 2-3 1 36 2-28 1 22 2-54 1 19 2-7 1 29 2-20 1-29 2-17 1-3 2 13 1 30 2-84 1 35 2-13 1 22 2-23 1 38 2-55 1 62 2-58 1 15 2-18 1 4 2-21 1 14 2-13 1 1 2 24 1-13 2-36 1 14 2-51 1 16 2-43 1 89 1-66 2 76 1-44 2 14 1-19 2 51 1-56 2 17 1-17 2 20 1-29 2 26 1 8 2 9 1-19 2 32 1-58 2 39 1-23 2 33 1-21 2 16 1 1 2 19 1-12 2 21 1-29 2 30 1-20 2 66 1-82 2 58 1-62 2 29 1 5 2 1 1-32 2 11 1-30 2 38 1-7 1 22 2-2 1-10 2-26 1 27 2 7 1 5 2-16 1 7 2-10 1 70 2-51 1 2 2-49 1 49 2 2 1-39 2-1 1 41 2-49 1 34 2-15 1 21 2-42 1 36 2-35 1 62 2-40 1 64 2-35 1 2 2-17 1-3 2-54 1 37 2-28 1-14 2 8 1 45 2-26 1-41 2 19 1 0 1-43 2 80 1-18 2 4 1-35 2 11 1-15 2-17 1 6 2-3 1-4 2-1 1-18 2 54 1-11 2 15 1-44 2-8 1-28 2 35 1 27 2-32 1 8 2 12 1-73 2 57 1-22 2 44 1-46 2 43 1-66 2 7 1-9 2 62 1-28 2 59 1-99 2 28 1-9 2 7 1 8 1 0 2-26 1 60 2-114 1 107 2-50 1 27 2 3 1-22 2-40 1 0 2-43 1 67 2-66 1 62 2-41 1 8 2-25 1 23 2-2 1 23 2-8 1 19 2-4 1 33 2-43 1 24 2 15 1-42 2 57 1-29 2-8 1 9 2-39 1 62 2-16 1 9 2 3 1-15 2-10 1 38 2-25 1 26 1-32 2 87 1-82 2 41 1-38 2 70 1-27 2-32 1-2 2 2 1-20 2 49 1-47 2 50 1-27 2 23 1-52 2 16 1 6 2-40 1 0 2 55 1-47 2 65 1-98 2 61 1-18 2 8 1-18 2-4 1-6 2 28 1-91 2 74 1-19 2 12 1-23 2 19 1-41 2 28 1 6 1 22 2-63 1 62 2-57 1 22 2-26 1 46 2-31 1 67 2-36 1 46 2-50 1 36 2 42 1-38 2 0 1 48 2-44 1 12 2 6 1 3 2-5 1 38 2-42 1 37 2-83 1 95 2-64 1 14 2 16 1 6 2-17 1-24 2 21 1 37 2 2 1-22 2-32 1 16 2-61 1 47 1 1 2 13 1-21 2-37 1 14 2 55 1-65 2 74 1-6 2-29 1-2 2-26 1 7 2 47 1-40 2 6 1-12 2 42 1-24 2 4 1 15 2-33 1-16 2 38 1 0 2 55 1-37 2 20 1-36 2-5 1-1 2 41 1-49 2 19 1-27 2 16 1-44 2 21 1 26 2 2 1-28 2-13 1-34 1 50 2-21 1 1 2-40 1 20 2 12 1 39 2-76 1 25 2-37 1 41 2-46 1 39 2-33 1 50 2-35 1 37 2-17 1 8 2-2 1-5 2 42 1 49 2-40 1 28 2-42 1 20 2-34 1 46 2-55 1 77 2-71 1 52 2-24 1 49 2-82 1 71 2-14 1-2 2 26 1-5 1-12 2-2 1-41 2 40 1-18 2 21 1-59 2 21 1 5 2 19 1-39 2-20 1-6 2 19 1-20 2 7 1-6 2 22 1-46 2-1 1 31 2 19 1-47 2 15 1-7 2 7 1-2 2 55 1-80 2 28 1 64 2 3 1-46 2 11 1-25 2 71 1-55 2 86 1-85 2 9 1-19 2 71 1-32 1 35 2-45 1 80 2-73 1 88 2-77 1 40 2-30 1 44 2-6 1 31 2-48 1 80 2-39 1 40 2-17 1 3 2-38 1 17 2-19 1 66 2-39 1 36 2-16 1-22 2-12 1 2 2-19 1 17 2-18 1 56 2-57 1 31 2-39 1 28 2-49 1 30 2-34 1 44 2-86 1 78 1-54 2 56 1-62 2 33 1-55 2 44 1 6 2 33 1-37 2 33 1-43 2 62 1-34 2 14 1-3 2 24 1-19 2 47 1-1 2 22 1-93 2 75 1-38 2 12 1-42 2 43 1-42 2 56 1-10 2-7 1 1 2-21 1 5 2 81 1-52 2 19 1-3 2 3 1-29 2 40 1-52 1 75 2-22 1 15 2-10 1 3 2-18 1 27 2-19 1 20 2 6 1 1 2-101 1 116 2-59 1 47 2-44 1 25 2-11 1 21 2-50 1 12 2-34 1 54 2-56 1 45 2-9 1-8 2-9 1 12 2 7 1-11 2-6 1 49 2-27 1 25 2-14 1 19 2-7 1 18 2 3 1 37 2-101 1 78 1-75 2 63 1-32 2 75 1-60 2 68 1-46 2 37 1-51 2 55 1-68 2 42 1-32 2 26 1-21 2 57 1-31 2-23 1-1 2 11 1-5 2-20 1 0 2 17 1-30 2-10 1-8 2 7 1-20 2 24 1-19 2 1 1-32 2 24 1-38 2-17 1 26 2-15 1 44 2-16 1-25 1 6 2-19 1 22 2 1 1-24 2-16 1 49 2-65 1 85 2-19 1 1 2-38 1 51 2-20 1 25 2-25 1 9 2-34 1 79 2-101 1 100 2-54 1 70 2-49 1 19 2-22 1 61 2-62 1 69 2-73 1-1 2 50 1 28 2-61 1 37 2-18 1 24 2-49 1 35 2 0 1-2 2 27 1-24 1-18 2 21 1 12 2-20 1-24 2-3 1 20 2-5 1 9 2-9 1-18 2 34 1 3 2-22 1-6 2 38 1-22 2 11 1-56 2 65 1-11 2-29 1 27 2 1 1-18 2 59 1-58 2 59 1-73 2 74 1-40 2 9 1-33 2 4 1 9 2-23 1-14 2 40 1 0 2 8 1-26 1 31 2-71 1 100 2 1 1-26 2-27 1 31 2-19 1 21 2-6 1 12 2-50 1 52 2-49 1 66 2-61 1 49 2-100 1 75 2-37 1 12 2 6 1-4 2 24 1-22 2 17 1 67 2-57 1 16 2-22 1 54 2-32 1 42 2 6 1 20 2-27 1 53 2-67 1 13 2-41 1 36 1-21 2 42 1-54 2 7 1 15 2 80 1-83 2 52 1-25 2 9 1-3 2-22 1 35 2 45 1-53 2-10 1 25 2 45 1-56 2 43 1-41 2 16 1-54 2 26 1 24 2-7 1-35 2 24 1-20 2-8 1 8 2 7 1-5 2 28 1-37 2 25 1 3 2 21 1-14 2 29 1-7 2 15 1-74 1 25 2 26 1 0 2 3 1-57 2 3 1 23 2-47 1-7 2 0 1 83 2-46 1 36 2-48 1-17 2 11 1 26 2-34 1 14 2-43 1 53 2-14 1 11 2-21 1 63 2-19 1-2 2 0 1-7 2-26 1 31 2 6 1 45 2-101 1 9 2 9 1-5 2-38 1 57 2-57 1 68 1-61 2 21 1-6 2 30 1-33 2-16 1-39 2 46 1-57 2 56 1-60 2 0 1-13 2-12 1-57 2 80 1-22 2 37 1-43 2-2 1 23 2-44 1 9 2 35 1-76 2 70 1-11 2-38 1-35 2 60 1-40 2 41 1-99 2 66 1-36 2 69 1-43 2-37 1-6 2 29 1-11 2 22 1 13 1 3 2-95 1 105 2-60 1 4 2 22 1 1 2-4 1 59 2-90 1 20 2-41 1 83 2-56 1 23 2-17 1 45 2-41 1 25 2 8 1 20 2-6 1-8 2-37 1 27 2-3 1 12 2-82 1 96 2-9 1 13 2 3 1-2 2 21 1 24 2-48 1 8 2 52 1-47 2-14 1 49 1-58 2 36 1 3 2-3 1 11 2 11 1-17 2 33 1-24 2 34 1 17 2-11 1-8 2 66 1-91 2 86 1-65 2 57 1-39 2-14 1 0 2 14 1-46 2 53 1-45 2 32 1 11 2-65 1 25 2 37 1-41 2-42 1 18 2 33 1-42 2 57 1-31 2 39 1-10 2 42 1-7 1 28 2-30 1 19 2-24 1-1 2-35 1 33 2-28 1 20 2-15 1 52 2-56 1 21 2-41 1 78 2-89 1 56 2-15 1 21 2-30 1 33 2-18 1 29 2-33 1-15 2-9 1 3 2-25 1 6 2-6 1 30 2-65 1 44 2-19 1 10 2-7 1 25 2-27 1 0 2-67 1 48 2 17 1 0 1-4 2 43 1-17 2-1 1-8 2 8 1-11 2 44 1-25 2 5 1-20 2 28 1-34 2-1 1-19 2 13 1-36 2 12 1-9 2 2 1 25 2-18 1-33 2 2 1 15 2 17 1-4 2 20 1-44 2 26 1 10 2-26 1 9 2 43 1-34 2-28 1 12 2 16 1-11 1 6"/>
<path class="s" stroke="#c10c90" d="M82 689l2 17 1-56 2 49 1-41 2 1 1-12 2 66 1-53 2 22 1 5 1-20 2-5 1 27 2-70 1 18 2 1 1 25 2-23 1 4 2-24 1 31 2-51 1 73 2-21 1 57 2-92 1 16 2 64 1-63 2 22 1 25 2-19 1-7 2 15 1 61 2-63 1 55 2-79 1 104 2-16 1 35 2 4 1-23 2-12 1 26 2 13 1 34 2-47 1 43 2-55 1 41 1-19 2 58 1-62 2 43 1-42 2 28 1 9 2-32 1 35 2-27 1 3 2-23 1-85 2 95 1-86 2 98 1-24 2-27 1-10 2-28 1 2 2 58 1-36 2 50 1-66 2 31 1-12 2 64 1-82 2 64 1-80 2 76 1-19 2 37 1-38 2-17 1 9 2 31 1-42 2 77 1-24 1-15 2-10 1-30 2-8 1 66 2-34 1 5 2-65 1 39 2 23 1-17 2-5 1 21 2-5 1-28 2 13 1 57 2-79 1 30 2 1 1 31 2-29 1 17 2-2 1 33 2-16 1 23 2-5 1 54 2-39 1 9 2-33 1 17 2 2 1-15 2-7 1 60 2-77 1 67 2-46 1 7 2-69 1 70 1-36 2-5 1-26 2 40 1-35 2 32 1-19 2 23 1-15 2 22 1-70 2 114 1-66 2 18 1-59 2 112 1-69 2-10 1-12 2 98 1-120 2 94 1-50 2 33 1-109 2 127 1-51 2 51 1-92 2 18 1-22 2 36 1-52 2 33 1-26 2 4 1 1 2 15 1-30 2 22 1-14 1 23 2-34 1 11 2 44 1-14 2-44 1 26 2-42 1 34 2-33 1 18 2-64 1 39 2-60 1 70 2-55 1 21 2-61 1 35 2-46 1 22 2-9 1 35 2-11 1-6 2 47 1-31 2 10 1-4 2-18 1 15 2-16 1 68 2-70 1 31 2-9 1 45 2-63 1 55 2-54 1 7 2 4 1 47 1-69 2 34 1 13 2 24 1-48 2 9 1-15 2-45 1-2 2 53 1-28 2 6 1-48 2-16 1 38 2 25 1-90 2 83 1-50 2 108 1-125 2 58 1-37 2 47 1-67 2 75 1-58 2 2 1 38 2 46 1-103 2 27 1 19 2 35 1-42 2 1 1-8 2 44 1-107 2 85 1-64 1 53 2-8 1 49 2-78 1 41 2-59 1 60 2-104 1 47 2-35 1 35 2-37 1 75 2-77 1 3 2-12 1 21 2 14 1 0 2-38 1 2 2-15 1 43 2-35 1 62 2-88 1 50 2-44 1 42 2-20 1 97 2-108 1 70 2-90 1 53 2-56 1 67 2-61 1 53 2-39 1 48 2-27 1 60 1-24 2-40 1 17 2 5 1-35 2 16 1-8 2 27 1-46 2 24 1-3 2 59 1-116 2 83 1-94 2 76 1-31 2 51 1-64 2 61 1-90 2 119 1-94 2 64 1-33 2 24 1-52 2 73 1-32 2 88 1-57 2 83 1-65 2 65 1-59 2 46 1-37 2-16 1 21 2 37 1-52 1-26 2 34 1 49 2-104 1 98 2-27 1 25 2 5 1 43 2-53 1 23 2-16 1 17 2-26 1 28 2-79 1 79 2-59 1 22 2 62 1 20 2-55 1 82 2-83 1 31 2-4 1 7 2-18 1-37 2-3 1 37 2-55 1 20 2-20 1 51 2-36 1 30 2-105 1 101 2-33 1 28 1-38 2-42 1-24 2 66 1-21 2 11 1 7 2-32 1-50 2 124 1-71 2-2 1-5 2 17 1-32 2 36 1-12 2 59 1-23 2-9 1-9 2 74 1-103 2 84 1-33 2 7 1-47 2 63 1-18 2-23 1-22 2 79 1-33 2 32 1 2 2 7 1-54 2 76 1 18 2 47 1-115 2 42 1 2 1 20 2-28 1 1 2 33 1-3 2-22 1 61 2-22 1 11 2-63 1 40 2-50 1 58 2 9 1 60 2-73 1 27 2-30 1 51 2-57 1 82 2-97 1 46 2-61 1 71 2-60 1 33 2-68 1 100 2-41 1-28 2-48 1 90 2-73 1 65 2-72 1 25 2-41 1 50 2-84 1 97 1-110 2 30 1 29 2 29 1-39 2 20 1-2 2-21 1-35 2 22 1-30 2 33 1-37 2 21 1-104 2 61 1 18 2-21 1 16 2 41 1-26 2 23 1-74 2 51 1-5 2 55 1-85 2 10 1 4 2 10 1-56 2 40 1-10 2 21 1-18 2 42 1-41 2 38 1-6 2-14 1-23 2 24 1 10 1 5 2-1 1 60 2-114 1 57 2-17 1 71 2-88 1 38 2 43 1-21 2 1 1 14 2-6 1 12 2 37 1-33 2-52 1 83 2-81 1 92 2-66 1 27 2-45 1 47 2 8 1-27 2 14 1 75 2-67 1 14 2 1 1 16 2-52 1-7 2-33 1 45 2-15 1 112 2-90 1 6 1-3 2 57 1-63 2 6 1 0 2 21 1-11 2 19 1-64 2 23 1-49 2 61 1-1 2-27 1 2 2 67 1-71 2 26 1-34 2 22 1-41 2 83 1-83 2-2 1-51 2 65 1-15 2 55 1-72 2 34 1-93 2 52 1-35 2 27 1 9 2 32 1-106 2 109 1-62 2 36 1-17 1 62 2-91 1 52 2-44 1 18 2-30 1 58 2-75 1 42 2-45 1 103 2-83 1 22 2-28 1 60 2 1 1-24 2 13 1-24 2-18 1 84 2-120 1 59 2-30 1 91 2-62 1 26 2 29 1 30 2-61 1 16 2-27 1 18 2-60 1 80 2-53 1 28 2-56 1 78 2-87 1 52 2-61 1 64 1-23 2 80 1-133 2 130 1-108 2 67 1-105 2 62 1-43 2 43 1-10 2-7 1-41 2 85 1-88 2 60 1-45 2 77 1-22 2 4 1-72 2 85 1-32 2 23 1-33 2 8 1-33 2 68 1-81 2 53 1-28 2 43 1-10 2 11 1-32 2 62 1-52 2 79 1-91 2-32 1 27 1 58 2 24 1-3 2-42 1 66 2-46 1 14 2-28 1 20 2-32 1 20 2-13 1-10 2 2 1 49 2-57 1 54 2-78 1 51 2-60 1 28 2-64 1 10 2 29 1 39 2-101 1 49 2-15 1 29 2-91 1 60 2-38 1 25 2 20 1 17 2-40 1-4 2-17 1 24 2-20 1 101 2-17 1-23 1-42 2 78 1-20 2 3 1-23 2 36 1-69 2 35 1 24 2 35 1-56 2 74 1-45 2 51 1-68 2 44 1-49 2 109 1-69 2 36 1-26 2-21 1-24 2 81 1-98 2 83 1-3 2-6 1 8 2 10 1-11 2 46 1-9 2 14 1-47 2-43 1 33 2 121 1-70 2 2 1 4 1 6 2-20 1-10 2-3 1 90 2-58 1 19 2-65 1 39 2 33 1 7 2-13 1 43 2-27 1 30 2-58 1 47 2-30 1 25 2 4 1-9 2 10 1 80 2-101 1 78 2-42 1 12 2-28 1 45 2-30 1 24 2-79 1 41 2-102 1 85 2-15 1 9 2-84 1 57 2-36 1 15 1-61 2 49 1-42 2 37 1-67 2 55 1-11 2 22 1-22 2-26 1 12 2 25 1-33 2 60 1-74 2 56 1-34 2 56 1-38 2 51 1-84 2 170 1-147 2 43 1-2 2-26 1 6 2 61 1-25 2 22 1-34 2 65 1-37 2-22 1-5 2 119 1-115 2 69 1-34 2 55 1-30 2 2 1-27 1 48 2-79 1 11 2 10 1 23 2-45 1 50 2-17 1-4 2-78 1 81 2-71 1 48 2-23 1 4 2-75 1 20 2-17 1 28 2-37 1 78 2-25 1-41 2-21 1 72 2-15 1 22 2-55 1 0 2-24 1 26 2-17 1 0 2 30 1 42 2-39 1-1 2 0 1 68 2 10 1-23 1-6 2 75 1-18 2 28 1-67 2 66 1-76 2 115 1-110 2 52 1-5 2 8 1 34 2-65 1 22 2 28 1 13 2 0 1-36 2 31 1-43 2 16 1 51 2-3 1-19 2 26 1-29 2 27 1-61 2 39 1-57 2 45 1-9 2 46 1-43 2 38 1-18 2 15 1 9 2-7 1-65 2 86 1-50 1-11 2 28 1 5 2-33 1 78 2-106 1 32 2-30 1 26 2-49 1 127 2-72 1 41 2-22 1-1 2-8 1 35 2-104 1 54 2-29 1 50 2-103 1 54 2-10 1-10 2-26 1 57 2-60 1 105 2-81 1 44 2-97 1 30 2-9 1 53 2-45 1 89 2-62 1 57 2-20 1-16 1-41 2 32 1-30 2 82 1-28 2-24 1 63 2-44 1 20 2 6 1-72 2 84 1-103 2 52 1-17 2-17 1-2 2-32 1-43 2 50 1 53 2-12 1-60 2 86 1-43 2 31 1 9 2-20 1 34 2 30 1-42 2 9 1-62 2 22 1-40 2 15 1-10 2 39 1-29 2-5 1 6 1 90 2-55 1-9 2 14 1-12 2-22 1 40 2-21 1 47 2-37 1 13 2-42 1 32 2-64 1 82 2-58 1-6 2-11 1 66 2-25 1 11 2-5 1 44 2-50 1 55 2 23 1-33 2-52 1 7 2-31 1 37 2-27 1 54 2-96 1 87 2-34 1 48 2-84 1 94 2-53 1 16 2 13 1 75 1-89 2 49 1-5 2-1 1-33 2 58 1-43 2 52 1-82 2 95 1-44 2 8 1-11 2 94 1-66 2 44 1-7 2-9 1-21 2 23 1-23 2 0 1 9 2-22 1 3 2 33 1-52 2 30 1 1 2 29 1-28 2-37 1 31 2 1 1-35 2 18 1-18 2 19 1-20 1 3"/>
</g>
<path class="h" stroke="#2a2eec" d="M1778.48 1740.75h44.9"/>
<text class="t8" x="1841.20" y="1749.65">Venezuela</text>
<path class="h" stroke="#fa7c17" d="M1778.48 1774.73h44.9"/>
<text class="t8" x="1841.20" y="1783.63">Colombia</text>
<path class="h" stroke="#328c06" d="M1778.48 1808.71h44.9"/>
<text class="t8" x="1841.20" y="1817.61">Ecuador</text>
<path class="h" stroke="#c10c90" d="M1778.48 1842.69h44.9"/>
<text class="t8" x="1841.20" y="1851.59">Panama</text>
<text class="t10 m" x="1526.47" y="1694.80">East - Type B</text>
<text class="t8 e" x="1068.35" y="2294.64">700</text>
<text class="t8 e" x="1068.35" y="2184.46">800</text>
<text class="t8 e" x="1068.35" y="2074.28">900</text>
<text class="t8 e" x="1068.35" y="1964.10">1000</text>
<text class="t8 e" x="1068.35" y="1853.92">1100</text>
<text class="t8 e" x="1068.35" y="1743.74">1200</text>
<text class="t8" transform="translate(1103.77 2383.75) rotate(-45)">2022</text>
<text class="t8" transform="translate(1239.55 2383.75) rotate(-45)">2023</text>
<text class="t8" transform="translate(1375.34 2383.75) rotate(-45)">2024</text>
<text class="t8" transform="translate(1511.49 2383.75) rotate(-45)">2025</text>
<text class="t8" transform="translate(1647.28 2383.75) rotate(-45)">2026</text>
<text class="t8" transform="translate(1783.06 2383.75) rotate(-45)">2027</text>
<text class="t8" transform="translate(1918.84 2383.75) rotate(-45)">2028</text>
</g>
<g>
<rect x="2071.10" y="1710.70" width="895.85" height="608.85" fill="#eeeeee"/>
<path class="g" d="M2111.97 1710.70v608.85M2247.75 1710.70v608.85M2383.54 1710.70v608.85M2519.69 1710.70v608.85M2655.48 1710.70v608.85M2791.26 1710.70v608.85M2927.04 1710.70v608.85M2071.10 2269.57h895.85M2071.10 2176.14h895.85M2071.10 2082.72h895.85M2071.10 1989.29h895.85M2071.10 1895.87h895.85M2071.10 1802.44h895.85"/>
<g transform="translate(2071.10 1710.70) scale(.5)">
<path class="s" stroke="#2a2eec" d="M82 165l2 97 1-63 2 53 1-30 2 18 1-17 2-13 1 22 2 7 1-15 1-6 2-39 1 41 2-38 1-1 2 12 1 36 2-18 1-16 2-21 1 46 2-42 1 16 2 2 1-30 2 2 1 101 2-42 1 48 2-105 1 7 2 4 1 46 2-37 1 35 2-58 1 66 2-7 1 19 2-53 1 12 2 22 1 23 2-75 1 86 2-51 1 24 2 12 1 10 2-49 1 21 1-11 2 3 1 5 2 47 1-118 2 123 1-35 2-2 1-5 2-17 1-10 2 34 1 13 2 59 1-63 2 26 1-71 2 112 1-87 2-13 1-8 2 22 1-41 2 24 1-44 2 52 1-66 2 36 1-53 2 47 1-8 2 48 1-81 2 96 1-120 2 31 1 15 2 4 1-54 2 4 1 54 1 0 2-19 1 51 2-40 1 67 2-17 1-2 2-57 1 74 2-98 1 66 2-32 1 47 2-73 1 50 2-6 1 79 2-48 1 17 2-65 1 86 2-34 1-5 2-34 1 38 2-99 1 76 2 4 1 4 2 12 1-19 2-30 1 57 2-52 1 44 2-106 1 64 2-52 1 38 2-56 1 48 2-33 1 8 1-30 2 83 1-22 2 42 1-60 2 7 1-37 2 60 1-107 2 79 1-3 2-19 1-12 2 69 1-69 2 78 1-75 2 94 1-10 2-59 1 1 2 38 1-20 2 55 1-43 2 19 1-26 2-29 1 45 2 1 1-52 2-7 1 19 2 43 1-34 2 0 1-4 2 19 1-33 2 23 1 11 1-8 2-36 1 42 2-88 1 56 2-25 1 68 2-45 1 45 2-27 1 32 2-65 1 52 2 21 1-41 2-24 1 60 2-4 1-2 2-19 1 36 2-38 1 50 2-28 1 41 2-16 1-49 2 9 1 7 2-15 1 79 2-47 1-6 2-22 1 17 2-23 1 56 2-116 1 51 2-6 1 86 2-77 1 40 1-17 2 31 1-37 2 19 1-103 2 103 1-49 2 63 1 6 2-71 1 24 2-12 1-42 2 29 1-3 2 70 1-88 2 47 1-50 2 33 1 12 2 1 1-83 2 65 1 10 2 19 1-73 2 36 1-13 2 73 1-83 2 55 1-20 2 13 1-50 2 31 1 39 2-7 1-49 2 43 1-28 1 37 2-57 1 19 2 1 1 57 2-72 1 29 2-70 1 56 2-5 1 1 2-10 1-27 2 1 1 51 2-22 1-24 2 5 1 59 2-97 1 26 2-17 1 52 2 7 1 16 2-30 1 39 2-28 1 14 2-50 1 92 2-31 1 34 2-56 1 31 2-52 1 44 2 35 1 7 2-9 1 45 2-68 1 41 1-43 2-2 1 39 2 14 1-67 2 26 1 45 2-5 1-21 2 58 1-25 2-18 1-75 2 88 1 45 2 45 1-65 2 49 1-52 2 81 1-80 2 49 1-4 2-6 1 20 2-54 1 17 2 56 1-61 2 7 1 24 2-26 1 11 2 40 1-65 2 33 1 16 2 2 1-55 2 29 1-25 1 61 2-102 1 122 2-72 1 18 2-30 1 29 2 35 1 79 2-112 1 0 2 36 1 29 2-12 1-9 2 8 1 24 2-52 1 43 2-53 1 38 2-57 1 39 2 22 1-6 2-57 1 1 2-18 1 37 2-3 1 33 2-6 1 57 2-76 1 34 2-23 1 13 2-87 1 120 2-108 1 82 1-41 2 30 1-65 2 87 1-49 2-5 1 21 2 45 1-48 2 58 1-54 2 49 1-29 2 6 1-38 2 32 1-61 2 45 1 35 2-7 1-46 2 33 1-11 2-33 1-22 2 91 1-84 2 84 1-37 2 35 1 4 2 36 1-77 2 53 1 68 2-36 1-30 2 36 1-27 2 52 1-87 2 63 1-28 1 46 2-43 1 19 2-2 1 57 2-57 1 82 2-69 1 37 2-23 1 28 2-91 1 126 2-92 1 57 2 5 1 16 2-11 1 9 2-36 1-5 2 11 1 118 2-125 1 54 2-83 1 49 2 14 1 6 2-94 1 23 2 24 1 28 2-16 1 27 2-65 1 66 2-22 1 26 2-11 1 58 1-104 2 110 1-61 2 24 1-20 2-4 1 26 2 42 1-115 2 67 1-12 2 28 1-79 2 93 1-73 2 35 1-12 2 25 1-22 2 20 1 23 2 16 1-29 2 7 1-42 2 12 1 19 2 51 1-56 2 24 1-33 2 55 1-43 2 13 1-43 2 44 1-51 2 37 1-20 2 30 1-24 2 8 1 12 1 9 2-2 1 19 2-17 1 24 2-31 1 67 2-37 1-21 2-4 1 53 2-98 1 74 2-20 1-4 2-25 1 72 2-89 1 70 2-30 1 20 2 4 1-59 2-12 1 51 2-64 1 20 2-20 1 46 2-1 1 42 2-115 1 54 2-12 1 45 2-74 1 27 2-7 1 32 2-63 1-5 1 9 2 15 1 20 2 38 1-85 2 35 1-9 2 4 1-5 2 21 1-65 2 104 1-69 2 43 1-72 2 38 1-58 2 69 1 9 2 20 1-40 2 44 1-38 2 10 1-7 2 4 1-21 2 19 1-58 2 49 1-39 2 25 1-15 2 57 1-32 2-11 1-5 2 52 1-51 2-7 1 7 1 36 2-114 1 82 2-33 1 5 2 6 1 18 2-66 1 17 2 19 1-5 2-87 1 61 2 44 1 28 2-13 1-27 2-39 1 53 2-46 1 43 2-47 1 45 2-47 1 23 2 26 1-6 2-59 1 71 2-32 1 33 2-60 1 54 2-8 1 29 2-47 1 28 2-73 1 61 2-11 1 35 2-22 1 60 1-88 2 81 1-45 2 2 1-37 2 75 1-55 2 50 1-61 2 35 1-24 2 37 1-40 2 25 1-8 2 48 1-47 2 28 1-62 2 53 1-28 2 18 1-44 2 30 1-26 2 9 1-21 2 5 1 5 2-6 1-19 2 8 1-36 2 71 1-33 2 30 1 0 2-15 1-41 2 32 1-52 1 67 2-72 1 57 2-73 1 64 2 11 1 14 2-61 1 76 2-45 1 17 2-34 1 64 2-57 1 44 2-44 1 57 2-85 1 74 2-86 1 61 2-36 1-7 2-55 1 53 2-73 1 56 2-27 1 40 2-80 1 66 2-58 1 94 2-80 1 54 2-105 1 76 2-12 1 2 2 1 1 65 2-68 1 24 1-39 2 84 1-21 2-29 1-81 2 125 1-68 2 35 1-19 2 8 1-56 2 70 1-36 2 53 1-62 2 16 1-21 2 61 1-105 2 123 1-76 2-14 1-20 2 74 1-60 2 3 1 42 2-29 1 16 2 14 1-88 2 40 1 1 2 4 1 19 2 10 1-62 2 14 1 24 2-2 1-10 1 17 2-16 1 13 2 8 1 39 2-12 1-24 2-16 1 12 2-17 1 61 2-47 1 39 2-7 1-8 2-11 1 63 2-105 1 40 2-40 1 75 2-75 1 31 2-69 1 131 2-35 1-13 2-30 1 33 2-16 1 34 2-42 1 54 2-42 1 53 2-37 1 21 2 23 1-23 2-2 1-19 1-3 2 59 1-69 2 49 1-34 2 33 1-76 2 53 1-16 2 45 1-32 2 14 1-5 2 2 1-93 2 131 1-107 2 116 1-47 2-16 1-25 2 68 1 4 2 12 1-12 2-3 1-51 2 62 1-47 2 70 1-43 2-38 1 16 2-19 1 41 2 16 1-63 2 49 1-49 2 33 1-7 2 57 1-24 1 65 2-90 1 60 2-33 1 1 2-34 1 5 2-27 1 58 2-71 1 61 2 7 1-47 2 45 1-22 2-46 1 90 2-46 1 4 2-24 1 30 2 16 1-10 2 7 1 12 2 4 1 19 2-67 1 114 2-61 1 24 2-46 1 57 2 26 1-20 2 21 1 38 2-68 1 35 2-15 1 33 1-61 2 59 1-55 2 36 1-23 2 50 1-74 2 44 1 2 2 33 1 17 2-8 1-18 2 41 1-66 2 22 1-22 2 8 1-6 2 21 1-29 2 74 1-109 2 16 1 40 2-26 1 7 2 35 1-25 2-11 1 25 2 19 1-37 2 36 1-66 2 45 1-24 2 36 1-59 2 35 1-56 2-2 1 16 1-2 2-54 1 69 2-66 1 65 2-58 1 82 2-44 1 51 2-28 1 46 2-48 1 52 2-4 1 3 2-55 1 70 2-59 1 56 2-70 1 48 2-64 1 58 2-18 1 71 2-83 1 40 2-46 1 40 2-37 1 38 2-49 1 63 2-87 1 95 2-39 1 38 2-24 1 27 2-21 1-31 1-30 2 79 1-51 2 27 1-53 2 68 1-37 2 67 1-79 2 1 1 18 2-50 1 1 2 51 1-53 2 33 1-17 2 32 1 71 2-20 1-41 2 3 1-49 2 62 1-47 2 23 1 13 2 23 1-50 2 78 1-29 2 12 1-3 2-12 1-64 2 82 1-79 2 53 1-22 2 14 1 38 1-15 2 4 1-1 2-8 1 33 2 40 1 2 2-104 1 84 2-57 1-4 2 18 1 9 2 17 1 5 2-20 1 9 2-34 1 55 2 18 1 9 2-69 1 29 2 2 1 11 2-26 1 42 2-17 1 40 2-36 1 23 2-48 1 42 2-71 1 56 2-41 1 87 2-51 1 87 2-114 1 41 2-41 1 0 1 31 2 48 1-105 2 84 1-46 2 24 1-17 2 34 1-12 2 20 1-9 2 0 1 21 2 23 1-41 2 48 1-57 2 3 1-66 2 28 1-8 2 51 1-85 2 72 1-75 2 31 1-57 2 88 1-57 2 13 1-1 2 23 1-47 2 59 1-12 2-2 1-14 2 14 1-48 1-24"/>
<path class="s" stroke="#fa7c17" d="M82 683l2 70 1-53 2-26 1 25 2-22 1 42 2 1 1-18 2 8 1-24 1 11 2-12 1 54 2-49 1 28 2-59 1 68 2-63 1 83 2-88 1 63 2-24 1 22 2 0 1-9 2 11 1-16 2-2 1-17 2 31 1 40 2-27 1 4 2-69 1 70 2-60 1 43 2-62 1 46 2-5 1 26 2-2 1 65 2-105 1 42 2 5 1 24 2-60 1 51 2-48 1-1 1-15 2 56 1-47 2 14 1 28 2-11 1 2 2 4 1 25 2 30 1-43 2 40 1-41 2-23 1 25 2 2 1 45 2 35 1-60 2 38 1 14 2 32 1-84 2 31 1 5 2 13 1-15 2-15 1-14 2 9 1-28 2 34 1-16 2-12 1-24 2 56 1 9 2-5 1 6 2 3 1-30 1 11 2 14 1-6 2-23 1 43 2-78 1 26 2-27 1 2 2-3 1-9 2 20 1 26 2-66 1 64 2-34 1 17 2-41 1 81 2-35 1 0 2 31 1-26 2 22 1 35 2-23 1 11 2-55 1 49 2 19 1 8 2-21 1 15 2-28 1 8 2 2 1 11 2-50 1 38 2-20 1 41 2-48 1 21 1 5 2 23 1-28 2 52 1-55 2 44 1-62 2 60 1-62 2 49 1-58 2 57 1-21 2-22 1-38 2 69 1-50 2 6 1 8 2-19 1 24 2-24 1 19 2-27 1-37 2 2 1 3 2 26 1-61 2 40 1 25 2-18 1-2 2 20 1-69 2 90 1-11 2-5 1-28 2 43 1 7 1-15 2-23 1 40 2 21 1-6 2-6 1 5 2-56 1 71 2-28 1 27 2-11 1 16 2-5 1-48 2 42 1 15 2-11 1-7 2 18 1-9 2 5 1 40 2-37 1-4 2-12 1 56 2-25 1 11 2-26 1 29 2-33 1 2 2-10 1-8 2 2 1 48 2-67 1 40 2-24 1 40 2 9 1-24 1-70 2 89 1-57 2 53 1-14 2 6 1-75 2 65 1-63 2 47 1-52 2 23 1-12 2 5 1-38 2 43 1-75 2 88 1-64 2-3 1 22 2-6 1-8 2-8 1 29 2-13 1-2 2-16 1-34 2 31 1 16 2 18 1-10 2-4 1-5 2-16 1 14 2 22 1-6 2-17 1 24 1 0 2-69 1 36 2-28 1 53 2-15 1-21 2 2 1-11 2 1 1-39 2 29 1 21 2-44 1 32 2-9 1 21 2-50 1 81 2-63 1 87 2-43 1-22 2-17 1 17 2-6 1-22 2-10 1 64 2-64 1 74 2-21 1 4 2-62 1 59 2-14 1 13 2-35 1-3 2-53 1 31 2-7 1 41 1-58 2 6 1 17 2 30 1-36 2 7 1-41 2 33 1 30 2 10 1-2 2-14 1-4 2-13 1 4 2 51 1-18 2-1 1-46 2 74 1-44 2 17 1 2 2 62 1-37 2 3 1-2 2 70 1-57 2 73 1-90 2 19 1 14 2-15 1 25 2-5 1-31 2 42 1-28 2-41 1 34 1-9 2-33 1 17 2 42 1-53 2-28 1 48 2-35 1 34 2-28 1 31 2-63 1 74 2-55 1 67 2-43 1-22 2 19 1 12 2-21 1-17 2-13 1 101 2-98 1 34 2 39 1-23 2-53 1 57 2-4 1-11 2 8 1 11 2-42 1 18 2-9 1 26 2-67 1 89 2-34 1 38 1-19 2-20 1 11 2-9 1-41 2 28 1-9 2-1 1 5 2 23 1-47 2 27 1 5 2-11 1-8 2 34 1-47 2 19 1-13 2 27 1 8 2-78 1 35 2 4 1 21 2-50 1-23 2 19 1 14 2 9 1-49 2 60 1-63 2 101 1-94 2 71 1 22 2 28 1-77 2 35 1-64 2 37 1-39 1 46 2-64 1 49 2-34 1 55 2-19 1 24 2-23 1-30 2-25 1 48 2-55 1 20 2-17 1 51 2-21 1 5 2-59 1 71 2-96 1 83 2-8 1-30 2-20 1 75 2-70 1 22 2-2 1-20 2-19 1 23 2-18 1 6 2-12 1 29 2-39 1 38 2 8 1 2 2-20 1 24 1-32 2 47 1-13 2-8 1-26 2-1 1 0 2-6 1 14 2 12 1-26 2 22 1-1 2 43 1-63 2 33 1-60 2 43 1-43 2 12 1-9 2 17 1-12 2 47 1-34 2 29 1-30 2 50 1-34 2 25 1-26 2-25 1 26 2 49 1-83 2 75 1-30 2 32 1-36 2-21 1-5 2 16 1-22 1 48 2-11 1 1 2-17 1 59 2-75 1 48 2-85 1 105 2-38 1 0 2 4 1 50 2-79 1 34 2 4 1-10 2-55 1-5 2 67 1-1 2-18 1-11 2 24 1 1 2-12 1 68 2-39 1-31 2 5 1 17 2-23 1 36 2-46 1 52 2-12 1 20 2 4 1-34 2-3 1 22 1 9 2 23 1-47 2 33 1-111 2 105 1-61 2-15 1 53 2 0 1-15 2 66 1-65 2-12 1-75 2 129 1-105 2 66 1-30 2 51 1-28 2 63 1-82 2 52 1-24 2 11 1-33 2 42 1-43 2 41 1-77 2 28 1 11 2 6 1 47 2-9 1-44 2 51 1-38 2-14 1-52 1 102 2-78 1 61 2-11 1 19 2 2 1 15 2-59 1 47 2-11 1 8 2-53 1 60 2-18 1 10 2 20 1 38 2-87 1 3 2 35 1 32 2-62 1 44 2-28 1 45 2-26 1-1 2 13 1 51 2-62 1 6 2-18 1 93 2-73 1 51 2-61 1 49 2-37 1 33 2-17 1 117 2-130 1 42 1 6 2-22 1 17 2 5 1-58 2 35 1-10 2 43 1-56 2 51 1-32 2 21 1-42 2 18 1-9 2 20 1-35 2 52 1-19 2 48 1-57 2 48 1-73 2 46 1-42 2 56 1-45 2 17 1-27 2 38 1-62 2 37 1 19 2 17 1-17 2 20 1-43 2 29 1-55 2 104 1-107 1 67 2-68 1 24 2 30 1-2 2 18 1-34 2 1 1-7 2-48 1 58 2-49 1 22 2 12 1 29 2-66 1 51 2-45 1 21 2 1 1 17 2-84 1 95 2-88 1 55 2 1 1 23 2 2 1 39 2-66 1 24 2-31 1 21 2-10 1 41 2-44 1 94 2-112 1 61 2-39 1 30 2-31 1 6 1 10 2 56 1-72 2 35 1 10 2-16 1-20 2 20 1-44 2 69 1-12 2 5 1-53 2 25 1-18 2 15 1 11 2 23 1-62 2 62 1-51 2 43 1-25 2 19 1 8 2-23 1 5 2 13 1-26 2 11 1 6 2-11 1-16 2-19 1 9 2-23 1-15 2 59 1-74 2 92 1-26 1-2 2-23 1 13 2-24 1 3 2-27 1 79 2-77 1 23 2 6 1 20 2-28 1 64 2-69 1-11 2 29 1 42 2-44 1 39 2-28 1 62 2-70 1 36 2-13 1-14 2 7 1 8 2-37 1 84 2-95 1 69 2-29 1 23 2-43 1 38 2-16 1 18 2-5 1 23 2-73 1 79 1-69 2 67 1-59 2 42 1-65 2 46 1-31 2 11 1-16 2 15 1-21 2 59 1-65 2 100 1-57 2 30 1-74 2 60 1-34 2 21 1 9 2 29 1-54 2 50 1-52 2 4 1-42 2 74 1-56 2 38 1-15 2-22 1-20 2 23 1 31 2 10 1-19 2 42 1-30 2 46 1-56 2 40 1-22 1 20 2 9 1 24 2-37 1 28 2-24 1 26 2-33 1 4 2-7 1 68 2-27 1-32 2-18 1-2 2 9 1 40 2-20 1-31 2 25 1 1 2-95 1 67 2-5 1 12 2-16 1-3 2-52 1 30 2 0 1-9 2-7 1 15 2 52 1-17 2-85 1 85 2-37 1-5 2 8 1 17 1-10 2-6 1 8 2 56 1-54 2 17 1 20 2-27 1 22 2 11 1-2 2 29 1-57 2 46 1-73 2 30 1 32 2 1 1-6 2 34 1-37 2 44 1-81 2 82 1-32 2 35 1-71 2 58 1-8 2 20 1-68 2 23 1-36 2 42 1-13 2 43 1-20 2 2 1-58 2 82 1-45 2 48 1-59 1 56 2-16 1 23 2 20 1-3 2-43 1 36 2-2 1-31 2 4 1 51 2-89 1 58 2-14 1 25 2-1 1 48 2-86 1 35 2 0 1-9 2-9 1 10 2 12 1 21 2-55 1 24 2-72 1 34 2 1 1 64 2-31 1 19 2-36 1 38 2-9 1-12 2-40 1 99 2-38 1-6 1-21 2-20 1 3 2 53 1-35 2 37 1-45 2 46 1-55 2 14 1 51 2-23 1-31 2 3 1 54 2 7 1-14 2 10 1 37 2-61 1-24 2 54 1-42 2 57 1-68 2 70 1-47 2 38 1-23 2 18 1 37 2-20 1-48 2 69 1-89 2 64 1-19 2 11 1-34 2 38 1-31 1-8 2 3 1 10 2-64 1 73 2-35 1 38 2-52 1 8 2 3 1 23 2 0 1 2 2-3 1 16 2-42 1 57 2-56 1 29 2 10 1 50 2-50 1 40 2-28 1 20 2-49 1 38 2-19 1 27 2 25 1-18 2-24 1 68 2-53 1 35 2-35 1 22 2-32 1 77 2-15 1-35 2-34 1 35 1-21 2 4 1 8 2-6 1 11 2 1 1-46 2 27 1-61 2 88 1-39 2 15 1-79 2 65 1-37 2 23 1 0 2 32 1-25 2 24 1-36 2 73 1-29 2 6 1-50 2 52 1-21 2 30 1-48 2 13 1 1 2 7 1 6 2 53 1-62 2 30 1 30 2 38 1-42 1-9"/>
<path class="s" stroke="#328c06" d="M82 911l2 28 1-12 2 49 1-48 2 4 1 13 2 17 1-14 2 7 1-22 1 1 2-17 1 38 2-30 1 14 2-38 1 12 2-36 1 30 2-4 1 31 2-53 1 9 2-2 1 0 2 29 1 33 2-63 1 45 2-15 1 62 2-50 1 13 2 11 1 38 2-12 1 56 2-47 1 45 2-30 1 92 2-62 1 29 2-32 1 87 2-74 1 109 2-10 1 16 2-54 1 12 1-6 2-22 1-78 2 79 1-29 2-14 1-21 2 33 1-34 2-8 1-29 2 51 1-72 2 51 1-20 2 40 1-46 2-12 1 45 2 3 1-50 2 36 1-13 2-18 1-21 2 25 1-30 2 18 1-3 2 10 1 13 2-3 1 10 2-32 1-4 2 2 1-5 2 35 1-55 2 29 1-14 1-25 2-35 1 63 2-31 1 25 2-33 1 0 2-6 1 15 2-29 1-6 2-2 1 22 2-26 1 18 2 0 1-12 2-17 1 34 2-36 1 61 2-58 1 51 2-40 1 31 2 4 1-26 2 12 1 6 2-36 1 61 2-1 1-15 2-12 1 13 2-25 1 42 2-20 1-11 2-2 1-12 2 27 1 26 1 3 2 11 1-35 2 56 1-51 2 0 1 11 2 21 1-45 2 41 1-27 2 43 1-27 2-20 1 26 2 25 1-1 2-27 1-16 2 75 1-52 2 68 1-87 2 40 1 0 2 21 1-37 2 33 1 1 2 31 1 0 2-28 1-5 2 49 1-28 2 32 1-51 2 74 1-61 2 10 1-2 1 17 2-39 1 8 2-23 1-17 2 2 1-14 2-7 1 18 2-46 1 41 2-33 1-14 2-28 1 39 2-38 1-2 2-28 1 3 2-32 1 45 2-27 1 12 2-50 1 81 2-39 1-9 2-30 1 15 2-9 1 17 2 15 1 11 2-13 1 0 2 5 1 16 2-40 1 27 2-20 1 63 2-57 1 49 1-37 2 63 1-52 2 14 1-17 2 18 1-13 2 38 1-48 2 38 1-24 2-7 1 33 2-31 1-18 2 46 1-34 2 17 1-50 2 51 1-57 2 36 1-74 2 50 1-74 2 64 1-53 2 18 1-39 2 42 1 30 2 3 1-21 2-7 1-16 2 12 1-27 2 25 1-9 2 17 1-23 1-10 2-19 1 52 2-62 1 26 2-20 1 48 2-18 1 65 2-36 1-14 2-64 1 29 2 44 1-30 2 19 1 4 2-5 1 6 2-48 1 8 2 3 1-1 2 10 1-3 2-69 1 48 2 1 1 26 2-69 1 3 2-36 1 88 2-76 1 9 2 17 1 59 2-47 1 52 2-62 1 30 2-36 1 11 1 3 2 35 1 0 2 14 1-1 2 16 1-42 2 63 1-28 2-20 1 25 2 37 1-85 2 66 1-30 2 4 1 36 2 3 1 10 2 0 1-6 2 41 1-29 2 23 1-13 2 21 1-30 2 64 1-25 2 16 1-34 2 76 1-115 2 81 1 9 2 34 1-40 2 29 1-39 2 42 1-9 1 10 2-59 1 38 2-19 1 13 2 30 1-29 2-16 1 11 2-30 1 6 2 9 1-23 2 19 1 43 2-58 1 32 2-19 1 13 2-8 1 34 2-18 1 40 2-45 1 10 2-13 1 32 2-7 1-5 2-7 1 25 2-25 1 14 2-13 1 21 2-7 1 7 2 21 1-26 2 13 1 35 1-21 2-9 1-25 2 58 1-46 2 48 1-27 2 10 1-30 2 29 1-58 2 56 1-20 2-12 1 2 2 7 1-25 2 8 1-27 2 22 1-5 2 29 1-19 2 14 1-22 2 26 1-5 2-27 1-32 2 11 1 21 2 14 1-46 2 24 1-53 2 94 1-64 2 22 1-48 2 64 1-6 2 26 1-2 1 2 2-4 1 43 2-69 1 35 2-6 1 80 2-24 1 10 2-18 1 5 2-25 1 28 2-7 1 71 2-34 1-13 2 39 1-35 2-10 1 33 2-2 1 1 2-25 1 12 2 5 1 13 2-51 1 37 2-22 1 19 2-25 1 6 2 4 1 3 2-48 1 73 2-25 1 15 2-21 1 30 1-2 2 3 1-41 2 0 1-24 2 21 1 8 2 4 1-24 2 0 1-58 2 34 1-29 2 41 1-45 2 22 1-27 2 37 1-32 2 39 1-74 2 71 1-38 2 10 1-10 2 34 1 22 2-11 1-8 2 41 1-71 2 64 1-37 2 77 1-80 2 70 1-46 2 30 1-24 2-11 1 26 2 13 1 14 1-20 2 23 1 17 2-41 1 62 2-79 1 46 2-16 1 16 2-11 1 19 2-22 1 18 2-27 1 27 2-49 1 47 2-13 1-4 2 9 1-28 2-6 1 16 2-1 1 9 2-22 1 5 2 18 1-36 2 3 1 25 2 3 1 49 2-20 1 31 2-15 1 18 2-5 1 24 2-10 1 31 1-52 2 15 1-5 2-28 1-9 2 43 1-41 2 36 1-50 2 36 1-63 2 16 1 25 2 32 1-55 2 67 1-62 2 16 1-17 2 23 1-36 2 15 1-23 2 9 1 6 2 27 1-26 2 20 1-13 2 16 1-15 2-15 1-11 2 27 1-29 2 35 1-43 2 59 1-49 2 9 1 0 1-13 2 25 1 17 2-44 1 32 2-20 1 21 2-49 1 41 2-37 1 19 2-43 1 46 2-45 1 18 2-30 1 42 2-45 1 19 2-15 1 17 2-52 1 39 2-19 1 24 2-24 1 24 2-34 1 51 2-49 1 90 2-93 1 50 2-39 1 31 2-35 1 56 2-39 1 21 2-31 1 35 2-39 1 48 1-29 2-30 1 21 2 9 1-23 2-5 1-1 2 29 1 4 2-27 1-36 2 68 1-49 2 21 1 10 2 17 1-12 2-16 1-14 2-4 1-10 2 35 1-9 2 18 1-73 2 57 1-28 2 14 1 5 2 20 1-10 2 9 1-9 2-8 1 5 2 11 1-56 2 53 1-31 2 25 1-22 1 37 2-16 1 30 2-60 1 39 2 11 1-3 2-24 1 50 2-28 1-5 2 12 1 25 2-42 1 58 2-45 1 41 2-29 1 3 2-27 1 32 2 5 1-14 2-22 1 34 2-25 1 13 2-32 1 38 2-40 1 50 2-74 1 46 2-30 1 1 2 5 1-9 2 0 1 19 2-11 1 0 2-17 1 40 1-45 2 28 1-51 2 72 1-56 2-1 1 12 2-32 1 7 2 68 1-49 2-38 1 17 2 11 1-42 2 19 1 3 2-4 1 2 2 19 1-69 2 42 1 6 2 11 1-75 2 56 1-35 2 8 1-20 2 56 1-34 2 6 1-4 2 52 1-35 2-12 1 3 2 38 1-23 2 27 1-52 1 15 2-13 1 76 2-31 1 2 2-27 1 10 2-10 1 35 2-92 1 91 2-55 1 20 2-19 1 56 2-38 1-10 2 37 1 0 2-36 1 4 2 7 1 39 2-34 1 42 2-16 1 20 2-37 1 56 2-33 1 15 2-10 1 19 2-10 1 2 2-18 1 66 2-2 1 14 2-29 1 41 1-24 2 8 1 14 2 24 1-29 2 37 1 9 2 10 1-6 2 19 1-41 2 33 1 4 2 17 1-12 2 44 1-22 2 21 1-39 2 27 1-25 2-5 1 12 2-4 1-21 2 5 1-28 2 5 1 0 2 9 1-39 2 37 1-18 2 21 1-40 2 70 1-41 2 1 1-27 2 2 1-3 2 37 1-59 1 7 2-26 1 50 2-20 1 4 2 5 1-3 2-21 1 45 2-58 1 8 2-4 1-10 2-2 1-6 2-12 1 38 2-37 1 31 2-29 1 24 2-15 1 18 2-14 1 9 2-37 1 14 2-12 1 11 2-34 1 34 2-57 1 79 2-22 1 13 2-8 1 15 2-48 1 36 2-21 1 16 1-25 2 34 1-48 2 10 1 25 2-26 1-21 2 24 1-35 2 26 1-30 2-10 1 14 2 24 1-42 2 31 1-25 2 13 1-18 2-1 1-44 2 51 1-61 2 72 1-61 2 8 1-27 2 52 1-91 2 65 1-90 2 87 1-98 2 44 1-27 2 62 1-57 2 16 1-4 2-33 1-24 2 34 1 11 1-41 2 8 1 14 2-28 1 39 2-11 1 14 2-33 1 16 2-39 1 69 2-71 1 28 2-5 1 45 2-73 1 66 2-2 1-32 2-25 1 55 2-37 1 30 2-21 1 31 2-37 1-6 2 22 1 25 2-24 1 14 2 22 1-2 2 0 1 8 2-11 1 22 2-64 1-8 2 5 1 58 1-56 2 60 1-77 2 89 1-56 2-7 1-5 2 76 1-40 2 14 1 0 2 14 1-29 2 28 1-54 2 53 1-8 2 40 1-12 2-9 1-28 2 14 1 8 2 29 1 7 2 23 1-36 2 9 1 17 2 16 1 0 2 0 1-18 2 44 1-13 2 29 1-29 2 31 1-52 2 33 1-15 1 12 2-1 1 74 2-75 1 18 2 1 1 15 2 16 1-11 2-31 1 59 2-18 1-12 2-39 1 49 2-80 1 61 2-31 1 32 2-59 1 63 2-14 1 28 2-46 1 36 2-7 1 25 2 2 1 0 2-15 1 32 2-45 1 58 2-5 1 23 2 5 1 53 2-58 1 50 2-27 1 18 2-69 1 41 1-14 2 23 1-24 2 58 1-40 2-9 1-7 2 84 1-36 2 38 1-7 2-59 1-3 2 83 1-29 2-15 1 23 2 16 1-31 2 46 1 12 2 39 1-54 2 48 1-46 2 22 1 15 2-1 1-10 2 0 1-19 2 18 1-22 2 34 1-27 2 40 1-36 2-5 1-6 1-24"/>
<path class="s" stroke="#c10c90" d="M82 352l2 34 1-46 2 59 1-40 2 30 1-27 2 30 1-21 2 4 1-58 1 38 2-46 1 35 2 19 1 8 2-76 1 34 2-20 1 59 2-18 1-7 2-21 1 47 2-58 1 124 2-81 1 36 2-59 1 48 2-3 1 9 2-42 1 68 2-5 1-15 2-30 1 63 2-45 1 57 2-26 1 50 2-33 1 14 2-52 1 46 2-68 1 113 2-129 1 65 2-5 1 17 1-36 2 38 1-21 2 37 1-80 2 64 1-53 2 30 1-21 2 47 1-9 2-1 1 17 2-15 1-5 2 47 1-28 2 8 1 20 2 21 1 2 2-51 1-26 2 28 1-9 2 42 1-30 2-7 1-23 2 4 1-25 2 40 1-45 2 59 1-74 2 34 1 4 2 44 1 23 2 51 1-81 1 20 2-4 1-4 2-13 1-32 2 9 1 47 2-7 1 35 2-56 1 65 2-65 1 63 2-57 1 2 2-10 1-8 2-23 1 26 2 41 1-59 2-15 1 25 2-2 1-22 2 4 1 38 2-60 1 68 2-29 1 50 2-82 1 83 2-55 1 102 2-118 1 53 2-1 1 34 2-39 1 65 2-4 1 44 1-29 2-5 1-45 2 67 1-22 2-5 1-60 2 35 1-45 2 77 1-57 2 15 1 3 2 33 1 2 2-25 1-45 2 83 1-40 2 42 1-66 2 26 1-8 2 48 1-82 2 43 1-2 2 4 1-45 2 57 1-48 2 32 1-40 2 37 1-66 2 62 1-4 2 6 1 14 2-17 1 6 1-5 2-34 1 23 2-64 1 39 2-18 1 37 2-50 1 67 2-23 1 48 2-19 1 36 2-9 1 17 2-38 1 18 2-24 1 9 2-8 1 41 2-11 1 18 2-54 1 38 2-16 1 2 2-64 1 60 2-28 1 32 2-58 1 33 2 5 1-6 2 45 1-25 2 8 1 40 2-36 1 38 2-49 1 82 1-104 2 50 1-34 2 9 1-4 2-21 1-14 2 12 1-63 2 128 1-50 2 31 1-51 2 37 1-27 2 47 1-65 2 62 1-28 2 32 1-26 2-20 1 10 2 19 1-19 2 50 1-66 2 60 1-63 2 46 1-27 2 82 1-64 2 30 1-11 2 59 1-45 2 12 1-28 2 32 1-38 1 58 2-73 1 69 2-48 1-4 2-7 1 16 2-46 1 31 2 10 1-25 2 15 1-30 2-7 1-25 2-14 1 26 2-39 1-9 2-17 1 22 2-29 1 64 2-85 1 58 2-18 1 17 2-9 1 27 2-25 1-25 2 17 1-23 2 49 1-15 2-61 1-6 2-44 1 98 2-78 1 66 2-32 1 9 1-25 2 13 1 3 2-9 1 29 2-9 1-21 2 35 1-52 2 34 1-34 2 83 1-69 2 60 1-1 2-12 1-1 2 13 1-74 2 65 1-28 2 38 1-54 2-33 1 25 2 19 1-31 2-3 1-4 2 52 1-27 2-9 1 15 2-15 1 14 2 13 1-64 2 40 1-44 2 39 1-24 1 39 2-69 1 26 2-15 1 35 2-9 1 5 2-20 1 25 2-25 1 27 2-17 1 49 2-75 1 29 2 15 1-6 2 14 1 3 2-74 1 27 2-15 1 71 2-29 1 55 2-100 1 86 2-37 1 44 2-38 1 39 2-41 1 38 2-19 1 18 2 67 1-30 2-13 1 18 2-28 1-11 1 3 2 28 1 17 2 44 1-50 2-7 1 11 2 38 1 3 2-28 1-12 2 28 1-10 2-4 1-13 2 31 1 9 2-12 1 20 2-30 1 2 2 54 1-31 2 60 1-59 2 28 1 12 2 14 1-79 2 58 1-12 2 28 1-8 2 0 1-14 2-23 1 12 2 19 1-6 2 20 1-77 2 64 1-52 1 67 2-16 1-36 2 2 1 6 2-6 1 83 2-73 1 30 2-67 1 24 2-17 1 44 2 10 1 26 2-39 1 51 2-52 1-9 2 0 1 64 2-36 1 13 2-22 1 7 2-50 1 46 2-44 1 44 2-20 1 40 2-5 1-9 2 9 1-8 2-52 1 59 2 5 1 8 2-68 1 70 1-74 2 75 1-80 2 50 1-4 2-2 1-12 2 4 1-18 2 28 1-8 2 33 1-56 2 76 1-68 2 39 1-10 2 0 1-3 2 26 1 9 2 32 1-29 2-14 1 7 2 20 1-76 2 84 1-41 2 28 1-39 2 10 1-12 2 0 1-7 2 56 1-65 2 4 1 10 2 1 1 5 2 20 1 35 1-12 2-60 1 12 2 0 1 27 2-78 1 74 2-23 1 8 2-25 1 40 2-25 1 64 2-49 1 35 2-56 1 54 2-33 1 8 2-61 1 68 2-1 1 2 2-38 1 23 2-37 1 26 2-64 1 40 2-40 1 35 2-21 1 39 2-75 1 19 2 3 1 26 2-93 1 66 2-25 1 84 1-59 2 7 1-18 2 57 1-45 2 7 1 12 2 10 1 1 2 20 1-41 2-8 1 29 2 13 1-18 2 43 1-71 2 70 1-60 2 13 1-51 2 31 1-4 2 1 1-18 2 2 1-24 2 15 1-43 2 95 1-73 2 6 1 0 2 27 1-32 2 84 1-64 2-2 1 7 2 9 1-5 1-7 2-8 1 17 2-5 1 12 2-79 1 135 2-105 1 51 2 11 1 39 2-63 1-4 2 5 1 2 2 13 1 31 2-24 1-23 2 69 1 15 2-48 1 77 2-65 1 31 2-27 1 20 2-17 1 74 2-35 1 19 2-12 1 70 2-58 1 31 2 0 1 5 2-7 1 28 2 4 1 37 2-27 1 41 1-10 2-23 1-5 2 65 1-38 2 45 1-42 2 23 1-34 2 12 1 4 2 36 1-50 2 45 1-4 2-13 1 19 2 13 1-18 2 51 1-86 2-2 1 34 2-21 1-1 2 0 1-47 2 4 1-36 2 86 1-19 2 4 1-42 2 39 1-32 2 43 1-63 2 73 1-76 2 45 1-44 1 11 2-9 1 23 2-27 1-26 2-9 1 27 2-12 1 37 2-43 1 13 2 27 1-9 2-47 1 72 2-52 1 16 2 25 1-49 2-24 1 31 2-18 1 25 2-3 1-35 2 1 1 57 2-64 1 30 2-38 1 29 2 18 1 41 2-33 1 21 2-60 1 56 2-50 1 62 2-38 1-4 2-54 1 87 1-42 2-28 1 34 2-1 1-3 2 18 1-6 2-5 1-20 2-6 1-7 2 22 1-28 2 39 1-13 2-8 1 15 2 17 1-48 2 25 1-17 2 21 1-70 2 93 1-47 2 16 1-22 2 37 1-18 2 2 1-34 2 24 1-22 2 37 1 10 2 13 1-43 2 58 1-42 2-3 1-40 1 85 2-98 1 48 2-12 1 38 2-17 1 33 2-63 1 39 2-58 1 46 2-35 1 8 2-48 1 46 2-41 1 31 2-51 1 47 2-23 1 4 2-15 1 108 2-109 1 29 2-15 1-13 2 5 1 42 2-18 1-8 2-39 1 75 2-82 1 105 2-72 1 53 2-52 1 25 2-28 1 42 1-53 2 87 1-51 2-4 1-22 2 65 1-44 2 37 1-40 2 33 1-62 2 34 1-10 2-7 1-4 2 34 1-39 2 16 1-19 2-18 1 5 2 21 1 1 2 45 1-62 2 77 1-28 2-8 1 6 2 3 1 2 2 43 1-88 2 45 1-71 2 56 1 17 2 38 1-44 2 27 1-7 2 15 1-59 1 109 2-121 1 75 2-48 1-13 2 71 1-45 2-7 1 23 2-14 1 15 2 9 1-19 2 1 1 24 2-33 1 32 2-28 1 49 2-67 1 33 2-17 1 5 2-70 1 81 2-16 1 4 2-10 1 39 2-51 1 78 2-111 1 105 2-51 1 21 2-24 1 15 2-24 1 41 2-39 1 37 1-26 2 1 1-20 2 29 1-70 2 80 1-52 2 2 1-36 2 74 1-60 2 47 1-55 2 76 1-55 2 59 1-35 2 2 1 5 2 22 1-33 2 51 1 22 2-2 1-27 2 21 1-59 2 68 1-19 2 53 1-94 2 51 1-9 2 61 1-69 2 1 1-16 2 27 1-27 2 33 1-21 2 38 1-45 1 12 2 8 1-5 2-3 1 61 2-75 1 39 2-87 1 61 2 3 1 58 2-33 1-19 2-12 1 30 2-61 1 61 2-30 1 1 2 0 1 26 2-10 1 12 2-37 1 21 2 11 1 49 2-61 1 25 2-53 1 39 2-37 1 67 2-64 1 15 2-94 1 161 2-57 1 31 2-52 1-21 1 23 2-36 1 16 2 22 1-56 2-6 1-29 2 37 1 26 2-39 1 13 2 11 1 26 2 18 1-23 2 15 1-30 2 37 1-30 2 58 1-76 2 97 1-104 2 38 1-1 2 21 1 6 2-2 1-5 2 36 1-63 2 12 1-42 2 73 1-51 2 68 1-39 2 27 1-2 2 32 1-66 1 42 2 19 1 2 2-59 1 48 2-18 1 59 2-15 1 26 2-55 1 42 2-11 1 33 2-64 1 42 2-3 1-5 2 14 1-28 2 12 1-4 2-66 1 52 2-4 1 51 2-67 1 43 2-17 1 57 2-40 1-11 2-7 1 37 2-14 1 46 2-37 1 48 2-47 1 64 2-63 1 29 2-38 1 56 1-38 2 27 1-61 2 66 1-68 2 41 1-18 2 17 1-33 2 75 1-54 2 32 1-10 2 9 1-76 2 56 1-48 2 32 1 14 2-43 1 9 2 35 1-9 2 28 1-30 2 40 1-12 2 8 1-25 2 37 1-48 2 41 1-46 2 33 1-25 2-7 1-47 2 53 1 45 1-24"/>
</g>
<path class="h" stroke="#2a2eec" d="M2431.07 1740.75h44.9"/>
<text class="t8" x="2493.79" y="1749.65">Venezuela</text>
<path class="h" stroke="#fa7c17" d="M2431.07 1774.73h44.9"/>
<text class="t8" x="2493.79" y="1783.63">Colombia</text>
<path class="h" stroke="#328c06" d="M2431.07 1808.71h44.9"/>
<text class="t8" x="2493.79" y="1817.61">Ecuador</text>
<path class="h" stroke="#c10c90" d="M2431.07 1842.69h44.9"/>
<text class="t8" x="2493.79" y="1851.59">Panama</text>
<text class="t10 m" x="2519.03" y="1694.80">East - Type C</text>
<text class="t8 e" x="2060.90" y="2278.01">700</text>
<text class="t8 e" x="2060.90" y="2184.58">800</text>
<text class="t8 e" x="2060.90" y="2091.16">900</text>
<text class="t8 e" x="2060.90" y="1997.73">1000</text>
<text class="t8 e" x="2060.90" y="1904.31">1100</text>
<text class="t8 e" x="2060.90" y="1810.88">1200</text>
<text class="t8" transform="translate(2096.32 2383.75) rotate(-45)">2022</text>
<text class="t8" transform="translate(2232.10 2383.75) rotate(-45)">2023</text>
<text class="t8" transform="translate(2367.89 2383.75) rotate(-45)">2024</text>
<text class="t8" transform="translate(2504.04 2383.75) rotate(-45)">2025</text>
<text class="t8" transform="translate(2639.83 2383.75) rotate(-45)">2026</text>
<text class="t8" transform="translate(2775.61 2383.75) rotate(-45)">2027</text>
<text class="t8" transform="translate(2911.39 2383.75) rotate(-45)">2028</text>
</g>
<g>
<rect x="3063.65" y="1710.70" width="895.85" height="608.85" fill="#eeeeee"/>
<path class="g" d="M3104.52 1710.70v608.85M3240.30 1710.70v608.85M3376.09 1710.70v608.85M3512.24 1710.70v608.85M3648.03 1710.70v608.85M3783.81 1710.70v608.85M3919.59 1710.70v608.85M3063.65 2284.85h895.85M3063.65 2188.28h895.85M3063.65 2091.70h895.85M3063.65 1995.13h895.85M3063.65 1898.55h895.85M3063.65 1801.98h895.85"/>
<g transform="translate(3063.65 1710.70) scale(.5)">
<path class="s" stroke="#2a2eec" d="M82 135l2 54 1-96 2 63 1-9 2 40 1-50 2 28 1 9 2 7 1 8 1 15 2-88 1 56 2-3 1 14 2-10 1 24 2-56 1 114 2-95 1 56 2-11 1-29 2-20 1 86 2-71 1 59 2-17 1 8 2-10 1 22 2-41 1 37 2-26 1 89 2 18 1-51 2-43 1 41 2-71 1 59 2-63 1-11 2 3 1 29 2-31 1-18 2-2 1 40 2-25 1 24 1-7 2 59 1-64 2 40 1-33 2 60 1-55 2 7 1 37 2-4 1 6 2 40 1-65 2 152 1-84 2 76 1-81 2 46 1-26 2 41 1-69 2 26 1 15 2-5 1-34 2 36 1-38 2-28 1-4 2-1 1-53 2 76 1-67 2 101 1-105 2 87 1-35 2-25 1 29 2 62 1-72 1 116 2-82 1 15 2-37 1 126 2-64 1 67 2-43 1-12 2-15 1 57 2-42 1 41 2-14 1 35 2-47 1 20 2-62 1 32 2 21 1 23 2-75 1 55 2-39 1 120 2-107 1-20 2 24 1 41 2-32 1 38 2-40 1 47 2-15 1 13 2-61 1 42 2-2 1 12 2 17 1 2 2-17 1 43 1-37 2 46 1-3 2-54 1 10 2-16 1-4 2 59 1-49 2 44 1-58 2 39 1-5 2-3 1-32 2 64 1-38 2 1 1-13 2-45 1-9 2 41 1 2 2-20 1-44 2 62 1-73 2 34 1-31 2 28 1 9 2-3 1-109 2 189 1-83 2 36 1-49 2 44 1-84 2 61 1-69 1 91 2-83 1-4 2-53 1 97 2-92 1 80 2-17 1 41 2-27 1 31 2-88 1 43 2-66 1 55 2-49 1 31 2-13 1 72 2-60 1 13 2 37 1-44 2-50 1 69 2 9 1-12 2-48 1 52 2-41 1 37 2-98 1 32 2-23 1 19 2-65 1 32 2-26 1 42 2-51 1 67 2-65 1 38 1-7 2 49 1-47 2 49 1-22 2 12 1-8 2 18 1-64 2 57 1-3 2-42 1 12 2-35 1-4 2 78 1-39 2 3 1-45 2 78 1-92 2 101 1-72 2 76 1 3 2-53 1 0 2 44 1-32 2 60 1-4 2-34 1-46 2 12 1 29 2-57 1 16 2 71 1-7 2-2 1-43 1 21 2 41 1-12 2-38 1 59 2-58 1 23 2-51 1 41 2-12 1 68 2-45 1 2 2 22 1 25 2-140 1 125 2-67 1 48 2-15 1 42 2-73 1 3 2-43 1 61 2-26 1 29 2-72 1 100 2-57 1 32 2-87 1 114 2-40 1 26 2-8 1 8 2-61 1 67 2-19 1-63 2 2 1 50 1-137 2 98 1-54 2-13 1-10 2 67 1-67 2 57 1-46 2 51 1-69 2 53 1-58 2 26 1-36 2 35 1-6 2 23 1 16 2 68 1-48 2 84 1-75 2 10 1 14 2 14 1-51 2 28 1 7 2 11 1-19 2 63 1-59 2-2 1 4 2-22 1-46 2 48 1-12 2 83 1-89 1 59 2-6 1 13 2-8 1 25 2-10 1 62 2-61 1 80 2-45 1 110 2-72 1 53 2-48 1 66 2-82 1 57 2-58 1 59 2-13 1 22 2-50 1 32 2-5 1 62 2-58 1-13 2 31 1 37 2 13 1-57 2 12 1 70 2-93 1 118 2-61 1 78 2-57 1 83 2-123 1 91 1-21 2 78 1-102 2 23 1-19 2 12 1-36 2-17 1 44 2 38 1 6 2 53 1-114 2 71 1-41 2 45 1-91 2 63 1-61 2 66 1-21 2 22 1 7 2 8 1-27 2 25 1 15 2-14 1-47 2 24 1-48 2 60 1-61 2-4 1-26 2 66 1-47 2-7 1-18 2 22 1 2 2-22 1-51 1 50 2-51 1 56 2-14 1 35 2-44 1 4 2 16 1-28 2-14 1 23 2-15 1 32 2 9 1 58 2-60 1 67 2-29 1-6 2-28 1 54 2-14 1 39 2-95 1 59 2-17 1 46 2-53 1 40 2-36 1 64 2-32 1-27 2 1 1 6 2 23 1 23 2-57 1 119 2-17 1-49 1 29 2-12 1-13 2 67 1-57 2 43 1-27 2 0 1-36 2 51 1-23 2 39 1-64 2 50 1-55 2 72 1-30 2 3 1 11 2-1 1 20 2 38 1-52 2 33 1-61 2 23 1-12 2 4 1-17 2 47 1-64 2 59 1-37 2 58 1-71 2-5 1 28 2-12 1-39 2 18 1-41 2 25 1-39 1 31 2-3 1 22 2 8 1-42 2 22 1-10 2 20 1-38 2 31 1-22 2-12 1 9 2-9 1-2 2 16 1 20 2-21 1-10 2-40 1 99 2-59 1-9 2-36 1 79 2-89 1 36 2-13 1 11 2-32 1 57 2-48 1 51 2-87 1 14 2 3 1 93 2-59 1 47 2-91 1 124 1-36 2 15 1-20 2 46 1-26 2 4 1 14 2 74 1-59 2-3 1-57 2-3 1-32 2 35 1 2 2-8 1-55 2 41 1 30 2 14 1 16 2-2 1 53 2-41 1-34 2 19 1 19 2-12 1 6 2-4 1-1 2-41 1 9 2 12 1-21 2 61 1-51 2 20 1-5 2 33 1-69 1 64 2 22 1-35 2-35 1 14 2-3 1 11 2-3 1-21 2 0 1 62 2-71 1 5 2-43 1 48 2-64 1 39 2-54 1 50 2-14 1 39 2-34 1 92 2-85 1 28 2 9 1 32 2-39 1 35 2 1 1-15 2-22 1 58 2-61 1 28 2 18 1 2 2 2 1 24 2-20 1 69 2-5 1 16 1-48 2 24 1 2 2-8 1 12 2 31 1 14 2-30 1-12 2 18 1-20 2 19 1 21 2-49 1-33 2 33 1-27 2 70 1-100 2 98 1-76 2 72 1-62 2 77 1-45 2 12 1-6 2 7 1-21 2 29 1 9 2-17 1-49 2 61 1-98 2 102 1-59 2 41 1-45 2 38 1-87 1 94 2-80 1-10 2-18 1 52 2-41 1 43 2-15 1 12 2-61 1 46 2-8 1 35 2-12 1 20 2-58 1 6 2 8 1 61 2-69 1 27 2-48 1 6 2-4 1 50 2-58 1 71 2-36 1-20 2-35 1 57 2-74 1 102 2-117 1 21 2-29 1 7 2-38 1 61 2-87 1 56 2-6 1 20 1-4 2 13 1-64 2 52 1-46 2 1 1 39 2 14 1-11 2 1 1-39 2 1 1-76 2 105 1-106 2 40 1-50 2 89 1-10 2 19 1-8 2 28 1-16 2 80 1-59 2 51 1-27 2 19 1-19 2 57 1-55 2 82 1-52 2 83 1-66 2 61 1-61 2 41 1-25 2 65 1-73 1 83 2-28 1-2 2-41 1 33 2 0 1 22 2-68 1 12 2-31 1 50 2-102 1 110 2-54 1 15 2-97 1 73 2-82 1-5 2-28 1 38 2 9 1-7 2-12 1 18 2-41 1 43 2-46 1 82 2-54 1-1 2-6 1 32 2-39 1 48 2-59 1 99 2-44 1 12 2 15 1 55 1-38 2-12 1-37 2 121 1-78 2 35 1-27 2 13 1-18 2-3 1-21 2 55 1-18 2-3 1 27 2 17 1-19 2 54 1-79 2 47 1-25 2 16 1-23 2 43 1-68 2 65 1-64 2 52 1-3 2 24 1-83 2-2 1 42 2-5 1-17 2 51 1-59 2-19 1 30 2-6 1-49 2 44 1-116 1 107 2-25 1 58 2-35 1 16 2-16 1 58 2-101 1 115 2 6 1 12 2-29 1 8 2-17 1 47 2 9 1-44 2-7 1 88 2-56 1 6 2-18 1 65 2-60 1 17 2-44 1 84 2-86 1 29 2-27 1 82 2-66 1 10 2-13 1 73 2-116 1 64 2-48 1 8 2-25 1 3 1 13 2 67 1-68 2 56 1-12 2 7 1-14 2 12 1 5 2-17 1-23 2 53 1-74 2 37 1-15 2 20 1-67 2 92 1-46 2 86 1-63 2-36 1 5 2 25 1-43 2 63 1-85 2 63 1-21 2 8 1-7 2 1 1-18 2 15 1-6 2 5 1-8 2 68 1-85 2 8 1-12 2 40 1-46 1 28 2-50 1 53 2-43 1 15 2-58 1 77 2-81 1 7 2-27 1 30 2-6 1 37 2-26 1 43 2-6 1 70 2-34 1 51 2-34 1-13 2 6 1 39 2-36 1 55 2-42 1 34 2-12 1 25 2-21 1 31 2-28 1-5 2-43 1 76 2-21 1 12 2-31 1 43 2-15 1-26 1 30 2-20 1-21 2 73 1-61 2 13 1-3 2 20 1-14 2 117 1-126 2 15 1-63 2 52 1-59 2 27 1 3 2 71 1-30 2 29 1-34 2 3 1-20 2 68 1-7 2-31 1-15 2-40 1 14 2 44 1-64 2 39 1-52 2 56 1-29 2-7 1 10 2 0 1-65 2 87 1-64 1 21 2 24 1-17 2-21 1 112 2-54 1-19 2-50 1 28 2-13 1 60 2-86 1 65 2-65 1 90 2-10 1-15 2 14 1 17 2-17 1 95 2-66 1 12 2-4 1 4 2-51 1 50 2-40 1 32 2 15 1 18 2 0 1-3 2-49 1 78 2-55 1 48 2-66 1 120 2-95 1 48 2-42 1 46 1 18 2 31 1-51 2 10 1-70 2 106 1-93 2 74 1-43 2-19 1-53 2 93 1-43 2 36 1-24 2 47 1-58 2 12 1-37 2 84 1-31 2-8 1 45 2 20 1-73 2 66 1-30 2 13 1-10 2-7 1-26 2 72 1-11 2-37 1-29 2 63 1-27 2 0 1-45 1 50"/>
<path class="s" stroke="#fa7c17" d="M82 694l2 49 1-58 2 88 1-70 2 47 1-94 2 58 1-39 2 42 1-39 1 30 2-57 1 80 2-80 1 54 2-48 1 29 2-39 1 51 2-20 1 16 2-36 1 27 2-27 1 26 2-35 1 73 2-74 1 19 2 2 1-15 2-17 1 9 2-15 1 27 2-13 1 44 2-11 1-33 2 8 1 67 2-58 1 17 2-17 1 27 2-62 1 27 2-9 1 56 2-60 1 48 1-36 2 52 1-17 2-4 1-25 2-12 1 20 2 13 1-8 2-1 1-18 2 1 1-24 2 54 1-20 2 23 1-12 2 6 1-33 2 55 1-100 2 41 1-53 2 75 1-8 2 7 1-2 2 28 1 4 2 6 1-68 2 37 1-47 2 55 1-28 2 19 1-56 2 53 1-8 2 77 1-65 1 25 2-19 1 2 2-35 1 30 2-32 1 56 2-26 1 22 2-98 1 69 2-36 1 23 2-11 1 12 2-62 1 46 2-19 1 0 2-56 1 60 2-63 1 75 2-47 1 11 2-49 1 72 2-39 1 55 2-79 1 65 2-39 1 41 2-29 1-34 2 61 1 63 2-62 1 30 2-48 1 80 2-78 1 52 1-76 2 26 1-14 2 68 1-98 2 77 1-60 2 8 1 11 2 29 1-115 2 90 1-6 2-4 1-16 2 31 1-42 2 61 1-85 2 68 1-3 2 2 1-68 2 76 1-34 2 37 1 18 2 9 1-29 2 29 1-10 2 61 1-29 2-5 1-43 2 41 1-30 2 30 1-25 2 12 1-10 1 44 2-23 1 23 2-28 1-2 2 10 1-15 2 41 1-8 2-23 1 31 2-57 1 40 2-45 1 50 2-28 1 38 2-17 1-11 2-18 1 58 2-55 1 44 2-23 1 49 2-93 1 46 2-2 1 31 2-20 1 59 2-67 1 49 2-6 1 20 2-53 1 64 2-64 1 27 2-49 1 49 2-69 1-2 1-10 2-5 1 21 2-4 1-45 2 69 1-85 2 89 1-76 2 70 1-30 2-17 1-2 2 58 1-55 2 25 1-68 2 82 1-117 2 90 1-51 2 38 1-60 2 54 1 7 2-25 1-12 2 23 1-18 2 11 1 15 2 22 1-83 2 159 1-44 2-2 1-42 2 20 1 7 2 5 1 15 1 5 2-10 1 25 2-11 1 30 2-20 1 0 2 2 1 29 2-43 1 0 2-65 1 60 2 36 1-26 2 1 1 23 2-45 1 69 2-43 1 35 2-32 1 23 2-40 1 33 2 17 1-25 2-44 1 56 2-51 1 47 2-77 1 87 2-78 1 19 2-10 1 7 2-6 1 26 2-46 1 13 2-26 1 50 1-34 2 56 1-29 2 42 1-48 2 5 1-44 2 52 1-42 2 58 1-59 2 16 1 51 2-44 1-1 2 74 1-74 2 48 1-35 2 33 1-7 2 7 1-34 2 35 1-33 2 38 1-40 2 62 1-47 2 67 1-55 2 37 1-23 2-15 1-2 2 76 1-78 2 65 1-58 2 74 1-86 1 59 2-29 1 4 2-11 1 39 2-54 1 70 2-30 1-5 2-19 1 3 2 9 1 44 2-24 1 32 2-43 1 35 2-40 1 47 2-41 1 65 2-57 1 31 2-59 1 65 2-48 1 50 2-111 1 70 2-10 1 15 2-36 1 28 2-21 1 0 2-34 1 88 2-100 1 73 2-20 1-41 1-27 2 54 1-6 2 10 1-42 2 79 1-61 2 0 1-50 2 56 1-33 2 83 1-53 2 28 1-31 2 37 1-28 2 45 1-92 2 76 1-23 2 13 1-22 2 42 1-32 2 43 1-73 2-24 1 29 2 66 1-55 2 17 1-31 2 71 1-37 2 7 1-26 2 78 1-40 2-44 1-29 2 76 1-55 1 88 2-21 1-22 2 10 1 13 2-65 1 77 2 8 1-50 2 10 1 55 2-62 1 55 2-64 1 115 2-113 1 5 2 11 1 17 2 10 1 8 2-15 1-11 2 27 1 42 2-21 1 1 2 8 1 18 2-57 1 27 2-72 1 125 2-84 1 4 2-5 1 42 2-29 1 18 2-35 1 58 1-42 2 31 1-52 2 21 1-7 2 53 1-54 2-16 1-31 2 47 1 10 2 11 1-34 2 54 1-20 2-7 1 13 2-31 1 21 2-8 1-4 2-1 1-2 2 36 1-70 2 105 1-48 2 6 1-54 2 41 1-13 2 39 1-49 2 38 1-7 2 20 1-19 2-2 1-34 2 76 1-36 2 23 1-29 1-3 2-21 1 43 2-15 1 2 2-31 1 50 2-4 1 32 2-53 1 19 2-15 1 18 2 10 1 51 2-67 1 47 2-31 1 31 2-79 1 33 2-15 1 18 2-22 1 3 2-1 1 21 2-16 1 29 2-27 1 8 2-6 1 13 2-20 1 35 2-53 1 73 2-11 1 11 2-41 1 14 1-30 2 34 1-39 2 20 1 14 2 24 1-31 2 51 1-59 2 66 1-78 2 78 1-86 2 89 1-37 2-30 1-14 2 53 1-7 2 55 1-84 2 1 1 20 2 19 1-33 2 64 1-101 2 139 1-70 2 32 1-18 2 14 1-26 2-2 1 4 2 54 1-62 2 33 1-7 2 4 1 6 1 19 2-9 1 7 2-26 1 42 2-53 1 27 2-6 1-3 2-64 1 72 2-9 1 7 2 29 1 24 2-17 1 30 2-68 1 11 2 17 1 60 2-12 1-7 2-36 1 5 2-4 1 28 2 4 1 1 2-8 1 9 2-4 1-11 2-58 1 107 2-75 1 13 2 25 1 16 2-60 1 17 2 6 1 22 1-55 2 51 1-37 2 17 1-49 2 88 1-53 2 36 1-11 2 28 1-27 2-24 1-4 2-10 1 16 2 16 1-3 2 11 1 0 2-26 1-13 2 28 1-4 2 12 1-59 2 37 1 0 2 19 1 1 2-2 1-64 2 92 1-82 2 60 1-16 2 0 1-15 2 19 1-15 2 10 1-8 1 4 2-37 1 55 2-60 1 74 2-47 1-6 2-6 1 35 2-25 1 53 2-91 1 97 2-68 1 15 2 4 1-4 2 0 1 4 2-41 1 35 2-29 1 20 2-36 1 8 2 16 1 19 2 3 1 7 2-24 1 6 2-16 1 14 2-34 1 85 2-45 1 31 2-28 1 27 2-24 1 9 2-54 1 25 1-23 2 24 1-7 2 0 1 24 2-22 1 3 2-39 1 3 2 71 1-82 2-3 1 22 2 32 1-31 2 15 1 3 2-14 1-4 2 10 1-29 2 53 1-70 2 35 1 1 2 50 1-62 2 47 1-71 2 50 1-13 2 45 1-26 2 24 1-9 2 34 1-82 2 91 1-47 2-8 1-30 1 55 2-45 1 36 2-2 1 18 2-35 1-6 2 19 1 4 2-12 1 1 2-58 1 37 2-12 1 12 2-19 1 67 2-28 1 2 2-42 1 37 2-1 1 17 2 5 1 20 2-8 1 1 2-8 1 20 2-39 1 84 2-75 1 34 2-21 1 20 2-68 1 36 2-43 1 21 2-38 1 27 1-28 2 11 1-48 2 26 1-1 2-15 1 10 2 43 1-21 2 0 1-55 2 28 1-108 2 89 1-6 2 36 1-78 2 43 1-2 2 1 1-64 2 65 1-26 2 26 1-8 2 43 1-67 2 22 1-3 2-16 1 17 2 32 1-11 2 5 1 17 2 56 1-37 2 31 1-38 2 53 1-51 2 76 1-61 1 91 2-63 1 51 2-78 1 28 2-30 1 28 2-4 1 31 2-43 1 48 2-29 1 22 2-14 1-7 2-29 1 52 2-51 1 43 2 11 1-24 2-53 1 62 2-19 1 15 2-42 1 8 2-6 1 75 2-39 1-30 2-8 1 90 2-84 1 54 2-55 1 27 2 33 1 22 2-48 1 48 1-86 2 63 1-22 2-17 1-39 2 49 1-46 2 62 1-45 2 9 1 13 2-14 1-8 2 41 1-65 2 9 1-2 2 40 1-49 2 35 1-52 2 62 1-67 2 14 1 10 2 20 1 11 2-3 1-28 2 19 1-8 2 29 1-25 2 20 1-16 2 46 1-24 2 17 1-37 2 55 1-54 2 45 1-17 1 46 2-65 1 12 2 15 1 27 2-38 1 15 2-57 1 52 2 22 1-11 2-15 1 28 2-24 1 38 2-56 1 46 2-73 1 44 2-24 1 16 2 17 1-15 2 23 1 20 2-53 1 4 2 16 1 7 2-60 1 45 2-38 1 30 2-27 1 44 2-19 1 14 2-7 1-8 2 6 1 11 1-18 2 39 1-16 2 9 1-44 2 64 1-77 2 40 1-9 2 25 1-17 2 71 1-77 2 36 1 20 2-8 1-17 2 7 1 21 2 8 1-4 2 37 1-45 2 59 1-37 2 12 1 10 2-14 1-18 2 3 1-21 2 1 1 35 2-30 1-28 2 25 1 0 2 14 1-42 2 31 1-20 1 20 2-19 1-5 2-15 1 46 2-78 1 22 2 3 1 4 2 18 1 7 2-38 1 43 2-37 1 46 2-11 1 46 2-5 1 17 2-55 1 49 2-31 1-9 2-10 1 22 2-8 1-9 2-37 1 52 2-14 1 16 2-36 1 15 2-24 1 35 2-40 1 28 2-20 1 27 2-34 1 59 2-21 1 12 1-26 2 48 1-27 2-2 1-14 2 23 1-20 2-1 1-5 2 24 1 1 2-18 1 2 2 54 1-60 2 13 1-40 2 23 1 11 2 56 1-90 2 32 1-29 2 3 1-36 2 74 1-71 2 76 1-51 2 7 1-16 2 5 1-10 2 59 1-31 2 8 1-19 2-2 1 0 1-4"/>
<path class="s" stroke="#328c06" d="M82 981l2 2 1-16 2 25 1-46 2 21 1 0 2-3 1 4 2-22 1-14 1 26 2 6 1-2 2-18 1 21 2-44 1 38 2-32 1 46 2-28 1 6 2-31 1 33 2-9 1 14 2-67 1 47 2-35 1 18 2-32 1 29 2-21 1 16 2-23 1 26 2-49 1 16 2-33 1 87 2-56 1 28 2-37 1 32 2 1 1 10 2 18 1-34 2-13 1 69 2-58 1-13 1 15 2 11 1-31 2 19 1-28 2 18 1-2 2 25 1-9 2 38 1-12 2 15 1-50 2 28 1-10 2-15 1 8 2 32 1 14 2 25 1-100 2 81 1-12 2 35 1-65 2 73 1-64 2 61 1-37 2 41 1-44 2 31 1 5 2 13 1 8 2-21 1 11 2 13 1-12 2-16 1 17 1 5 2-13 1 49 2-48 1-12 2-21 1 34 2-39 1 70 2-43 1 5 2-10 1 14 2-49 1 35 2-63 1 88 2-76 1 52 2-40 1 54 2-62 1-8 2 29 1 30 2 2 1 28 2-70 1 24 2 8 1 12 2-59 1 59 2-40 1-3 2-16 1 43 2-13 1-7 2-4 1 18 2-66 1 75 1-35 2 42 1-27 2 5 1-29 2 57 1-96 2 131 1-54 2 25 1-51 2 5 1 29 2-1 1 7 2 21 1-14 2 47 1-28 2-5 1-44 2 14 1-10 2 50 1-59 2 6 1 10 2 21 1-11 2-20 1 12 2 2 1-47 2 68 1-65 2 63 1-61 2 53 1-17 2 21 1-31 1 32 2-62 1 57 2-44 1-28 2 2 1 76 2-75 1 49 2-38 1-8 2-42 1 57 2-34 1 35 2-52 1 14 2 14 1 9 2-25 1-2 2-7 1 4 2-4 1 22 2-15 1 46 2-26 1 6 2-31 1 2 2 11 1 18 2-22 1 41 2-82 1 17 2 30 1 17 2-40 1 39 2-30 1 32 1 13 2-7 1-12 2 18 1-27 2-7 1-10 2 33 1-14 2 28 1-77 2 4 1 60 2 1 1-75 2 51 1-41 2 41 1-58 2 68 1-81 2 63 1-18 2-8 1-35 2 52 1-55 2 86 1-39 2 2 1-62 2 43 1 2 2-24 1 9 2 11 1-25 2 13 1 26 2 0 1-22 1 14 2-5 1 49 2-31 1 8 2-3 1 11 2-32 1 15 2-32 1 89 2-75 1 15 2-7 1-12 2-18 1 27 2 6 1 2 2 15 1 21 2-17 1 15 2-36 1 35 2-15 1-8 2-15 1 1 2-12 1 1 2 7 1-6 2-35 1 68 2-36 1 24 2-9 1-16 2 12 1 65 2-47 1 13 1-68 2 63 1-28 2 31 1-30 2 33 1-37 2 63 1-33 2 39 1-48 2 29 1-25 2-16 1 12 2 10 1-7 2 11 1-41 2 20 1-46 2 40 1-15 2 45 1-54 2 46 1-45 2 17 1-7 2 24 1-16 2-13 1-9 2 42 1-44 2 38 1-36 2 11 1 41 2-21 1-1 1 25 2-9 1 38 2-40 1-16 2-13 1 32 2-21 1 49 2-77 1 59 2-36 1-9 2 0 1 22 2-7 1-10 2-36 1 57 2-20 1 2 2-34 1 39 2 3 1 61 2-69 1 21 2-14 1 4 2-80 1 113 2-45 1 2 2-3 1-8 2-2 1 30 2-29 1 4 2 6 1 19 1-59 2 72 1-53 2 26 1-42 2-7 1-3 2 39 1-39 2 57 1 6 2-48 1 2 2 17 1-30 2-3 1-50 2 64 1-12 2 43 1-21 2-47 1-10 2 47 1 4 2 3 1-39 2 20 1-55 2 38 1 27 2-20 1 13 2 33 1-31 2 25 1-31 2 45 1 1 2 8 1-37 2 1 1-13 1 6 2 20 1-6 2-5 1 52 2-61 1 35 2-4 1 23 2-45 1 82 2-36 1 16 2-48 1 18 2-31 1 36 2-3 1 2 2-37 1 68 2-76 1 51 2-29 1 23 2-27 1 10 2 3 1-8 2 12 1 4 2-33 1 25 2-6 1 48 2-2 1-30 2-22 1 49 2-29 1 32 1-50 2 34 1-40 2 35 1-19 2 25 1 28 2-38 1 19 2-6 1-40 2 44 1-1 2-36 1 3 2-20 1 16 2 9 1 5 2-16 1 10 2 18 1 1 2 21 1-53 2 54 1-65 2 57 1 9 2 2 1-35 2 45 1-30 2 14 1-29 2 24 1 7 2 7 1-20 2 26 1-32 2 61 1 10 1-39 2 10 1 19 2-51 1 51 2-46 1 25 2-37 1 67 2-24 1 25 2-38 1 8 2-42 1 28 2 38 1-23 2-45 1 73 2-28 1-43 2 34 1 38 2-14 1 27 2-19 1 15 2-38 1 73 2-51 1 16 2-35 1 56 2-33 1 22 2 5 1 21 2-49 1 36 2-56 1 66 1-34 2 35 1-14 2-5 1 14 2-10 1-25 2 19 1-1 2 0 1 58 2-48 1 26 2-38 1 6 2 13 1 4 2-13 1-48 2 39 1-8 2 3 1-16 2 34 1-40 2 37 1-39 2 32 1 7 2-38 1 21 2-10 1-13 2 17 1-9 2 36 1-55 2 8 1-41 2 86 1-63 1 19 2-29 1 57 2-54 1 9 2-4 1 13 2 18 1 21 2 27 1-36 2 4 1 46 2-73 1 25 2-12 1 14 2 14 1 18 2-50 1 69 2-58 1 24 2-27 1-10 2 8 1 34 2-85 1 101 2-47 1 3 2 5 1-21 2-4 1-20 2 22 1-28 2-13 1 28 2 11 1-11 2-9 1 40 1-24 2 3 1 0 2-23 1 38 2 28 1-72 2 38 1-31 2 27 1-47 2 25 1 0 2 24 1-28 2 40 1 26 2-30 1-12 2 8 1-53 2 22 1-49 2 42 1-4 2 25 1-12 2 5 1 8 2 0 1 11 2 34 1-60 2 6 1 23 2-18 1-55 2 85 1-38 2-8 1-12 1 46 2-33 1 39 2 41 1-50 2-18 1 22 2 2 1 3 2-16 1-6 2 11 1 6 2 14 1-21 2-31 1 13 2 44 1 22 2-21 1 3 2-17 1 44 2-4 1-42 2-16 1 42 2-31 1 17 2-31 1 23 2-24 1 72 2-43 1 24 2-27 1 24 2 9 1 6 2-39 1 78 2-51 1-6 1-14 2 19 1-26 2 8 1-17 2 30 1 6 2 18 1-17 2 13 1-19 2-20 1 2 2 14 1 9 2 1 1-35 2 57 1-68 2 64 1-37 2 27 1-11 2 16 1-27 2 38 1-26 2 36 1-24 2 42 1-39 2 8 1 5 2 3 1-55 2 14 1-6 2 68 1-33 2-2 1-9 1 61 2-37 1 11 2 3 1 5 2-69 1 110 2-62 1 43 2-8 1 30 2-55 1 50 2-48 1 46 2-35 1 24 2-15 1 17 2-26 1 57 2-54 1 1 2-36 1 63 2-14 1 28 2-32 1 62 2-55 1 45 2-39 1 9 2-14 1 30 2-29 1 25 2-19 1 25 2-50 1 61 1-43 2-10 1 42 2-14 1 18 2 5 1-34 2 37 1-16 2 27 1-35 2-2 1 6 2-30 1-16 2 48 1-54 2 28 1-25 2 17 1-12 2 34 1-42 2 26 1-2 2 34 1-30 2-1 1-11 2 1 1-10 2 33 1-68 2 46 1 24 2-17 1 6 2-5 1-25 2 63 1-35 2 13 1-8 1 23 2-10 1 23 2-10 1 6 2-45 1 33 2-15 1 37 2-22 1 3 2-25 1 15 2 12 1 36 2-66 1 40 2 15 1-12 2-27 1 80 2-86 1 64 2-44 1 51 2-60 1 56 2-47 1 28 2-38 1 5 2 2 1 14 2-37 1 21 2 5 1-16 2 18 1 10 2-24 1 52 1-26 2 24 1 7 2-11 1-39 2 18 1-32 2 32 1-29 2 16 1-64 2 73 1-7 2 30 1-39 2 15 1-19 2 29 1-62 2 47 1-61 2 27 1-6 2 20 1-36 2 29 1-41 2 53 1-39 2 16 1-16 2 30 1-22 2 15 1-16 2 16 1-24 2 41 1-21 2 23 1-35 2-4 1 44 1 19 2-61 1 48 2-42 1 61 2-28 1-28 2 11 1 40 2-44 1 14 2-59 1 58 2-2 1 31 2-44 1 40 2-23 1-18 2-7 1 27 2-42 1 23 2-27 1 50 2-30 1 37 2-4 1 14 2-21 1 9 2-32 1 24 2-36 1 61 2-32 1 14 2-43 1 66 2-32 1 30 1-30 2 22 1 10 2 45 1-68 2 30 1 6 2-19 1 23 2 4 1-26 2 31 1-10 2 38 1-47 2-5 1-2 2 4 1 3 2 13 1-50 2 62 1-43 2 32 1-10 2-31 1-6 2 6 1 2 2 24 1-9 2 8 1 3 2 20 1 5 2-23 1-4 2 21 1-26 2 40 1-31 1 20 2-28 1 6 2-2 1 12 2-24 1 17 2-48 1 30 2 4 1-11 2 18 1 14 2-19 1-24 2-3 1 26 2-22 1 41 2-32 1 39 2-32 1-10 2-43 1 64 2-51 1 53 2-40 1 25 2-8 1 40 2-44 1 11 2-17 1 1 2 27 1 15 2-26 1 14 2-40 1 29 2 18 1 41 1-44 2 13 1-21 2 5 1-28 2 37 1-27 2 54 1-68 2 82 1-66 2 12 1-6 2 14 1-8 2-4 1 16 2-13 1-12 2 17 1-28 2 36 1-30 2 44 1-74 2 58 1-19 2 22 1-32 2 47 1-57 2 12 1 27 2-7 1-22 2 37 1-7 2-12 1-20 1-12"/>
<path class="s" stroke="#c10c90" d="M82 665l2 79 1-60 2 26 1-48 2 31 1 5 2 4 1-7 2 16 1-12 1 72 2-37 1 27 2-36 1 52 2-65 1 36 2-32 1 38 2-59 1 59 2-82 1 25 2 38 1-27 2-29 1 43 2-27 1 38 2-34 1-5 2-58 1 53 2-51 1 72 2-37 1 33 2-21 1 19 2-18 1-4 2 52 1-47 2-8 1 62 2-95 1 21 2-45 1 76 2-28 1 0 1-25 2 72 1-85 2 67 1-80 2 40 1 5 2 15 1-57 2 33 1 1 2 8 1-25 2-11 1-14 2 62 1-55 2 59 1-39 2-5 1 25 2-44 1 12 2 9 1-5 2 24 1-45 2 23 1-94 2 76 1-82 2 80 1-37 2 20 1 5 2 14 1-79 2 79 1-92 2 72 1-60 1 34 2-23 1 41 2-63 1 23 2-27 1 31 2-39 1 49 2-11 1 8 2-29 1-5 2 55 1 1 2-33 1 97 2-54 1-4 2-63 1 36 2 45 1-41 2-6 1-11 2-58 1 22 2 4 1 49 2-38 1 28 2 33 1-13 2-32 1 52 2-38 1 65 2-59 1 53 2-70 1 47 2-56 1 36 1 4 2 36 1-38 2 30 1-45 2 36 1 1 2 54 1-49 2 6 1 11 2 8 1-1 2-18 1 54 2-52 1-29 2 4 1 22 2-10 1 8 2 28 1-57 2 85 1-82 2 28 1 12 2 18 1-10 2 28 1-16 2 10 1-9 2 72 1-23 2 24 1-46 2 68 1-73 2 59 1-38 1 33 2-17 1 41 2-53 1 26 2 8 1 11 2-36 1 22 2 3 1 40 2-59 1 24 2-22 1 17 2-10 1 3 2-25 1 56 2-83 1 27 2-26 1 0 2 12 1 9 2-42 1 73 2-79 1 82 2-52 1 30 2-62 1 72 2-12 1 0 2-4 1 28 2 2 1 22 2-40 1 27 2-69 1 78 1-48 2 47 1-30 2 46 1-23 2 8 1-18 2 15 1-13 2 43 1-38 2-21 1-3 2 32 1-23 2 33 1-50 2 18 1-2 2 14 1-16 2 8 1-31 2 24 1 8 2 11 1-42 2-24 1 14 2 30 1-13 2-24 1 11 2 40 1-52 2 85 1-68 2 2 1-6 2 26 1 8 1-64 2 17 1 16 2-31 1 66 2-53 1-10 2-32 1 31 2-67 1 30 2-7 1 34 2-29 1 47 2-65 1 67 2-20 1-46 2 13 1 2 2-15 1 14 2-1 1 35 2-57 1 73 2-62 1 45 2-7 1 6 2-62 1 31 2-26 1 34 2-68 1 50 2-19 1-6 2-32 1 84 2-31 1 22 1-17 2 2 1-22 2 9 1-35 2 103 1-91 2 35 1-14 2-27 1 11 2 43 1-88 2 71 1-28 2 4 1-31 2 101 1-98 2 24 1-40 2 33 1 1 2 36 1-45 2 99 1-114 2 79 1-23 2 16 1-57 2 40 1-1 2 28 1 20 2 21 1-35 2 49 1-46 2-20 1 21 1 31 2-34 1 13 2-13 1 13 2-15 1-18 2 36 1 38 2-34 1 28 2-4 1 19 2-35 1 36 2-107 1 62 2-52 1-3 2-37 1 30 2 9 1-27 2-55 1 51 2-50 1 48 2-25 1 2 2-18 1 26 2-3 1 55 2-61 1 53 2-72 1 100 2-44 1-27 2-11 1 34 1 4 2 6 1-55 2 35 1-16 2 52 1-71 2 72 1-49 2 15 1 11 2-16 1-19 2 6 1-36 2 83 1-42 2 80 1-129 2 42 1-20 2 77 1-70 2 43 1-33 2 9 1-48 2 43 1-26 2 25 1-37 2 61 1-30 2 52 1-139 2 94 1-5 2 33 1-109 2 106 1-27 2 38 1-74 1 76 2-47 1 41 2-6 1 57 2-36 1 19 2-77 1 73 2-50 1 28 2-36 1 71 2-41 1 33 2-38 1 16 2-41 1 15 2-30 1 33 2-47 1 100 2-80 1 15 2-17 1 20 2-66 1 5 2-36 1 74 2-40 1 33 2-54 1 64 2-29 1 35 2-17 1 22 2-68 1 93 1-47 2 32 1-25 2 32 1-10 2 12 1-36 2 60 1-24 2-30 1 14 2 4 1 0 2 18 1-17 2 16 1-99 2 81 1-41 2 52 1-4 2-4 1-4 2 31 1 5 2-24 1-40 2 82 1-57 2 29 1-31 2 65 1-65 2 49 1-30 2 45 1-26 2 62 1-131 2 69 1-31 2 33 1-1 1 37 2-47 1 10 2 1 1-5 2 9 1-40 2 11 1 55 2-47 1 20 2-65 1 28 2 35 1-9 2 10 1-16 2-32 1 32 2-19 1-8 2 4 1 21 2-54 1 20 2 24 1 28 2-78 1 62 2-67 1 31 2 17 1 47 2-82 1 102 2-57 1-27 2-15 1 16 2-44 1 97 1-67 2 17 1-6 2 35 1-23 2-4 1 30 2-32 1 2 2 63 1-29 2-59 1 22 2 30 1-82 2 82 1-34 2 35 1-29 2 68 1-16 2 13 1 1 2 32 1-13 2 1 1-55 2 11 1-4 2 17 1-25 2 45 1-65 2 70 1-64 2 120 1-56 2 28 1-47 2 16 1-68 1 49 2-57 1 32 2 12 1-10 2-41 1 48 2-37 1 25 2-50 1 54 2-34 1-16 2-13 1 30 2-18 1 13 2-44 1 57 2 12 1-38 2-63 1 78 2-58 1 52 2-54 1 40 2-52 1 93 2-94 1 52 2-9 1 59 2-58 1-19 2 6 1 32 2-56 1 84 2-74 1 146 2-131 1 7 1-16 2 53 1-61 2 61 1-1 2 31 1-49 2 20 1-33 2 41 1-15 2 62 1-36 2 19 1-21 2 26 1-38 2 29 1-21 2 53 1-23 2 10 1 20 2-21 1-27 2 2 1-58 2 66 1-1 2 55 1-80 2 73 1-3 2-27 1-42 2 74 1-11 2 39 1-66 2 16 1-7 1 19 2-17 1 34 2-62 1 22 2-38 1 2 2 16 1 61 2-71 1 11 2-47 1-9 2-29 1 74 2-31 1 8 2-23 1 61 2-84 1 76 2-11 1 12 2-26 1 0 2 6 1 22 2-5 1-31 2 35 1 43 2-159 1 51 2-7 1 32 2-26 1 63 2-66 1 31 2 40 1 1 2-64 1 108 1-96 2 40 1-15 2 5 1-35 2 80 1-38 2-26 1 2 2 37 1-24 2-5 1-4 2 1 1 0 2 8 1-11 2 61 1-100 2 36 1 9 2 28 1-75 2 69 1-46 2 71 1-19 2-10 1-28 2 20 1-53 2 94 1-57 2 32 1-16 2 19 1-18 2 7 1-2 2 25 1-21 1 42 2-45 1 92 2-110 1 91 2-67 1 51 2-50 1 92 2-59 1 3 2 12 1-19 2-18 1-20 2 10 1 44 2-78 1 41 2-5 1 39 2-57 1 54 2-9 1 31 2-72 1 100 2-46 1-2 2-7 1 61 2-46 1 10 2-5 1 9 2-82 1 73 2-59 1 35 2-31 1 55 1-54 2 16 1-23 2 63 1-48 2 72 1-68 2 45 1-9 2-14 1-22 2 35 1 4 2 34 1-25 2 16 1 5 2-37 1-16 2 26 1-23 2 88 1-39 2-7 1-42 2 80 1-43 2 23 1-9 2-11 1-10 2-15 1 26 2-17 1-65 2 84 1-138 2 107 1-10 2-21 1-5 2 39 1-77 1 58 2-9 1 47 2-91 1 64 2-98 1 97 2-84 1 54 2-37 1 80 2-84 1 71 2-34 1 41 2-61 1 79 2-49 1 41 2-70 1 81 2-66 1 31 2-64 1 63 2-10 1-15 2 3 1 16 2 19 1-6 2-40 1 29 2-12 1 35 2-41 1 56 2-27 1-8 2-37 1 62 1-26 2 28 1-17 2 42 1 16 2 30 1-80 2 16 1-42 2 47 1-85 2 79 1-49 2 27 1-15 2 30 1-51 2 63 1-38 2 52 1-81 2 32 1 42 2 9 1-67 2 85 1-103 2 54 1-27 2 47 1-46 2 12 1 15 2 49 1-97 2 62 1-22 2 73 1-62 2 44 1-6 2 13 1 6 1-14 2 20 1-20 2 31 1-4 2 22 1 3 2 10 1-12 2 12 1 3 2-5 1 19 2-20 1-1 2-52 1 32 2-18 1 7 2-63 1 47 2-30 1 23 2-8 1 11 2-62 1 69 2-16 1 22 2-20 1-31 2 23 1 43 2-80 1 93 2-58 1 39 2-40 1 56 2-56 1 78 1-88 2-1 1-1 2 4 1 17 2 26 1-45 2 8 1-29 2-27 1 35 2 13 1-61 2 72 1-25 2 23 1-26 2-12 1-12 2 66 1-68 2 33 1-48 2 14 1-16 2 70 1-124 2 83 1 7 2-44 1-38 2 52 1-7 2-7 1 0 2 37 1-41 2 48 1-30 2 3 1-11 1 53 2-69 1-3 2-23 1 46 2 32 1 6 2-48 1 33 2 1 1 32 2 0 1 3 2-49 1 41 2-11 1 60 2-54 1-2 2-72 1 66 2-30 1 49 2-28 1 31 2-81 1 62 2-49 1 24 2-32 1 5 2 35 1-30 2 9 1 44 2-49 1 9 2 16 1 26 2 2 1 23 2-12 1 62 1-47 2 54 1-21 2 7 1-40 2 10 1-17 2 65 1-53 2-2 1-51 2 72 1-53 2 16 1-3 2 4 1-69 2 116 1-112 2 57 1-1 2-22 1-1 2 56 1-32 2 39 1-60 2 40 1-9 2 0 1-24 2 50 1-69 2 91 1-58 2 37 1-10 2-2 1-75 1 67"/>
</g>
<path class="h" stroke="#2a2eec" d="M3763.58 1740.75h44.9"/>
<text class="t8" x="3826.30" y="1749.65">Venezuela</text>
<path class="h" stroke="#fa7c17" d="M3763.58 1774.73h44.9"/>
<text class="t8" x="3826.30" y="1783.63">Colombia</text>
<path class="h" stroke="#328c06" d="M3763.58 1808.71h44.9"/>
<text class="t8" x="3826.30" y="1817.61">Ecuador</text>
<path class="h" stroke="#c10c90" d="M3763.58 1842.69h44.9"/>
<text class="t8" x="3826.30" y="1851.59">Panama</text>
<text class="t10 m" x="3511.57" y="1694.80">East - Type D</text>
<text class="t8 e" x="3053.45" y="2293.29">700</text>
<text class="t8 e" x="3053.45" y="2196.72">800</text>
<text class="t8 e" x="3053.45" y="2100.14">900</text>
<text class="t8 e" x="3053.45" y="2003.57">1000</text>
<text class="t8 e" x="3053.45" y="1906.99">1100</text>
<text class="t8 e" x="3053.45" y="1810.42">1200</text>
<text class="t8" transform="translate(3088.87 2383.75) rotate(-45)">2022</text>
<text class="t8" transform="translate(3224.65 2383.75) rotate(-45)">2023</text>
<text class="t8" transform="translate(3360.44 2383.75) rotate(-45)">2024</text>
<text class="t8" transform="translate(3496.59 2383.75) rotate(-45)">2025</text>
<text class="t8" transform="translate(3632.38 2383.75) rotate(-45)">2026</text>
<text class="t8" transform="translate(3768.16 2383.75) rotate(-45)">2027</text>
<text class="t8" transform="translate(3903.94 2383.75) rotate(-45)">2028</text>
</g>
<g>
<rect x="86.00" y="2452.05" width="895.85" height="608.85" fill="#eeeeee"/>
<path class="g" d="M126.87 2452.05v608.85M262.65 2452.05v608.85M398.44 2452.05v608.85M534.59 2452.05v608.85M670.38 2452.05v608.85M806.16 2452.05v608.85M941.94 2452.05v608.85M86.00 2970.90h895.85M86.00 2880.42h895.85M86.00 2789.94h895.85M86.00 2699.46h895.85M86.00 2608.98h895.85M86.00 2518.50h895.85"/>
<g transform="translate(86.00 2452.05) scale(.5)">
<path class="s" stroke="#2a2eec" d="M82 319l2-8 1 45 2-4 1-53 2 61 1-82 2 84 1-86 2 81 1-19 1 14 2-28 1-2 2-37 1 36 2-20 1 3 2-3 1 29 2-22 1 58 2-120 1 49 2-49 1 47 2 20 1 50 2-74 1 50 2-84 1 46 2-39 1 80 2-26 1 63 2-83 1 35 2 11 1 4 2 17 1 5 2 12 1-42 2-10 1 5 2 1 1 38 2-68 1 33 2-3 1 41 1-81 2 84 1-32 2 19 1-27 2 32 1-15 2 72 1-7 2-45 1 6 2 41 1-26 2 110 1-77 2-31 1-4 2 40 1-60 2 73 1-51 2 32 1-6 2 21 1 8 2 23 1-60 2 54 1 35 2-54 1-8 2 24 1-24 2 29 1 4 2-14 1-50 2 66 1-43 2 45 1-15 1-32 2 26 1 45 2-37 1 5 2 1 1 8 2-15 1 18 2 4 1-12 2-59 1 46 2-53 1 26 2-7 1 11 2-35 1 53 2-96 1 67 2-58 1 19 2 13 1 72 2-61 1 23 2-37 1 23 2-72 1 91 2-77 1 58 2-19 1-17 2-63 1 86 2-53 1 18 2-4 1 24 2-23 1-10 1-46 2 40 1-45 2 15 1-6 2 56 1-49 2 28 1 7 2 26 1-61 2 22 1 10 2 35 1-80 2 45 1-11 2 72 1-55 2 27 1-11 2-2 1 4 2 16 1-40 2 70 1-90 2 44 1 1 2-26 1 23 2 33 1-32 2 49 1-66 2 78 1-27 2 10 1-15 2-1 1 43 1-32 2-44 1 46 2-52 1 42 2-9 1 48 2-45 1-17 2 15 1 23 2-50 1 66 2-60 1 25 2-4 1 17 2-35 1 39 2-50 1 38 2-55 1 58 2-30 1 30 2 3 1-19 2-11 1 7 2 22 1-31 2-38 1 69 2-38 1 42 2-3 1 14 2-101 1 76 2-50 1-1 2-13 1 66 1-49 2-14 1 12 2 0 1-27 2 42 1-59 2 38 1-20 2 65 1-9 2 4 1-14 2 13 1-38 2 1 1 2 2-4 1 32 2-12 1-42 2 69 1-46 2 27 1-51 2 49 1-54 2 77 1-70 2 15 1-29 2 59 1-59 2 33 1-10 2 43 1-94 2 82 1-24 2 31 1-75 1 32 2-49 1 27 2-32 1-1 2-18 1 16 2 29 1 29 2-61 1 52 2-101 1 71 2-18 1 30 2-93 1 66 2-69 1 53 2-61 1 44 2-72 1 30 2-17 1 23 2-21 1 54 2-54 1-29 2-3 1 12 2-6 1-1 2-45 1 77 2-42 1 72 2-34 1-8 2-50 1 57 2-60 1 78 1-42 2 56 1-49 2 59 1-43 2 8 1-63 2 42 1-31 2 28 1 21 2-5 1-25 2-3 1-18 2-2 1 0 2-11 1 12 2 8 1-9 2 70 1-95 2 53 1 7 2 31 1-44 2 22 1 15 2 20 1-53 2 31 1-36 2 54 1-88 2 9 1-8 2 35 1-31 2 41 1-46 1 55 2-84 1 70 2-3 1-10 2-70 1 16 2-10 1 47 2-75 1 41 2 1 1 41 2-44 1 43 2 24 1-17 2-18 1 78 2-99 1 35 2-50 1 72 2 15 1 12 2-98 1 60 2-41 1 21 2-18 1 32 2-45 1 30 2-77 1 11 2-14 1 19 2-24 1 33 2 25 1 63 1-80 2 45 1-36 2 58 1-55 2 96 1-34 2 6 1-39 2 47 1-13 2 34 1-39 2 99 1-136 2 71 1-7 2-18 1 8 2 31 1-75 2 64 1-19 2 45 1-79 2 78 1-18 2-22 1 3 2 27 1-8 2-5 1 12 2 85 1-36 2 40 1-61 2 45 1-35 2-10 1-30 2 11 1-40 1 41 2-54 1 87 2-65 1 43 2-31 1 62 2-71 1 88 2-33 1-1 2-24 1 35 2 2 1-21 2-29 1 126 2-110 1 37 2-16 1 3 2 23 1 35 2-14 1 11 2-38 1 70 2-25 1 11 2-38 1 58 2-34 1-16 2 11 1 52 2-8 1 32 2-26 1 22 2-10 1-21 1 9 2-5 1-1 2 21 1-28 2 30 1-50 2 47 1-73 2 36 1-6 2 67 1-47 2 27 1-36 2 45 1-59 2 83 1-45 2 36 1-72 2 45 1-43 2 59 1-64 2 70 1-39 2 9 1-26 2 71 1-66 2 33 1 2 2 17 1-12 2 24 1-10 2 15 1-48 2 59 1-47 2 31 1-33 1 56 2-43 1 18 2-19 1-18 2 16 1-7 2 10 1 5 2 0 1 6 2 8 1 36 2-9 1 40 2-28 1 70 2-109 1 61 2-38 1 14 2-24 1 12 2-8 1 25 2-18 1 37 2-8 1 35 2-88 1 39 2-22 1 36 2-24 1 63 2-39 1 31 2-46 1 61 2-56 1 72 1-23 2 9 1-15 2 63 1-48 2-10 1 4 2 63 1-56 2-7 1-10 2-35 1 29 2 3 1 11 2-18 1-31 2 13 1-5 2-25 1-29 2 70 1-54 2 72 1-47 2 2 1-17 2 35 1-55 2 41 1-36 2 7 1-13 2-5 1 13 2 27 1-8 2-7 1-16 2 43 1-64 1 18 2-40 1 66 2-52 1 27 2-64 1 54 2 17 1-1 2 8 1-42 2-35 1 4 2 8 1 62 2-87 1 30 2-17 1 58 2-62 1 41 2-46 1 63 2-49 1 3 2 67 1-11 2-16 1-35 2-7 1 69 2-24 1-10 2-2 1 31 2-69 1 39 2-8 1 20 2-27 1 57 2-11 1-12 1-28 2 25 1-33 2 28 1-21 2-8 1-39 2 31 1-1 2 36 1-27 2 48 1-85 2-1 1-1 2 33 1-32 2 31 1-28 2-6 1 11 2 1 1 15 2 39 1-15 2-22 1-53 2 64 1-37 2 13 1-9 2 44 1-67 2 32 1-1 2 61 1-77 2 54 1-27 2 50 1-74 1 93 2-96 1 56 2-41 1 70 2-37 1-22 2-12 1-2 2-52 1 80 2-51 1 45 2-28 1 56 2-96 1 24 2 25 1-16 2-13 1 53 2-49 1 33 2-13 1 29 2-81 1 26 2 8 1 80 2-78 1 0 2-49 1 24 2-31 1 78 2-39 1 67 2-56 1 26 2-57 1 41 2 6 1 5 1 12 2 17 1-23 2 13 1-43 2 32 1-1 2-4 1-57 2 63 1-10 2-6 1-41 2 28 1-39 2-23 1-16 2 14 1 22 2 23 1-67 2 56 1-11 2 53 1-61 2 47 1-44 2 10 1-39 2 100 1-48 2 2 1-63 2 32 1-27 2 19 1-5 2 66 1-132 2 85 1-43 1 23 2-34 1-8 2 17 1 35 2-44 1 53 2-42 1 57 2-128 1 85 2-33 1 40 2-56 1 1 2-64 1 85 2-13 1 1 2 10 1-9 2-20 1 50 2-35 1 5 2-26 1 44 2 11 1-4 2-79 1 114 2-41 1-19 2-73 1 72 2-32 1 34 2-66 1 90 2-42 1-10 1-16 2 43 1 4 2 5 1-35 2 33 1-24 2 42 1-71 2 29 1 6 2 36 1-51 2 33 1-6 2 20 1-12 2 34 1 3 2 10 1-76 2 59 1-72 2 34 1-3 2-22 1-25 2 39 1 35 2 1 1-11 2 48 1-51 2 13 1-38 2 38 1 0 2 55 1-46 2 56 1-82 2 78 1 27 1 63 2-38 1-10 2 9 1 54 2-61 1 18 2 35 1-65 2-19 1 111 2-82 1 7 2 5 1 42 2-98 1 61 2-21 1 33 2-26 1 27 2-38 1-14 2-7 1 54 2-134 1 74 2-26 1 2 2 11 1 14 2 12 1 7 2-63 1 102 2-79 1 41 2-21 1 49 2-58 1 29 1 22 2-40 1-18 2 47 1-62 2 51 1-27 2 24 1-14 2 8 1-82 2 70 1 8 2 0 1-46 2 41 1-32 2 28 1-62 2 17 1-25 2-26 1 14 2 49 1-49 2-29 1 4 2 81 1-24 2 13 1-37 2 36 1-15 2 25 1-48 2 60 1-61 2 38 1-37 2 7 1-5 2 69 1-79 1 59 2 4 1 14 2-44 1 87 2-68 1 34 2-25 1 34 2-3 1 1 2-29 1 25 2-10 1 36 2-22 1 50 2-26 1 12 2-27 1 16 2 14 1 33 2-43 1 29 2-37 1 44 2-60 1 65 2-41 1 19 2-47 1 43 2-43 1 82 2-53 1 36 2 12 1 9 2-25 1 3 1-42 2 0 1-71 2 84 1-60 2 17 1-8 2 35 1-22 2 6 1-36 2 4 1-19 2 44 1-41 2 26 1 11 2-6 1-64 2 1 1 62 2 2 1-73 2 39 1-35 2 99 1-69 2 82 1-107 2 36 1 3 2 37 1-48 2 12 1-47 2 44 1-46 2 3 1 1 2 19 1-6 1 17 2 15 1-23 2-74 1 62 2 35 1-48 2-1 1 0 2-6 1 22 2-31 1 28 2-14 1-11 2-13 1 63 2 24 1 3 2-30 1 45 2-8 1 37 2-79 1 75 2-42 1 20 2 68 1-9 2-66 1 64 2-41 1 54 2-84 1 64 2-15 1 15 2-39 1 34 2-38 1 51 2-17 1 18 1-70 2 67 1-28 2 62 1-66 2 63 1-82 2 58 1-60 2 84 1-58 2 15 1 1 2 5 1-20 2 12 1 27 2-28 1 3 2 21 1-59 2 40 1-55 2 36 1-3 2-1 1 9 2 4 1-51 2-9 1 32 2-15 1 15 2 14 1-19 2 37 1-137 2 137 1-57 1-20"/>
<path class="s" stroke="#fa7c17" d="M82 478l2 26 1-20 2 51 1-13 2 3 1-29 2 43 1-15 2 46 1-57 1 24 2-25 1 35 2-30 1 14 2-63 1 53 2-26 1 50 2-62 1 52 2-14 1 35 2-13 1 3 2-10 1 40 2-50 1 32 2-33 1 31 2-6 1-27 2 17 1 24 2-65 1 35 2-13 1 10 2 26 1 3 2-53 1 24 2-59 1 35 2-32 1 45 2-22 1 61 2-84 1 60 1-7 2-16 1 10 2-14 1-4 2 5 1 1 2 23 1-32 2 23 1-44 2 24 1 0 2-14 1-19 2 23 1-42 2 64 1-32 2 32 1-20 2 30 1-34 2 8 1-27 2 17 1-52 2 46 1-49 2 32 1-22 2 53 1-47 2 13 1-49 2 30 1 5 2-6 1 3 2 27 1 2 1-23 2-34 1 44 2-18 1 72 2-70 1 10 2-31 1 23 2 26 1 22 2-3 1-6 2-42 1 15 2-32 1 25 2 8 1 49 2-15 1 26 2-78 1 76 2-34 1 30 2-62 1 52 2-48 1 42 2-43 1 77 2-18 1-17 2-12 1 31 2-73 1 74 2-78 1 59 2 3 1 28 2-37 1-17 1-2 2 34 1-21 2-5 1 16 2 19 1-42 2 27 1-21 2 10 1 12 2 5 1-18 2 50 1-104 2 71 1-22 2 25 1-33 2 17 1 17 2 13 1-4 2-6 1-12 2 20 1-60 2 7 1-35 2 28 1 8 2 22 1-46 2 50 1-11 2 31 1-65 2 64 1-21 2 42 1-34 1 22 2-22 1-28 2 3 1 42 2-37 1-4 2-1 1 1 2-21 1 38 2-26 1 13 2-35 1 46 2-43 1 38 2 12 1 34 2-29 1 5 2-24 1 63 2-46 1 8 2-47 1 54 2-26 1 12 2-46 1 61 2-32 1 15 2-29 1 68 2-42 1 20 2-14 1 14 2-5 1-17 2-73 1 37 1 2 2 21 1-22 2 62 1-37 2 2 1-10 2-8 1 27 2 68 1-67 2 6 1-1 2 37 1-57 2 33 1-28 2 60 1-39 2 33 1-37 2-5 1-18 2 41 1-13 2 18 1-22 2 8 1 15 2-34 1-14 2 69 1-57 2 78 1-76 2 45 1-28 2 17 1 23 2-31 1 9 1-10 2 12 1 7 2-28 1 9 2 30 1-27 2-27 1 122 2-116 1 3 2-13 1 29 2 4 1-27 2 12 1 26 2-32 1 25 2-1 1 6 2-57 1 43 2-44 1 90 2-84 1 54 2-59 1 62 2-5 1 1 2-10 1-9 2 1 1 22 2-22 1-5 2 44 1-32 2-26 1 68 2-43 1 4 1-8 2 29 1-1 2 17 1-43 2 20 1-27 2-9 1-26 2 61 1-26 2-18 1 48 2-5 1-86 2 88 1-19 2-2 1-25 2 19 1-20 2 37 1-57 2 60 1-22 2-30 1-6 2 57 1-20 2 24 1-21 2 60 1-51 2 18 1-23 2 13 1-2 2-26 1 15 2 7 1 5 1 10 2-49 1 21 2-3 1 23 2-5 1 61 2-52 1 40 2-57 1 29 2-17 1 68 2-75 1 70 2-56 1 27 2 25 1 29 2-104 1 85 2-79 1 55 2-79 1 53 2 22 1 14 2-53 1 41 2-27 1 7 2-15 1 42 2-32 1 52 2-23 1 17 2-43 1 30 2-28 1 34 1-4 2 19 1-52 2 32 1-47 2 15 1 3 2 67 1-82 2 67 1-26 2 38 1-52 2 59 1-67 2 40 1-47 2 33 1-9 2 17 1-54 2 52 1-2 2 39 1-33 2 7 1-30 2 12 1-9 2 10 1-25 2 4 1 10 2 39 1-40 2 41 1-18 2-14 1-15 2 36 1-22 2 13 1 38 1 11 2-30 1 13 2 9 1 42 2-61 1 40 2-35 1 34 2-57 1 45 2 0 1 13 2-7 1 33 2-31 1-10 2-7 1 41 2 4 1-16 2-14 1 61 2-33 1 20 2-39 1 21 2-32 1 15 2 8 1 18 2-60 1 76 2-33 1 15 2-25 1 5 2-5 1-18 2-39 1 68 1-37 2 34 1-18 2 24 1-30 2 29 1-25 2 4 1-3 2 23 1-46 2 51 1-59 2 47 1-1 2 29 1-28 2-18 1-46 2 55 1 10 2-39 1 29 2-22 1 26 2 33 1-32 2-3 1-14 2 64 1-56 2 6 1-1 2 22 1-39 2 47 1-36 2-5 1-5 2 3 1-22 2 16 1-14 1 65 2-54 1 50 2-18 1-6 2-5 1 35 2-47 1 32 2-25 1-7 2 28 1 6 2 8 1 11 2-11 1-2 2-44 1 47 2-28 1 16 2-28 1 42 2-18 1 4 2-9 1 15 2 13 1-3 2-30 1 26 2-31 1 30 2-68 1 37 2-13 1 12 2-43 1 32 2 14 1-29 1-8 2 27 1 14 2-10 1-31 2 49 1-30 2 0 1 0 2 38 1-37 2 21 1-19 2 20 1-26 2-3 1-5 2 39 1-32 2 8 1-44 2 85 1-40 2 29 1-38 2 20 1-16 2 8 1-3 2 21 1-11 2 24 1-58 2 22 1-4 2 15 1-9 2 41 1-63 2 31 1-29 1 8 2-16 1 54 2-32 1 22 2 3 1-13 2-17 1 25 2-37 1 28 2 1 1 37 2-62 1 21 2-9 1-11 2 14 1-22 2-15 1 66 2-75 1 18 2 37 1 5 2-21 1 6 2-25 1 20 2-17 1-10 2-11 1 44 2-16 1-14 2-53 1 80 2-21 1 22 2-21 1 4 2-18 1 31 1-56 2 25 1-15 2 22 1 1 2 30 1-52 2 55 1-82 2 95 1-90 2 5 1-10 2 26 1-29 2 15 1-31 2 34 1-78 2 109 1-24 2-28 1 1 2 12 1-1 2-10 1-35 2 83 1-41 2 12 1 13 2 27 1-33 2 68 1-22 2-26 1-36 2 66 1-44 2-2 1-24 1 41 2-4 1 6 2-40 1 63 2-80 1 78 2-74 1-2 2 17 1 52 2-51 1 33 2 28 1 64 2-66 1 11 2-57 1 69 2-24 1 3 2 5 1 4 2-19 1 62 2-90 1 73 2-74 1 64 2-73 1 16 2-20 1 19 2-58 1 75 2-74 1 38 2-15 1 7 2 24 1 18 2-53 1 21 1-3 2 24 1-16 2 54 1-56 2-33 1 66 2 40 1-91 2 58 1-25 2 53 1-58 2-12 1-20 2 6 1-19 2 28 1 0 2-8 1-56 2 64 1-59 2 48 1-19 2 8 1-19 2 48 1-46 2 32 1 16 2-16 1 8 2-22 1 12 2 19 1-63 2 63 1-27 2 8 1-60 1 47 2-48 1 35 2-19 1 12 2 12 1-3 2 6 1-4 2 29 1-16 2-33 1 18 2-20 1 4 2 11 1 26 2-43 1 60 2-47 1 10 2 11 1 12 2-27 1-4 2-5 1 32 2-39 1-12 2-8 1 41 2-43 1 59 2-17 1-13 2-10 1 45 2-31 1 17 2-1 1 32 1-39 2 26 1-48 2 40 1 2 2 25 1-57 2 83 1-62 2 37 1-6 2 42 1-68 2 82 1-15 2-15 1-52 2 21 1 10 2 0 1-46 2 70 1-26 2 19 1-7 2 16 1-42 2 51 1-44 2 42 1-15 2 52 1-50 2 67 1-82 2 80 1-26 2 3 1-48 2 55 1-39 2 31 1 13 1-19 2-3 1 7 2-13 1 43 2-23 1 56 2-93 1 14 2 24 1-13 2-28 1 36 2-25 1 55 2-9 1 28 2-30 1 20 2-31 1 11 2-13 1-15 2 7 1 24 2-16 1-3 2-26 1 2 2-40 1 53 2 15 1 15 2-38 1 44 2-46 1 74 2-89 1 60 2 8 1-2 1-30 2 50 1-41 2-4 1-4 2 9 1 6 2 14 1-43 2-10 1-22 2 63 1-28 2-4 1-27 2 55 1-42 2 63 1-75 2 84 1-10 2 12 1-29 2 45 1-80 2 45 1-51 2 42 1 9 2-3 1-16 2 5 1-17 2-13 1 25 2 29 1-21 2 0 1 2 2 21 1-47 2 68 1-36 1 27 2-43 1 40 2-20 1-2 2 0 1-3 2 10 1 11 2 30 1-28 2-25 1 60 2-46 1 41 2-17 1-3 2-33 1 32 2-38 1 40 2-65 1 29 2 28 1 28 2-30 1-10 2 3 1 33 2-58 1 17 2 13 1 5 2-20 1 24 2 9 1 12 2-30 1 12 2-8 1 41 1-53 2 12 1-23 2 29 1-27 2 6 1-31 2 13 1-14 2 35 1-45 2 36 1-21 2-20 1 24 2 31 1-65 2 50 1-15 2 36 1-45 2 46 1-41 2 74 1-21 2 14 1-13 2-23 1-16 2 45 1-49 2 12 1-19 2 19 1-5 2 54 1-27 2 4 1-2 2 11 1-72 1 29 2-5 1 35 2 0 1 17 2-23 1 4 2-25 1 65 2-75 1 4 2 2 1-19 2-7 1 68 2-105 1 94 2-22 1 20 2-18 1-8 2-15 1-2 2-8 1 41 2 8 1-13 2-12 1 52 2-49 1 32 2-19 1 45 2 10 1-28 2-32 1 37 2-13 1-10 2-19 1 45 2-41 1 40 1-7 2-14 1-24 2 68 1-32 2-17 1 4 2 45 1-31 2 16 1 9 2 23 1-30 2 22 1-26 2-1 1 8 2 32 1 9 2-39 1 27 2-12 1-8 2 5 1-1 2 15 1-10 2 27 1 9 2-4 1-3 2-9 1-4 2 4 1 19 2 5 1-42 2-3 1 22 1-11"/>
<path class="s" stroke="#328c06" d="M82 695l2 33 1-25 2 6 1-66 2 48 1-38 2 48 1-2 2-8 1 30 1-21 2 21 1 5 2-50 1 40 2-22 1 19 2-16 1 17 2-13 1 63 2-66 1 8 2 9 1 60 2-56 1 28 2-54 1 47 2-43 1 4 2-17 1 25 2 4 1 17 2-53 1 70 2-56 1 66 2-33 1 0 2-30 1 56 2-48 1 34 2-1 1 25 2-72 1-11 2 11 1-15 1-27 2 47 1-15 2-1 1-18 2 30 1-8 2 0 1 5 2-35 1-57 2 66 1-30 2 41 1-37 2 3 1-7 2 20 1-44 2 43 1-33 2-13 1 4 2 9 1 9 2 31 1-34 2 31 1-48 2 53 1 0 2 12 1-34 2-7 1 12 2 3 1-18 2 61 1-75 2 43 1-19 1 27 2-59 1 43 2 16 1-3 2-23 1 25 2-37 1-6 2-20 1 12 2-38 1 19 2-34 1 62 2-49 1 71 2-48 1 34 2-23 1 31 2-23 1 30 2-58 1 42 2-18 1 14 2 6 1-47 2 10 1 80 2-46 1 8 2 5 1 35 2-71 1 123 2-86 1 38 2-39 1 73 2-43 1 50 1-64 2 52 1-16 2 17 1-60 2 52 1-47 2 53 1-44 2 36 1-48 2 61 1-69 2 47 1 26 2-16 1-55 2 18 1 37 2 0 1-52 2 47 1-30 2 54 1-72 2 14 1 2 2 6 1-3 2 24 1-45 2-19 1 16 2 16 1-30 2 33 1-53 2 72 1-73 2 52 1 6 1 23 2-87 1 34 2 7 1 10 2-18 1 16 2 12 1-4 2-10 1 18 2-35 1 40 2-42 1 33 2-57 1 71 2-58 1 78 2-72 1-18 2 0 1 52 2-19 1 64 2-64 1 62 2-48 1 35 2-59 1 5 2-16 1 85 2-33 1 50 2-33 1 23 2-28 1 71 2 2 1-16 2-51 1 25 1 3 2 1 1-12 2 11 1 1 2 20 1-33 2 16 1-4 2 54 1-40 2 26 1-53 2 36 1 22 2 17 1-52 2 67 1-35 2 10 1-19 2 21 1-20 2 27 1-31 2 15 1-10 2 68 1-70 2 23 1-68 2 73 1-30 2 38 1-15 2 16 1 6 2-2 1-20 2 18 1-49 1 72 2-18 1 12 2-7 1-22 2-14 1 33 2-26 1 64 2-36 1 29 2-16 1 17 2-10 1-31 2 39 1 28 2-60 1 51 2-8 1-4 2-20 1 20 2-52 1 53 2-28 1 1 2 14 1 23 2-32 1 39 2 1 1-10 2-9 1-3 2-16 1 34 2-18 1 37 2-33 1 38 2-20 1-26 1-1 2 71 1-68 2 58 1-65 2 23 1-32 2 42 1-10 2 60 1-48 2 20 1-6 2 28 1-56 2 42 1-24 2 35 1-27 2-1 1-12 2 34 1-50 2 55 1-58 2 51 1-26 2-12 1 10 2-14 1-16 2 0 1-43 2 105 1-40 2-14 1-45 2 34 1-56 2 27 1 5 1 11 2-25 1 0 2 17 1-10 2 17 1 20 2-35 1 42 2-43 1 13 2-9 1 16 2 3 1 14 2-39 1 20 2-9 1 0 2-18 1 45 2-48 1 23 2 13 1-12 2-35 1 42 2-79 1 60 2-27 1 20 2 13 1 18 2-18 1 6 2-20 1 41 2 9 1-4 2-42 1 32 1-68 2 63 1 2 2 32 1-68 2 81 1-73 2 8 1-9 2 24 1-3 2-11 1 17 2-10 1-16 2 35 1-30 2 42 1-51 2 4 1-23 2 34 1 7 2-33 1 15 2-11 1-3 2-7 1-2 2 46 1-19 2 20 1-23 2 10 1-32 2 50 1-65 2 56 1-42 2 46 1-54 2 45 1-3 1 2 2-24 1 5 2 13 1-21 2-35 1 37 2 16 1-29 2 21 1 5 2-47 1 8 2-33 1 55 2-30 1 7 2-16 1 13 2-24 1 36 2-22 1 17 2 4 1-1 2 22 1-20 2-33 1 38 2-21 1 5 2 21 1 36 2-39 1-2 2-1 1 21 2-7 1 21 2-17 1 6 1-13 2 41 1-58 2 43 1-28 2 23 1-15 2 4 1 28 2 35 1-42 2-1 1-9 2-3 1 18 2-29 1-10 2 36 1-16 2-4 1-14 2 24 1-44 2 49 1-21 2 8 1-27 2 43 1-40 2-13 1-7 2 43 1-9 2-24 1-6 2 16 1-46 2 45 1-46 2 60 1-38 2 4 1-33 1 82 2-69 1 24 2-36 1 48 2-25 1 9 2 37 1-7 2-23 1 31 2-46 1 34 2-9 1 50 2-28 1 6 2-5 1-8 2-1 1 30 2-54 1 14 2-17 1 37 2-16 1-27 2-24 1 34 2-15 1 53 2-31 1 13 2-22 1 43 2-27 1 48 2-78 1 23 2 14 1-3 1 19 2 28 1-55 2 51 1-25 2-1 1-6 2 22 1-24 2 46 1-6 2 19 1-71 2 41 1-6 2 4 1 1 2 24 1-1 2-15 1-11 2 45 1-16 2 1 1-38 2 30 1-16 2 21 1 7 2 36 1-42 2-1 1-4 2 57 1-67 2 22 1 3 2-3 1-10 2 8 1 5 1 11 2-16 1 41 2-73 1 56 2-63 1 50 2-43 1 29 2-1 1-17 2 36 1 14 2-37 1 15 2-13 1-8 2 14 1-10 2-15 1 21 2-28 1 19 2-14 1-1 2-26 1 51 2-29 1 58 2-98 1 71 2-71 1 79 2-46 1 23 2-4 1-3 2 0 1 9 2-31 1 20 2-10 1 22 1-41 2 74 1-10 2-30 1 8 2-9 1-2 2 35 1-59 2 13 1-8 2 30 1-11 2 31 1-34 2 25 1-5 2 17 1-31 2 4 1-39 2 47 1-4 2 18 1-15 2 52 1-63 2 25 1 0 2-9 1-15 2 31 1-28 2 42 1-38 2 43 1-63 2 29 1-30 2 70 1-45 1 57 2-18 1 6 2-32 1 36 2-13 1 22 2-86 1 56 2-18 1 20 2-16 1 5 2 6 1 24 2-19 1 34 2-13 1 32 2-28 1 1 2-4 1 22 2-17 1 60 2-65 1 37 2-44 1 46 2 10 1-39 2 28 1-25 2 0 1 34 2-30 1 28 2-80 1 54 2-18 1 12 2-3 1 25 1-48 2 16 1-10 2 36 1-31 2-17 1-6 2 31 1-41 2 42 1-63 2 55 1-35 2 29 1-27 2 15 1-12 2 17 1-20 2 9 1-17 2 49 1-46 2 40 1-14 2-23 1-19 2 28 1-5 2 17 1-18 2 61 1-34 2 41 1-55 2 33 1-29 2 49 1-28 2 10 1-22 1 59 2-21 1 42 2-49 1 19 2-54 1 48 2-31 1 52 2-13 1-9 2-14 1 24 2-19 1 13 2 3 1-17 2 8 1 14 2-35 1 50 2-60 1 59 2-17 1 19 2-42 1 33 2-27 1 19 2-3 1-9 2 31 1 2 2-43 1 18 2 11 1-33 2-1 1 35 2-1 1 6 1-21 2-11 1-28 2 11 1-7 2 26 1-1 2-26 1-13 2 23 1 0 2-12 1 12 2-27 1 7 2 46 1-47 2 45 1-41 2 16 1-35 2-4 1-3 2 12 1-6 2-4 1 2 2 39 1-23 2-21 1-14 2 38 1-64 2 36 1-25 2 39 1-30 2 30 1-7 2 4 1-16 2 28 1-22 1 13 2 14 1 4 2-3 1-8 2 11 1-12 2-7 1 28 2-40 1 31 2-8 1-19 2-21 1 15 2-57 1 56 2-26 1 31 2-14 1 25 2-39 1 40 2-53 1 24 2-24 1 35 2-12 1 22 2-53 1 48 2 1 1 5 2-29 1 33 2-25 1 41 2-27 1-2 2-16 1 42 1-25 2 24 1-39 2 53 1-13 2-2 1-33 2 52 1-73 2 60 1-34 2 2 1-22 2 43 1-50 2 52 1-26 2-9 1-16 2 55 1-14 2-30 1-23 2 42 1-14 2 18 1 9 2-47 1 17 2 18 1 13 2 17 1-30 2 29 1-41 2 38 1-8 2 22 1-18 2-14 1 21 2 15 1-23 1 3 2 14 1-15 2 13 1 22 2-29 1 38 2-24 1-4 2-3 1-11 2-21 1 76 2-20 1 29 2-74 1 76 2-11 1 24 2-44 1 45 2-19 1 54 2-46 1 42 2-31 1 31 2 3 1 18 2-58 1 37 2-25 1 61 2-21 1 61 2-38 1-2 2 4 1 28 2-48 1 64 1-18 2 65 1-70 2 22 1 2 2 14 1-7 2-12 1 10 2 7 1 22 2 9 1-16 2 14 1 5 2 12 1-23 2 33 1-13 2 28 1-21 2 23 1-22 2 10 1 4 2-7 1-2 2 17 1-57 2 26 1-32 2 7 1 24 2-9 1-36 2 46 1-32 2 9 1 4 2 6 1-8 1-12 2 6 1-19 2 2 1 7 2-8 1-9 2 10 1 34 2-35 1 30 2-54 1 7 2 15 1 37 2-12 1 18 2-34 1 47 2-60 1 34 2-13 1 31 2-48 1 16 2 1 1 1 2-10 1-4 2-21 1 29 2-7 1 36 2-47 1 41 2-52 1 15 2-2 1 10 2-45 1 29 2-18 1 2 1-34 2 52 1-12 2 2 1-17 2 44 1-18 2-25 1 0 2-12 1 21 2-10 1-12 2 12 1-44 2 36 1 12 2 26 1-2 2 22 1 23 2-16 1-11 2 9 1 16 2-18 1 12 2 7 1-36 2 22 1-12 2 9 1-20 2 7 1-35 2 38 1-15 2 6 1-28 1 21"/>
<path class="s" stroke="#c10c90" d="M82 700l2 53 1-48 2 16 1-55 2 65 1-33 2 78 1-84 2 40 1-47 1 19 2 31 1-10 2-7 1-30 2-60 1 63 2 6 1 12 2-59 1 17 2-9 1 10 2-33 1 13 2 2 1 8 2-60 1 70 2-55 1 12 2 5 1 20 2-43 1 26 2-4 1 20 2-77 1 18 2-17 1-10 2 24 1 29 2-63 1 14 2-7 1 21 2-19 1 37 2-6 1 20 1-44 2 63 1-102 2 51 1-20 2 41 1-44 2 28 1-19 2 25 1-86 2 78 1-49 2 31 1-22 2-13 1 13 2 8 1 15 2 20 1-34 2 45 1-36 2 48 1-24 2 47 1-52 2 46 1-37 2 43 1-12 2 4 1-32 2 53 1-44 2 27 1-33 2 60 1-44 2 40 1-58 1 14 2 19 1 3 2-28 1 58 2-81 1 41 2-10 1-3 2-3 1 26 2-78 1 102 2-22 1-48 2 0 1 55 2-36 1-20 2-51 1 35 2 15 1 16 2-5 1 13 2-36 1 16 2-2 1-27 2 23 1 43 2-70 1 20 2 4 1 26 2-68 1 103 2-89 1 35 2-12 1 61 2-54 1 26 1 0 2 28 1-33 2 40 1-83 2 58 1 16 2-8 1-25 2 18 1-50 2 73 1 7 2 1 1-13 2 17 1 16 2-32 1 29 2 52 1-100 2 30 1-25 2 57 1-85 2 92 1-7 2-20 1-27 2 61 1-54 2 47 1-11 2 38 1-39 2 4 1-26 2 64 1-19 2-18 1-23 1 2 2 29 1-14 2-29 1 42 2-18 1-3 2 7 1 28 2-35 1 7 2-21 1 61 2-70 1 46 2-60 1 38 2-19 1 41 2-65 1 63 2-54 1 36 2-6 1-14 2-55 1 58 2-49 1 44 2-12 1 21 2-52 1 5 2-7 1 35 2-44 1 17 2-27 1-14 2 39 1 31 2-8 1 6 1-13 2-19 1 0 2 52 1-40 2 27 1-1 2 16 1-3 2 29 1-41 2 55 1-85 2 21 1 6 2 13 1-18 2-12 1 17 2 1 1-27 2 44 1-15 2 2 1-1 2-21 1-38 2 83 1 3 2-21 1-7 2 34 1-29 2-1 1-50 2 73 1-16 2 38 1-45 2 31 1-60 1 15 2-3 1 48 2-42 1 42 2-18 1-24 2-12 1 71 2-18 1 33 2-55 1 31 2-51 1 44 2-40 1 81 2-34 1 24 2-34 1 41 2-4 1-21 2 22 1-42 2-22 1 40 2-10 1-16 2 3 1 13 2 2 1 16 2-19 1 31 2-18 1-3 2-9 1 50 2-3 1-43 2 24 1 21 1-71 2 79 1-33 2-13 1-14 2 0 1 24 2 1 1-26 2 6 1-35 2 36 1-21 2 11 1-1 2-3 1-15 2-9 1 0 2 39 1-38 2 65 1-84 2 57 1-19 2 9 1-66 2 63 1-47 2 35 1-53 2 3 1-15 2-3 1 2 2 17 1-19 2 29 1-15 2-3 1-17 1 26 2-27 1 47 2-38 1 23 2-30 1 81 2-82 1 45 2-62 1 37 2-27 1 58 2-71 1 23 2-9 1 8 2-40 1 34 2-41 1 14 2-75 1 32 2 47 1 19 2-54 1 20 2-17 1 19 2-14 1 1 2-17 1 32 2-45 1 45 2-17 1-4 2-5 1 12 2-73 1 84 1-49 2 21 1-34 2 22 1-54 2 36 1-2 2 35 1-73 2 19 1 9 2-49 1-7 2 33 1-29 2 46 1-34 2 28 1-7 2-11 1-10 2 19 1 37 2-10 1-47 2 42 1-47 2 60 1-74 2 56 1 7 2-45 1 18 2-4 1-9 2 11 1-42 2 1 1 9 2-5 1-49 2 90 1-21 1-26 2-39 1 28 2 4 1-29 2 34 1 32 2-51 1 68 2-29 1 43 2-37 1 7 2-4 1 18 2-40 1 11 2-68 1 51 2 7 1-20 2 14 1-10 2-15 1 46 2-36 1 63 2-55 1 20 2 31 1-12 2-30 1 4 2-8 1 5 2-11 1 2 2 6 1 15 2-23 1 14 1 21 2-6 1-21 2 36 1-43 2 41 1-66 2-11 1 12 2 16 1 30 2-18 1 23 2 29 1-67 2 15 1-23 2 79 1-102 2 47 1-60 2 97 1 3 2-6 1-26 2 76 1-51 2 42 1-52 2 65 1-38 2 33 1-62 2 119 1-125 2 85 1-90 2 65 1-84 2 63 1-42 2 15 1 10 1 3 2 11 1-21 2-12 1 0 2-6 1 6 2 16 1-16 2-14 1 27 2-18 1 67 2-78 1 37 2-76 1 37 2-1 1 32 2-45 1 75 2-62 1 73 2-87 1 66 2-57 1 30 2-30 1 55 2-41 1 37 2-40 1 12 2-38 1 31 2-36 1 88 2-45 1 23 2 0 1 34 1-55 2 32 1-24 2 33 1-4 2-20 1-10 2 17 1-18 2 74 1-101 2 77 1-32 2 73 1-63 2 18 1-13 2 30 1-54 2-19 1-17 2 45 1-38 2 53 1-82 2 37 1-31 2 20 1-41 2 76 1-15 2 11 1-23 2-33 1 9 2 38 1-41 2 60 1-36 2 16 1 5 1 19 2-82 1 59 2-13 1 2 2-82 1 74 2-27 1 30 2-5 1-12 2 18 1 37 2-44 1 22 2 5 1 61 2-62 1 5 2 18 1-16 2-3 1 21 2-51 1 30 2 6 1-15 2-1 1-1 2-3 1 18 2-23 1 43 2-37 1 48 2-50 1 50 2-54 1 18 2-24 1 14 2-17 1 20 1 22 2 0 1-31 2 50 1-13 2 2 1-48 2 50 1-93 2 75 1-58 2 74 1-64 2 71 1-10 2-42 1 9 2 29 1-52 2 15 1-5 2 10 1 13 2-10 1-33 2 55 1-15 2-9 1-16 2-22 1 2 2-14 1 20 2 58 1-14 2 52 1-50 2-24 1-30 2 47 1 21 1-14 2-12 1-26 2 4 1-31 2 15 1 7 2 0 1 6 2-34 1 74 2-48 1 71 2-76 1 50 2-64 1 49 2 9 1 37 2-47 1 37 2-50 1 85 2-19 1 15 2-8 1-46 2 20 1 34 2-38 1 32 2-53 1 43 2-13 1 18 2-38 1 20 2-64 1 41 2-6 1 5 2-81 1 101 1-24 2 27 1-42 2 11 1-11 2 53 1-60 2 29 1-61 2 83 1-11 2 1 1-48 2 66 1-81 2 45 1-48 2 21 1 2 2 2 1-13 2 48 1-50 2 42 1-45 2 65 1-28 2 33 1-38 2-1 1-23 2 52 1-75 2 32 1-52 2 66 1-85 2 80 1-102 2 58 1-18 1-1 2 0 1-26 2 40 1-10 2-40 1 31 2-38 1 36 2-47 1 46 2-76 1 56 2-40 1 73 2-38 1-62 2 52 1 19 2-26 1 8 2-35 1 73 2-29 1 24 2-76 1 59 2-16 1-52 2-1 1 86 2-29 1 42 2-35 1-16 2-20 1 27 2-43 1 31 2 6 1-36 1 19 2 40 1-63 2 46 1-20 2 31 1-7 2 43 1-36 2 27 1 23 2-3 1-30 2 55 1-25 2-1 1-45 2 26 1 11 2 40 1-116 2 102 1 15 2-7 1-23 2-1 1 2 2 12 1-40 2 27 1-27 2 68 1-92 2 54 1-28 2 50 1-53 2 36 1-30 2 17 1-20 2 42 1-40 1 28 2-38 1 48 2-11 1-10 2 0 1 17 2-44 1 28 2-18 1-13 2 33 1-21 2 32 1-15 2-30 1 55 2-52 1 14 2 40 1-99 2 38 1-1 2-48 1 82 2 17 1-34 2-17 1 53 2-42 1 73 2-53 1 59 2-99 1 81 2-52 1 42 2-48 1 45 2-7 1 15 1-26 2-5 1 12 2 47 1-50 2 71 1-56 2 34 1-36 2 16 1-17 2 61 1-73 2 57 1-43 2 68 1-41 2 40 1-13 2-35 1-27 2-2 1 29 2 46 1-67 2-11 1 19 2 87 1-77 2 9 1-54 2 38 1-42 2 47 1-35 2-9 1 0 2 43 1-81 2 72 1-48 2 19 1-14 1 6 2 3 1-20 2-12 1 24 2-22 1 52 2-9 1 28 2-71 1 110 2-88 1 28 2-18 1 102 2-91 1 29 2-17 1-4 2-15 1 37 2-37 1 70 2-78 1 35 2-8 1 35 2 17 1-25 2 31 1 6 2-77 1 64 2-59 1 54 2-26 1 48 2-24 1 47 2-25 1 88 1-40 2 13 1-74 2 12 1-4 2 33 1-46 2 36 1-37 2 27 1 17 2 22 1-66 2 25 1 25 2 29 1-21 2 54 1-83 2 54 1-11 2 45 1-29 2 45 1-46 2 21 1-13 2 53 1-92 2 59 1-65 2 31 1-28 2 24 1-21 2-9 1 2 2 4 1-63 2 72 1-55 1 16 2-18 1 14 2-8 1 46 2-75 1 37 2-40 1 40 2 0 1-22 2 1 1 33 2-11 1 8 2-6 1-32 2-28 1 42 2-20 1 36 2-62 1 90 2-62 1 21 2-11 1 29 2-46 1 51 2-88 1 54 2 14 1-14 2 36 1 11 2-33 1 39 2-45 1 22 2 36 1-38 2-23 1 16 1-16 2 12 1-60 2 47 1-3 2 7 1-23 2-5 1-16 2 37 1-10 2-1 1 3 2-4 1-52 2 20 1 32 2-21 1-8 2 6 1-30 2 10 1-11 2 28 1-47 2 53 1-18 2 7 1 35 2-70 1 0 2 61 1-94 2 43 1-12 2 49 1-83 2 28 1-3 1-15"/>
</g>
<path class="h" stroke="#2a2eec" d="M106.00 2926.10h44.9"/>
<text class="t8" x="168.72" y="2935.00">Venezuela</text>
<path class="h" stroke="#fa7c17" d="M106.00 2960.08h44.9"/>
<text class="t8" x="168.72" y="2968.98">Colombia</text>
<path class="h" stroke="#328c06" d="M106.00 2994.06h44.9"/>
<text class="t8" x="168.72" y="3002.96">Ecuador</text>
<path class="h" stroke="#c10c90" d="M106.00 3028.04h44.9"/>
<text class="t8" x="168.72" y="3036.94">Panama</text>
<text class="t10 m" x="533.92" y="2436.15">West - Type A</text>
<text class="t8 e" x="75.80" y="2979.34">700</text>
<text class="t8 e" x="75.80" y="2888.86">800</text>
<text class="t8 e" x="75.80" y="2798.38">900</text>
<text class="t8 e" x="75.80" y="2707.90">1000</text>
<text class="t8 e" x="75.80" y="2617.42">1100</text>
<text class="t8 e" x="75.80" y="2526.94">1200</text>
<text class="t8" transform="translate(111.22 3125.10) rotate(-45)">2022</text>
<text class="t8" transform="translate(247.00 3125.10) rotate(-45)">2023</text>
<text class="t8" transform="translate(382.79 3125.10) rotate(-45)">2024</text>
<text class="t8" transform="translate(518.94 3125.10) rotate(-45)">2025</text>
<text class="t8" transform="translate(654.73 3125.10) rotate(-45)">2026</text>
<text class="t8" transform="translate(790.51 3125.10) rotate(-45)">2027</text>
<text class="t8" transform="translate(926.29 3125.10) rotate(-45)">2028</text>
</g>
<g>
<rect x="1078.55" y="2452.05" width="895.85" height="608.85" fill="#eeeeee"/>
<path class="g" d="M1119.42 2452.05v608.85M1255.20 2452.05v608.85M1390.99 2452.05v608.85M1527.14 2452.05v608.85M1662.93 2452.05v608.85M1798.71 2452.05v608.85M1934.49 2452.05v608.85M1078.55 2967.06h895.85M1078.55 2848.77h895.85M1078.55 2730.48h895.85M1078.55 2612.19h895.85M1078.55 2493.90h895.85"/>
<g transform="translate(1078.55 2452.05) scale(.5)">
<path class="s" stroke="#2a2eec" d="M82 397l2 45 1-94 2 32 1-54 2 47 1-15 2 45 1-43 2 65 1-71 1 49 2-9 1-24 2-46 1 72 2-85 1 48 2-2 1 1 2 27 1 87 2-116 1 98 2-82 1-2 2 38 1 36 2-67 1 50 2-34 1-33 2-17 1 91 2-141 1 81 2-24 1 43 2-21 1-45 2 48 1 55 2-93 1 13 2-16 1 33 2-12 1 78 2-44 1 22 2-61 1-13 1 28 2-10 1-18 2 39 1-91 2 97 1-40 2 58 1-11 2 31 1-42 2 24 1-31 2 59 1-59 2-22 1 13 2 45 1-37 2 20 1-6 2 26 1-75 2 19 1-37 2 8 1-6 2 4 1-31 2 18 1-103 2 89 1-58 2 53 1-74 2 1 1-16 2 64 1-67 2 57 1-21 1 21 2-27 1 67 2-127 1 68 2-75 1 101 2-35 1 46 2-44 1 33 2-14 1 75 2-37 1 21 2-75 1 100 2-43 1 46 2-38 1 28 2 5 1 15 2-15 1-4 2-39 1 88 2-45 1 72 2-81 1 21 2-34 1 107 2-38 1 19 2-14 1 25 2-6 1 21 2-10 1 35 2-97 1 39 1-11 2 67 1-82 2 21 1 58 2 14 1-44 2 69 1-49 2 24 1-24 2-9 1 14 2 4 1-21 2 18 1-35 2 8 1-14 2 59 1-59 2 82 1-67 2-4 1 23 2-40 1-43 2 113 1-116 2-18 1 18 2 36 1-106 2 39 1 22 2 5 1-54 2-2 1-44 2 76 1-25 1 27 2-60 1 102 2-99 1 14 2-91 1 129 2-69 1 74 2-77 1 74 2 12 1 48 2-67 1 57 2-42 1 50 2-40 1 100 2-68 1 32 2-97 1 124 2-29 1 75 2-44 1 14 2-50 1 92 2-32 1 44 2-102 1 24 2-51 1 129 2-86 1 65 2-79 1 72 2-79 1 122 2-38 1 22 1-64 2 86 1-137 2 76 1-15 2 56 1-37 2 50 1-44 2 28 1-33 2 92 1-144 2 99 1-13 2 64 1-83 2 123 1-144 2 82 1 25 2-10 1-28 2 56 1-24 2-36 1 3 2 65 1-95 2 100 1-32 2 14 1 12 2 91 1-102 2-1 1-105 2 90 1-69 2 57 1 18 1 35 2-96 1 103 2-101 1 82 2-59 1 77 2-68 1 39 2-65 1-7 2 10 1 24 2-35 1 23 2-39 1 27 2-3 1 26 2-44 1 20 2-14 1 24 2-89 1 73 2-51 1 22 2-48 1 54 2-25 1 3 2-72 1 74 2-16 1-8 2-21 1 45 2-82 1 29 2-15 1 100 2-77 1 9 1 30 2 67 1-142 2 104 1-32 2 14 1-61 2-4 1 17 2 51 1-78 2 12 1 4 2 45 1-70 2 10 1 8 2 39 1 11 2 19 1-43 2 38 1-45 2-7 1 14 2-19 1-20 2-43 1 33 2 19 1-41 2-8 1-43 2 84 1-102 2 74 1 48 2 12 1-21 2-17 1-48 1 12 2 7 1 39 2-30 1 40 2-5 1-14 2-23 1-28 2-16 1 69 2 9 1-56 2-25 1 39 2-54 1 2 2-74 1 42 2 12 1-51 2 5 1 47 2-8 1 48 2-93 1 47 2-31 1 63 2-35 1-12 2 23 1 4 2-10 1-6 2-38 1 54 2 35 1-29 2-10 1 46 1-46 2 21 1-100 2 86 1-59 2 11 1-6 2-31 1-40 2 86 1-98 2 94 1-39 2-6 1-111 2 87 1 19 2 13 1-24 2-25 1 29 2 9 1-69 2 105 1-20 2-33 1 0 2 73 1-127 2 86 1 20 2 20 1-11 2-16 1 31 2 1 1 0 2-13 1-8 2 56 1-46 2 23 1-49 1 47 2-89 1 131 2-105 1 58 2-28 1-23 2-1 1 74 2-63 1 92 2-87 1 13 2 0 1 1 2-27 1 31 2-20 1-20 2 24 1 70 2-61 1 48 2-36 1 79 2-66 1 80 2-41 1 45 2-11 1-25 2-34 1 37 2 41 1-7 2-42 1 44 2-84 1 43 2-50 1 64 1-44 2 23 1-22 2 52 1-29 2 31 1-52 2 97 1-110 2 36 1 2 2-20 1 30 2 14 1-13 2 16 1-54 2 117 1-67 2 18 1-46 2 90 1-160 2 101 1-16 2-30 1-1 2 20 1-54 2 64 1-69 2 30 1-14 2 41 1-50 2 59 1 33 2-18 1 27 2 15 1-74 2 47 1-7 1 50 2-78 1 59 2-21 1 56 2-62 1 43 2 32 1 42 2-92 1 37 2 10 1 47 2-67 1 31 2-20 1 9 2-73 1 30 2 1 1 25 2-40 1 94 2-66 1 32 2-21 1 34 2-52 1 79 2-7 1-17 2-44 1 22 2-20 1 24 2-34 1 67 2-67 1 13 2-16 1 18 1-58 2 94 1-78 2 82 1-44 2 29 1-53 2 85 1-51 2-16 1-26 2 47 1-23 2 47 1-95 2 14 1-39 2 48 1-21 2-13 1-13 2-6 1-48 2 61 1-43 2 58 1-44 2 19 1-67 2-10 1 41 2-21 1-7 2 24 1-102 2 41 1 6 2 33 1-20 2 11 1-50 1 68 2-100 1 34 2 2 1 77 2-65 1 46 2-45 1 20 2-34 1 28 2-40 1 86 2-14 1 1 2-21 1 68 2-56 1 4 2-39 1 105 2-71 1 32 2-75 1 62 2-40 1 36 2 22 1-32 2-52 1 92 2-68 1 76 2-3 1-16 2-58 1 54 2-9 1 67 2-105 1 55 2-34 1 111 1-80 2 53 1-88 2 24 1-15 2-5 1 7 2 91 1-65 2 26 1-55 2 62 1 6 2 26 1-65 2 72 1-5 2-1 1-38 2 57 1-23 2-7 1 6 2 24 1-32 2 88 1-4 2-53 1-27 2 96 1-111 2 29 1-1 2 28 1 10 2 41 1-51 2 37 1 16 2 42 1-83 1 84 2-66 1-5 2-65 1 57 2-2 1 9 2-25 1 24 2 28 1-6 2-83 1 24 2-6 1 40 2 5 1 22 2 37 1 63 2-31 1 29 2-109 1 33 2-11 1 41 2-67 1 32 2-14 1 0 2-87 1 34 2-16 1-2 2-42 1 35 2-17 1-6 2-32 1 17 2 33 1-22 2 27 1 12 1-65 2 96 1-91 2 77 1-85 2 34 1-2 2 37 1-77 2 23 1-89 2 109 1-44 2 55 1-19 2 77 1-102 2 103 1-5 2-68 1 31 2-18 1-53 2 43 1-15 2 63 1-87 2 34 1-21 2 69 1-69 2 29 1-31 2 74 1-184 2 103 1-8 2-1 1 24 2 40 1-64 1 90 2-72 1 48 2-57 1 60 2-62 1 45 2-19 1-8 2 0 1 39 2 19 1-3 2 4 1 50 2-99 1 71 2-73 1 52 2-72 1 55 2-66 1 34 2-21 1 43 2-27 1-35 2-43 1 45 2-76 1 35 2-66 1 63 2-4 1 36 2-39 1-39 2-36 1 9 2 47 1 78 1-155 2 119 1-35 2 11 1-25 2 70 1-15 2-12 1-40 2 93 1-89 2 70 1 0 2-38 1-6 2 41 1 22 2 1 1-70 2 13 1-29 2-30 1 27 2-41 1 18 2-24 1 20 2 9 1-33 2 64 1-90 2 27 1-77 2 74 1-12 2 65 1-105 2 52 1 0 2-7 1-49 2 87 1-137 1 114 2-40 1 50 2-108 1 71 2-3 1-20 2-19 1 74 2-76 1 80 2-111 1 94 2-6 1 50 2-71 1 59 2-51 1 69 2-89 1 77 2-9 1 24 2-70 1 10 2-11 1 33 2-31 1-5 2-63 1 75 2-11 1 1 2 10 1 6 2-40 1 18 2-17 1 57 2-117 1 159 1-45 2 23 1-33 2 48 1-60 2 65 1-21 2-71 1 7 2 56 1-121 2 83 1-87 2 97 1-22 2 41 1-20 2 66 1-94 2 44 1 19 2 14 1-13 2 22 1-29 2-46 1 43 2-24 1-2 2 82 1 4 2 44 1-71 2 118 1-70 2 17 1-27 2 64 1-78 2 50 1-45 2 20 1-8 1 91 2-31 1 5 2-60 1 54 2-40 1 83 2-93 1 115 2-135 1 127 2-108 1 28 2-1 1 76 2-139 1 63 2-25 1 53 2-48 1 8 2 7 1 43 2-17 1 68 2-71 1 77 2-120 1 75 2-116 1 91 2-38 1 79 2-33 1 1 2 33 1-47 2-28 1 78 2-37 1 29 1-25 2 16 1 23 2-12 1-25 2 15 1-83 2 63 1 9 2 24 1-26 2-51 1 18 2 45 1-53 2 69 1-111 2 81 1 13 2 23 1-21 2 20 1-11 2 47 1-13 2 46 1-81 2 81 1-91 2 11 1-32 2 74 1-26 2 52 1-96 2 0 1 48 2-22 1-55 2 80 1-39 1 38 2-34 1 60 2-11 1 16 2-50 1-19 2 11 1 100 2-91 1-4 2 17 1 20 2-21 1 3 2-92 1 129 2-168 1 70 2 6 1 5 2-74 1 33 2-14 1 36 2-64 1 88 2-84 1 41 2 2 1 45 2-72 1-21 2 83 1 17 2-53 1 9 2-40 1 4 2-32 1 29 2-30 1 55 1-35 2 37 1-90 2 69 1-53 2 46 1-29 2-10 1-20 2 39 1-54 2 62 1-58 2-7 1 18 2 29 1-70 2 58 1-51 2 28 1-17 2 85 1-64 2 56 1-104 2 95 1-28 2 28 1-37 2 73 1-44 2 78 1-62 2 32 1-28 2 13 1-28 2 62 1-63 1 54"/>
<path class="s" stroke="#fa7c17" d="M82 416l2 41 1 27 2-26 1-49 2 21 1-19 2 6 1-6 2 15 1-35 1 23 2-100 1 57 2-55 1 66 2-26 1 41 2 8 1-8 2 33 1-11 2 26 1-24 2-64 1 108 2-35 1 19 2-49 1 102 2-79 1 25 2-16 1 71 2-61 1 61 2-49 1-2 2 1 1-15 2 3 1 79 2-44 1 5 2-10 1 35 2-59 1 88 2-45 1 37 2-113 1 53 1-15 2 43 1-99 2 105 1-31 2 63 1-73 2 6 1 18 2 16 1-25 2 45 1-56 2 5 1 24 2 32 1-102 2 60 1-67 2 44 1-44 2 55 1-19 2 12 1-60 2 79 1-14 2 10 1-70 2 73 1-22 2 68 1-66 2 32 1-27 2 43 1 19 2 6 1-75 2 92 1-5 1 15 2-47 1 22 2 12 1 43 2-60 1 55 2-95 1 76 2-42 1 87 2-110 1 44 2-28 1 24 2-6 1 2 2-4 1 70 2-116 1 55 2-16 1-20 2 29 1 9 2-41 1 118 2-130 1 81 2-74 1 29 2-15 1 72 2-117 1 39 2-30 1 37 2 0 1-16 2-69 1 54 2 41 1-5 1-43 2 27 1 9 2 68 1-57 2 34 1-43 2 42 1-44 2 17 1 4 2 29 1-5 2 19 1-29 2 50 1-92 2 123 1-77 2 54 1-41 2 20 1-40 2 37 1 3 2 13 1-47 2 53 1 11 2-31 1-40 2 65 1-61 2 86 1-137 2 69 1 7 2 44 1-78 2 56 1-16 1 50 2-39 1-27 2-20 1 67 2-24 1 49 2-74 1 47 2-80 1 92 2-52 1 30 2-9 1 24 2-18 1-10 2-50 1 80 2-87 1 49 2-39 1 47 2 3 1 18 2-67 1 45 2-37 1 36 2 3 1-24 2 2 1 25 2-82 1 129 2-95 1-29 2 37 1 23 2 19 1-18 2 30 1 44 1-24 2-24 1-42 2 52 1-18 2 6 1-34 2-12 1-37 2 81 1-51 2 5 1-30 2 86 1-97 2 61 1 9 2 25 1-58 2 35 1-54 2 50 1-25 2 23 1 12 2 32 1-95 2 53 1-17 2 45 1-63 2 76 1-52 2 28 1-28 2 99 1-75 2 68 1-21 2-19 1-25 1 32 2-1 1-3 2-7 1 3 2-9 1 30 2-8 1 43 2-58 1 58 2-16 1 92 2-102 1 18 2-52 1 54 2-22 1 94 2-50 1-41 2-5 1 96 2-64 1 45 2-46 1 59 2-36 1 62 2-11 1 75 2-119 1 43 2-48 1 27 2-21 1 12 2-17 1 17 2-22 1 42 2-51 1 23 1-25 2 28 1-10 2 8 1 6 2 6 1-5 2 33 1-33 2 15 1-49 2 29 1-59 2 54 1-87 2 100 1-99 2 46 1-15 2 57 1-40 2 18 1-34 2 44 1-44 2 78 1-54 2 13 1-31 2 40 1 32 2-13 1 6 2 8 1 6 2 16 1-45 2 68 1-81 2 58 1-14 1-22 2-5 1 0 2-27 1 34 2 15 1 19 2 11 1 1 2-42 1 17 2-20 1 6 2-30 1-8 2 31 1 32 2-20 1 27 2-73 1 61 2-26 1-3 2-13 1 48 2-23 1 42 2-25 1 28 2-15 1-17 2 16 1-13 2 8 1 7 2-40 1 35 2 8 1 24 2-88 1 58 1-38 2-24 1 4 2 56 1-2 2-25 1-40 2 36 1 19 2 0 1-58 2 55 1-53 2 30 1-11 2 11 1-68 2 52 1-18 2 22 1-35 2 55 1-49 2 34 1 6 2-9 1-39 2 47 1-34 2 21 1-22 2 19 1 18 2 43 1-96 2 26 1-15 2 6 1-11 2 50 1-54 2 21 1 6 1 12 2-20 1 23 2-28 1 11 2-52 1 13 2 21 1-13 2-45 1 47 2-54 1 44 2-60 1 117 2-67 1 41 2-33 1 45 2-76 1 56 2-43 1 72 2-84 1 26 2-14 1 11 2-68 1 59 2-40 1-1 2-1 1 20 2-50 1 110 2-38 1 8 2 7 1 55 2-115 1 67 1-64 2 113 1-81 2 71 1-32 2-4 1 16 2-3 1-38 2 43 1-62 2 46 1-53 2 62 1-97 2 59 1 6 2-33 1 18 2-3 1 38 2 1 1-46 2 69 1-55 2 41 1-66 2 68 1-52 2 26 1 2 2-1 1 7 2 13 1-35 2 35 1-62 2 122 1-76 2 45 1-58 2 40 1-57 1 42 2-20 1-13 2-17 1 4 2-29 1 59 2-69 1 73 2-16 1 17 2-29 1 54 2-21 1-13 2-23 1 38 2-6 1 37 2-48 1 66 2-67 1 42 2-39 1-6 2 13 1 30 2-9 1-12 2-30 1 46 2 4 1 2 2-37 1 76 2-42 1 33 2-30 1 31 2-3 1 25 1-56 2 27 1-59 2 57 1-10 2 40 1-37 2 39 1 0 2 47 1-43 2 43 1-40 2 35 1-32 2 29 1-51 2 26 1 3 2 4 1-28 2-23 1-57 2 65 1-76 2 75 1-39 2 41 1-33 2-12 1-1 2 36 1-84 2 93 1-83 2 78 1-56 2 40 1-80 2 34 1-45 1 89 2-36 1 12 2-50 1 24 2-26 1 64 2-25 1 21 2-15 1 61 2-58 1 81 2-112 1 63 2-22 1 71 2-79 1-1 2-1 1 14 2-6 1-6 2-14 1 59 2-64 1 38 2-26 1 62 2-34 1-3 2-37 1 21 2-67 1 54 2-100 1 75 2-12 1 14 2-19 1 12 2-7 1 16 1 8 2-34 1-4 2 65 1-58 2 14 1 29 2-10 1-49 2 53 1-65 2 13 1-5 2 85 1-128 2 92 1-57 2 52 1-34 2 42 1-25 2 23 1-21 2 28 1-32 2 26 1-43 2 48 1-52 2 58 1-4 2-19 1 13 2-7 1-3 2 81 1-79 2 28 1 5 2-30 1 50 1 1 2-16 1-1 2 9 1 34 2-26 1 1 2 13 1 36 2-58 1 53 2-37 1 44 2 2 1 3 2-42 1 52 2-81 1 72 2-102 1 114 2-66 1-14 2 27 1 5 2-45 1 80 2-29 1-7 2-5 1 20 2 33 1-47 2-10 1 44 2-77 1 31 2-45 1 55 2 6 1-15 2-29 1 65 1-45 2 59 1-61 2 16 1 29 2-15 1-46 2 77 1-26 2-17 1 42 2-18 1-40 2 30 1-23 2 67 1-67 2 6 1 26 2-23 1-5 2 22 1-13 2-19 1-40 2 68 1-40 2 90 1-91 2 22 1-22 2 17 1-53 2 6 1-56 2 27 1 27 2 28 1-37 2 32 1-11 1 19 2-24 1 33 2-19 1-7 2-3 1 34 2-22 1 7 2-29 1 109 2-80 1 39 2-24 1 13 2-4 1 75 2-85 1 40 2-11 1-28 2 11 1-11 2-44 1 35 2-4 1 35 2-64 1 73 2-18 1 49 2 22 1 11 2-75 1 20 2-40 1 27 2-8 1-10 2-25 1 36 1-4 2-7 1-38 2 28 1-43 2 77 1-74 2 39 1-12 2 12 1-24 2 93 1-48 2-2 1 25 2 4 1-12 2-11 1 2 2-18 1-7 2-5 1-22 2 6 1-1 2-11 1 22 2-8 1-52 2 101 1-30 2 36 1-5 2 16 1 4 2-8 1-37 2 73 1 0 2 0 1 9 2 52 1-40 1-3 2-21 1 54 2-54 1 64 2-136 1 82 2 15 1 14 2-49 1 97 2-72 1 4 2 15 1-23 2-36 1 68 2-51 1 70 2-59 1 45 2-36 1 18 2-58 1 75 2-31 1 88 2-53 1 7 2-27 1-3 2 18 1 46 2-77 1 12 2 53 1 38 2-53 1 13 2-23 1 64 1-87 2 43 1-30 2 51 1-42 2 7 1 22 2-3 1-49 2 70 1-42 2 24 1-12 2 5 1-50 2 69 1 4 2 20 1-11 2-9 1 31 2 0 1 18 2-4 1-19 2 8 1-7 2 65 1-63 2-13 1 54 2 21 1-60 2 41 1-32 2 68 1-58 2 30 1-48 2 60 1-13 2 44 1-73 1 50 2-28 1 21 2-28 1 58 2-73 1 20 2-31 1 22 2-18 1 66 2-50 1 18 2-32 1 36 2-13 1-42 2-29 1 48 2-10 1 62 2-108 1 43 2 2 1-15 2-6 1 1 2-32 1 35 2-13 1 20 2-57 1 28 2-43 1 59 2-50 1 69 2-37 1-36 2 16 1 2 1-43 2 45 1-17 2-6 1 21 2-10 1 4 2-55 1 53 2-13 1-31 2 19 1 6 2 43 1-55 2 35 1-16 2 5 1-67 2 47 1-11 2-15 1-24 2 79 1-25 2-27 1-76 2 66 1 24 2-21 1-30 2 50 1-16 2 79 1-58 2-7 1-5 2 17 1-59 2 36 1 12 1 28 2-70 1 54 2 0 1-3 2 7 1 6 2-40 1 68 2 0 1-16 2-26 1 21 2-2 1-19 2-10 1 38 2-41 1 46 2-51 1 102 2-86 1 41 2 48 1 6 2-33 1 10 2 11 1 16 2-57 1 42 2-68 1 52 2 16 1 7 2-56 1 55 2-60 1 59 2-43 1 14 2-38 1-13 1 31 2 42 1-40 2 1 1 2 2 24 1-26 2 69 1-76 2 81 1-33 2-56 1 22 2 53 1-62 2 58 1-28 2 7 1-15 2 48 1-17 2-12 1-49 2 80 1-49 2 64 1-48 2 47 1-30 2 5 1-22 2 61 1-62 2 37 1-17 2 35 1-18 2 20 1-8 1 13"/>
<path class="s" stroke="#328c06" d="M82 698l2 55 1-65 2 61 1-48 2 42 1-17 2-11 1-39 2 41 1 10 1-7 2-38 1-17 2-2 1 72 2-58 1 60 2-87 1 57 2 10 1-4 2 11 1-18 2-9 1 46 2-40 1 44 2-61 1 34 2-1 1-4 2 4 1 22 2-48 1 19 2 4 1 14 2-27 1 43 2-53 1 57 2 1 1-13 2-26 1 58 2-67 1 82 2-99 1 101 2-41 1-26 1 32 2 38 1-70 2 58 1-64 2 75 1-44 2 30 1-67 2 48 1 50 2-3 1-66 2 57 1-63 2-23 1-16 2 36 1-35 2 49 1-8 2 80 1-41 2-36 1-15 2 46 1-60 2 31 1-52 2 8 1-13 2 57 1-42 2 21 1-38 2 28 1-28 2 37 1 16 2 27 1-50 1 39 2-64 1 43 2-63 1 23 2-17 1 41 2 9 1 54 2-65 1 65 2-82 1 55 2-46 1 69 2-77 1 43 2-50 1 44 2 12 1-12 2-73 1 71 2-42 1 49 2 2 1 8 2-38 1-2 2-12 1 33 2-36 1 20 2-30 1 85 2-121 1 111 2-88 1 45 2-46 1 71 2-45 1 38 1-46 2 24 1-28 2 37 1-25 2-2 1-32 2 7 1 0 2 72 1-35 2-31 1-16 2 37 1-14 2 54 1-65 2 79 1-42 2 29 1-42 2 106 1-85 2 64 1-45 2 47 1-30 2 62 1-20 2 47 1-19 2 8 1-12 2 15 1-17 2 30 1-38 2 38 1-17 2-12 1-22 1 59 2-33 1 27 2-40 1 66 2-11 1 20 2-39 1 30 2-22 1 31 2-4 1 62 2-82 1 0 2-21 1 25 2-38 1 46 2-39 1 12 2-32 1 31 2-54 1 19 2 0 1 32 2-35 1 38 2 0 1 21 2-28 1 70 2-54 1 29 2-59 1 19 2 5 1-4 2-27 1 61 2-24 1-2 1-20 2 33 1-28 2 30 1-74 2 56 1 21 2 4 1-8 2 76 1-83 2 13 1-11 2 0 1 21 2 2 1-54 2 51 1-28 2 35 1 13 2-20 1 28 2 2 1 5 2 63 1-40 2 43 1-69 2 40 1-39 2 32 1-29 2-32 1 7 2 29 1-3 2 8 1-68 2 45 1-76 1 49 2-20 1 20 2-83 1 57 2-24 1 47 2-68 1-21 2 8 1 8 2-27 1 35 2-37 1 81 2-29 1 33 2-63 1 32 2-13 1 49 2-47 1 74 2-64 1 57 2-44 1 44 2-37 1-10 2-5 1 12 2-43 1 69 2-36 1 34 2-58 1 13 2-2 1 25 2-42 1 36 2-60 1 21 1 2 2 25 1-34 2 8 1-3 2 71 1-83 2 35 1-56 2 56 1 5 2-22 1 3 2 52 1-43 2-6 1-59 2 82 1-34 2-22 1 16 2 47 1-67 2 52 1-67 2 48 1-20 2-10 1-22 2 28 1-3 2 5 1-32 2 74 1-54 2-19 1-22 2 76 1-53 2 39 1-2 1 41 2-35 1 38 2-53 1 33 2-24 1 63 2-65 1 27 2-26 1 9 2 43 1-9 2-52 1 77 2-42 1 45 2-27 1-54 2 41 1 9 2-24 1 43 2-17 1 19 2-22 1 20 2-2 1 58 2-63 1 45 2-24 1 25 2-6 1 49 2 0 1-12 2-43 1 79 2-34 1 21 1-31 2 35 1-55 2 46 1-3 2 7 1-1 2 39 1-96 2 90 1-29 2 5 1-39 2 8 1-3 2 42 1-79 2 77 1-5 2 21 1-28 2 33 1-59 2 68 1-29 2 23 1-52 2 82 1-28 2 39 1-31 2 21 1-63 2 81 1-12 2 10 1-47 2 45 1-30 2 60 1-15 2 16 1 6 1-24 2-23 1-16 2-1 1 47 2-40 1-1 2-2 1-4 2-47 1 60 2-41 1 44 2-65 1 11 2 1 1 18 2-25 1 13 2-14 1 39 2-52 1 32 2-37 1 33 2-22 1 47 2-30 1 87 2-75 1 30 2-16 1 22 2-58 1 39 2-1 1-17 2 15 1-14 2 4 1 11 1-18 2-12 1 16 2 19 1-33 2 11 1-53 2 48 1 4 2-38 1 53 2-23 1-21 2 24 1-18 2 7 1-22 2 14 1-19 2 18 1 16 2 24 1-32 2 44 1-93 2 71 1-21 2-12 1-39 2 54 1-23 2 11 1-38 2 5 1 39 2-23 1-45 2 49 1-53 2 25 1-64 2 32 1-2 1 16 2-63 1 39 2-23 1 56 2-50 1 75 2-52 1 21 2-60 1 40 2-35 1-11 2-22 1 43 2-35 1 41 2-10 1-29 2 59 1 5 2-36 1 41 2-73 1 37 2 4 1 28 2-31 1 28 2-2 1-12 2 17 1-42 2 14 1 40 2-7 1-5 2 3 1 19 2-41 1 77 1-78 2 51 1-40 2 3 1-5 2 26 1-16 2 19 1-2 2-1 1 13 2 16 1-29 2 9 1-47 2 47 1-51 2 38 1-32 2 24 1-37 2 53 1-62 2 39 1-9 2 38 1-54 2 39 1-58 2 42 1-70 2 70 1-42 2-6 1-2 2 13 1-31 2 14 1-14 2 28 1-66 1 41 2-35 1 72 2-51 1 55 2-18 1 47 2-38 1 3 2 9 1 36 2 20 1-53 2-21 1 61 2-62 1 15 2-14 1 45 2-16 1 3 2-70 1 62 2 6 1-4 2-22 1 62 2-38 1-6 2-37 1 62 2-10 1 11 2-43 1 47 2-16 1 8 2-9 1 53 2-98 1 71 2-23 1-2 1-36 2 59 1-46 2 22 1-59 2 83 1-44 2 17 1-32 2 45 1-18 2 42 1-16 2 4 1-36 2 81 1-5 2-10 1-15 2-2 1-16 2 58 1-28 2-10 1-8 2-3 1-18 2 38 1-34 2-37 1 29 2-25 1-6 2 1 1-6 2-17 1 53 2-14 1-37 2 36 1 19 1 0 2-5 1 64 2-49 1-8 2 29 1 13 2 10 1-25 2-9 1 77 2-52 1 7 2-5 1 45 2-28 1 4 2-35 1 35 2-29 1 66 2-58 1 84 2-38 1 0 2-11 1 15 2-27 1 25 2-58 1 24 2 15 1-48 2-1 1 31 2-9 1 51 2-92 1 46 2-33 1 3 2-26 1 64 1-11 2 48 1-25 2 4 1-49 2 26 1-43 2 70 1-35 2 14 1-43 2 53 1-52 2 69 1-56 2 32 1-44 2 48 1-37 2 22 1-32 2 50 1-38 2-4 1-1 2-31 1 14 2 20 1-1 2-27 1 37 2 13 1 1 2-16 1 8 2 14 1-50 2-9 1 2 2 60 1-46 1 58 2-1 1 13 2-13 1 27 2-17 1 34 2-27 1 53 2-76 1 41 2 2 1 18 2 21 1-8 2 4 1 106 2-76 1 7 2-37 1 52 2-21 1 21 2-40 1 45 2-46 1 5 2-8 1 49 2-27 1-5 2 27 1-17 2-3 1 40 2-29 1-21 2-4 1 26 2-45 1 60 1-47 2-5 1 7 2 1 1 3 2-16 1 25 2 3 1 0 2 54 1-28 2 7 1-13 2 26 1-15 2 30 1-57 2 19 1-30 2 41 1 10 2-1 1-13 2-5 1 7 2 18 1-22 2 32 1-54 2 70 1-67 2 22 1-13 2 45 1-29 2 7 1-25 2 43 1-59 2 29 1-56 2 77 1-42 1 8 2-49 1 33 2-7 1 20 2 12 1 5 2-24 1 20 2-37 1 59 2-84 1 88 2-36 1 24 2-47 1 41 2 4 1 19 2-13 1 5 2 5 1-20 2-25 1 69 2-76 1 75 2-60 1 28 2-2 1 6 2-15 1 23 2-34 1 70 2-90 1 37 2-19 1 23 2-46 1 22 1-29 2 50 1-33 2 7 1-14 2 44 1 4 2-49 1 6 2 10 1 25 2 13 1-39 2 51 1-31 2 32 1-65 2 24 1-24 2 25 1 5 2 13 1-19 2 23 1-14 2 38 1-60 2-4 1-13 2 49 1-15 2 16 1 13 2 2 1 23 2-7 1-14 2-9 1-6 2-6 1 24 2 1 1-78 1 69 2-8 1-7 2-46 1 28 2-20 1 34 2-14 1 14 2-47 1 8 2-14 1 62 2-67 1 75 2-28 1 35 2-56 1 59 2-1 1-12 2-28 1-23 2 11 1 31 2-33 1 2 2-3 1 8 2-39 1 36 2-5 1 12 2-29 1 38 2-37 1 15 2 6 1-49 2-8 1-12 1 2 2 24 1-32 2 36 1-17 2 56 1-52 2-13 1-11 2 1 1-20 2 9 1 20 2 14 1-71 2 76 1-59 2 63 1-68 2 46 1 9 2 12 1-81 2 14 1 36 2 6 1-33 2 15 1-32 2 20 1 16 2 30 1-85 2 17 1 24 2 30 1-42 2 47 1-39 2 1 1 27 1-25 2-32 1 27 2-45 1 49 2-30 1 9 2-8 1-5 2-38 1 37 2-73 1 77 2-61 1 35 2-17 1-6 2-33 1 64 2-32 1-15 2 52 1 7 2-41 1 5 2 18 1-13 2 5 1 16 2-8 1 13 2-28 1 25 2-4 1 28 2-7 1 23 2-56 1 63 2-24 1 63 2-49 1 34 1-25 2-16 1-10 2 23 1-23 2 5 1 12 2 2 1-19 2 22 1-25 2 57 1-46 2 49 1-36 2 14 1-15 2 31 1-36 2 13 1 21 2 9 1 1 2 46 1-20 2 13 1-10 2 54 1-46 2-4 1-14 2 23 1-27 2-16 1 12 2-32 1 3 2 27 1-45 1 63"/>
<path class="s" stroke="#c10c90" d="M82 532l2 33 1-74 2-3 1-17 2 15 1-23 2 54 1-49 2 16 1 20 1 14 2-83 1 65 2-69 1 52 2-42 1 63 2-38 1 50 2-94 1 75 2-68 1 33 2-65 1 66 2-43 1 29 2 0 1 6 2-28 1 38 2-20 1-18 2 4 1 28 2-1 1 0 2-23 1 46 2-56 1 61 2-77 1 37 2-33 1 38 2-103 1 93 2-58 1 22 2 21 1 6 1-60 2 24 1 3 2 49 1-62 2 87 1-114 2 57 1-48 2 57 1-63 2 62 1-115 2 114 1-55 2-31 1 4 2 7 1 0 2 23 1-22 2-41 1-5 2 28 1-6 2 25 1 6 2-11 1-18 2 31 1-53 2 34 1-18 2 37 1-61 2 14 1 6 2-2 1-89 2 78 1-8 1 89 2-20 1-5 2 17 1 35 2-76 1 32 2-49 1 86 2-116 1-22 2 46 1-19 2 3 1 70 2-7 1 61 2-107 1 32 2-8 1-14 2 5 1 72 2-49 1 46 2-55 1 30 2-55 1 105 2-118 1 45 2 3 1 44 2-50 1 61 2 3 1-9 2-8 1-38 2-14 1 40 2-25 1 55 1-52 2 45 1-89 2 119 1-61 2 41 1-53 2 45 1-20 2 24 1-42 2 99 1-79 2 53 1-57 2 51 1-28 2 23 1-11 2 61 1-79 2 77 1-33 2 79 1-76 2 26 1-101 2 108 1-67 2 5 1-1 2 12 1-9 2 47 1-92 2 89 1-59 2 53 1 1 2-10 1-3 1 56 2-58 1 17 2-94 1 101 2-10 1 26 2-81 1 100 2-21 1 20 2-43 1 2 2-5 1-13 2-16 1 39 2-12 1-1 2-17 1 44 2-60 1 13 2 33 1 46 2-87 1-5 2-27 1 136 2-106 1 10 2-16 1 59 2-12 1 29 2-63 1 34 2-10 1-5 2-11 1 38 2-33 1-14 1 5 2 21 1-123 2 148 1-93 2 74 1-45 2 47 1-85 2 19 1 3 2 60 1-91 2 37 1 4 2 42 1-59 2-5 1-4 2 6 1 21 2 31 1-90 2 92 1-114 2 90 1-61 2-11 1-31 2 97 1-69 2 84 1-73 2 72 1-67 2 74 1-68 2 60 1-58 2 40 1-66 1 48 2 16 1-4 2 38 1 12 2-37 1 47 2-37 1 22 2-84 1 79 2-58 1 35 2-10 1 25 2-28 1 107 2-74 1 53 2-71 1-17 2-40 1 31 2 17 1 27 2-49 1 101 2-48 1-7 2 11 1 70 2-81 1 81 2-12 1-21 2 38 1-23 2-21 1 47 2-50 1 39 2-25 1 51 1-39 2 19 1 40 2-53 1-6 2 66 1-35 2 34 1-29 2-17 1-3 2 57 1-31 2 35 1-98 2 55 1 18 2 16 1 12 2 14 1-15 2 38 1-38 2 31 1 16 2 1 1-42 2 7 1 31 2-5 1-65 2 102 1-57 2 78 1-57 2 37 1-29 2 38 1-58 2-13 1-15 1 0 2 1 1 1 2-8 1 36 2-19 1 28 2 16 1-28 2-59 1-6 2 4 1 8 2-64 1 66 2-17 1 25 2-52 1 34 2-8 1 1 2-41 1 3 2-31 1-7 2-49 1 74 2-15 1 25 2-35 1-29 2 4 1-11 2 36 1 33 2-65 1 87 2-107 1 98 2-46 1 21 1 30 2-2 1-12 2 44 1-31 2 83 1-68 2 40 1-79 2 52 1-38 2 15 1-76 2 48 1-7 2 19 1-5 2 32 1-83 2 111 1-66 2 66 1-78 2 39 1-56 2 48 1-64 2 83 1-34 2 21 1-18 2 37 1-55 2-15 1-22 2 80 1-54 2 5 1 11 2 9 1-41 2 7 1-2 1 23 2-21 1 86 2-102 1 62 2 18 1-54 2-39 1 106 2-119 1 68 2 7 1 4 2-60 1 55 2-33 1 58 2-76 1-8 2-11 1 40 2 18 1 46 2-76 1 46 2-81 1 80 2-44 1 93 2-88 1 30 2-73 1 81 2-45 1 23 2-60 1 68 2-40 1 45 2 4 1 18 1-76 2 85 1-60 2 25 1-47 2 92 1-79 2 64 1-53 2 116 1-16 2 21 1-15 2 52 1-27 2-1 1-68 2 67 1-71 2 58 1-62 2 10 1-29 2 25 1-20 2 6 1-16 2 61 1-72 2 11 1-42 2 66 1-16 2 18 1-50 2-1 1 28 2 87 1-104 2 28 1-23 2 46 1 14 1 7 2-58 1 67 2-18 1-11 2 27 1 11 2 18 1-13 2-41 1 81 2-59 1 49 2-68 1-22 2 7 1 2 2-60 1 107 2-94 1 51 2-6 1 21 2-43 1 49 2-96 1-35 2 47 1 30 2-90 1 63 2-28 1 49 2-84 1 6 2 43 1-17 2-38 1 11 2 19 1 28 1-68 2 62 1-58 2 54 1-17 2 58 1-50 2 78 1-136 2 97 1-47 2 27 1-65 2-16 1-8 2 93 1-49 2 53 1-1 2-2 1-63 2 71 1-55 2 37 1-7 2-6 1-75 2 87 1-17 2-15 1 4 2-63 1-18 2 85 1-5 2 66 1-53 2 34 1-36 2 30 1 8 1 42 2-35 1-17 2-13 1 16 2-15 1-22 2 56 1-20 2-14 1 5 2-37 1 39 2-87 1 55 2-129 1 101 2-20 1 45 2-49 1-8 2 43 1-23 2-4 1 5 2 59 1 128 2-97 1 18 2-69 1 96 2-87 1 92 2-84 1 74 2-73 1 28 2-4 1 6 2-22 1 69 2-40 1 39 1-87 2 57 1 21 2 70 1-123 2 58 1-58 2 52 1-23 2 76 1 10 2-40 1-9 2 33 1-18 2 55 1-40 2 31 1-7 2 42 1-72 2 60 1-62 2 17 1-11 2 3 1-22 2 85 1-33 2 29 1-71 2 28 1-27 2 53 1-27 2 32 1-48 2 68 1-77 2 133 1-110 1 77 2-86 1 99 2-42 1 31 2-69 1 62 2-102 1 95 2-63 1 32 2-30 1 53 2-73 1 56 2-38 1 6 2 1 1 37 2-39 1 73 2-18 1-36 2 18 1 25 2-67 1-7 2 45 1 19 2-43 1 14 2 0 1 70 2-81 1 65 2-37 1-3 2 24 1-10 2-6 1 28 2-31 1 16 1-2 2-6 1 0 2 4 1-34 2 59 1-41 2 7 1-15 2 70 1-51 2 23 1 24 2-13 1-20 2 22 1-93 2 64 1-18 2 23 1-53 2 73 1-32 2-37 1-23 2 68 1-93 2 69 1-106 2 60 1-53 2 59 1-33 2 26 1-74 2 56 1-22 2 51 1-45 2 27 1-22 1 22 2-78 1 43 2-20 1 41 2-27 1-59 2 18 1 26 2-106 1 56 2 9 1-39 2-7 1-1 2-39 1 49 2 14 1 20 2-27 1 28 2-1 1 7 2-46 1 109 2-27 1-22 2-68 1 127 2-50 1 8 2 30 1-4 2-20 1 42 2-76 1 14 2-7 1 5 2-31 1 72 1-110 2 100 1-70 2 64 1-68 2 39 1-14 2 38 1-36 2 55 1-97 2 60 1-56 2 71 1-112 2 61 1 12 2-2 1-38 2 22 1-12 2 32 1-70 2 0 1-8 2 61 1-22 2 40 1-16 2-10 1 0 2 15 1-1 2 13 1-47 2 9 1-37 2 39 1-19 2 9 1 7 2-32 1-17 1 5 2-14 1 22 2 24 1 33 2-102 1 90 2-69 1 27 2-28 1 42 2 12 1 58 2-77 1 80 2-110 1 82 2-89 1 57 2-35 1 11 2 51 1-29 2-49 1 58 2-69 1 81 2-77 1 41 2 15 1 8 2-21 1 44 2-21 1 38 2-47 1 24 2-47 1-26 2-19 1 47 1-10 2 11 1-42 2 34 1-8 2 36 1-100 2 83 1-52 2 27 1-46 2 68 1-67 2 58 1-141 2 115 1-38 2 3 1-74 2 80 1-55 2 94 1-73 2 67 1-69 2 58 1-62 2-3 1-6 2 32 1-57 2 103 1-100 2 35 1-27 2 8 1 2 2-42 1 13 2 14 1 36 2-23 1-19 1 67 2-54 1 41 2 0 1 76 2-75 1 65 2-39 1 64 2-66 1 60 2-36 1 33 2-19 1-21 2 19 1 77 2-141 1 130 2-101 1 27 2-17 1 36 2-44 1 61 2 17 1-11 2-56 1 105 2-67 1 27 2-31 1 63 2-116 1 90 2-13 1-4 2-17 1-15 2 3 1-25 1 5 2 15 1-118 2 93 1 3 2 42 1-52 2 66 1-72 2 45 1-92 2 106 1-110 2 133 1-71 2 30 1-33 2 37 1-48 2 48 1-90 2 80 1-31 2 52 1-80 2 91 1-54 2 87 1-76 2 88 1-72 2 65 1-30 2-8 1 28 2 46 1-66 2-11 1 31 2 31 1-48 1 15 2 0 1 85 2-94 1 17 2 28 1-23 2-24 1 6 2 43 1 17 2-33 1 29 2-26 1 69 2-109 1 90 2-1 1 24 2-42 1 45 2-66 1 83 2-26 1-34 2 18 1 17 2-11 1-42 2-18 1 65 2-10 1 62 2-68 1-9 2-4 1 52 2-60 1 62 2-10 1-46 2 1 1 12 1-21 2 64 1-80 2 17 1 2 2-11 1 6 2 43 1-53 2 82 1-79 2 60 1-51 2 66 1-89 2 70 1-81 2 80 1-69 2-9 1 4 2 55 1-50 2 19 1-28 2-15 1 35 2 51 1-35 2 11 1-21 2 44 1 20 2-15 1-26 2 61 1-15 2 26 1-43 1 55"/>
</g>
<path class="h" stroke="#2a2eec" d="M1098.55 2926.10h44.9"/>
<text class="t8" x="1161.27" y="2935.00">Venezuela</text>
<path class="h" stroke="#fa7c17" d="M1098.55 2960.08h44.9"/>
<text class="t8" x="1161.27" y="2968.98">Colombia</text>
<path class="h" stroke="#328c06" d="M1098.55 2994.06h44.9"/>
<text class="t8" x="1161.27" y="3002.96">Ecuador</text>
<path class="h" stroke="#c10c90" d="M1098.55 3028.04h44.9"/>
<text class="t8" x="1161.27" y="3036.94">Panama</text>
<text class="t10 m" x="1526.47" y="2436.15">West - Type B</text>
<text class="t8 e" x="1068.35" y="2975.50">700</text>
<text class="t8 e" x="1068.35" y="2857.21">800</text>
<text class="t8 e" x="1068.35" y="2738.92">900</text>
<text class="t8 e" x="1068.35" y="2620.63">1000</text>
<text class="t8 e" x="1068.35" y="2502.34">1100</text>
<text class="t8" transform="translate(1103.77 3125.10) rotate(-45)">2022</text>
<text class="t8" transform="translate(1239.55 3125.10) rotate(-45)">2023</text>
<text class="t8" transform="translate(1375.34 3125.10) rotate(-45)">2024</text>
<text class="t8" transform="translate(1511.49 3125.10) rotate(-45)">2025</text>
<text class="t8" transform="translate(1647.28 3125.10) rotate(-45)">2026</text>
<text class="t8" transform="translate(1783.06 3125.10) rotate(-45)">2027</text>
<text class="t8" transform="translate(1918.84 3125.10) rotate(-45)">2028</text>
</g>
<g>
<rect x="2071.10" y="2452.05" width="895.85" height="608.85" fill="#eeeeee"/>
<path class="g" d="M2111.97 2452.05v608.85M2247.75 2452.05v608.85M2383.54 2452.05v608.85M2519.69 2452.05v608.85M2655.48 2452.05v608.85M2791.26 2452.05v608.85M2927.04 2452.05v608.85M2071.10 2937.40h895.85M2071.10 2804.70h895.85M2071.10 2672.00h895.85M2071.10 2539.30h895.85"/>
<g transform="translate(2071.10 2452.05) scale(.5)">
<path class="s" stroke="#2a2eec" d="M82 185l2 49 1-39 2-31 1 7 2 11 1 0 2-7 1 37 2-23 1-38 1 65 2-31 1 23 2-76 1 105 2-49 1 5 2-39 1 40 2-91 1 41 2 10 1 69 2-62 1 73 2-41 1 36 2-13 1 8 2 19 1 17 2 0 1 0 2-1 1 47 2-36 1-1 2-7 1 5 2 0 1 97 2-53 1 19 2-4 1-33 2 12 1 40 2-68 1 55 2 9 1-17 1 10 2 48 1-29 2 39 1-66 2 85 1-74 2 55 1-26 2 38 1-22 2 67 1-102 2 47 1-23 2-2 1-55 2 30 1-17 2 42 1 39 2-26 1-9 2-12 1-60 2 86 1-77 2 99 1-89 2 37 1-76 2 108 1-78 2 31 1-101 2 6 1 101 2-30 1 3 2-6 1-44 1 79 2-107 1 110 2-123 1 119 2-86 1 142 2-141 1 127 2-96 1 38 2-46 1 59 2-36 1 144 2-97 1 47 2-44 1 45 2-48 1 71 2-109 1 125 2-43 1 63 2-60 1 74 2-62 1-4 2-38 1 50 2 5 1-42 2-26 1 43 2-71 1 51 2-21 1-11 2 2 1 31 2-68 1 61 1 18 2 82 1-138 2 23 1 29 2 44 1-58 2 30 1-40 2 27 1-59 2 10 1-120 2 133 1-20 2-46 1-9 2 60 1-41 2-13 1-9 2 85 1-59 2 99 1-56 2 23 1-27 2 4 1 12 2 39 1-14 2 11 1-34 2 65 1-123 2 96 1 6 2 48 1-39 2 50 1-15 1 17 2-48 1 37 2-3 1 75 2-67 1-1 2 26 1 45 2-12 1 19 2-56 1 68 2-73 1 23 2 23 1-25 2-100 1 73 2 5 1 11 2-55 1 3 2-30 1 13 2-28 1 15 2-9 1 19 2-36 1 11 2-24 1 47 2-26 1 18 2-48 1 65 2-8 1-36 2-38 1-5 2-30 1 38 1 28 2-30 1-97 2 45 1 58 2 16 1-59 2 65 1-93 2 31 1 6 2-42 1 49 2 41 1 4 2-12 1-40 2 60 1 16 2 56 1-7 2-27 1-80 2 52 1-6 2 86 1-53 2 47 1-70 2 36 1-61 2-3 1-24 2 51 1-21 2 15 1-52 2 63 1-62 2 21 1-20 1 3 2 52 1 10 2-116 1 157 2-100 1-4 2 6 1 30 2-66 1 79 2-59 1 65 2-46 1-37 2 26 1 16 2-74 1 52 2-100 1 138 2-157 1 74 2-73 1 24 2 5 1-29 2-47 1 51 2-59 1 122 2-124 1-25 2-15 1 67 2-7 1-44 2-57 1 11 2 4 1 81 2-23 1-14 1-4 2 39 1 11 2-76 1 8 2 27 1-75 2 95 1-63 2 45 1-68 2 67 1-13 2-29 1 64 2 16 1-57 2-42 1 44 2 29 1-50 2 58 1-25 2 31 1-84 2 71 1-57 2 14 1 79 2-11 1 10 2 56 1-85 2-11 1-29 2 126 1-101 2 15 1-26 2 55 1-101 1 27 2 22 1 54 2-79 1 61 2-22 1-23 2-57 1 84 2-15 1 25 2-25 1-2 2-60 1 93 2 18 1 3 2-61 1 79 2-40 1 31 2-37 1-27 2 12 1 62 2-57 1 82 2-120 1 139 2-50 1-5 2-24 1 107 2-139 1 118 2-60 1 81 2-54 1 29 2-27 1 75 1-88 2 78 1-30 2 32 1-43 2 4 1-24 2 0 1 40 2 24 1-60 2 41 1-62 2 113 1-187 2 154 1-118 2 44 1-17 2-78 1 85 2 45 1-41 2-75 1 37 2 65 1-35 2 18 1 35 2 10 1-100 2 104 1-58 2-1 1 41 2 5 1-63 2 12 1-45 2 20 1-14 2 142 1-57 1-46 2 38 1 43 2-41 1 94 2-85 1-74 2 34 1 39 2-87 1 52 2-14 1 26 2-5 1 37 2-62 1 51 2-36 1-10 2-30 1 137 2-33 1 24 2-64 1 88 2-73 1 56 2-61 1 77 2-41 1-3 2 69 1-10 2-60 1 19 2 21 1 35 2-62 1 73 2-57 1 24 1 10 2 0 1-50 2 121 1-82 2 50 1 37 2 0 1-63 2 54 1-29 2 56 1-35 2-29 1-20 2 64 1-32 2-34 1 31 2 65 1-25 2-11 1 16 2 45 1-52 2 62 1-106 2 64 1-13 2-10 1-72 2 89 1-44 2 38 1 22 2-60 1-1 2-8 1 16 2-41 1 15 2 59 1-99 1 24 2 16 1 99 2-136 1 32 2-99 1 54 2-12 1 4 2-13 1 78 2-40 1-1 2-17 1-78 2 25 1 68 2-86 1 53 2-34 1-18 2 34 1 21 2-50 1 70 2-91 1 69 2-76 1 93 2-64 1 13 2-38 1 42 2-31 1 71 2-24 1 22 2-62 1 49 2 15 1-42 1-66 2 114 1-96 2 77 1-73 2 25 1-39 2 62 1-56 2 90 1-36 2-43 1 35 2 24 1-53 2 60 1-22 2 50 1-59 2 71 1-91 2 78 1-32 2 8 1-44 2 26 1-24 2 106 1-86 2 39 1 10 2 11 1-215 2 133 1-44 2-19 1 34 2 87 1-59 2 26 1 10 1-33 2-58 1 89 2-75 1 105 2-94 1 35 2-21 1 49 2-95 1 107 2-69 1 24 2-7 1 32 2-57 1 15 2 30 1-46 2-46 1 75 2-75 1 89 2 10 1-98 2 21 1 37 2-45 1 78 2-35 1 13 2-101 1 117 2 15 1 61 2-114 1 106 2-81 1 82 2-68 1 98 2-102 1 29 1-86 2 121 1-49 2 20 1-71 2 51 1 8 2 23 1-102 2 110 1-61 2 57 1 24 2-85 1 44 2-38 1-17 2-1 1 23 2-18 1 41 2-19 1-31 2 118 1-56 2-1 1 75 2-20 1-59 2 45 1-59 2 64 1-10 2 61 1-41 2 48 1-81 2 34 1 28 2 56 1-122 1 42 2-7 1 20 2 50 1-21 2-71 1 59 2-30 1 27 2-25 1 59 2-54 1 16 2-22 1 69 2-20 1 28 2-71 1 35 2-11 1 102 2-164 1 35 2-45 1 107 2-123 1 55 2-28 1 79 2-35 1-41 2 3 1 21 2-56 1 79 2-17 1-13 2 6 1-22 2-6 1 11 2-29 1 58 1-64 2 39 1-36 2 60 1 4 2-59 1-56 2 126 1-39 2-22 1 7 2 39 1-20 2 28 1-101 2 84 1-74 2 108 1-57 2 13 1-21 2 41 1-71 2 74 1-45 2-5 1-24 2 46 1-35 2 98 1-75 2 27 1-40 2 38 1-24 2 25 1-41 2 8 1-4 2 56 1 22 1 18 2-45 1-15 2-52 1 25 2-28 1 38 2 37 1-3 2-41 1-28 2-10 1 97 2-37 1 29 2-117 1 164 2-130 1 107 2-105 1 121 2-101 1 17 2-27 1 60 2 28 1-31 2-25 1-6 2 43 1 97 2-179 1 70 2-26 1 46 2-34 1 22 2-3 1 20 2-58 1 68 1-19 2-29 1 62 2-17 1 34 2-21 1-57 2 136 1-133 2 62 1-26 2-2 1-16 2 17 1-38 2 82 1-128 2 116 1-44 2-15 1-117 2 107 1-77 2 45 1-34 2 81 1-71 2 119 1-149 2 122 1-59 2-11 1 19 2 68 1-5 2-26 1-110 2 57 1-79 2 111 1-97 2 89 1-55 1-56 2-9 1 120 2-71 1-47 2-26 1 23 2 9 1 2 2-14 1-11 2-10 1 50 2-63 1 64 2-8 1 102 2-150 1 137 2-108 1 34 2-38 1 71 2-86 1 71 2-55 1 67 2-43 1 35 2-70 1-8 2 27 1 41 2-82 1 11 2-27 1 65 2-28 1 20 2-3 1-8 1-69 2 136 1-82 2 38 1-86 2 44 1-13 2-11 1-55 2 93 1-48 2 8 1 61 2 74 1-71 2 15 1-22 2 72 1-73 2 13 1-36 2 139 1-101 2 74 1-132 2 192 1-103 2 15 1-43 2 63 1-36 2-17 1-4 2 49 1-90 2 22 1-15 2 55 1-54 2 44 1-46 2 27 1 22 1 7 2-104 1 44 2-1 1 57 2-49 1 75 2-53 1-11 2 5 1 11 2-103 1 137 2-31 1 32 2-18 1 42 2-51 1-4 2 27 1 2 2-28 1-10 2-56 1 63 2-98 1 79 2-61 1 77 2-101 1 69 2-27 1 55 2-2 1-76 2 44 1 1 2-16 1 47 2-18 1 22 1-73 2 82 1-12 2 19 1-93 2 95 1-86 2-6 1 35 2 1 1-89 2 100 1-109 2 39 1 8 2 30 1-58 2 121 1-107 2 117 1-49 2 5 1 8 2 19 1-57 2 16 1 53 2 46 1-103 2 33 1-37 2 8 1-24 2 61 1-18 2-37 1 34 2 64 1-16 2-17 1-43 1 51 2-67 1 81 2-42 1 53 2-23 1 37 2-8 1 63 2-68 1-14 2-4 1 22 2-39 1 94 2-144 1 43 2 16 1-5 2 42 1-37 2-28 1 10 2-18 1 147 2-191 1 155 2-44 1 7 2-42 1 110 2-68 1 60 2-54 1 15 2-13 1 63 2-82 1 44 2-33 1 42 2-4 1-8 1 18 2-2 1 19 2 87 1-113 2 44 1-22 2 14 1-112 2 67 1-30 2 25 1-1 2 16 1-52 2 27 1 18 2 78 1-76 2 43 1-94 2 95 1-76 2 104 1-143 2 114 1-29 2-1 1 36 2-66 1-7 2 125 1-121 2 58 1-78 2 182 1-100 2 115 1-116 1 9"/>
<path class="s" stroke="#fa7c17" d="M82 546l2 50 1-63 2 41 1-39 2 27 1-59 2 122 1-60 2 21 1-106 1 52 2-48 1 29 2-40 1 97 2-57 1 75 2-46 1 75 2-73 1 17 2-16 1 49 2-12 1 42 2-115 1 138 2-115 1 78 2-67 1 84 2-92 1 52 2-60 1 16 2 16 1 22 2-36 1 30 2-65 1 60 2-68 1 120 2-165 1 152 2-106 1 89 2-36 1 73 2-48 1 19 1 1 2 23 1-58 2 86 1-39 2-22 1-38 2 30 1-89 2 80 1-45 2 23 1-41 2-21 1 19 2 154 1-165 2 34 1-14 2 39 1-54 2 68 1-89 2 91 1-39 2-46 1 3 2 34 1-51 2 24 1 1 2 68 1-21 2 21 1-48 2 37 1-18 2-14 1-5 2 72 1-31 1 31 2-73 1 42 2-62 1 25 2-20 1 145 2-60 1-8 2-70 1 75 2-59 1 59 2-75 1 49 2-35 1 87 2-60 1 80 2-104 1 58 2 2 1 20 2-71 1 66 2-97 1 14 2 0 1 114 2-128 1 40 2-19 1 59 2-11 1-8 2 6 1-28 2-2 1 61 2-26 1 7 2 7 1 21 1 3 2 96 1-120 2-15 1-16 2 126 1-18 2-12 1-20 2 91 1-141 2 121 1-30 2 24 1-33 2 26 1 3 2 30 1-2 2-31 1 23 2-18 1-18 2 56 1-43 2 27 1-98 2 90 1 0 2 30 1-30 2-33 1 14 2 15 1-32 2 59 1-92 2 76 1-8 2 40 1-146 1 47 2 18 1 51 2-68 1-2 2 22 1 45 2-68 1 42 2-69 1 8 2 14 1 8 2 3 1 34 2-24 1 49 2-42 1 66 2-102 1 77 2 12 1-32 2-27 1 35 2-54 1 56 2-51 1 27 2-37 1 4 2 67 1 7 2-55 1 15 2-28 1 72 2-86 1 21 2-15 1 26 2 1 1-4 1-37 2 42 1-28 2 13 1-13 2 14 1-37 2 70 1-95 2 41 1-57 2 75 1-72 2 113 1-22 2 36 1-63 2 70 1-66 2 61 1-50 2 96 1-125 2 111 1-30 2 33 1-29 2 20 1-6 2 9 1-10 2 50 1-59 2 53 1-24 2 23 1-18 2 16 1-36 2-27 1 15 1 34 2-20 1 35 2-65 1 35 2-91 1 63 2-39 1 65 2-35 1 87 2-81 1 34 2-34 1 73 2-40 1 77 2-27 1 29 2-52 1 41 2-89 1 90 2-33 1 0 2 75 1 17 2-54 1 5 2 1 1 72 2-64 1 68 2-106 1 101 2-89 1 85 2-150 1 115 2-40 1 37 2-82 1-2 1 54 2-14 1-14 2 9 1 5 2 1 1-5 2 56 1-102 2 84 1-28 2-7 1-16 2 26 1-55 2 28 1 11 2 80 1-115 2 32 1-22 2 53 1-49 2 25 1-15 2 88 1-2 2-51 1-10 2-7 1 32 2 104 1-125 2 15 1 25 2 28 1-25 2-27 1 29 2 28 1-64 1 90 2-45 1 12 2-20 1 6 2 17 1 24 2-72 1 99 2-51 1 10 2-23 1 32 2 23 1 55 2-112 1 39 2-22 1-8 2 73 1 16 2-48 1 27 2-81 1 126 2-75 1 40 2-5 1-27 2-32 1 35 2-61 1 77 2-75 1 14 2 6 1 11 2-4 1 29 2-15 1 9 1-30 2 55 1-52 2 33 1-83 2 6 1-1 2 57 1-42 2 34 1-21 2 30 1 15 2 17 1-71 2 82 1-138 2 124 1-48 2 33 1-34 2 5 1-19 2-35 1 45 2 20 1-75 2-5 1 5 2 24 1-9 2 3 1 13 2 20 1-29 2 82 1-19 2-27 1-16 2-14 1 38 2-46 1-3 1-2 2-34 1 13 2-47 1 74 2-44 1 33 2-65 1 55 2-89 1-8 2 44 1 8 2-14 1 42 2-15 1 63 2-91 1 14 2-29 1 28 2 17 1 56 2-95 1 38 2-51 1 13 2 28 1 40 2-12 1 12 2-50 1 44 2-56 1 119 2-77 1 18 2 33 1-40 2-6 1 28 1-45 2-12 1 16 2 38 1-46 2 13 1 5 2-34 1 13 2 49 1 7 2-22 1-13 2 41 1-45 2 16 1-36 2 21 1-50 2 95 1-48 2 30 1-28 2 6 1-4 2 32 1-27 2 18 1-28 2 7 1 47 2 11 1-47 2-1 1-46 2 101 1-94 2 58 1-61 2 113 1-61 2 21 1-16 1-34 2 26 1 34 2-65 1 95 2-83 1 3 2-3 1 84 2-113 1 32 2 32 1 24 2-87 1 46 2-47 1 41 2-51 1 146 2-89 1 90 2-40 1-1 2-84 1 43 2-2 1-3 2-17 1 40 2-36 1 48 2-49 1 61 2-83 1 49 2-20 1 33 2-82 1 53 2-54 1 73 1-44 2 38 1-52 2 63 1-30 2 23 1-45 2-22 1 46 2-9 1 16 2-24 1 14 2-71 1-15 2 52 1-53 2 37 1-33 2 39 1-68 2 56 1-65 2 37 1-49 2 95 1-87 2 95 1-31 2 73 1-72 2 23 1-11 2 46 1-6 2 42 1-43 2 42 1-41 2-12 1-45 1 55 2-76 1 90 2-32 1 38 2-76 1 72 2-24 1 9 2-15 1 36 2-22 1 22 2-22 1 20 2-69 1 70 2-34 1-27 2-15 1-25 2 26 1-33 2-14 1 11 2 1 1 29 2-102 1 62 2-14 1 26 2-78 1 29 2-34 1 17 2-33 1 61 2-12 1 38 2-68 1 80 2-35 1 36 1-14 2 0 1-30 2-30 1-34 2 130 1-141 2 58 1-7 2-26 1-38 2 128 1-105 2 25 1 21 2 29 1-97 2 68 1-46 2 60 1-24 2 4 1-6 2 28 1-63 2 14 1-10 2 39 1 12 2-28 1-52 2 55 1 11 2 38 1-88 2 93 1-53 2 33 1-57 2 68 1-33 1 23 2-96 1 132 2-100 1 79 2-68 1 61 2-19 1 23 2-52 1 34 2-41 1 61 2-43 1 25 2-61 1 79 2-42 1 48 2-30 1 51 2-8 1-46 2 57 1-2 2-57 1 28 2 18 1 13 2-46 1 50 2 0 1-30 2 33 1 68 2-93 1 80 2-51 1 65 2-34 1 14 2-87 1 11 1-9 2 69 1-46 2 48 1-13 2-10 1 22 2-34 1-28 2 74 1-31 2 23 1-32 2 12 1-28 2 1 1-20 2 29 1 1 2-25 1 3 2 4 1-10 2 32 1-18 2 20 1-33 2 26 1-134 2 99 1-75 2 119 1-73 2 14 1-1 2-40 1 39 2 32 1-34 2-24 1-1 1 37 2-54 1 79 2-67 1 81 2-90 1 91 2-30 1 67 2-8 1 35 2-70 1 66 2-94 1 71 2-39 1 97 2-108 1 90 2-78 1 46 2-67 1 163 2-123 1 51 2-78 1 34 2 25 1 11 2 2 1-28 2 43 1 6 2-37 1 26 2-52 1 99 2-48 1 32 2-64 1 119 1 1 2-30 1-38 2 22 1-88 2 92 1-63 2 67 1-28 2-48 1 17 2 43 1-64 2 70 1-78 2 68 1-15 2 8 1 7 2-4 1-26 2 34 1-47 2 42 1-68 2 68 1-29 2 12 1-3 2 17 1 10 2-1 1-39 2 23 1 4 2 36 1-5 2-66 1 14 2 46 1-91 2 57 1-73 1 55 2-70 1 21 2-22 1 47 2-103 1 69 2-40 1 37 2-55 1-10 2 29 1 60 2-69 1 18 2-87 1 53 2-14 1 90 2-124 1 41 2-30 1 15 2-2 1 42 2-2 1 10 2-54 1 51 2 10 1 31 2 8 1 86 2-131 1 38 2 7 1 1 2-38 1 24 2-23 1 80 1-48 2 79 1-45 2 25 1-34 2-55 1 30 2 47 1-67 2 9 1-15 2 16 1-60 2 72 1-98 2 28 1-66 2 94 1-62 2 14 1 21 2-35 1-5 2 4 1 21 2 96 1-127 2 7 1-7 2 2 1 18 2 21 1-106 2 125 1-44 2 11 1-46 2 43 1-54 2 54 1-94 2 30 1-12 1 130 2-143 1 137 2-106 1 51 2-42 1-10 2 1 1 68 2-82 1 65 2-38 1 41 2-36 1 30 2 4 1-13 2-4 1 91 2-81 1 52 2-16 1 39 2-38 1-5 2-15 1 71 2-72 1 58 2-84 1 30 2-46 1 104 2-71 1 64 2-109 1 51 2-23 1 75 2-30 1-14 1 1 2 86 1-102 2 48 1-53 2 7 1-77 2 46 1 27 2 16 1-5 2 76 1-86 2-42 1 73 2-27 1-2 2 7 1-79 2 32 1-14 2 52 1-47 2 49 1 9 2 1 1-54 2 113 1-21 2 9 1-16 2-29 1-42 2 51 1-53 2 41 1 19 2 29 1-35 2-4 1-30 1 74 2-92 1 115 2-66 1 20 2-28 1-5 2-33 1 47 2-32 1-13 2-36 1 35 2-28 1 38 2 7 1 48 2-19 1-29 2 20 1 16 2-70 1 98 2-98 1 7 2-17 1 49 2-41 1 26 2 18 1 37 2-103 1 38 2-59 1 25 2 7 1 12 2-25 1-55 2 59 1 9 2-1 1 34 1-6 2 46 1-59 2 58 1-23 2 17 1-35 2 60 1 29 2 23 1-39 2 22 1-40 2 52 1-32 2 53 1-58 2 64 1-92 2 46 1-55 2 91 1-10 2 28 1-52 2 60 1-34 2 71 1-61 2 39 1-21 2 51 1-58 2 117 1-54 2 13 1-70 2 51 1-74 1 67"/>
<path class="s" stroke="#328c06" d="M82 854l2 0 1 22 2-33 1-13 2 52 1-31 2 12 1-43 2 112 1-58 1 98 2-71 1 13 2-6 1 15 2 43 1-5 2 29 1-32 2 38 1 0 2-39 1 59 2-46 1 36 2-48 1-8 2 60 1 11 2-6 1 19 2-3 1-32 2 3 1 83 2-79 1-3 2 29 1 19 2-15 1-26 2 29 1 6 2-16 1 11 2-8 1 3 2-122 1 88 2-45 1 6 1-3 2 31 1 2 2 32 1-56 2 39 1-69 2 100 1-81 2 71 1-71 2 85 1-64 2 58 1-44 2 64 1-84 2 49 1-54 2-13 1-58 2 67 1-96 2 96 1-77 2 102 1-58 2 77 1-31 2 8 1-93 2 87 1-39 2 32 1-4 2 18 1-43 2 66 1-69 2 43 1-41 1 37 2-80 1 60 2-12 1 44 2-64 1 16 2-63 1 58 2-28 1 20 2-14 1 44 2-34 1 58 2-69 1 47 2-45 1-3 2-50 1 84 2-48 1 27 2-22 1 31 2-60 1 68 2-41 1 23 2-2 1-11 2 27 1-17 2-36 1 20 2 24 1-50 2 25 1 18 2-46 1 29 2 3 1 25 1-86 2 60 1-65 2 51 1-2 2 36 1-57 2 34 1-64 2 36 1 0 2-18 1-32 2 52 1-31 2 48 1-45 2 52 1-48 2 68 1-51 2 20 1-53 2 61 1-28 2 31 1-54 2 68 1-83 2 52 1-8 2-11 1-85 2 71 1-24 2 89 1-51 2 13 1-21 2 10 1 22 1-23 2 55 1 41 2-53 1 90 2-56 1 18 2 13 1 34 2-39 1 18 2-53 1 71 2 1 1 27 2-53 1-15 2-25 1 34 2-107 1 123 2-72 1 29 2-23 1 71 2-64 1-6 2-48 1 94 2-60 1 67 2-79 1 35 2-18 1 19 2 7 1-1 2-20 1 38 2-46 1 46 2-46 1 28 1-8 2 19 1-31 2 42 1-11 2 21 1-69 2 32 1 4 2 43 1-54 2 6 1-46 2 79 1-35 2 18 1-27 2 40 1-73 2 52 1-32 2 55 1-83 2 119 1-54 2 66 1-19 2 34 1-47 2-5 1-47 2 34 1-12 2 8 1-28 2 84 1-65 2 56 1-93 2 46 1-27 1 8 2 48 1-37 2-45 1 88 2-58 1 13 2-20 1 57 2-4 1 3 2 13 1 18 2-30 1 18 2-5 1 41 2 23 1-20 2 13 1 21 2-21 1-14 2-5 1 24 2-30 1 109 2-73 1 45 2-67 1 46 2-57 1 115 2-63 1 38 2-5 1 16 2-61 1 82 2-15 1 17 2-72 1 22 1-15 2-13 1-8 2 1 1 1 2 16 1-64 2 52 1-40 2-16 1-26 2 38 1-42 2 27 1-19 2 29 1-16 2 5 1-23 2 17 1 0 2 23 1-72 2 58 1-26 2 45 1-7 2-10 1-4 2 16 1-61 2 72 1-75 2 20 1-3 2 51 1-59 2 6 1-14 2 27 1-11 1-40 2-27 1 78 2-27 1 71 2-53 1 4 2-8 1 22 2 0 1-31 2-13 1 71 2-20 1 6 2-49 1 29 2-7 1 43 2-70 1 42 2-44 1 90 2-74 1 49 2-85 1 49 2-26 1 43 2-21 1 33 2-25 1 3 2-33 1 43 2-28 1 28 2-54 1 13 2 19 1 61 1-65 2 67 1-55 2 36 1-41 2 41 1-46 2 37 1-15 2-5 1-39 2 61 1-46 2 39 1-5 2-11 1-32 2 98 1-81 2 98 1-91 2-13 1 20 2 46 1-80 2 47 1 30 2 51 1-69 2 54 1-35 2-22 1-44 2 52 1-7 2-3 1 37 2-17 1-107 2 106 1-26 2 25 1-16 1 51 2-74 1-1 2-19 1 99 2-118 1 83 2-67 1 23 2-14 1 25 2-95 1 94 2-61 1 54 2-34 1 30 2-43 1 75 2-49 1 20 2-62 1 79 2-49 1 29 2-36 1 17 2-27 1 85 2-41 1 40 2-33 1 29 2-22 1 21 2-68 1 70 2-84 1 44 2 4 1-23 1-17 2 45 1 12 2-2 1-55 2 76 1-33 2 59 1-109 2 68 1-25 2 46 1-34 2 53 1-104 2 60 1-62 2 54 1-49 2 36 1-26 2 50 1-47 2 29 1-26 2 14 1-25 2 22 1-74 2 48 1-1 2 12 1-55 2 51 1-38 2 1 1 25 2-23 1-48 2 88 1-44 2 6 1-51 1 3 2-33 1 69 2-3 1 11 2-61 1 70 2-22 1 7 2 46 1-26 2-23 1 102 2-115 1 38 2-66 1 131 2-73 1 72 2-74 1 17 2-40 1 42 2-75 1 91 2-31 1 46 2-68 1 68 2-33 1-24 2 16 1 42 2-77 1 47 2-43 1 63 2-55 1 39 2-47 1 19 1 30 2-1 1 19 2-4 1-68 2 38 1-23 2 22 1-26 2 36 1-31 2 59 1-50 2 97 1-149 2 85 1 11 2-10 1-26 2 23 1-48 2 68 1-48 2 14 1-29 2 38 1 5 2 8 1 29 2-30 1 18 2-1 1-51 2 61 1-37 2 42 1-55 2 43 1-10 2 48 1-56 1 80 2-87 1 51 2-19 1 38 2-69 1 39 2-27 1-3 2-18 1 77 2-32 1 21 2-40 1 61 2-84 1 41 2 8 1-19 2-53 1 50 2 37 1-40 2 18 1 31 2-47 1 6 2-37 1 82 2-66 1 47 2-13 1 1 2-75 1 78 2-29 1 15 2 7 1-9 2-6 1 3 2-57 1 45 1-73 2 77 1-64 2 29 1-40 2 105 1-79 2 37 1 21 2-9 1-29 2-29 1 120 2-30 1-34 2 34 1-17 2 32 1-28 2 1 1 2 2 66 1-87 2 66 1-17 2 48 1-107 2 23 1 2 2 39 1-8 2 11 1-10 2 47 1-27 2 27 1-41 2 52 1-26 2 13 1-50 1 48 2-22 1 42 2-68 1 105 2-54 1 38 2-17 1 7 2 26 1-15 2-31 1-9 2 8 1 27 2-43 1 3 2-14 1 33 2 3 1-16 2 4 1-4 2-10 1-58 2 54 1 42 2-49 1 3 2-9 1-3 2-12 1 54 2-36 1 9 2-16 1 32 2 29 1-15 2-58 1 28 2-20 1 14 1-22 2-1 1 8 2 60 1-43 2-12 1 13 2-19 1-11 2 64 1-9 2 17 1-44 2 40 1-51 2 40 1-22 2 43 1-22 2 36 1-21 2-22 1 59 2-23 1-48 2 40 1-29 2 38 1-77 2-2 1 12 2 45 1-34 2 7 1-42 2 9 1-18 2 18 1-2 2 26 1-52 1 115 2-92 1 29 2-54 1 14 2 3 1 47 2-45 1-9 2 8 1 14 2-51 1 43 2-28 1 75 2-63 1 44 2-17 1 21 2-3 1 37 2-25 1 0 2 14 1 34 2-42 1 12 2-45 1 4 2 21 1 22 2-62 1 64 2-3 1-19 2-41 1 65 2-13 1-6 2-59 1 41 1 15 2-3 1-63 2 63 1-17 2 49 1-43 2-17 1 15 2 17 1-96 2 95 1-85 2 78 1-45 2 17 1-25 2 26 1-61 2 27 1-25 2 28 1-1 2 34 1-29 2 14 1-72 2 53 1-55 2 17 1-16 2 66 1-46 2-24 1 13 2 38 1-62 2 51 1-53 2 30 1-80 2 27 1 55 1 23 2-56 1 44 2-72 1 46 2-39 1-16 2-36 1 72 2 11 1-47 2-17 1 23 2-21 1 67 2-88 1 44 2-29 1 86 2-60 1-4 2-33 1 106 2-85 1 54 2-16 1 8 2 8 1 32 2-46 1 82 2-44 1 45 2-18 1-62 2 33 1-1 2-67 1 37 2-6 1 30 1-76 2 56 1-43 2 5 1-11 2 38 1-45 2 54 1-16 2-27 1-51 2 59 1-54 2 126 1-95 2 80 1-68 2 28 1-70 2 68 1-56 2 24 1-54 2 50 1-93 2 68 1-20 2 13 1-46 2 6 1-30 2 83 1-47 2-6 1 5 2 96 1-140 2-8 1-2 2-31 1 27 2 28 1-42 1 76 2-34 1 31 2-68 1 62 2 3 1 9 2 4 1 12 2-47 1 74 2-51 1 31 2-29 1 30 2-18 1 53 2-110 1 60 2-14 1 8 2 11 1 40 2 21 1-40 2-5 1 34 2-17 1-24 2-8 1 67 2-97 1 50 2-16 1 7 2-16 1 33 2-30 1 52 2-61 1 42 1-40 2 92 1-66 2 11 1 46 2-20 1-64 2 47 1 30 2 81 1-44 2-20 1-20 2 62 1-49 2 8 1-38 2 17 1-50 2 79 1-31 2 17 1 26 2-38 1 19 2 53 1-28 2 14 1-48 2 108 1-75 2-18 1-12 2 54 1-88 2 57 1-13 2 6 1-13 2 7 1-10 1 31 2-33 1 86 2-46 1-50 2-8 1 45 2-29 1 109 2-92 1 39 2-10 1 41 2-33 1 71 2 4 1-17 2 14 1 40 2-13 1 1 2-38 1 50 2-9 1-3 2 25 1 20 2-69 1 41 2-12 1 31 2-36 1 32 2-61 1 74 2-85 1 92 2-45 1 11 2-34 1 49 2-37 1 11 1-21 2 24 1-47 2 49 1-39 2 3 1-40 2 65 1-51 2 39 1-35 2 11 1-2 2 67 1-45 2 19 1-27 2 66 1-41 2 42 1-51 2 8 1-32 2 53 1-68 2 72 1-20 2-11 1-19 2 76 1-54 2 27 1 10 2 27 1-33 2 19 1-46 2 41 1 0 1-61"/>
<path class="s" stroke="#c10c90" d="M82 498l2 0 1 4 2 16 1 13 2-25 1-39 2 68 1-38 2 35 1-73 1 52 2-23 1-5 2-50 1 93 2-67 1-11 2-18 1 49 2-79 1 77 2-84 1 2 2 35 1-2 2 22 1 3 2-82 1 68 2-62 1 59 2-31 1 26 2-84 1 119 2-60 1 11 2-40 1 56 2-114 1 30 2-48 1 75 2-40 1 76 2-45 1 13 2 67 1 23 2-27 1 21 1-50 2 6 1-9 2 13 1-60 2 96 1-11 2-26 1 52 2 26 1-33 2 56 1-74 2 108 1-117 2 88 1-16 2-32 1-21 2 33 1-27 2-2 1-1 2 51 1-82 2 46 1-17 2 114 1-95 2 71 1-49 2 24 1-59 2 62 1-66 2 82 1-89 2 143 1-79 2 45 1-27 1 44 2-64 1 42 2-38 1 69 2-55 1 14 2 8 1 40 2-53 1 59 2-61 1 14 2-40 1 58 2-29 1 21 2-51 1 41 2-46 1 47 2 6 1 28 2-42 1 13 2-74 1 73 2-20 1 45 2-42 1 42 2-66 1 63 2-39 1 87 2-42 1 11 2-6 1-2 2-63 1 100 2-17 1-30 1-130 2 190 1-171 2 125 1-81 2 95 1-133 2 87 1 2 2 14 1 36 2-59 1-33 2 88 1-27 2 24 1-19 2 93 1-43 2 30 1-69 2 10 1-32 2 75 1-12 2 12 1-28 2 23 1-40 2-5 1 14 2 7 1-34 2 62 1-18 2-2 1-54 2 41 1-19 2 0 1-7 1 54 2-132 1 78 2-65 1 8 2 15 1 48 2-30 1 31 2-81 1 126 2-132 1 89 2-89 1 50 2-33 1 79 2-7 1 3 2-93 1 138 2-11 1-2 2-7 1 8 2 17 1-20 2 27 1 46 2-45 1-29 2 25 1 43 2-37 1 8 2-36 1 41 2 10 1-42 2 31 1-10 2-41 1 100 1-75 2 20 1-29 2 75 1-62 2 83 1-84 2 49 1-35 2 57 1 6 2 21 1-34 2 22 1 6 2 7 1-45 2 40 1-55 2 33 1-53 2 41 1 1 2 115 1-63 2 18 1-70 2 47 1-23 2 27 1-14 2-25 1-41 2 34 1-33 2 32 1-14 2 9 1-59 2 37 1-64 1 47 2-3 1-13 2-40 1 8 2 40 1-59 2-27 1 63 2-56 1 3 2-29 1 80 2-35 1 36 2 2 1-46 2 14 1 35 2-18 1 38 2-63 1 64 2-90 1 67 2-62 1 54 2-25 1 102 2-86 1 37 2-42 1-19 2 13 1-4 2 5 1-47 2-21 1 75 2-59 1 131 2-125 1 120 1-69 2-20 1 21 2 26 1-70 2 44 1-68 2 36 1 11 2 9 1-68 2 42 1 12 2 20 1-68 2 31 1-33 2 27 1-2 2-45 1 10 2 83 1-97 2 93 1-87 2 30 1-21 2 53 1-71 2 66 1-96 2 112 1-60 2-20 1 1 2 78 1-11 2 21 1-73 2 37 1 6 1 30 2-24 1-5 2-27 1 9 2-35 1 41 2-92 1 134 2-82 1 34 2-78 1 112 2-84 1 51 2-13 1 38 2-40 1 41 2-30 1 66 2-25 1 46 2-73 1 88 2-105 1 56 2-85 1 14 2 26 1-13 2 4 1-3 2-78 1 65 2-56 1 18 2 25 1 0 2-14 1-6 1-10 2 46 1-14 2 31 1 1 2-34 1 3 2 4 1-22 2 39 1-46 2 104 1-27 2-45 1-92 2 51 1 27 2 0 1-50 2 55 1-30 2 2 1-60 2 42 1 43 2-19 1-63 2 39 1-11 2 39 1-46 2-29 1 3 2-18 1-5 2-14 1 39 2 27 1-80 2 96 1-116 2 145 1-159 1 100 2-34 1 22 2-11 1-14 2-32 1 68 2-88 1 72 2 13 1-15 2-9 1 15 2-46 1 36 2-71 1 125 2-122 1 161 2-119 1 72 2-88 1 83 2-31 1 16 2-38 1-13 2-38 1 78 2-43 1 21 2-103 1 41 2-74 1 64 2-47 1 58 2-50 1 48 2-54 1 25 1 28 2 12 1-103 2 167 1-70 2 5 1-91 2 2 1 125 2-60 1-109 2 111 1-23 2 49 1-118 2 41 1 30 2 6 1-86 2 71 1-18 2-21 1 15 2 12 1-21 2-23 1-68 2 107 1-36 2-1 1 20 2-55 1-4 2 24 1 11 2 54 1-19 2 30 1-32 2 41 1-25 2-28 1 20 1-1 2 6 1-2 2 11 1-13 2-6 1-66 2-4 1 116 2-33 1 0 2-56 1 77 2 4 1-40 2-32 1 9 2 45 1 0 2-27 1 28 2-100 1 88 2-29 1 43 2-87 1 113 2-87 1 107 2-45 1 83 2-97 1 74 2-34 1 37 2-94 1 89 2-63 1 50 2-4 1 67 1-45 2 37 1-55 2 24 1-16 2 52 1-49 2 24 1-47 2 18 1-39 2 53 1-45 2 28 1-33 2 92 1-47 2 64 1-40 2 56 1-146 2 102 1 21 2-41 1 28 2-14 1 33 2 29 1-65 2 44 1-11 2 18 1-46 2 114 1-85 2 29 1-59 2 82 1-92 2 69 1-24 1 97 2-99 1 37 2-41 1 40 2-31 1 63 2-152 1 92 2-12 1 58 2-51 1 56 2-98 1 95 2-78 1 27 2 29 1 6 2-3 1 43 2-34 1 30 2-68 1 50 2-89 1 55 2-32 1 113 2-71 1 44 2-35 1 68 2-42 1 49 2-56 1 107 2-100 1 4 2-28 1 52 2-39 1 79 1-12 2-21 1 20 2 1 1 23 2 10 1-63 2 47 1-50 2 83 1-54 2 2 1-38 2 55 1-93 2 74 1-21 2-35 1 34 2 74 1-60 2 30 1-97 2 91 1 1 2-9 1 10 2 69 1-101 2 69 1-3 2 6 1-43 2 76 1 12 2-57 1-11 2 43 1 3 2-25 1-24 1 50 2-24 1 99 2-102 1-7 2 9 1-2 2 17 1-41 2 29 1 56 2-56 1 88 2-135 1 40 2-63 1 100 2-141 1 97 2-68 1 109 2-78 1 30 2-97 1 26 2 71 1-3 2 3 1 1 2-60 1 105 2-123 1 107 2-30 1 42 2-59 1-1 2-32 1 44 2-13 1 18 2-43 1 77 1-75 2 35 1-73 2 48 1-46 2 42 1-88 2 115 1-97 2 97 1-117 2 108 1 23 2-25 1-89 2 105 1-12 2 35 1-106 2 101 1-64 2 77 1-47 2 83 1-117 2 40 1-65 2 87 1-38 2 3 1-49 2 10 1-24 2 19 1-79 2 63 1-55 2 111 1-86 2 106 1-111 1 64 2-77 1 39 2 44 1-15 2-9 1 97 2-83 1 6 2-29 1 25 2-22 1 65 2-3 1-50 2 38 1 35 2-95 1 85 2-71 1 38 2-65 1 39 2 35 1 12 2-34 1 41 2-74 1 76 2-80 1 58 2-1 1 13 2-36 1 9 2-25 1 30 2 43 1-5 2-66 1 68 1-75 2 0 1 28 2-6 1 8 2-32 1-37 2 109 1-77 2 10 1-16 2 27 1-37 2 33 1-87 2 36 1 28 2 55 1-7 2-10 1 12 2 34 1-44 2 39 1-18 2 68 1-67 2 52 1 14 2-9 1-72 2 132 1-130 2 61 1-38 2 78 1-55 2 21 1-8 2 70 1-50 2-5 1 45 1 30 2-55 1 61 2-26 1-8 2-15 1 46 2-23 1 49 2-57 1-4 2-11 1 33 2-68 1 47 2 31 1-32 2-44 1 91 2-75 1 47 2 5 1-5 2-13 1 35 2-73 1 83 2-84 1 65 2 41 1-35 2-29 1 51 2-16 1 66 2-32 1-18 2-1 1 14 2-1 1-2 1-41 2 48 1-6 2 64 1-60 2 23 1-21 2 96 1-81 2-6 1 39 2 13 1-19 2-9 1-34 2 13 1-12 2-8 1-16 2 6 1 27 2-27 1-22 2 25 1-116 2 48 1 28 2-15 1-57 2 50 1-29 2 64 1-17 2-63 1-73 2 78 1 9 2-8 1-1 2-15 1-13 2 27 1-4 1 33 2-86 1 74 2-25 1 19 2-21 1 79 2-55 1 42 2 3 1-39 2 35 1 46 2-55 1 159 2-105 1-26 2-12 1 68 2-29 1-4 2-34 1 39 2-76 1 125 2-37 1-7 2-17 1 79 2-42 1-8 2-66 1 118 2-90 1 7 2-52 1 102 2 5 1 8 2-7 1-1 1 21 2-23 1-54 2 95 1-52 2 12 1-25 2-15 1-41 2 116 1-50 2 25 1-52 2 43 1-17 2 46 1 10 2 6 1-57 2 67 1-62 2 7 1-53 2 49 1-22 2 65 1 22 2 3 1-61 2 66 1-41 2 39 1-76 2 42 1-37 2 84 1-132 2 109 1-76 2 95 1-22 1 11 2-49 1 35 2-18 1 65 2-56 1 63 2-67 1-15 2-7 1 93 2-76 1 54 2-17 1 20 2 33 1-37 2 19 1 9 2-43 1 80 2-81 1 55 2-73 1 54 2-20 1 24 2-2 1 10 2-106 1 126 2-14 1-7 2 8 1 11 2 29 1-14 2-54 1 140 2-42 1 36 2-33 1 55 1-34 2 2 1-19 2 29 1-68 2 35 1 12 2 6 1 6 2-9 1 34 2 0 1-28 2 71 1-91 2 24 1-50 2 46 1-34 2 52 1-60 2 47 1-40 2 39 1-37 2 99 1-113 2 58 1-15 2 46 1-57 2 0 1-4 2-2 1-16 2 61 1-88 2 52 1-46 1-10"/>
</g>
<path class="h" stroke="#2a2eec" d="M2091.10 2482.10h44.9"/>
<text class="t8" x="2153.82" y="2491.00">Venezuela</text>
<path class="h" stroke="#fa7c17" d="M2091.10 2516.08h44.9"/>
<text class="t8" x="2153.82" y="2524.98">Colombia</text>
<path class="h" stroke="#328c06" d="M2091.10 2550.06h44.9"/>
<text class="t8" x="2153.82" y="2558.96">Ecuador</text>
<path class="h" stroke="#c10c90" d="M2091.10 2584.04h44.9"/>
<text class="t8" x="2153.82" y="2592.94">Panama</text>
<text class="t10 m" x="2519.03" y="2436.15">West - Type C</text>
<text class="t8 e" x="2060.90" y="2945.84">800</text>
<text class="t8 e" x="2060.90" y="2813.14">900</text>
<text class="t8 e" x="2060.90" y="2680.44">1000</text>
<text class="t8 e" x="2060.90" y="2547.74">1100</text>
<text class="t8" transform="translate(2096.32 3125.10) rotate(-45)">2022</text>
<text class="t8" transform="translate(2232.10 3125.10) rotate(-45)">2023</text>
<text class="t8" transform="translate(2367.89 3125.10) rotate(-45)">2024</text>
<text class="t8" transform="translate(2504.04 3125.10) rotate(-45)">2025</text>
<text class="t8" transform="translate(2639.83 3125.10) rotate(-45)">2026</text>
<text class="t8" transform="translate(2775.61 3125.10) rotate(-45)">2027</text>
<text class="t8" transform="translate(2911.39 3125.10) rotate(-45)">2028</text>
</g>
<g>
<rect x="3063.65" y="2452.05" width="895.85" height="608.85" fill="#eeeeee"/>
<path class="g" d="M3104.52 2452.05v608.85M3240.30 2452.05v608.85M3376.09 2452.05v608.85M3512.24 2452.05v608.85M3648.03 2452.05v608.85M3783.81 2452.05v608.85M3919.59 2452.05v608.85M3063.65 3000.85h895.85M3063.65 2879.66h895.85M3063.65 2758.47h895.85M3063.65 2637.29h895.85M3063.65 2516.10h895.85"/>
<g transform="translate(3063.65 2452.05) scale(.5)">
<path class="s" stroke="#2a2eec" d="M82 309l2 11 1 3 2 17 1-11 2 58 1-25 2 26 1-71 2 19 1-19 1 48 2-52 1 31 2-33 1-11 2 26 1 5 2-2 1 47 2-57 1 94 2-73 1 58 2-60 1 143 2-96 1 59 2 1 1-21 2-9 1 42 2-42 1-1 2 58 1 34 2-69 1 11 2-7 1 13 2-44 1 21 2 1 1 56 2-34 1 30 2-56 1-9 2 9 1 86 2-50 1-28 1 14 2 58 1-91 2 57 1-47 2 76 1-134 2 113 1-47 2 67 1-105 2 52 1-20 2-17 1-88 2 83 1-138 2 118 1 7 2-39 1-110 2 29 1-28 2 188 1-114 2 55 1-66 2-3 1-8 2 106 1-40 2-35 1 6 2 43 1-103 2 81 1-35 2 61 1-75 2 38 1-23 1 66 2-37 1 42 2-15 1 9 2-55 1 12 2-33 1 29 2-29 1 78 2-119 1 112 2-56 1-15 2 1 1-11 2-31 1 21 2 14 1 64 2-95 1 48 2-30 1-10 2-83 1 70 2 26 1 5 2 1 1 119 2-78 1 77 2-101 1 78 2-33 1-20 2-24 1 125 2-120 1 88 2-24 1 38 1-62 2 53 1-35 2 23 1-50 2 16 1-18 2 58 1-46 2 4 1-13 2 51 1-81 2 39 1-75 2 102 1-65 2-20 1-41 2 45 1-36 2 26 1-29 2-2 1-81 2 91 1-19 2-28 1-83 2 91 1-68 2 29 1-29 2 9 1-104 2 74 1-89 2 80 1-21 2 22 1-75 1 146 2-70 1 25 2-56 1 90 2-50 1 26 2-45 1 32 2-71 1 59 2-74 1 106 2-54 1 47 2-33 1 20 2 13 1 34 2-50 1 28 2-24 1 89 2-69 1 77 2-49 1 53 2-91 1 41 2-25 1 43 2-16 1 76 2-94 1 17 2 24 1-50 2 80 1-1 2-18 1 33 2-57 1 7 1-53 2 68 1-58 2 66 1-20 2 14 1-30 2 47 1-29 2 56 1-89 2-14 1-64 2 71 1-18 2 4 1-68 2 130 1-99 2 60 1-41 2 41 1-40 2 17 1 54 2-52 1 21 2-53 1 64 2 7 1-51 2 27 1-19 2 7 1-47 2 47 1-26 2-2 1-13 2 19 1 5 1-14 2 25 1 5 2-48 1-39 2 4 1 59 2-3 1-49 2-3 1 30 2-12 1-14 2 10 1-3 2 24 1 48 2-22 1 22 2-105 1 31 2 13 1-10 2-37 1 100 2-84 1 46 2-57 1 26 2 24 1 55 2-139 1 146 2-98 1 55 2-18 1 7 2 12 1 18 2-57 1 45 2-40 1 31 1-32 2 52 1-58 2 63 1 29 2 30 1-86 2 105 1-38 2 60 1-25 2 21 1-96 2 118 1-15 2 27 1-54 2 33 1 38 2-2 1-79 2 89 1-18 2-8 1-19 2 20 1-18 2 64 1-108 2 94 1-27 2 21 1-122 2 106 1 2 2 39 1-27 2 22 1-43 2 25 1-39 1 49 2 8 1 16 2-71 1 65 2 14 1-1 2-54 1 54 2-78 1 57 2 7 1 22 2-31 1 114 2-184 1 60 2 19 1 10 2 21 1-54 2-62 1 15 2 5 1 66 2 4 1 34 2-62 1 65 2-81 1 42 2-10 1 52 2-38 1 71 2-70 1 42 2-31 1 51 2-65 1 25 1-11 2-4 1-4 2 0 1-22 2 43 1-77 2 78 1-41 2 43 1-7 2-51 1-8 2 64 1-18 2 4 1 13 2-64 1 41 2 13 1-62 2 28 1-4 2 59 1-54 2 46 1-13 2-11 1 12 2 46 1-11 2-50 1 6 2 19 1-12 2 42 1 8 2-48 1-25 2 86 1-41 2 10 1-36 1 54 2-92 1 118 2-45 1 45 2-40 1 4 2 36 1 25 2-38 1 22 2-14 1 46 2-52 1 49 2-24 1-14 2-23 1 89 2-63 1 43 2-98 1 22 2 1 1 64 2 1 1 8 2 5 1 36 2-34 1 14 2-42 1 66 2-19 1 38 2 16 1 26 2-51 1 48 2-27 1 20 1-33 2 43 1-3 2-21 1-9 2 66 1-103 2 62 1 0 2 106 1-145 2 59 1-31 2 44 1-70 2 46 1-3 2 17 1-57 2 28 1-84 2 123 1 7 2-9 1-57 2 40 1-47 2 70 1-39 2-21 1 0 2 52 1-94 2 58 1-15 2 63 1-54 2 13 1-51 2 39 1-75 2 51 1-28 1 97 2-119 1-49 2 60 1-49 2 6 1-8 2 45 1 58 2-47 1 6 2-21 1 16 2 25 1-47 2-18 1 53 2-34 1 15 2-50 1 64 2-43 1 6 2-7 1 74 2-6 1-30 2-71 1 36 2-3 1-23 2-12 1 39 2-58 1 95 2-96 1 36 2-65 1 63 2-51 1 127 1-55 2 55 1-88 2 47 1 1 2-50 1-65 2 104 1-8 2 60 1-140 2 38 1-56 2 104 1-71 2 47 1 8 2-35 1-33 2 12 1-23 2 59 1-84 2 67 1-96 2 74 1-40 2 18 1-5 2 60 1-43 2 19 1-34 2 148 1-103 2 5 1-23 2 28 1-27 2 31 1-66 1 32 2-3 1 63 2 3 1-25 2-1 1 45 2-123 1 100 2-64 1 20 2-50 1 87 2-106 1 86 2 2 1 39 2-112 1 15 2-53 1 75 2-44 1 32 2-12 1 4 2 11 1-3 2-20 1 39 2-60 1 0 2 16 1 24 2-48 1 63 2-102 1 61 2-61 1 28 2-42 1 65 2-67 1 80 1-128 2 68 1 5 2 39 1-23 2 25 1 18 2-4 1-82 2 14 1-54 2 55 1 41 2-32 1-41 2 81 1-110 2 124 1-64 2 9 1-3 2-7 1-13 2 10 1-58 2 62 1-4 2 37 1-68 2-9 1 16 2 28 1-28 2 64 1-7 2-1 1-5 2 2 1-60 2 86 1-20 1-43 2 6 1 47 2-35 1 36 2-87 1 74 2-10 1 8 2 5 1-46 2-22 1 106 2-96 1 80 2-86 1 2 2 0 1 15 2 20 1-22 2 13 1-4 2-25 1 26 2-73 1 97 2-105 1 103 2-95 1 0 2-13 1 34 2-13 1 48 2-63 1 21 2-35 1 15 2-11 1 7 2-8 1 2 1-14 2 94 1-71 2 85 1-56 2 38 1-82 2 28 1-29 2 31 1-6 2 60 1-47 2 6 1-51 2 66 1-4 2 36 1-39 2 14 1-84 2 93 1-134 2 128 1-34 2 68 1-81 2 51 1-60 2-13 1 44 2 5 1-42 2 120 1-14 2-8 1-92 2 68 1-85 2 23 1 36 1-47 2-9 1 26 2-7 1 22 2-62 1 44 2-49 1 29 2-15 1-9 2-7 1 46 2-46 1 38 2-18 1 16 2-33 1 8 2-4 1 84 2-91 1 37 2-5 1 27 2-46 1 100 2-87 1 49 2-92 1 63 2-24 1 50 2-86 1 20 2 5 1 33 2-36 1-25 2-31 1 78 1-91 2 69 1-42 2 43 1-27 2-5 1-43 2 14 1-36 2 58 1-47 2 72 1-76 2 63 1-10 2 24 1-22 2 7 1-67 2 91 1-100 2 111 1-57 2 29 1-34 2 49 1-48 2-4 1-71 2 85 1-60 2 69 1-43 2 108 1-162 2 108 1-121 2 134 1-45 2 19 1-51 2 91 1-106 1 87 2-130 1 138 2-82 1 30 2-58 1 41 2 15 1 50 2-83 1 0 2 18 1 25 2-47 1 13 2 13 1 26 2-24 1 47 2-36 1 44 2-40 1 66 2-60 1 81 2-8 1 50 2-111 1 83 2-40 1 114 2-83 1 14 2-81 1 73 2-59 1 77 2-133 1 128 2-66 1 76 1-4 2 32 1-120 2 85 1-17 2 86 1-79 2 89 1-56 2 73 1-81 2 1 1 59 2 66 1-59 2 4 1-19 2 30 1-18 2 53 1-69 2 13 1-16 2 9 1-32 2-6 1 52 2-1 1-32 2 14 1 11 2 19 1-29 2 27 1-4 2 28 1-54 2 49 1-42 2 65 1-76 2 47 1-16 1 22 2-64 1 31 2-19 1 33 2-71 1 57 2-70 1 77 2 1 1-12 2 8 1 21 2-57 1 39 2-6 1 68 2-32 1 63 2-39 1 42 2-104 1 96 2-91 1 62 2-34 1 72 2-79 1 48 2-29 1-2 2 13 1 94 2-53 1-7 2-44 1 63 2-8 1-27 2-31 1 138 1-69 2 40 1-13 2-3 1-21 2 55 1-34 2 19 1-63 2 70 1-27 2 17 1-10 2-3 1-29 2 72 1-17 2 36 1-62 2 37 1-51 2 46 1-68 2 91 1-27 2-14 1-62 2 67 1-68 2 69 1 13 2 40 1-37 2 8 1 29 2-34 1 21 2 30 1-86 2 58 1-49 1 3 2 3 1 3 2-72 1 39 2-52 1 15 2 51 1-34 2-70 1 66 2-1 1 15 2-30 1 13 2-86 1 89 2-54 1 83 2-121 1 37 2 8 1 17 2 7 1 18 2-23 1 42 2-36 1 18 2-12 1 18 2 10 1-57 2 60 1 9 2-54 1 53 2-28 1-9 2-47 1 29 2-76 1 162 1-119 2 24 1-58 2 36 1-30 2 27 1 22 2-38 1 16 2 38 1-26 2-5 1 15 2-6 1 27 2-28 1 91 2-38 1-8 2 16 1-97 2 59 1 0 2 44 1-26 2-10 1 18 2 23 1-66 2 75 1-60 2 65 1-15 2-7 1-58 2-22 1 8 2 21 1-41 1 10"/>
<path class="s" stroke="#fa7c17" d="M82 457l2 23 1-15 2 73 1-33 2 15 1-29 2 73 1-77 2 19 1-25 1 46 2-36 1 18 2-49 1 44 2-7 1 15 2-55 1 80 2-38 1 36 2-20 1-1 2-7 1 83 2-68 1 35 2-2 1 97 2-104 1 60 2-100 1 98 2-89 1 70 2-58 1 30 2-7 1 11 2-9 1 20 2 1 1 26 2-8 1-27 2 27 1-6 2-32 1 31 2-69 1 44 1-53 2 72 1 1 2-8 1-42 2 23 1 2 2 5 1-67 2 78 1 6 2-35 1 23 2 5 1-41 2 80 1-96 2 52 1 45 2-69 1-68 2 139 1-71 2 49 1-30 2 121 1-113 2 88 1-5 2 30 1-66 2 25 1-63 2 116 1-70 2 14 1 6 2 35 1-54 2 84 1-105 1 56 2-40 1 76 2-86 1 14 2 0 1 34 2-73 1 82 2-71 1 35 2-13 1-11 2 26 1 15 2-72 1-29 2 24 1 30 2-26 1 23 2-38 1 44 2-43 1 40 2-25 1 12 2-25 1 39 2 6 1 26 2-4 1 4 2 22 1-42 2 10 1-45 2 23 1 1 2-7 1 2 2-57 1 57 1-88 2 124 1-81 2 14 1-47 2 64 1-59 2 46 1-26 2 47 1-61 2 44 1-26 2-16 1-39 2 95 1-20 2 6 1-21 2 29 1 14 2 8 1-15 2 12 1-39 2 61 1-31 2-57 1 71 2 9 1-16 2 35 1-32 2 47 1-49 2 27 1-67 2 6 1-19 2 91 1-113 1 59 2-56 1 58 2-78 1 102 2-117 1 91 2-22 1-1 2 32 1 9 2-100 1 38 2 53 1 8 2-42 1 11 2-28 1 58 2-1 1-31 2-82 1 93 2-38 1 53 2-21 1 16 2-24 1 15 2 22 1 34 2-68 1 50 2-42 1 31 2-9 1-11 2-36 1 44 2-40 1 35 2-3 1 56 1-81 2-9 1-13 2 88 1-106 2 108 1-94 2 47 1-14 2 18 1-13 2 8 1-19 2 36 1-88 2 52 1-12 2-14 1-6 2 23 1-14 2 52 1-96 2 56 1-31 2 62 1 49 2-37 1 16 2 26 1-39 2 40 1-20 2 50 1 20 2 26 1-6 2 1 1-82 2 72 1-34 1-1 2-19 1 49 2 0 1 8 2-24 1-17 2 21 1 55 2-87 1 63 2-63 1 25 2 22 1-10 2-75 1 81 2 8 1 89 2-82 1-13 2 64 1 5 2-88 1 56 2 7 1 12 2-11 1 5 2-30 1 41 2-12 1 5 2-29 1-10 2 48 1 3 2-75 1 46 2-14 1 6 2-16 1 65 1-62 2 16 1-2 2 19 1-66 2 62 1-47 2-21 1 52 2-50 1 18 2-26 1 25 2 25 1-24 2 36 1-14 2-21 1-15 2 38 1 4 2-34 1 17 2 16 1-66 2 63 1-23 2 32 1-7 2 82 1-114 2 115 1-44 2-8 1-9 2-25 1 8 2 55 1-96 2 41 1 36 1-13 2-9 1-57 2 47 1 8 2-61 1 86 2-35 1 36 2-74 1 30 2-66 1 53 2-77 1 56 2 2 1 2 2 20 1 32 2-104 1 54 2-29 1 89 2-111 1 62 2-16 1-19 2-48 1 78 2-104 1 36 2 7 1 30 2-98 1 85 2-18 1 22 2-33 1 83 2-72 1 73 1-73 2 46 1-50 2 79 1-57 2 92 1-94 2 111 1-103 2-23 1-15 2 58 1 32 2-50 1-25 2 51 1-81 2 30 1-22 2 47 1 11 2 40 1-53 2 64 1-12 2-28 1-4 2 47 1-90 2 44 1-2 2 7 1-47 2 28 1 0 2 18 1-16 2 19 1-30 2 52 1-31 2 2 1 14 1-9 2 38 1 11 2-14 1-6 2-14 1 45 2-13 1 15 2 12 1 14 2-81 1 74 2-64 1 97 2-84 1 87 2-45 1 2 2-23 1 70 2-50 1 5 2 51 1 9 2-79 1 127 2-53 1-46 2 26 1 11 2 8 1-3 2-48 1 46 2-20 1-15 2-25 1 45 2-2 1 1 1 31 2-21 1 11 2 55 1-66 2-21 1-7 2 13 1-2 2 49 1-83 2 49 1-12 2-29 1-61 2 51 1 25 2 30 1-50 2 49 1-26 2 21 1-48 2 37 1-9 2 7 1-30 2 32 1-49 2 47 1 1 2-4 1 10 2 28 1 3 2 22 1-80 2 41 1-44 2 74 1-51 2-1 1-24 1 28 2-10 1 15 2-30 1 76 2-64 1 11 2 16 1-3 2-57 1 63 2-101 1 67 2-13 1 15 2 40 1 14 2-85 1 39 2-17 1 37 2 5 1 4 2-77 1 9 2-9 1 41 2-43 1 82 2-75 1 25 2 34 1-27 2-22 1 6 2-25 1 67 2-46 1-6 2-35 1 52 1-32 2 89 1-55 2 39 1-30 2 21 1 37 2-8 1-55 2 55 1-60 2 68 1-30 2 65 1-52 2-10 1 15 2 36 1-75 2 2 1-19 2 25 1-14 2 6 1 33 2-43 1-38 2 49 1-48 2 95 1-48 2-31 1-32 2 87 1-36 2-20 1-1 2 56 1-7 2-2 1-32 1 62 2-43 1 65 2-86 1 5 2-33 1 8 2 19 1 52 2-89 1 13 2 0 1-18 2 35 1-36 2-46 1 89 2 25 1-29 2-45 1 24 2-61 1 60 2-44 1 28 2-29 1 42 2-58 1 38 2-71 1 40 2 11 1 37 2-61 1 22 2 2 1 39 2-42 1 26 2-41 1 38 2-34 1 7 1 39 2-12 1 25 2 9 1-49 2 28 1-11 2 58 1-71 2-14 1-50 2 56 1-7 2 15 1 28 2-14 1-30 2 10 1-75 2 52 1-18 2 28 1-48 2 103 1-46 2 34 1-116 2 43 1 17 2 35 1-44 2 44 1-89 2 27 1-45 2 34 1-68 2 84 1-47 2 89 1-49 1 2 2-18 1 14 2 22 1-6 2-22 1-17 2-41 1 47 2-26 1-5 2 12 1 80 2-68 1 27 2-22 1 45 2-67 1 69 2-42 1 46 2-45 1 44 2 10 1-38 2-38 1 80 2-41 1 25 2-66 1 113 2-132 1 105 2-20 1 17 2-27 1-6 2-11 1 17 2-15 1-8 2 37 1 41 1-33 2 42 1-68 2 41 1-60 2 42 1 16 2-11 1 34 2 37 1-64 2 18 1-43 2 50 1-37 2 16 1-45 2 66 1-17 2 34 1-52 2 15 1-38 2 59 1-29 2 45 1-27 2-17 1-12 2 34 1-20 2 36 1-78 2 24 1-32 2 50 1-15 2 6 1-2 2 29 1 3 1-11 2-14 1 23 2-49 1 26 2-5 1 2 2-21 1 26 2-20 1 19 2-11 1 61 2-50 1 20 2-33 1 86 2-41 1 19 2-50 1 48 2-9 1 3 2-29 1 33 2-47 1 26 2 10 1 21 2-51 1 49 2-26 1-4 2-1 1 58 2-32 1 20 2-47 1 70 2-43 1 23 1-52 2-1 1-3 2 22 1-31 2 59 1-14 2 71 1-50 2 79 1-65 2 15 1-52 2 43 1 2 2 20 1-51 2 67 1-57 2 43 1-5 2 10 1-36 2 27 1-26 2 26 1-29 2 111 1-58 2 30 1-57 2 21 1 9 2-31 1-2 2 11 1 2 2-4 1-22 2 90 1-91 2 23 1-43 1 62 2-14 1-18 2-21 1 15 2-13 1 34 2-25 1 27 2-47 1 44 2-40 1 45 2-23 1 28 2-91 1 4 2 65 1-8 2-50 1 62 2-27 1-34 2 18 1-19 2-9 1 22 2-44 1 26 2 17 1-39 2-40 1 51 2 29 1 4 2-27 1 21 2-33 1 56 2-75 1 76 1-57 2 20 1-11 2 42 1-6 2 68 1-51 2 32 1-53 2 21 1-94 2 127 1-87 2 38 1-105 2 135 1-76 2 60 1 1 2-22 1 14 2 21 1-73 2 83 1-60 2 73 1-85 2 79 1-88 2 18 1 0 2 53 1-28 2 12 1-38 2 92 1-50 2 23 1-48 2 55 1 19 2 14 1-85 1 52 2-3 1-28 2 23 1-9 2-11 1 5 2-33 1 31 2-19 1 75 2-87 1 72 2-85 1 26 2 8 1 22 2 14 1-37 2 29 1-6 2 9 1 32 2-19 1-37 2 7 1 15 2-7 1 8 2-61 1 83 2 37 1-20 2-21 1 13 2-3 1 93 2-118 1 62 2-34 1 42 1-9 2 30 1-45 2 50 1-53 2 21 1-59 2 66 1-27 2 31 1-61 2 74 1-48 2 122 1-126 2 41 1 30 2 35 1-33 2-1 1-12 2 63 1-16 2 17 1-36 2 72 1-61 2 41 1-24 2 23 1-51 2 42 1-30 2 34 1-42 2 42 1-26 2-42 1 6 2 30 1-25 1 5 2-19 1 0 2-29 1-1 2-7 1 16 2-47 1 97 2-73 1 34 2-9 1 9 2-81 1 59 2-22 1 51 2-22 1-49 2 6 1 11 2-36 1 27 2 62 1 16 2-65 1 13 2 19 1-11 2-3 1-4 2-19 1 24 2 5 1-20 2 27 1 23 2-58 1 42 2-40 1 53 2-65 1 23 1 21 2 43 1-63 2 43 1-33 2 36 1 15 2 50 1-36 2 16 1 0 2-12 1-11 2 47 1 29 2 21 1-41 2 16 1-66 2 25 1 23 2-7 1-9 2 8 1-74 2 135 1-85 2 0 1-3 2 23 1 24 2-12 1-47 2 28 1-30 2 16 1 3 2 38 1-65 1 28"/>
<path class="s" stroke="#328c06" d="M82 834l2 6 1-6 2 22 1-108 2 130 1-61 2 34 1-18 2 1 1-21 1 51 2-51 1 79 2-27 1 5 2 17 1 17 2-14 1-25 2 38 1 39 2-33 1 7 2-55 1 18 2 32 1 53 2-73 1 62 2-54 1 86 2-51 1 35 2-18 1 7 2-26 1 36 2-13 1 6 2-28 1 36 2-58 1 75 2-41 1 59 2-46 1 39 2-42 1 19 2-1 1-13 1 25 2-12 1 17 2 46 1-52 2 31 1-38 2 32 1-17 2 84 1-60 2 25 1-78 2 68 1-78 2 69 1-21 2 17 1-2 2 4 1-14 2 37 1-28 2 45 1-52 2 56 1-76 2 40 1-8 2 46 1-82 2 26 1 5 2 19 1-80 2 95 1-46 2 52 1-83 2 26 1 13 1 16 2-6 1 36 2-35 1 28 2-37 1 32 2-9 1 21 2-13 1-7 2-23 1 37 2-14 1-2 2-4 1-4 2 19 1 2 2-31 1 31 2-28 1 24 2-52 1 23 2-24 1-14 2 45 1 16 2-32 1-13 2 4 1 60 2-69 1 13 2 10 1 4 2-21 1 47 2 5 1-7 2 1 1 0 1 18 2 7 1-66 2 2 1 10 2 26 1-13 2 17 1 11 2-28 1-48 2 84 1-86 2 89 1-40 2 7 1-60 2 81 1-23 2 18 1-49 2 48 1-82 2 62 1-49 2 58 1-3 2-57 1 8 2 50 1-28 2 4 1-16 2 57 1-28 2 37 1-26 2 25 1-1 2-12 1 27 1-9 2 4 1 8 2-41 1 31 2 24 1-13 2-38 1 35 2 2 1-1 2-41 1 46 2-20 1 13 2 17 1 15 2-40 1 30 2 40 1-22 2-42 1-13 2-4 1 19 2 4 1 18 2-86 1 46 2 0 1 9 2-40 1 19 2-28 1 31 2-34 1 29 2 0 1-3 2-23 1 32 2-6 1 49 1-75 2 14 1 5 2 35 1-74 2 41 1-49 2-1 1-5 2 11 1 17 2 16 1-26 2 33 1-27 2 28 1-32 2 79 1-34 2 2 1-33 2 35 1-28 2 9 1-32 2 13 1-37 2-14 1 82 2 31 1-101 2 62 1-46 2 29 1 17 2-1 1-28 2 8 1-50 2 105 1-79 1 16 2 12 1 32 2-2 1 37 2-24 1 20 2-13 1 33 2-46 1 26 2-12 1 72 2-60 1 48 2-78 1 68 2-54 1 94 2-92 1 84 2-65 1 36 2-21 1 36 2-75 1 89 2-14 1-10 2-47 1 59 2-32 1 36 2-35 1 54 2-24 1 3 2-35 1 46 2-56 1 25 2 11 1-5 1-44 2 40 1-1 2-19 1-30 2 48 1-57 2 77 1-10 2-22 1-12 2 2 1-11 2 10 1 24 2-30 1-11 2 35 1-33 2 29 1-32 2 58 1-31 2 32 1-7 2-5 1-30 2 39 1 9 2 18 1-122 2 87 1-51 2 68 1-77 2 69 1-73 2 57 1-28 2-12 1-9 1 22 2-23 1 41 2-33 1 31 2-11 1-19 2 17 1 11 2-45 1 29 2-20 1 66 2-68 1 56 2-63 1 22 2-37 1 64 2-24 1 9 2-50 1 23 2 17 1-22 2 19 1-17 2-7 1 77 2-88 1 51 2-38 1 75 2-59 1 19 2-33 1 32 2-68 1 73 2-39 1 48 1-79 2 51 1-53 2 36 1-77 2 83 1-4 2-32 1 0 2-23 1 25 2 37 1-54 2 28 1-3 2 37 1-17 2-31 1 29 2-28 1 6 2 52 1-58 2 23 1-17 2 4 1-64 2 74 1-19 2-21 1 25 2-2 1 5 2-20 1 41 2-7 1-45 2 69 1-14 2 1 1-45 2-14 1-1 1 94 2-76 1 11 2-11 1-4 2 26 1-41 2 30 1 40 2-56 1 60 2-1 1-8 2-25 1 55 2-38 1 58 2-48 1 9 2-63 1 68 2-15 1 8 2-58 1 47 2-39 1 15 2-10 1-11 2 43 1-6 2-12 1 13 2-28 1 32 2-52 1 14 2 19 1 18 2-36 1 17 1-2 2 40 1-39 2 49 1-51 2 41 1-39 2 71 1-58 2-21 1-34 2 32 1 15 2 7 1-63 2 57 1-33 2 26 1-17 2-6 1-30 2 46 1-38 2 52 1-39 2 15 1-32 2 37 1-52 2 73 1-64 2 67 1-62 2 80 1-45 2 45 1-36 2-31 1-16 2 25 1-53 2 34 1-56 1 42 2-37 1 53 2-72 1 28 2-36 1 38 2-29 1 31 2-2 1-18 2-40 1 68 2-37 1 43 2-39 1-6 2-54 1 48 2-48 1 32 2-36 1 83 2-65 1 45 2-72 1 42 2-27 1 68 2-61 1 17 2-12 1 10 2-93 1 148 2-80 1 63 2-32 1-8 2 18 1 8 1 11 2-32 1 14 2 41 1-29 2-21 1-1 2 29 1-54 2 96 1-83 2 37 1-46 2-2 1-40 2 7 1 31 2-1 1 16 2-20 1-34 2 44 1-13 2 23 1-43 2 25 1-36 2 36 1-43 2 21 1 22 2 14 1-104 2 60 1-23 2 28 1-57 2 65 1-47 2 51 1-68 1 103 2-47 1 6 2 12 1 6 2 0 1 23 2-36 1 8 2 27 1 29 2-75 1 45 2-7 1-19 2 14 1 44 2-24 1-5 2 46 1-30 2-13 1-2 2-51 1 48 2 13 1 11 2 17 1-54 2-10 1 41 2-15 1 17 2-48 1 56 2-50 1-13 2-1 1 66 2-70 1 57 2-58 1 18 1-31 2 39 1-28 2 24 1-13 2 3 1-13 2 46 1-35 2 45 1-62 2 51 1-36 2 26 1-78 2 47 1-41 2 34 1-39 2 42 1-21 2 50 1-74 2 29 1 6 2-2 1-9 2 40 1-48 2 29 1-69 2 42 1-62 2 92 1-44 2 6 1-18 2 20 1-37 2 17 1-11 1 22 2-85 1 94 2-44 1 45 2-37 1 22 2-52 1 13 2 24 1 52 2-115 1 34 2-10 1 51 2-20 1 19 2-12 1-20 2-33 1 58 2-32 1 6 2-53 1 76 2 16 1-8 2-69 1 99 2-49 1 0 2 5 1 33 2-55 1 61 2-89 1 78 2-12 1 9 2-5 1 56 2-50 1-3 1-30 2 103 1-88 2 24 1 46 2 2 1-2 2 15 1-48 2 65 1-25 2 5 1 1 2-50 1 65 2 14 1-30 2 31 1 18 2-57 1 12 2-11 1-49 2 37 1-42 2 55 1-49 2 36 1-1 2 45 1-67 2 28 1-21 2 78 1-60 2 83 1-79 2 25 1-16 2 0 1-55 1 55 2-38 1 40 2-39 1 74 2-50 1 4 2-19 1 13 2-4 1 24 2-6 1 17 2-44 1 95 2-92 1 12 2-59 1 94 2-72 1 27 2-14 1 51 2-41 1 43 2-53 1 9 2-17 1-1 2 22 1-25 2 23 1 23 2-62 1 70 2-41 1-4 2-19 1 40 2-12 1 27 1-91 2 11 1-21 2 35 1-12 2 57 1-59 2 52 1-66 2 18 1-16 2 18 1-43 2 97 1-76 2 39 1-46 2 49 1-57 2 15 1 12 2-32 1 49 2 20 1-55 2 69 1-47 2 36 1-50 2 32 1-41 2 53 1-52 2 49 1-17 2 57 1-50 2 55 1-94 2 21 1-5 2 28 1-19 1 2 2-31 1 38 2-5 1 55 2-52 1 16 2-63 1 44 2-29 1 55 2-19 1-9 2-37 1 24 2-47 1 48 2 18 1-25 2-36 1 34 2-51 1 55 2-20 1-29 2 39 1 32 2-94 1 109 2-77 1 17 2-9 1 6 2 24 1 1 2-38 1 47 2-56 1 67 2-100 1 31 1 22 2-36 1-23 2 77 1-50 2 23 1-25 2 39 1-40 2 45 1 5 2 15 1-39 2 33 1 10 2-12 1-20 2 16 1-14 2 46 1-5 2-48 1 5 2 24 1-48 2 31 1-48 2 44 1-52 2 54 1-44 2 59 1-51 2 70 1-44 2 46 1-63 2 62 1-81 2 70 1-84 2 45 1-64 1 68 2-37 1 48 2-14 1 17 2-59 1 42 2-73 1 60 2 21 1-2 2-74 1 43 2-56 1 79 2-52 1 1 2 15 1 34 2-30 1 21 2-18 1 0 2 22 1-27 2 38 1-33 2 21 1 20 2-18 1 19 2-34 1 8 2 3 1 57 2-21 1-46 2-28 1 67 2-12 1 9 1-46 2 55 1-90 2 36 1-56 2 58 1-56 2 33 1 21 2 36 1-86 2 52 1-30 2 60 1-63 2 63 1-76 2 27 1-35 2 54 1-18 2 34 1-60 2 31 1-7 2 30 1-32 2 27 1-19 2 64 1-16 2-1 1 12 2 35 1-33 2 76 1-73 2 24 1-58 2 56 1 31 1 8 2-80 1 54 2-51 1-2 2 3 1 34 2-64 1 35 2-35 1 52 2-30 1 20 2-7 1-24 2-34 1 11 2 1 1 44 2 32 1-18 2-9 1 13 2-34 1 17 2 8 1-17 2 21 1-4 2-58 1 57 2-49 1 35 2-17 1 14 2-52 1 101 2-56 1 31 2-32 1-19 2-27 1 84 1-64 2 68 1-37 2 25 1 14 2 25 1-63 2 4 1 2 2-6 1-34 2 99 1-44 2-13 1 25 2 11 1-26 2-3 1 40 2-36 1-82 2 94 1-58 2 88 1-93 2 55 1-13 2 55 1-61 2 30 1-20 2 37 1-72 2 87 1-69 2 41 1-2 2 10 1-71 1 53"/>
<path class="s" stroke="#c10c90" d="M82 481l2 66 1-35 2 11 1 17 2-5 1 36 2-38 1 1 2 57 1-36 1 37 2-73 1 50 2-46 1 22 2 30 1-87 2 26 1 23 2-22 1 42 2-4 1-3 2-43 1 46 2 8 1 20 2-86 1 73 2-35 1 41 2-47 1 2 2 11 1-20 2-24 1 22 2 3 1-29 2 2 1 44 2 8 1 23 2-47 1 54 2-71 1 10 2-26 1 65 2-83 1 34 1-41 2 81 1-42 2 18 1-19 2 31 1-11 2 4 1-28 2 26 1-9 2 23 1-44 2 25 1 43 2-45 1-1 2 40 1-84 2 73 1-61 2 29 1-48 2 51 1-9 2 29 1-30 2 41 1-25 2 31 1-27 2 48 1-61 2 81 1-97 2 44 1-16 2 31 1-77 2 112 1-14 1 10 2-67 1 57 2-62 1 29 2-21 1-47 2 24 1 49 2-34 1 2 2-32 1 56 2 12 1 9 2-77 1 46 2 1 1-5 2 57 1-33 2 3 1 34 2-74 1 90 2-93 1 27 2 11 1-6 2-25 1-19 2 5 1 39 2-18 1 67 2-82 1 30 2-32 1 29 2-33 1 46 2-27 1-17 1-2 2-2 1 16 2 22 1 0 2 18 1-103 2 69 1-25 2 65 1-51 2 38 1-22 2 45 1-54 2 12 1-42 2 92 1-77 2 74 1-56 2 11 1-26 2 53 1-49 2 2 1 16 2 8 1-2 2 34 1-121 2 143 1-70 2 61 1-71 2 37 1-73 2 110 1-71 2-30 1 8 1 11 2-27 1 21 2-34 1 23 2 48 1-48 2-28 1 33 2-74 1 101 2-69 1 85 2-84 1 57 2-61 1 29 2 50 1 16 2-62 1 19 2-105 1 112 2-108 1 110 2-15 1-17 2-21 1 36 2-23 1 57 2-96 1 82 2-26 1 2 2-43 1 73 2-39 1 20 2-22 1 14 2-34 1-3 1-1 2-14 1 7 2-6 1-27 2 23 1-15 2 21 1-61 2 132 1-83 2 16 1-56 2 64 1 18 2-7 1 13 2 20 1-112 2 126 1-79 2 24 1-60 2 32 1 13 2 35 1-21 2 7 1-49 2 36 1-27 2 31 1-70 2 116 1-71 2 117 1-71 2 0 1-32 2 24 1 4 1 3 2-19 1 95 2-137 1 95 2-94 1 53 2-18 1 26 2-23 1-24 2 9 1 89 2-79 1 50 2-73 1 49 2-6 1 18 2-39 1 56 2-23 1 27 2-97 1 79 2-27 1 23 2-18 1-4 2-13 1 13 2 49 1-47 2-49 1 90 2-70 1 15 2-27 1 36 2-67 1 124 2-78 1 25 1 6 2 49 1-66 2 34 1-121 2 59 1-8 2 5 1 24 2 17 1-52 2-11 1-20 2 22 1 16 2 13 1-50 2 50 1-15 2 15 1-75 2 99 1-70 2 64 1-51 2 20 1 15 2-2 1-30 2 68 1-87 2 0 1 45 2-10 1-21 2 8 1-15 2 18 1-12 2 44 1-46 1 80 2-77 1-39 2 28 1 46 2-44 1 68 2-78 1 68 2-19 1-12 2-54 1 99 2-44 1 18 2-25 1 7 2-54 1 59 2-34 1 43 2-62 1 20 2-6 1 25 2-35 1 18 2-41 1 41 2 58 1-48 2-17 1 1 2-66 1 51 2 32 1-51 2 9 1-14 2 7 1 61 1-46 2 6 1-20 2 56 1-69 2 53 1-3 2 18 1-78 2 35 1 18 2-36 1-24 2 95 1-33 2-11 1-46 2 80 1-65 2 75 1-113 2 81 1 11 2-4 1-34 2 9 1 27 2 88 1-95 2 67 1-59 2 82 1-141 2 72 1-56 2 108 1-52 2 13 1-45 2 52 1-56 2 85 1-20 1 30 2-120 1 135 2-20 1 7 2-11 1 11 2-13 1-28 2-10 1 25 2-31 1 76 2-119 1 119 2-120 1 56 2-74 1 134 2-81 1 18 2-26 1 54 2-23 1 3 2-27 1 62 2-62 1 49 2-35 1-1 2-35 1 8 2 19 1 27 2-11 1 41 2-126 1 73 2-61 1 70 1-55 2 81 1-75 2 78 1-70 2 51 1-53 2 19 1-9 2 51 1-13 2 17 1-2 2-21 1 7 2 12 1-1 2 46 1-20 2-34 1 9 2-12 1-22 2 21 1 20 2-22 1 40 2 29 1-7 2-47 1-45 2 79 1-77 2 69 1-65 2 63 1-70 2 104 1-116 2 10 1-23 2 30 1-49 1-3 2-42 1 86 2-11 1 22 2-9 1 47 2-72 1 99 2-104 1 50 2-22 1-8 2-17 1 69 2-81 1 90 2-65 1 19 2-18 1 50 2-74 1 52 2-93 1 123 2-58 1 2 2-45 1 129 2-37 1-3 2-53 1 46 2-12 1-14 2-28 1 12 2-30 1 70 2-54 1 14 1-20 2 85 1-34 2 55 1-99 2 152 1-20 2 11 1-66 2 57 1-37 2 59 1-34 2 37 1-61 2 129 1-36 2-32 1-20 2 73 1-38 2 12 1 17 2 53 1-87 2 83 1-47 2 3 1 5 2 18 1-15 2-12 1-12 2 20 1-16 2 17 1-24 2 13 1 0 2 51 1-107 1 42 2-80 1 64 2-13 1 7 2 0 1 23 2 34 1-34 2-23 1 32 2-88 1 67 2-58 1 82 2-97 1 67 2-83 1 52 2-49 1 44 2-24 1 15 2-4 1 1 2-61 1 63 2-43 1 65 2-19 1-8 2-32 1 28 2-27 1 90 2-91 1 25 2-37 1 82 2-9 1-22 2 28 1 14 1-29 2 71 1-81 2 69 1-69 2 99 1-21 2 24 1-59 2 99 1-51 2 16 1-29 2 52 1-30 2-2 1-1 2 66 1-60 2 33 1-9 2 4 1-28 2 22 1-51 2 78 1-63 2 32 1-47 2 27 1-45 2 87 1-20 2 23 1-47 2 18 1 15 2-10 1-24 2 75 1-55 1 42 2-19 1 15 2-14 1 7 2-13 1 66 2-77 1 45 2-35 1-26 2 9 1 53 2-18 1-51 2 30 1 18 2 25 1-51 2-31 1 101 2-58 1-8 2-7 1 21 2-43 1 5 2-20 1 52 2-52 1 59 2 4 1 24 2-26 1 9 2-46 1 51 2-17 1-3 2-2 1 21 2-49 1 85 1-58 2 30 1 5 2-25 1-9 2 23 1 1 2-6 1-40 2 46 1-20 2 46 1 1 2-9 1-10 2 30 1-54 2 81 1-58 2 8 1-21 2 36 1-2 2-15 1 47 2 34 1-71 2 69 1-64 2 64 1-12 2-19 1-5 2-5 1-6 2 11 1-22 2 58 1-25 2-5 1-16 1 9 2-44 1 24 2 31 1 12 2 10 1 0 2-17 1 16 2 27 1 14 2-31 1 26 2-37 1 35 2-51 1 30 2-44 1 26 2-52 1 49 2 19 1 3 2-59 1 72 2-71 1 53 2-33 1 59 2-78 1 64 2-16 1 0 2 3 1 15 2-19 1 5 2-4 1 25 2-10 1 49 1-38 2-15 1 25 2-67 1 17 2 70 1-73 2 3 1-39 2 72 1-95 2-1 1 54 2-5 1-75 2 51 1-81 2 65 1-74 2 51 1-40 2 13 1 24 2-11 1-33 2 13 1-43 2 74 1-44 2 45 1-49 2 100 1-67 2 70 1-71 2 48 1-19 2-16 1-39 2 73 1-6 2 37 1 25 1 28 2-80 1 54 2-29 1 9 2-43 1 26 2-20 1 55 2-62 1 54 2-77 1 54 2-77 1 124 2-127 1 32 2-38 1 91 2-23 1-24 2 50 1 20 2-20 1 9 2-2 1-35 2-18 1 53 2-101 1 149 2-97 1 66 2-115 1 47 2-29 1 22 2-84 1 34 2 37 1 92 1-116 2 50 1-37 2 2 1-40 2 59 1-58 2 43 1-48 2 70 1 7 2 24 1-71 2 69 1-13 2 85 1-81 2 46 1-19 2-17 1-21 2 75 1-39 2 31 1-38 2 10 1-19 2 55 1-75 2 74 1-34 2 38 1-64 2 49 1-64 2 47 1-67 2 66 1-44 2 58 1-30 2-7 1-39 1 123 2-111 1 71 2-79 1 52 2-90 1 57 2-34 1 20 2-44 1 29 2-1 1 60 2-26 1 37 2-82 1 87 2-70 1 33 2 13 1 0 2-64 1 35 2 11 1 11 2-22 1 75 2-42 1 2 2-62 1 77 2 30 1-4 2-74 1 54 2-30 1 11 2-36 1 59 2-50 1 31 1-13 2 26 1-7 2 5 1-24 2 8 1-14 2 48 1-72 2 23 1-4 2 8 1 7 2 21 1-13 2 8 1 7 2 2 1 1 2 31 1-59 2 42 1-8 2 41 1-72 2 29 1-57 2 65 1 12 2-5 1-29 2 30 1-40 2 49 1-93 2 32 1-36 2 71 1-67 2 52 1 16 1 1 2-31 1-4 2-33 1 27 2 17 1-46 2-23 1 100 2-68 1 25 2-31 1 16 2-28 1 34 2-65 1 5 2 3 1 29 2-20 1 53 2-45 1 30 2-26 1 44 2-3 1-13 2-30 1 17 2-14 1 25 2-35 1 22 2-29 1 79 2-39 1-5 2-10 1 66 2-59 1 47 2-65 1 97 1-74 2 85 1-122 2 87 1-33 2 73 1-57 2-7 1-8 2 38 1-53 2 49 1-75 2 88 1-53 2 67 1-82 2 60 1 3 2-19 1-21 2 16 1 15 2 26 1-25 2-10 1 13 2 11 1-49 2 15 1-95 2 112 1-48 2-62 1 42 2 29 1 26 2-49 1 1 1 41"/>
</g>
<path class="h" stroke="#2a2eec" d="M3423.61 2482.10h44.9"/>
<text class="t8" x="3486.34" y="2491.00">Venezuela</text>
<path class="h" stroke="#fa7c17" d="M3423.61 2516.08h44.9"/>
<text class="t8" x="3486.34" y="2524.98">Colombia</text>
<path class="h" stroke="#328c06" d="M3423.61 2550.06h44.9"/>
<text class="t8" x="3486.34" y="2558.96">Ecuador</text>
<path class="h" stroke="#c10c90" d="M3423.61 2584.04h44.9"/>
<text class="t8" x="3486.34" y="2592.94">Panama</text>
<text class="t10 m" x="3511.57" y="2436.15">West - Type D</text>
<text class="t8 e" x="3053.45" y="3009.29">700</text>
<text class="t8 e" x="3053.45" y="2888.10">800</text>
<text class="t8 e" x="3053.45" y="2766.91">900</text>
<text class="t8 e" x="3053.45" y="2645.73">1000</text>
<text class="t8 e" x="3053.45" y="2524.54">1100</text>
<text class="t8" transform="translate(3088.87 3125.10) rotate(-45)">2022</text>
<text class="t8" transform="translate(3224.65 3125.10) rotate(-45)">2023</text>
<text class="t8" transform="translate(3360.44 3125.10) rotate(-45)">2024</text>
<text class="t8" transform="translate(3496.59 3125.10) rotate(-45)">2025</text>
<text class="t8" transform="translate(3632.38 3125.10) rotate(-45)">2026</text>
<text class="t8" transform="translate(3768.16 3125.10) rotate(-45)">2027</text>
<text class="t8" transform="translate(3903.94 3125.10) rotate(-45)">2028</text>
</g>
</svg></body></html>
